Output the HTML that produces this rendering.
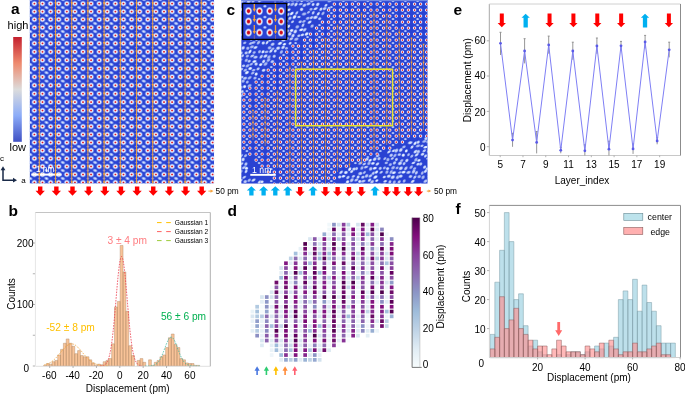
<!DOCTYPE html>
<html><head><meta charset="utf-8"><style>html,body{margin:0;padding:0;background:#fff;width:685px;height:394px;overflow:hidden}svg{display:block;will-change:transform}</style></head>
<body><svg width="685" height="394" viewBox="0 0 685 394" font-family="'Liberation Sans', sans-serif"><defs>
<radialGradient id="ga"><stop offset="0" stop-color="#d01828"/><stop offset="0.15" stop-color="#de3a40"/><stop offset="0.28" stop-color="#eeb8c4"/><stop offset="0.4" stop-color="#eaeefc"/><stop offset="0.54" stop-color="#b4c8f8"/><stop offset="0.72" stop-color="#7896ec" stop-opacity="0.6"/><stop offset="0.88" stop-color="#5070e0" stop-opacity="0.25"/><stop offset="1" stop-color="#2a40d0" stop-opacity="0"/></radialGradient>
<radialGradient id="gd"><stop offset="0" stop-color="#e4ecff"/><stop offset="0.45" stop-color="#a8c0fa" stop-opacity="0.85"/><stop offset="1" stop-color="#3050d8" stop-opacity="0"/></radialGradient>
<radialGradient id="gw"><stop offset="0" stop-color="#f4f6ff"/><stop offset="0.42" stop-color="#d4e0fe"/><stop offset="0.7" stop-color="#90acf4" stop-opacity="0.6"/><stop offset="1" stop-color="#3050d8" stop-opacity="0"/></radialGradient>
<radialGradient id="gc"><stop offset="0" stop-color="#d41424"/><stop offset="0.2" stop-color="#de3440"/><stop offset="0.36" stop-color="#f0b8c2"/><stop offset="0.5" stop-color="#e4ecfe"/><stop offset="0.66" stop-color="#92acf2" stop-opacity="0.75"/><stop offset="0.82" stop-color="#6a88ea" stop-opacity="0.25"/><stop offset="1" stop-color="#2a40d0" stop-opacity="0"/></radialGradient>
<radialGradient id="gi"><stop offset="0" stop-color="#c00818"/><stop offset="0.28" stop-color="#d41a28"/><stop offset="0.42" stop-color="#eea0aa"/><stop offset="0.55" stop-color="#eef0fa"/><stop offset="0.7" stop-color="#a8bef6"/><stop offset="0.86" stop-color="#6a88ea" stop-opacity="0.4"/><stop offset="1" stop-color="#2a40d0" stop-opacity="0"/></radialGradient>
<linearGradient id="cw" x1="0" y1="0" x2="0" y2="1"><stop offset="0" stop-color="#c4202e"/><stop offset="0.25" stop-color="#ee8a6e"/><stop offset="0.5" stop-color="#dcdcdc"/><stop offset="0.75" stop-color="#8cacf8"/><stop offset="1" stop-color="#3f50c4"/></linearGradient>
<linearGradient id="bupu" x1="0" y1="1" x2="0" y2="0"><stop offset="0" stop-color="#f7fcfd"/><stop offset="0.125" stop-color="#e0ecf4"/><stop offset="0.25" stop-color="#bfd3e6"/><stop offset="0.375" stop-color="#9ebcda"/><stop offset="0.5" stop-color="#8c96c6"/><stop offset="0.625" stop-color="#8c6bb1"/><stop offset="0.75" stop-color="#88419d"/><stop offset="0.875" stop-color="#810f7c"/><stop offset="1" stop-color="#4d004b"/></linearGradient>
<filter id="bl" x="-5%" y="-5%" width="110%" height="110%"><feGaussianBlur stdDeviation="0.3"/></filter>
<clipPath id="clipA"><rect x="29.7" y="0" width="184.4" height="183.6"/></clipPath>
<clipPath id="clipC"><rect x="241.2" y="0" width="186.5" height="183.7"/></clipPath>
</defs>
<rect width="685" height="394" fill="#fff"/>
<text x="11" y="14" font-size="15.5" fill="#000" font-weight="bold">a</text>
<text x="18" y="29" font-size="11" fill="#000" text-anchor="middle">high</text>
<rect x="13.2" y="37" width="8.6" height="104.8" fill="url(#cw)"/>
<text x="17.8" y="150.5" font-size="11" fill="#000" text-anchor="middle">low</text>
<text x="2" y="161" font-size="8" fill="#000" text-anchor="middle">c</text>
<path d="M3 168V180.2H15" fill="none" stroke="#1a2a48" stroke-width="1.5"/>
<path d="M3 166.3L0.6 170.3H5.4Z" fill="#1a2a48"/><path d="M17 180.2L13 177.8V182.6Z" fill="#1a2a48"/>
<text x="23.6" y="182.6" font-size="8" fill="#000" text-anchor="middle">a</text>
<g clip-path="url(#clipA)">
<rect x="29.7" y="0" width="184.4" height="183.6" fill="#2a42d2"/>
<ellipse cx="30.3" cy="-0.4" rx="3.4" ry="2.3" transform="rotate(18 30.3 -0.4)" fill="url(#gd)"/>
<ellipse cx="46.5" cy="-0.4" rx="3.4" ry="2.3" transform="rotate(18 46.5 -0.4)" fill="url(#gd)"/>
<ellipse cx="62.8" cy="-0.4" rx="3.4" ry="2.3" transform="rotate(18 62.8 -0.4)" fill="url(#gd)"/>
<ellipse cx="78.9" cy="-0.4" rx="3.4" ry="2.3" transform="rotate(18 78.9 -0.4)" fill="url(#gd)"/>
<ellipse cx="95.1" cy="-0.4" rx="3.4" ry="2.3" transform="rotate(18 95.1 -0.4)" fill="url(#gd)"/>
<ellipse cx="111.3" cy="-0.4" rx="3.4" ry="2.3" transform="rotate(18 111.3 -0.4)" fill="url(#gd)"/>
<ellipse cx="127.5" cy="-0.4" rx="3.4" ry="2.3" transform="rotate(18 127.5 -0.4)" fill="url(#gd)"/>
<ellipse cx="143.8" cy="-0.4" rx="3.4" ry="2.3" transform="rotate(18 143.8 -0.4)" fill="url(#gd)"/>
<ellipse cx="159.9" cy="-0.4" rx="3.4" ry="2.3" transform="rotate(18 159.9 -0.4)" fill="url(#gd)"/>
<ellipse cx="176.1" cy="-0.4" rx="3.4" ry="2.3" transform="rotate(18 176.1 -0.4)" fill="url(#gd)"/>
<ellipse cx="192.3" cy="-0.4" rx="3.4" ry="2.3" transform="rotate(18 192.3 -0.4)" fill="url(#gd)"/>
<ellipse cx="208.6" cy="-0.4" rx="3.4" ry="2.3" transform="rotate(18 208.6 -0.4)" fill="url(#gd)"/>
<ellipse cx="224.8" cy="-0.4" rx="3.4" ry="2.3" transform="rotate(18 224.8 -0.4)" fill="url(#gd)"/>
<ellipse cx="23.1" cy="-0.4" rx="2.4" ry="1.6" fill="url(#gd)" opacity="0.5"/>
<ellipse cx="39.3" cy="-0.4" rx="2.4" ry="1.6" fill="url(#gd)" opacity="0.5"/>
<ellipse cx="55.5" cy="-0.4" rx="2.4" ry="1.6" fill="url(#gd)" opacity="0.5"/>
<ellipse cx="71.7" cy="-0.4" rx="2.4" ry="1.6" fill="url(#gd)" opacity="0.5"/>
<ellipse cx="87.9" cy="-0.4" rx="2.4" ry="1.6" fill="url(#gd)" opacity="0.5"/>
<ellipse cx="104.1" cy="-0.4" rx="2.4" ry="1.6" fill="url(#gd)" opacity="0.5"/>
<ellipse cx="120.3" cy="-0.4" rx="2.4" ry="1.6" fill="url(#gd)" opacity="0.5"/>
<ellipse cx="136.5" cy="-0.4" rx="2.4" ry="1.6" fill="url(#gd)" opacity="0.5"/>
<ellipse cx="152.7" cy="-0.4" rx="2.4" ry="1.6" fill="url(#gd)" opacity="0.5"/>
<ellipse cx="168.9" cy="-0.4" rx="2.4" ry="1.6" fill="url(#gd)" opacity="0.5"/>
<ellipse cx="185.1" cy="-0.4" rx="2.4" ry="1.6" fill="url(#gd)" opacity="0.5"/>
<ellipse cx="201.3" cy="-0.4" rx="2.4" ry="1.6" fill="url(#gd)" opacity="0.5"/>
<ellipse cx="217.5" cy="-0.4" rx="2.4" ry="1.6" fill="url(#gd)" opacity="0.5"/>
<ellipse cx="30.3" cy="7.6" rx="3.4" ry="2.3" transform="rotate(18 30.3 7.6)" fill="url(#gd)"/>
<ellipse cx="46.5" cy="7.6" rx="3.4" ry="2.3" transform="rotate(18 46.5 7.6)" fill="url(#gd)"/>
<ellipse cx="62.8" cy="7.6" rx="3.4" ry="2.3" transform="rotate(18 62.8 7.6)" fill="url(#gd)"/>
<ellipse cx="78.9" cy="7.6" rx="3.4" ry="2.3" transform="rotate(18 78.9 7.6)" fill="url(#gd)"/>
<ellipse cx="95.1" cy="7.6" rx="3.4" ry="2.3" transform="rotate(18 95.1 7.6)" fill="url(#gd)"/>
<ellipse cx="111.3" cy="7.6" rx="3.4" ry="2.3" transform="rotate(18 111.3 7.6)" fill="url(#gd)"/>
<ellipse cx="127.5" cy="7.6" rx="3.4" ry="2.3" transform="rotate(18 127.5 7.6)" fill="url(#gd)"/>
<ellipse cx="143.8" cy="7.6" rx="3.4" ry="2.3" transform="rotate(18 143.8 7.6)" fill="url(#gd)"/>
<ellipse cx="159.9" cy="7.6" rx="3.4" ry="2.3" transform="rotate(18 159.9 7.6)" fill="url(#gd)"/>
<ellipse cx="176.1" cy="7.6" rx="3.4" ry="2.3" transform="rotate(18 176.1 7.6)" fill="url(#gd)"/>
<ellipse cx="192.3" cy="7.6" rx="3.4" ry="2.3" transform="rotate(18 192.3 7.6)" fill="url(#gd)"/>
<ellipse cx="208.6" cy="7.6" rx="3.4" ry="2.3" transform="rotate(18 208.6 7.6)" fill="url(#gd)"/>
<ellipse cx="224.8" cy="7.6" rx="3.4" ry="2.3" transform="rotate(18 224.8 7.6)" fill="url(#gd)"/>
<ellipse cx="23.1" cy="7.6" rx="2.4" ry="1.6" fill="url(#gd)" opacity="0.5"/>
<ellipse cx="39.3" cy="7.6" rx="2.4" ry="1.6" fill="url(#gd)" opacity="0.5"/>
<ellipse cx="55.5" cy="7.6" rx="2.4" ry="1.6" fill="url(#gd)" opacity="0.5"/>
<ellipse cx="71.7" cy="7.6" rx="2.4" ry="1.6" fill="url(#gd)" opacity="0.5"/>
<ellipse cx="87.9" cy="7.6" rx="2.4" ry="1.6" fill="url(#gd)" opacity="0.5"/>
<ellipse cx="104.1" cy="7.6" rx="2.4" ry="1.6" fill="url(#gd)" opacity="0.5"/>
<ellipse cx="120.3" cy="7.6" rx="2.4" ry="1.6" fill="url(#gd)" opacity="0.5"/>
<ellipse cx="136.5" cy="7.6" rx="2.4" ry="1.6" fill="url(#gd)" opacity="0.5"/>
<ellipse cx="152.7" cy="7.6" rx="2.4" ry="1.6" fill="url(#gd)" opacity="0.5"/>
<ellipse cx="168.9" cy="7.6" rx="2.4" ry="1.6" fill="url(#gd)" opacity="0.5"/>
<ellipse cx="185.1" cy="7.6" rx="2.4" ry="1.6" fill="url(#gd)" opacity="0.5"/>
<ellipse cx="201.3" cy="7.6" rx="2.4" ry="1.6" fill="url(#gd)" opacity="0.5"/>
<ellipse cx="217.5" cy="7.6" rx="2.4" ry="1.6" fill="url(#gd)" opacity="0.5"/>
<ellipse cx="30.3" cy="15.5" rx="3.4" ry="2.3" transform="rotate(18 30.3 15.5)" fill="url(#gd)"/>
<ellipse cx="46.5" cy="15.5" rx="3.4" ry="2.3" transform="rotate(18 46.5 15.5)" fill="url(#gd)"/>
<ellipse cx="62.8" cy="15.5" rx="3.4" ry="2.3" transform="rotate(18 62.8 15.5)" fill="url(#gd)"/>
<ellipse cx="78.9" cy="15.5" rx="3.4" ry="2.3" transform="rotate(18 78.9 15.5)" fill="url(#gd)"/>
<ellipse cx="95.1" cy="15.5" rx="3.4" ry="2.3" transform="rotate(18 95.1 15.5)" fill="url(#gd)"/>
<ellipse cx="111.3" cy="15.5" rx="3.4" ry="2.3" transform="rotate(18 111.3 15.5)" fill="url(#gd)"/>
<ellipse cx="127.5" cy="15.5" rx="3.4" ry="2.3" transform="rotate(18 127.5 15.5)" fill="url(#gd)"/>
<ellipse cx="143.8" cy="15.5" rx="3.4" ry="2.3" transform="rotate(18 143.8 15.5)" fill="url(#gd)"/>
<ellipse cx="159.9" cy="15.5" rx="3.4" ry="2.3" transform="rotate(18 159.9 15.5)" fill="url(#gd)"/>
<ellipse cx="176.1" cy="15.5" rx="3.4" ry="2.3" transform="rotate(18 176.1 15.5)" fill="url(#gd)"/>
<ellipse cx="192.3" cy="15.5" rx="3.4" ry="2.3" transform="rotate(18 192.3 15.5)" fill="url(#gd)"/>
<ellipse cx="208.6" cy="15.5" rx="3.4" ry="2.3" transform="rotate(18 208.6 15.5)" fill="url(#gd)"/>
<ellipse cx="224.8" cy="15.5" rx="3.4" ry="2.3" transform="rotate(18 224.8 15.5)" fill="url(#gd)"/>
<ellipse cx="23.1" cy="15.5" rx="2.4" ry="1.6" fill="url(#gd)" opacity="0.5"/>
<ellipse cx="39.3" cy="15.5" rx="2.4" ry="1.6" fill="url(#gd)" opacity="0.5"/>
<ellipse cx="55.5" cy="15.5" rx="2.4" ry="1.6" fill="url(#gd)" opacity="0.5"/>
<ellipse cx="71.7" cy="15.5" rx="2.4" ry="1.6" fill="url(#gd)" opacity="0.5"/>
<ellipse cx="87.9" cy="15.5" rx="2.4" ry="1.6" fill="url(#gd)" opacity="0.5"/>
<ellipse cx="104.1" cy="15.5" rx="2.4" ry="1.6" fill="url(#gd)" opacity="0.5"/>
<ellipse cx="120.3" cy="15.5" rx="2.4" ry="1.6" fill="url(#gd)" opacity="0.5"/>
<ellipse cx="136.5" cy="15.5" rx="2.4" ry="1.6" fill="url(#gd)" opacity="0.5"/>
<ellipse cx="152.7" cy="15.5" rx="2.4" ry="1.6" fill="url(#gd)" opacity="0.5"/>
<ellipse cx="168.9" cy="15.5" rx="2.4" ry="1.6" fill="url(#gd)" opacity="0.5"/>
<ellipse cx="185.1" cy="15.5" rx="2.4" ry="1.6" fill="url(#gd)" opacity="0.5"/>
<ellipse cx="201.3" cy="15.5" rx="2.4" ry="1.6" fill="url(#gd)" opacity="0.5"/>
<ellipse cx="217.5" cy="15.5" rx="2.4" ry="1.6" fill="url(#gd)" opacity="0.5"/>
<ellipse cx="30.3" cy="23.5" rx="3.4" ry="2.3" transform="rotate(18 30.3 23.5)" fill="url(#gd)"/>
<ellipse cx="46.5" cy="23.5" rx="3.4" ry="2.3" transform="rotate(18 46.5 23.5)" fill="url(#gd)"/>
<ellipse cx="62.8" cy="23.5" rx="3.4" ry="2.3" transform="rotate(18 62.8 23.5)" fill="url(#gd)"/>
<ellipse cx="78.9" cy="23.5" rx="3.4" ry="2.3" transform="rotate(18 78.9 23.5)" fill="url(#gd)"/>
<ellipse cx="95.1" cy="23.5" rx="3.4" ry="2.3" transform="rotate(18 95.1 23.5)" fill="url(#gd)"/>
<ellipse cx="111.3" cy="23.5" rx="3.4" ry="2.3" transform="rotate(18 111.3 23.5)" fill="url(#gd)"/>
<ellipse cx="127.5" cy="23.5" rx="3.4" ry="2.3" transform="rotate(18 127.5 23.5)" fill="url(#gd)"/>
<ellipse cx="143.8" cy="23.5" rx="3.4" ry="2.3" transform="rotate(18 143.8 23.5)" fill="url(#gd)"/>
<ellipse cx="159.9" cy="23.5" rx="3.4" ry="2.3" transform="rotate(18 159.9 23.5)" fill="url(#gd)"/>
<ellipse cx="176.1" cy="23.5" rx="3.4" ry="2.3" transform="rotate(18 176.1 23.5)" fill="url(#gd)"/>
<ellipse cx="192.3" cy="23.5" rx="3.4" ry="2.3" transform="rotate(18 192.3 23.5)" fill="url(#gd)"/>
<ellipse cx="208.6" cy="23.5" rx="3.4" ry="2.3" transform="rotate(18 208.6 23.5)" fill="url(#gd)"/>
<ellipse cx="224.8" cy="23.5" rx="3.4" ry="2.3" transform="rotate(18 224.8 23.5)" fill="url(#gd)"/>
<ellipse cx="23.1" cy="23.5" rx="2.4" ry="1.6" fill="url(#gd)" opacity="0.5"/>
<ellipse cx="39.3" cy="23.5" rx="2.4" ry="1.6" fill="url(#gd)" opacity="0.5"/>
<ellipse cx="55.5" cy="23.5" rx="2.4" ry="1.6" fill="url(#gd)" opacity="0.5"/>
<ellipse cx="71.7" cy="23.5" rx="2.4" ry="1.6" fill="url(#gd)" opacity="0.5"/>
<ellipse cx="87.9" cy="23.5" rx="2.4" ry="1.6" fill="url(#gd)" opacity="0.5"/>
<ellipse cx="104.1" cy="23.5" rx="2.4" ry="1.6" fill="url(#gd)" opacity="0.5"/>
<ellipse cx="120.3" cy="23.5" rx="2.4" ry="1.6" fill="url(#gd)" opacity="0.5"/>
<ellipse cx="136.5" cy="23.5" rx="2.4" ry="1.6" fill="url(#gd)" opacity="0.5"/>
<ellipse cx="152.7" cy="23.5" rx="2.4" ry="1.6" fill="url(#gd)" opacity="0.5"/>
<ellipse cx="168.9" cy="23.5" rx="2.4" ry="1.6" fill="url(#gd)" opacity="0.5"/>
<ellipse cx="185.1" cy="23.5" rx="2.4" ry="1.6" fill="url(#gd)" opacity="0.5"/>
<ellipse cx="201.3" cy="23.5" rx="2.4" ry="1.6" fill="url(#gd)" opacity="0.5"/>
<ellipse cx="217.5" cy="23.5" rx="2.4" ry="1.6" fill="url(#gd)" opacity="0.5"/>
<ellipse cx="30.3" cy="31.5" rx="3.4" ry="2.3" transform="rotate(18 30.3 31.5)" fill="url(#gd)"/>
<ellipse cx="46.5" cy="31.5" rx="3.4" ry="2.3" transform="rotate(18 46.5 31.5)" fill="url(#gd)"/>
<ellipse cx="62.8" cy="31.5" rx="3.4" ry="2.3" transform="rotate(18 62.8 31.5)" fill="url(#gd)"/>
<ellipse cx="78.9" cy="31.5" rx="3.4" ry="2.3" transform="rotate(18 78.9 31.5)" fill="url(#gd)"/>
<ellipse cx="95.1" cy="31.5" rx="3.4" ry="2.3" transform="rotate(18 95.1 31.5)" fill="url(#gd)"/>
<ellipse cx="111.3" cy="31.5" rx="3.4" ry="2.3" transform="rotate(18 111.3 31.5)" fill="url(#gd)"/>
<ellipse cx="127.5" cy="31.5" rx="3.4" ry="2.3" transform="rotate(18 127.5 31.5)" fill="url(#gd)"/>
<ellipse cx="143.8" cy="31.5" rx="3.4" ry="2.3" transform="rotate(18 143.8 31.5)" fill="url(#gd)"/>
<ellipse cx="159.9" cy="31.5" rx="3.4" ry="2.3" transform="rotate(18 159.9 31.5)" fill="url(#gd)"/>
<ellipse cx="176.1" cy="31.5" rx="3.4" ry="2.3" transform="rotate(18 176.1 31.5)" fill="url(#gd)"/>
<ellipse cx="192.3" cy="31.5" rx="3.4" ry="2.3" transform="rotate(18 192.3 31.5)" fill="url(#gd)"/>
<ellipse cx="208.6" cy="31.5" rx="3.4" ry="2.3" transform="rotate(18 208.6 31.5)" fill="url(#gd)"/>
<ellipse cx="224.8" cy="31.5" rx="3.4" ry="2.3" transform="rotate(18 224.8 31.5)" fill="url(#gd)"/>
<ellipse cx="23.1" cy="31.5" rx="2.4" ry="1.6" fill="url(#gd)" opacity="0.5"/>
<ellipse cx="39.3" cy="31.5" rx="2.4" ry="1.6" fill="url(#gd)" opacity="0.5"/>
<ellipse cx="55.5" cy="31.5" rx="2.4" ry="1.6" fill="url(#gd)" opacity="0.5"/>
<ellipse cx="71.7" cy="31.5" rx="2.4" ry="1.6" fill="url(#gd)" opacity="0.5"/>
<ellipse cx="87.9" cy="31.5" rx="2.4" ry="1.6" fill="url(#gd)" opacity="0.5"/>
<ellipse cx="104.1" cy="31.5" rx="2.4" ry="1.6" fill="url(#gd)" opacity="0.5"/>
<ellipse cx="120.3" cy="31.5" rx="2.4" ry="1.6" fill="url(#gd)" opacity="0.5"/>
<ellipse cx="136.5" cy="31.5" rx="2.4" ry="1.6" fill="url(#gd)" opacity="0.5"/>
<ellipse cx="152.7" cy="31.5" rx="2.4" ry="1.6" fill="url(#gd)" opacity="0.5"/>
<ellipse cx="168.9" cy="31.5" rx="2.4" ry="1.6" fill="url(#gd)" opacity="0.5"/>
<ellipse cx="185.1" cy="31.5" rx="2.4" ry="1.6" fill="url(#gd)" opacity="0.5"/>
<ellipse cx="201.3" cy="31.5" rx="2.4" ry="1.6" fill="url(#gd)" opacity="0.5"/>
<ellipse cx="217.5" cy="31.5" rx="2.4" ry="1.6" fill="url(#gd)" opacity="0.5"/>
<ellipse cx="30.3" cy="39.4" rx="3.4" ry="2.3" transform="rotate(18 30.3 39.4)" fill="url(#gd)"/>
<ellipse cx="46.5" cy="39.4" rx="3.4" ry="2.3" transform="rotate(18 46.5 39.4)" fill="url(#gd)"/>
<ellipse cx="62.8" cy="39.4" rx="3.4" ry="2.3" transform="rotate(18 62.8 39.4)" fill="url(#gd)"/>
<ellipse cx="78.9" cy="39.4" rx="3.4" ry="2.3" transform="rotate(18 78.9 39.4)" fill="url(#gd)"/>
<ellipse cx="95.1" cy="39.4" rx="3.4" ry="2.3" transform="rotate(18 95.1 39.4)" fill="url(#gd)"/>
<ellipse cx="111.3" cy="39.4" rx="3.4" ry="2.3" transform="rotate(18 111.3 39.4)" fill="url(#gd)"/>
<ellipse cx="127.5" cy="39.4" rx="3.4" ry="2.3" transform="rotate(18 127.5 39.4)" fill="url(#gd)"/>
<ellipse cx="143.8" cy="39.4" rx="3.4" ry="2.3" transform="rotate(18 143.8 39.4)" fill="url(#gd)"/>
<ellipse cx="159.9" cy="39.4" rx="3.4" ry="2.3" transform="rotate(18 159.9 39.4)" fill="url(#gd)"/>
<ellipse cx="176.1" cy="39.4" rx="3.4" ry="2.3" transform="rotate(18 176.1 39.4)" fill="url(#gd)"/>
<ellipse cx="192.3" cy="39.4" rx="3.4" ry="2.3" transform="rotate(18 192.3 39.4)" fill="url(#gd)"/>
<ellipse cx="208.6" cy="39.4" rx="3.4" ry="2.3" transform="rotate(18 208.6 39.4)" fill="url(#gd)"/>
<ellipse cx="224.8" cy="39.4" rx="3.4" ry="2.3" transform="rotate(18 224.8 39.4)" fill="url(#gd)"/>
<ellipse cx="23.1" cy="39.4" rx="2.4" ry="1.6" fill="url(#gd)" opacity="0.5"/>
<ellipse cx="39.3" cy="39.4" rx="2.4" ry="1.6" fill="url(#gd)" opacity="0.5"/>
<ellipse cx="55.5" cy="39.4" rx="2.4" ry="1.6" fill="url(#gd)" opacity="0.5"/>
<ellipse cx="71.7" cy="39.4" rx="2.4" ry="1.6" fill="url(#gd)" opacity="0.5"/>
<ellipse cx="87.9" cy="39.4" rx="2.4" ry="1.6" fill="url(#gd)" opacity="0.5"/>
<ellipse cx="104.1" cy="39.4" rx="2.4" ry="1.6" fill="url(#gd)" opacity="0.5"/>
<ellipse cx="120.3" cy="39.4" rx="2.4" ry="1.6" fill="url(#gd)" opacity="0.5"/>
<ellipse cx="136.5" cy="39.4" rx="2.4" ry="1.6" fill="url(#gd)" opacity="0.5"/>
<ellipse cx="152.7" cy="39.4" rx="2.4" ry="1.6" fill="url(#gd)" opacity="0.5"/>
<ellipse cx="168.9" cy="39.4" rx="2.4" ry="1.6" fill="url(#gd)" opacity="0.5"/>
<ellipse cx="185.1" cy="39.4" rx="2.4" ry="1.6" fill="url(#gd)" opacity="0.5"/>
<ellipse cx="201.3" cy="39.4" rx="2.4" ry="1.6" fill="url(#gd)" opacity="0.5"/>
<ellipse cx="217.5" cy="39.4" rx="2.4" ry="1.6" fill="url(#gd)" opacity="0.5"/>
<ellipse cx="30.3" cy="47.6" rx="3.4" ry="2.3" transform="rotate(18 30.3 47.6)" fill="url(#gd)"/>
<ellipse cx="46.5" cy="47.6" rx="3.4" ry="2.3" transform="rotate(18 46.5 47.6)" fill="url(#gd)"/>
<ellipse cx="62.8" cy="47.6" rx="3.4" ry="2.3" transform="rotate(18 62.8 47.6)" fill="url(#gd)"/>
<ellipse cx="78.9" cy="47.6" rx="3.4" ry="2.3" transform="rotate(18 78.9 47.6)" fill="url(#gd)"/>
<ellipse cx="95.1" cy="47.6" rx="3.4" ry="2.3" transform="rotate(18 95.1 47.6)" fill="url(#gd)"/>
<ellipse cx="111.3" cy="47.6" rx="3.4" ry="2.3" transform="rotate(18 111.3 47.6)" fill="url(#gd)"/>
<ellipse cx="127.5" cy="47.6" rx="3.4" ry="2.3" transform="rotate(18 127.5 47.6)" fill="url(#gd)"/>
<ellipse cx="143.8" cy="47.6" rx="3.4" ry="2.3" transform="rotate(18 143.8 47.6)" fill="url(#gd)"/>
<ellipse cx="159.9" cy="47.6" rx="3.4" ry="2.3" transform="rotate(18 159.9 47.6)" fill="url(#gd)"/>
<ellipse cx="176.1" cy="47.6" rx="3.4" ry="2.3" transform="rotate(18 176.1 47.6)" fill="url(#gd)"/>
<ellipse cx="192.3" cy="47.6" rx="3.4" ry="2.3" transform="rotate(18 192.3 47.6)" fill="url(#gd)"/>
<ellipse cx="208.6" cy="47.6" rx="3.4" ry="2.3" transform="rotate(18 208.6 47.6)" fill="url(#gd)"/>
<ellipse cx="224.8" cy="47.6" rx="3.4" ry="2.3" transform="rotate(18 224.8 47.6)" fill="url(#gd)"/>
<ellipse cx="23.1" cy="47.6" rx="2.4" ry="1.6" fill="url(#gd)" opacity="0.5"/>
<ellipse cx="39.3" cy="47.6" rx="2.4" ry="1.6" fill="url(#gd)" opacity="0.5"/>
<ellipse cx="55.5" cy="47.6" rx="2.4" ry="1.6" fill="url(#gd)" opacity="0.5"/>
<ellipse cx="71.7" cy="47.6" rx="2.4" ry="1.6" fill="url(#gd)" opacity="0.5"/>
<ellipse cx="87.9" cy="47.6" rx="2.4" ry="1.6" fill="url(#gd)" opacity="0.5"/>
<ellipse cx="104.1" cy="47.6" rx="2.4" ry="1.6" fill="url(#gd)" opacity="0.5"/>
<ellipse cx="120.3" cy="47.6" rx="2.4" ry="1.6" fill="url(#gd)" opacity="0.5"/>
<ellipse cx="136.5" cy="47.6" rx="2.4" ry="1.6" fill="url(#gd)" opacity="0.5"/>
<ellipse cx="152.7" cy="47.6" rx="2.4" ry="1.6" fill="url(#gd)" opacity="0.5"/>
<ellipse cx="168.9" cy="47.6" rx="2.4" ry="1.6" fill="url(#gd)" opacity="0.5"/>
<ellipse cx="185.1" cy="47.6" rx="2.4" ry="1.6" fill="url(#gd)" opacity="0.5"/>
<ellipse cx="201.3" cy="47.6" rx="2.4" ry="1.6" fill="url(#gd)" opacity="0.5"/>
<ellipse cx="217.5" cy="47.6" rx="2.4" ry="1.6" fill="url(#gd)" opacity="0.5"/>
<ellipse cx="30.3" cy="56" rx="3.4" ry="2.3" transform="rotate(18 30.3 56)" fill="url(#gd)"/>
<ellipse cx="46.5" cy="56" rx="3.4" ry="2.3" transform="rotate(18 46.5 56)" fill="url(#gd)"/>
<ellipse cx="62.8" cy="56" rx="3.4" ry="2.3" transform="rotate(18 62.8 56)" fill="url(#gd)"/>
<ellipse cx="78.9" cy="56" rx="3.4" ry="2.3" transform="rotate(18 78.9 56)" fill="url(#gd)"/>
<ellipse cx="95.1" cy="56" rx="3.4" ry="2.3" transform="rotate(18 95.1 56)" fill="url(#gd)"/>
<ellipse cx="111.3" cy="56" rx="3.4" ry="2.3" transform="rotate(18 111.3 56)" fill="url(#gd)"/>
<ellipse cx="127.5" cy="56" rx="3.4" ry="2.3" transform="rotate(18 127.5 56)" fill="url(#gd)"/>
<ellipse cx="143.8" cy="56" rx="3.4" ry="2.3" transform="rotate(18 143.8 56)" fill="url(#gd)"/>
<ellipse cx="159.9" cy="56" rx="3.4" ry="2.3" transform="rotate(18 159.9 56)" fill="url(#gd)"/>
<ellipse cx="176.1" cy="56" rx="3.4" ry="2.3" transform="rotate(18 176.1 56)" fill="url(#gd)"/>
<ellipse cx="192.3" cy="56" rx="3.4" ry="2.3" transform="rotate(18 192.3 56)" fill="url(#gd)"/>
<ellipse cx="208.6" cy="56" rx="3.4" ry="2.3" transform="rotate(18 208.6 56)" fill="url(#gd)"/>
<ellipse cx="224.8" cy="56" rx="3.4" ry="2.3" transform="rotate(18 224.8 56)" fill="url(#gd)"/>
<ellipse cx="23.1" cy="56" rx="2.4" ry="1.6" fill="url(#gd)" opacity="0.5"/>
<ellipse cx="39.3" cy="56" rx="2.4" ry="1.6" fill="url(#gd)" opacity="0.5"/>
<ellipse cx="55.5" cy="56" rx="2.4" ry="1.6" fill="url(#gd)" opacity="0.5"/>
<ellipse cx="71.7" cy="56" rx="2.4" ry="1.6" fill="url(#gd)" opacity="0.5"/>
<ellipse cx="87.9" cy="56" rx="2.4" ry="1.6" fill="url(#gd)" opacity="0.5"/>
<ellipse cx="104.1" cy="56" rx="2.4" ry="1.6" fill="url(#gd)" opacity="0.5"/>
<ellipse cx="120.3" cy="56" rx="2.4" ry="1.6" fill="url(#gd)" opacity="0.5"/>
<ellipse cx="136.5" cy="56" rx="2.4" ry="1.6" fill="url(#gd)" opacity="0.5"/>
<ellipse cx="152.7" cy="56" rx="2.4" ry="1.6" fill="url(#gd)" opacity="0.5"/>
<ellipse cx="168.9" cy="56" rx="2.4" ry="1.6" fill="url(#gd)" opacity="0.5"/>
<ellipse cx="185.1" cy="56" rx="2.4" ry="1.6" fill="url(#gd)" opacity="0.5"/>
<ellipse cx="201.3" cy="56" rx="2.4" ry="1.6" fill="url(#gd)" opacity="0.5"/>
<ellipse cx="217.5" cy="56" rx="2.4" ry="1.6" fill="url(#gd)" opacity="0.5"/>
<ellipse cx="30.3" cy="64.4" rx="3.4" ry="2.3" transform="rotate(18 30.3 64.4)" fill="url(#gd)"/>
<ellipse cx="46.5" cy="64.4" rx="3.4" ry="2.3" transform="rotate(18 46.5 64.4)" fill="url(#gd)"/>
<ellipse cx="62.8" cy="64.4" rx="3.4" ry="2.3" transform="rotate(18 62.8 64.4)" fill="url(#gd)"/>
<ellipse cx="78.9" cy="64.4" rx="3.4" ry="2.3" transform="rotate(18 78.9 64.4)" fill="url(#gd)"/>
<ellipse cx="95.1" cy="64.4" rx="3.4" ry="2.3" transform="rotate(18 95.1 64.4)" fill="url(#gd)"/>
<ellipse cx="111.3" cy="64.4" rx="3.4" ry="2.3" transform="rotate(18 111.3 64.4)" fill="url(#gd)"/>
<ellipse cx="127.5" cy="64.4" rx="3.4" ry="2.3" transform="rotate(18 127.5 64.4)" fill="url(#gd)"/>
<ellipse cx="143.8" cy="64.4" rx="3.4" ry="2.3" transform="rotate(18 143.8 64.4)" fill="url(#gd)"/>
<ellipse cx="159.9" cy="64.4" rx="3.4" ry="2.3" transform="rotate(18 159.9 64.4)" fill="url(#gd)"/>
<ellipse cx="176.1" cy="64.4" rx="3.4" ry="2.3" transform="rotate(18 176.1 64.4)" fill="url(#gd)"/>
<ellipse cx="192.3" cy="64.4" rx="3.4" ry="2.3" transform="rotate(18 192.3 64.4)" fill="url(#gd)"/>
<ellipse cx="208.6" cy="64.4" rx="3.4" ry="2.3" transform="rotate(18 208.6 64.4)" fill="url(#gd)"/>
<ellipse cx="224.8" cy="64.4" rx="3.4" ry="2.3" transform="rotate(18 224.8 64.4)" fill="url(#gd)"/>
<ellipse cx="23.1" cy="64.4" rx="2.4" ry="1.6" fill="url(#gd)" opacity="0.5"/>
<ellipse cx="39.3" cy="64.4" rx="2.4" ry="1.6" fill="url(#gd)" opacity="0.5"/>
<ellipse cx="55.5" cy="64.4" rx="2.4" ry="1.6" fill="url(#gd)" opacity="0.5"/>
<ellipse cx="71.7" cy="64.4" rx="2.4" ry="1.6" fill="url(#gd)" opacity="0.5"/>
<ellipse cx="87.9" cy="64.4" rx="2.4" ry="1.6" fill="url(#gd)" opacity="0.5"/>
<ellipse cx="104.1" cy="64.4" rx="2.4" ry="1.6" fill="url(#gd)" opacity="0.5"/>
<ellipse cx="120.3" cy="64.4" rx="2.4" ry="1.6" fill="url(#gd)" opacity="0.5"/>
<ellipse cx="136.5" cy="64.4" rx="2.4" ry="1.6" fill="url(#gd)" opacity="0.5"/>
<ellipse cx="152.7" cy="64.4" rx="2.4" ry="1.6" fill="url(#gd)" opacity="0.5"/>
<ellipse cx="168.9" cy="64.4" rx="2.4" ry="1.6" fill="url(#gd)" opacity="0.5"/>
<ellipse cx="185.1" cy="64.4" rx="2.4" ry="1.6" fill="url(#gd)" opacity="0.5"/>
<ellipse cx="201.3" cy="64.4" rx="2.4" ry="1.6" fill="url(#gd)" opacity="0.5"/>
<ellipse cx="217.5" cy="64.4" rx="2.4" ry="1.6" fill="url(#gd)" opacity="0.5"/>
<ellipse cx="30.3" cy="72.7" rx="3.4" ry="2.3" transform="rotate(18 30.3 72.7)" fill="url(#gd)"/>
<ellipse cx="46.5" cy="72.7" rx="3.4" ry="2.3" transform="rotate(18 46.5 72.7)" fill="url(#gd)"/>
<ellipse cx="62.8" cy="72.7" rx="3.4" ry="2.3" transform="rotate(18 62.8 72.7)" fill="url(#gd)"/>
<ellipse cx="78.9" cy="72.7" rx="3.4" ry="2.3" transform="rotate(18 78.9 72.7)" fill="url(#gd)"/>
<ellipse cx="95.1" cy="72.7" rx="3.4" ry="2.3" transform="rotate(18 95.1 72.7)" fill="url(#gd)"/>
<ellipse cx="111.3" cy="72.7" rx="3.4" ry="2.3" transform="rotate(18 111.3 72.7)" fill="url(#gd)"/>
<ellipse cx="127.5" cy="72.7" rx="3.4" ry="2.3" transform="rotate(18 127.5 72.7)" fill="url(#gd)"/>
<ellipse cx="143.8" cy="72.7" rx="3.4" ry="2.3" transform="rotate(18 143.8 72.7)" fill="url(#gd)"/>
<ellipse cx="159.9" cy="72.7" rx="3.4" ry="2.3" transform="rotate(18 159.9 72.7)" fill="url(#gd)"/>
<ellipse cx="176.1" cy="72.7" rx="3.4" ry="2.3" transform="rotate(18 176.1 72.7)" fill="url(#gd)"/>
<ellipse cx="192.3" cy="72.7" rx="3.4" ry="2.3" transform="rotate(18 192.3 72.7)" fill="url(#gd)"/>
<ellipse cx="208.6" cy="72.7" rx="3.4" ry="2.3" transform="rotate(18 208.6 72.7)" fill="url(#gd)"/>
<ellipse cx="224.8" cy="72.7" rx="3.4" ry="2.3" transform="rotate(18 224.8 72.7)" fill="url(#gd)"/>
<ellipse cx="23.1" cy="72.7" rx="2.4" ry="1.6" fill="url(#gd)" opacity="0.5"/>
<ellipse cx="39.3" cy="72.7" rx="2.4" ry="1.6" fill="url(#gd)" opacity="0.5"/>
<ellipse cx="55.5" cy="72.7" rx="2.4" ry="1.6" fill="url(#gd)" opacity="0.5"/>
<ellipse cx="71.7" cy="72.7" rx="2.4" ry="1.6" fill="url(#gd)" opacity="0.5"/>
<ellipse cx="87.9" cy="72.7" rx="2.4" ry="1.6" fill="url(#gd)" opacity="0.5"/>
<ellipse cx="104.1" cy="72.7" rx="2.4" ry="1.6" fill="url(#gd)" opacity="0.5"/>
<ellipse cx="120.3" cy="72.7" rx="2.4" ry="1.6" fill="url(#gd)" opacity="0.5"/>
<ellipse cx="136.5" cy="72.7" rx="2.4" ry="1.6" fill="url(#gd)" opacity="0.5"/>
<ellipse cx="152.7" cy="72.7" rx="2.4" ry="1.6" fill="url(#gd)" opacity="0.5"/>
<ellipse cx="168.9" cy="72.7" rx="2.4" ry="1.6" fill="url(#gd)" opacity="0.5"/>
<ellipse cx="185.1" cy="72.7" rx="2.4" ry="1.6" fill="url(#gd)" opacity="0.5"/>
<ellipse cx="201.3" cy="72.7" rx="2.4" ry="1.6" fill="url(#gd)" opacity="0.5"/>
<ellipse cx="217.5" cy="72.7" rx="2.4" ry="1.6" fill="url(#gd)" opacity="0.5"/>
<ellipse cx="30.3" cy="81.1" rx="3.4" ry="2.3" transform="rotate(18 30.3 81.1)" fill="url(#gd)"/>
<ellipse cx="46.5" cy="81.1" rx="3.4" ry="2.3" transform="rotate(18 46.5 81.1)" fill="url(#gd)"/>
<ellipse cx="62.8" cy="81.1" rx="3.4" ry="2.3" transform="rotate(18 62.8 81.1)" fill="url(#gd)"/>
<ellipse cx="78.9" cy="81.1" rx="3.4" ry="2.3" transform="rotate(18 78.9 81.1)" fill="url(#gd)"/>
<ellipse cx="95.1" cy="81.1" rx="3.4" ry="2.3" transform="rotate(18 95.1 81.1)" fill="url(#gd)"/>
<ellipse cx="111.3" cy="81.1" rx="3.4" ry="2.3" transform="rotate(18 111.3 81.1)" fill="url(#gd)"/>
<ellipse cx="127.5" cy="81.1" rx="3.4" ry="2.3" transform="rotate(18 127.5 81.1)" fill="url(#gd)"/>
<ellipse cx="143.8" cy="81.1" rx="3.4" ry="2.3" transform="rotate(18 143.8 81.1)" fill="url(#gd)"/>
<ellipse cx="159.9" cy="81.1" rx="3.4" ry="2.3" transform="rotate(18 159.9 81.1)" fill="url(#gd)"/>
<ellipse cx="176.1" cy="81.1" rx="3.4" ry="2.3" transform="rotate(18 176.1 81.1)" fill="url(#gd)"/>
<ellipse cx="192.3" cy="81.1" rx="3.4" ry="2.3" transform="rotate(18 192.3 81.1)" fill="url(#gd)"/>
<ellipse cx="208.6" cy="81.1" rx="3.4" ry="2.3" transform="rotate(18 208.6 81.1)" fill="url(#gd)"/>
<ellipse cx="224.8" cy="81.1" rx="3.4" ry="2.3" transform="rotate(18 224.8 81.1)" fill="url(#gd)"/>
<ellipse cx="23.1" cy="81.1" rx="2.4" ry="1.6" fill="url(#gd)" opacity="0.5"/>
<ellipse cx="39.3" cy="81.1" rx="2.4" ry="1.6" fill="url(#gd)" opacity="0.5"/>
<ellipse cx="55.5" cy="81.1" rx="2.4" ry="1.6" fill="url(#gd)" opacity="0.5"/>
<ellipse cx="71.7" cy="81.1" rx="2.4" ry="1.6" fill="url(#gd)" opacity="0.5"/>
<ellipse cx="87.9" cy="81.1" rx="2.4" ry="1.6" fill="url(#gd)" opacity="0.5"/>
<ellipse cx="104.1" cy="81.1" rx="2.4" ry="1.6" fill="url(#gd)" opacity="0.5"/>
<ellipse cx="120.3" cy="81.1" rx="2.4" ry="1.6" fill="url(#gd)" opacity="0.5"/>
<ellipse cx="136.5" cy="81.1" rx="2.4" ry="1.6" fill="url(#gd)" opacity="0.5"/>
<ellipse cx="152.7" cy="81.1" rx="2.4" ry="1.6" fill="url(#gd)" opacity="0.5"/>
<ellipse cx="168.9" cy="81.1" rx="2.4" ry="1.6" fill="url(#gd)" opacity="0.5"/>
<ellipse cx="185.1" cy="81.1" rx="2.4" ry="1.6" fill="url(#gd)" opacity="0.5"/>
<ellipse cx="201.3" cy="81.1" rx="2.4" ry="1.6" fill="url(#gd)" opacity="0.5"/>
<ellipse cx="217.5" cy="81.1" rx="2.4" ry="1.6" fill="url(#gd)" opacity="0.5"/>
<ellipse cx="30.3" cy="89.5" rx="3.4" ry="2.3" transform="rotate(18 30.3 89.5)" fill="url(#gd)"/>
<ellipse cx="46.5" cy="89.5" rx="3.4" ry="2.3" transform="rotate(18 46.5 89.5)" fill="url(#gd)"/>
<ellipse cx="62.8" cy="89.5" rx="3.4" ry="2.3" transform="rotate(18 62.8 89.5)" fill="url(#gd)"/>
<ellipse cx="78.9" cy="89.5" rx="3.4" ry="2.3" transform="rotate(18 78.9 89.5)" fill="url(#gd)"/>
<ellipse cx="95.1" cy="89.5" rx="3.4" ry="2.3" transform="rotate(18 95.1 89.5)" fill="url(#gd)"/>
<ellipse cx="111.3" cy="89.5" rx="3.4" ry="2.3" transform="rotate(18 111.3 89.5)" fill="url(#gd)"/>
<ellipse cx="127.5" cy="89.5" rx="3.4" ry="2.3" transform="rotate(18 127.5 89.5)" fill="url(#gd)"/>
<ellipse cx="143.8" cy="89.5" rx="3.4" ry="2.3" transform="rotate(18 143.8 89.5)" fill="url(#gd)"/>
<ellipse cx="159.9" cy="89.5" rx="3.4" ry="2.3" transform="rotate(18 159.9 89.5)" fill="url(#gd)"/>
<ellipse cx="176.1" cy="89.5" rx="3.4" ry="2.3" transform="rotate(18 176.1 89.5)" fill="url(#gd)"/>
<ellipse cx="192.3" cy="89.5" rx="3.4" ry="2.3" transform="rotate(18 192.3 89.5)" fill="url(#gd)"/>
<ellipse cx="208.6" cy="89.5" rx="3.4" ry="2.3" transform="rotate(18 208.6 89.5)" fill="url(#gd)"/>
<ellipse cx="224.8" cy="89.5" rx="3.4" ry="2.3" transform="rotate(18 224.8 89.5)" fill="url(#gd)"/>
<ellipse cx="23.1" cy="89.5" rx="2.4" ry="1.6" fill="url(#gd)" opacity="0.5"/>
<ellipse cx="39.3" cy="89.5" rx="2.4" ry="1.6" fill="url(#gd)" opacity="0.5"/>
<ellipse cx="55.5" cy="89.5" rx="2.4" ry="1.6" fill="url(#gd)" opacity="0.5"/>
<ellipse cx="71.7" cy="89.5" rx="2.4" ry="1.6" fill="url(#gd)" opacity="0.5"/>
<ellipse cx="87.9" cy="89.5" rx="2.4" ry="1.6" fill="url(#gd)" opacity="0.5"/>
<ellipse cx="104.1" cy="89.5" rx="2.4" ry="1.6" fill="url(#gd)" opacity="0.5"/>
<ellipse cx="120.3" cy="89.5" rx="2.4" ry="1.6" fill="url(#gd)" opacity="0.5"/>
<ellipse cx="136.5" cy="89.5" rx="2.4" ry="1.6" fill="url(#gd)" opacity="0.5"/>
<ellipse cx="152.7" cy="89.5" rx="2.4" ry="1.6" fill="url(#gd)" opacity="0.5"/>
<ellipse cx="168.9" cy="89.5" rx="2.4" ry="1.6" fill="url(#gd)" opacity="0.5"/>
<ellipse cx="185.1" cy="89.5" rx="2.4" ry="1.6" fill="url(#gd)" opacity="0.5"/>
<ellipse cx="201.3" cy="89.5" rx="2.4" ry="1.6" fill="url(#gd)" opacity="0.5"/>
<ellipse cx="217.5" cy="89.5" rx="2.4" ry="1.6" fill="url(#gd)" opacity="0.5"/>
<ellipse cx="30.3" cy="97.9" rx="3.4" ry="2.3" transform="rotate(18 30.3 97.9)" fill="url(#gd)"/>
<ellipse cx="46.5" cy="97.9" rx="3.4" ry="2.3" transform="rotate(18 46.5 97.9)" fill="url(#gd)"/>
<ellipse cx="62.8" cy="97.9" rx="3.4" ry="2.3" transform="rotate(18 62.8 97.9)" fill="url(#gd)"/>
<ellipse cx="78.9" cy="97.9" rx="3.4" ry="2.3" transform="rotate(18 78.9 97.9)" fill="url(#gd)"/>
<ellipse cx="95.1" cy="97.9" rx="3.4" ry="2.3" transform="rotate(18 95.1 97.9)" fill="url(#gd)"/>
<ellipse cx="111.3" cy="97.9" rx="3.4" ry="2.3" transform="rotate(18 111.3 97.9)" fill="url(#gd)"/>
<ellipse cx="127.5" cy="97.9" rx="3.4" ry="2.3" transform="rotate(18 127.5 97.9)" fill="url(#gd)"/>
<ellipse cx="143.8" cy="97.9" rx="3.4" ry="2.3" transform="rotate(18 143.8 97.9)" fill="url(#gd)"/>
<ellipse cx="159.9" cy="97.9" rx="3.4" ry="2.3" transform="rotate(18 159.9 97.9)" fill="url(#gd)"/>
<ellipse cx="176.1" cy="97.9" rx="3.4" ry="2.3" transform="rotate(18 176.1 97.9)" fill="url(#gd)"/>
<ellipse cx="192.3" cy="97.9" rx="3.4" ry="2.3" transform="rotate(18 192.3 97.9)" fill="url(#gd)"/>
<ellipse cx="208.6" cy="97.9" rx="3.4" ry="2.3" transform="rotate(18 208.6 97.9)" fill="url(#gd)"/>
<ellipse cx="224.8" cy="97.9" rx="3.4" ry="2.3" transform="rotate(18 224.8 97.9)" fill="url(#gd)"/>
<ellipse cx="23.1" cy="97.9" rx="2.4" ry="1.6" fill="url(#gd)" opacity="0.5"/>
<ellipse cx="39.3" cy="97.9" rx="2.4" ry="1.6" fill="url(#gd)" opacity="0.5"/>
<ellipse cx="55.5" cy="97.9" rx="2.4" ry="1.6" fill="url(#gd)" opacity="0.5"/>
<ellipse cx="71.7" cy="97.9" rx="2.4" ry="1.6" fill="url(#gd)" opacity="0.5"/>
<ellipse cx="87.9" cy="97.9" rx="2.4" ry="1.6" fill="url(#gd)" opacity="0.5"/>
<ellipse cx="104.1" cy="97.9" rx="2.4" ry="1.6" fill="url(#gd)" opacity="0.5"/>
<ellipse cx="120.3" cy="97.9" rx="2.4" ry="1.6" fill="url(#gd)" opacity="0.5"/>
<ellipse cx="136.5" cy="97.9" rx="2.4" ry="1.6" fill="url(#gd)" opacity="0.5"/>
<ellipse cx="152.7" cy="97.9" rx="2.4" ry="1.6" fill="url(#gd)" opacity="0.5"/>
<ellipse cx="168.9" cy="97.9" rx="2.4" ry="1.6" fill="url(#gd)" opacity="0.5"/>
<ellipse cx="185.1" cy="97.9" rx="2.4" ry="1.6" fill="url(#gd)" opacity="0.5"/>
<ellipse cx="201.3" cy="97.9" rx="2.4" ry="1.6" fill="url(#gd)" opacity="0.5"/>
<ellipse cx="217.5" cy="97.9" rx="2.4" ry="1.6" fill="url(#gd)" opacity="0.5"/>
<ellipse cx="30.3" cy="106.3" rx="3.4" ry="2.3" transform="rotate(18 30.3 106.3)" fill="url(#gd)"/>
<ellipse cx="46.5" cy="106.3" rx="3.4" ry="2.3" transform="rotate(18 46.5 106.3)" fill="url(#gd)"/>
<ellipse cx="62.8" cy="106.3" rx="3.4" ry="2.3" transform="rotate(18 62.8 106.3)" fill="url(#gd)"/>
<ellipse cx="78.9" cy="106.3" rx="3.4" ry="2.3" transform="rotate(18 78.9 106.3)" fill="url(#gd)"/>
<ellipse cx="95.1" cy="106.3" rx="3.4" ry="2.3" transform="rotate(18 95.1 106.3)" fill="url(#gd)"/>
<ellipse cx="111.3" cy="106.3" rx="3.4" ry="2.3" transform="rotate(18 111.3 106.3)" fill="url(#gd)"/>
<ellipse cx="127.5" cy="106.3" rx="3.4" ry="2.3" transform="rotate(18 127.5 106.3)" fill="url(#gd)"/>
<ellipse cx="143.8" cy="106.3" rx="3.4" ry="2.3" transform="rotate(18 143.8 106.3)" fill="url(#gd)"/>
<ellipse cx="159.9" cy="106.3" rx="3.4" ry="2.3" transform="rotate(18 159.9 106.3)" fill="url(#gd)"/>
<ellipse cx="176.1" cy="106.3" rx="3.4" ry="2.3" transform="rotate(18 176.1 106.3)" fill="url(#gd)"/>
<ellipse cx="192.3" cy="106.3" rx="3.4" ry="2.3" transform="rotate(18 192.3 106.3)" fill="url(#gd)"/>
<ellipse cx="208.6" cy="106.3" rx="3.4" ry="2.3" transform="rotate(18 208.6 106.3)" fill="url(#gd)"/>
<ellipse cx="224.8" cy="106.3" rx="3.4" ry="2.3" transform="rotate(18 224.8 106.3)" fill="url(#gd)"/>
<ellipse cx="23.1" cy="106.3" rx="2.4" ry="1.6" fill="url(#gd)" opacity="0.5"/>
<ellipse cx="39.3" cy="106.3" rx="2.4" ry="1.6" fill="url(#gd)" opacity="0.5"/>
<ellipse cx="55.5" cy="106.3" rx="2.4" ry="1.6" fill="url(#gd)" opacity="0.5"/>
<ellipse cx="71.7" cy="106.3" rx="2.4" ry="1.6" fill="url(#gd)" opacity="0.5"/>
<ellipse cx="87.9" cy="106.3" rx="2.4" ry="1.6" fill="url(#gd)" opacity="0.5"/>
<ellipse cx="104.1" cy="106.3" rx="2.4" ry="1.6" fill="url(#gd)" opacity="0.5"/>
<ellipse cx="120.3" cy="106.3" rx="2.4" ry="1.6" fill="url(#gd)" opacity="0.5"/>
<ellipse cx="136.5" cy="106.3" rx="2.4" ry="1.6" fill="url(#gd)" opacity="0.5"/>
<ellipse cx="152.7" cy="106.3" rx="2.4" ry="1.6" fill="url(#gd)" opacity="0.5"/>
<ellipse cx="168.9" cy="106.3" rx="2.4" ry="1.6" fill="url(#gd)" opacity="0.5"/>
<ellipse cx="185.1" cy="106.3" rx="2.4" ry="1.6" fill="url(#gd)" opacity="0.5"/>
<ellipse cx="201.3" cy="106.3" rx="2.4" ry="1.6" fill="url(#gd)" opacity="0.5"/>
<ellipse cx="217.5" cy="106.3" rx="2.4" ry="1.6" fill="url(#gd)" opacity="0.5"/>
<ellipse cx="30.3" cy="114.5" rx="3.4" ry="2.3" transform="rotate(18 30.3 114.5)" fill="url(#gd)"/>
<ellipse cx="46.5" cy="114.5" rx="3.4" ry="2.3" transform="rotate(18 46.5 114.5)" fill="url(#gd)"/>
<ellipse cx="62.8" cy="114.5" rx="3.4" ry="2.3" transform="rotate(18 62.8 114.5)" fill="url(#gd)"/>
<ellipse cx="78.9" cy="114.5" rx="3.4" ry="2.3" transform="rotate(18 78.9 114.5)" fill="url(#gd)"/>
<ellipse cx="95.1" cy="114.5" rx="3.4" ry="2.3" transform="rotate(18 95.1 114.5)" fill="url(#gd)"/>
<ellipse cx="111.3" cy="114.5" rx="3.4" ry="2.3" transform="rotate(18 111.3 114.5)" fill="url(#gd)"/>
<ellipse cx="127.5" cy="114.5" rx="3.4" ry="2.3" transform="rotate(18 127.5 114.5)" fill="url(#gd)"/>
<ellipse cx="143.8" cy="114.5" rx="3.4" ry="2.3" transform="rotate(18 143.8 114.5)" fill="url(#gd)"/>
<ellipse cx="159.9" cy="114.5" rx="3.4" ry="2.3" transform="rotate(18 159.9 114.5)" fill="url(#gd)"/>
<ellipse cx="176.1" cy="114.5" rx="3.4" ry="2.3" transform="rotate(18 176.1 114.5)" fill="url(#gd)"/>
<ellipse cx="192.3" cy="114.5" rx="3.4" ry="2.3" transform="rotate(18 192.3 114.5)" fill="url(#gd)"/>
<ellipse cx="208.6" cy="114.5" rx="3.4" ry="2.3" transform="rotate(18 208.6 114.5)" fill="url(#gd)"/>
<ellipse cx="224.8" cy="114.5" rx="3.4" ry="2.3" transform="rotate(18 224.8 114.5)" fill="url(#gd)"/>
<ellipse cx="23.1" cy="114.5" rx="2.4" ry="1.6" fill="url(#gd)" opacity="0.5"/>
<ellipse cx="39.3" cy="114.5" rx="2.4" ry="1.6" fill="url(#gd)" opacity="0.5"/>
<ellipse cx="55.5" cy="114.5" rx="2.4" ry="1.6" fill="url(#gd)" opacity="0.5"/>
<ellipse cx="71.7" cy="114.5" rx="2.4" ry="1.6" fill="url(#gd)" opacity="0.5"/>
<ellipse cx="87.9" cy="114.5" rx="2.4" ry="1.6" fill="url(#gd)" opacity="0.5"/>
<ellipse cx="104.1" cy="114.5" rx="2.4" ry="1.6" fill="url(#gd)" opacity="0.5"/>
<ellipse cx="120.3" cy="114.5" rx="2.4" ry="1.6" fill="url(#gd)" opacity="0.5"/>
<ellipse cx="136.5" cy="114.5" rx="2.4" ry="1.6" fill="url(#gd)" opacity="0.5"/>
<ellipse cx="152.7" cy="114.5" rx="2.4" ry="1.6" fill="url(#gd)" opacity="0.5"/>
<ellipse cx="168.9" cy="114.5" rx="2.4" ry="1.6" fill="url(#gd)" opacity="0.5"/>
<ellipse cx="185.1" cy="114.5" rx="2.4" ry="1.6" fill="url(#gd)" opacity="0.5"/>
<ellipse cx="201.3" cy="114.5" rx="2.4" ry="1.6" fill="url(#gd)" opacity="0.5"/>
<ellipse cx="217.5" cy="114.5" rx="2.4" ry="1.6" fill="url(#gd)" opacity="0.5"/>
<ellipse cx="30.3" cy="122.5" rx="3.4" ry="2.3" transform="rotate(18 30.3 122.5)" fill="url(#gd)"/>
<ellipse cx="46.5" cy="122.5" rx="3.4" ry="2.3" transform="rotate(18 46.5 122.5)" fill="url(#gd)"/>
<ellipse cx="62.8" cy="122.5" rx="3.4" ry="2.3" transform="rotate(18 62.8 122.5)" fill="url(#gd)"/>
<ellipse cx="78.9" cy="122.5" rx="3.4" ry="2.3" transform="rotate(18 78.9 122.5)" fill="url(#gd)"/>
<ellipse cx="95.1" cy="122.5" rx="3.4" ry="2.3" transform="rotate(18 95.1 122.5)" fill="url(#gd)"/>
<ellipse cx="111.3" cy="122.5" rx="3.4" ry="2.3" transform="rotate(18 111.3 122.5)" fill="url(#gd)"/>
<ellipse cx="127.5" cy="122.5" rx="3.4" ry="2.3" transform="rotate(18 127.5 122.5)" fill="url(#gd)"/>
<ellipse cx="143.8" cy="122.5" rx="3.4" ry="2.3" transform="rotate(18 143.8 122.5)" fill="url(#gd)"/>
<ellipse cx="159.9" cy="122.5" rx="3.4" ry="2.3" transform="rotate(18 159.9 122.5)" fill="url(#gd)"/>
<ellipse cx="176.1" cy="122.5" rx="3.4" ry="2.3" transform="rotate(18 176.1 122.5)" fill="url(#gd)"/>
<ellipse cx="192.3" cy="122.5" rx="3.4" ry="2.3" transform="rotate(18 192.3 122.5)" fill="url(#gd)"/>
<ellipse cx="208.6" cy="122.5" rx="3.4" ry="2.3" transform="rotate(18 208.6 122.5)" fill="url(#gd)"/>
<ellipse cx="224.8" cy="122.5" rx="3.4" ry="2.3" transform="rotate(18 224.8 122.5)" fill="url(#gd)"/>
<ellipse cx="23.1" cy="122.5" rx="2.4" ry="1.6" fill="url(#gd)" opacity="0.5"/>
<ellipse cx="39.3" cy="122.5" rx="2.4" ry="1.6" fill="url(#gd)" opacity="0.5"/>
<ellipse cx="55.5" cy="122.5" rx="2.4" ry="1.6" fill="url(#gd)" opacity="0.5"/>
<ellipse cx="71.7" cy="122.5" rx="2.4" ry="1.6" fill="url(#gd)" opacity="0.5"/>
<ellipse cx="87.9" cy="122.5" rx="2.4" ry="1.6" fill="url(#gd)" opacity="0.5"/>
<ellipse cx="104.1" cy="122.5" rx="2.4" ry="1.6" fill="url(#gd)" opacity="0.5"/>
<ellipse cx="120.3" cy="122.5" rx="2.4" ry="1.6" fill="url(#gd)" opacity="0.5"/>
<ellipse cx="136.5" cy="122.5" rx="2.4" ry="1.6" fill="url(#gd)" opacity="0.5"/>
<ellipse cx="152.7" cy="122.5" rx="2.4" ry="1.6" fill="url(#gd)" opacity="0.5"/>
<ellipse cx="168.9" cy="122.5" rx="2.4" ry="1.6" fill="url(#gd)" opacity="0.5"/>
<ellipse cx="185.1" cy="122.5" rx="2.4" ry="1.6" fill="url(#gd)" opacity="0.5"/>
<ellipse cx="201.3" cy="122.5" rx="2.4" ry="1.6" fill="url(#gd)" opacity="0.5"/>
<ellipse cx="217.5" cy="122.5" rx="2.4" ry="1.6" fill="url(#gd)" opacity="0.5"/>
<ellipse cx="30.3" cy="130.5" rx="3.4" ry="2.3" transform="rotate(18 30.3 130.5)" fill="url(#gd)"/>
<ellipse cx="46.5" cy="130.5" rx="3.4" ry="2.3" transform="rotate(18 46.5 130.5)" fill="url(#gd)"/>
<ellipse cx="62.8" cy="130.5" rx="3.4" ry="2.3" transform="rotate(18 62.8 130.5)" fill="url(#gd)"/>
<ellipse cx="78.9" cy="130.5" rx="3.4" ry="2.3" transform="rotate(18 78.9 130.5)" fill="url(#gd)"/>
<ellipse cx="95.1" cy="130.5" rx="3.4" ry="2.3" transform="rotate(18 95.1 130.5)" fill="url(#gd)"/>
<ellipse cx="111.3" cy="130.5" rx="3.4" ry="2.3" transform="rotate(18 111.3 130.5)" fill="url(#gd)"/>
<ellipse cx="127.5" cy="130.5" rx="3.4" ry="2.3" transform="rotate(18 127.5 130.5)" fill="url(#gd)"/>
<ellipse cx="143.8" cy="130.5" rx="3.4" ry="2.3" transform="rotate(18 143.8 130.5)" fill="url(#gd)"/>
<ellipse cx="159.9" cy="130.5" rx="3.4" ry="2.3" transform="rotate(18 159.9 130.5)" fill="url(#gd)"/>
<ellipse cx="176.1" cy="130.5" rx="3.4" ry="2.3" transform="rotate(18 176.1 130.5)" fill="url(#gd)"/>
<ellipse cx="192.3" cy="130.5" rx="3.4" ry="2.3" transform="rotate(18 192.3 130.5)" fill="url(#gd)"/>
<ellipse cx="208.6" cy="130.5" rx="3.4" ry="2.3" transform="rotate(18 208.6 130.5)" fill="url(#gd)"/>
<ellipse cx="224.8" cy="130.5" rx="3.4" ry="2.3" transform="rotate(18 224.8 130.5)" fill="url(#gd)"/>
<ellipse cx="23.1" cy="130.5" rx="2.4" ry="1.6" fill="url(#gd)" opacity="0.5"/>
<ellipse cx="39.3" cy="130.5" rx="2.4" ry="1.6" fill="url(#gd)" opacity="0.5"/>
<ellipse cx="55.5" cy="130.5" rx="2.4" ry="1.6" fill="url(#gd)" opacity="0.5"/>
<ellipse cx="71.7" cy="130.5" rx="2.4" ry="1.6" fill="url(#gd)" opacity="0.5"/>
<ellipse cx="87.9" cy="130.5" rx="2.4" ry="1.6" fill="url(#gd)" opacity="0.5"/>
<ellipse cx="104.1" cy="130.5" rx="2.4" ry="1.6" fill="url(#gd)" opacity="0.5"/>
<ellipse cx="120.3" cy="130.5" rx="2.4" ry="1.6" fill="url(#gd)" opacity="0.5"/>
<ellipse cx="136.5" cy="130.5" rx="2.4" ry="1.6" fill="url(#gd)" opacity="0.5"/>
<ellipse cx="152.7" cy="130.5" rx="2.4" ry="1.6" fill="url(#gd)" opacity="0.5"/>
<ellipse cx="168.9" cy="130.5" rx="2.4" ry="1.6" fill="url(#gd)" opacity="0.5"/>
<ellipse cx="185.1" cy="130.5" rx="2.4" ry="1.6" fill="url(#gd)" opacity="0.5"/>
<ellipse cx="201.3" cy="130.5" rx="2.4" ry="1.6" fill="url(#gd)" opacity="0.5"/>
<ellipse cx="217.5" cy="130.5" rx="2.4" ry="1.6" fill="url(#gd)" opacity="0.5"/>
<ellipse cx="30.3" cy="138.5" rx="3.4" ry="2.3" transform="rotate(18 30.3 138.5)" fill="url(#gd)"/>
<ellipse cx="46.5" cy="138.5" rx="3.4" ry="2.3" transform="rotate(18 46.5 138.5)" fill="url(#gd)"/>
<ellipse cx="62.8" cy="138.5" rx="3.4" ry="2.3" transform="rotate(18 62.8 138.5)" fill="url(#gd)"/>
<ellipse cx="78.9" cy="138.5" rx="3.4" ry="2.3" transform="rotate(18 78.9 138.5)" fill="url(#gd)"/>
<ellipse cx="95.1" cy="138.5" rx="3.4" ry="2.3" transform="rotate(18 95.1 138.5)" fill="url(#gd)"/>
<ellipse cx="111.3" cy="138.5" rx="3.4" ry="2.3" transform="rotate(18 111.3 138.5)" fill="url(#gd)"/>
<ellipse cx="127.5" cy="138.5" rx="3.4" ry="2.3" transform="rotate(18 127.5 138.5)" fill="url(#gd)"/>
<ellipse cx="143.8" cy="138.5" rx="3.4" ry="2.3" transform="rotate(18 143.8 138.5)" fill="url(#gd)"/>
<ellipse cx="159.9" cy="138.5" rx="3.4" ry="2.3" transform="rotate(18 159.9 138.5)" fill="url(#gd)"/>
<ellipse cx="176.1" cy="138.5" rx="3.4" ry="2.3" transform="rotate(18 176.1 138.5)" fill="url(#gd)"/>
<ellipse cx="192.3" cy="138.5" rx="3.4" ry="2.3" transform="rotate(18 192.3 138.5)" fill="url(#gd)"/>
<ellipse cx="208.6" cy="138.5" rx="3.4" ry="2.3" transform="rotate(18 208.6 138.5)" fill="url(#gd)"/>
<ellipse cx="224.8" cy="138.5" rx="3.4" ry="2.3" transform="rotate(18 224.8 138.5)" fill="url(#gd)"/>
<ellipse cx="23.1" cy="138.5" rx="2.4" ry="1.6" fill="url(#gd)" opacity="0.5"/>
<ellipse cx="39.3" cy="138.5" rx="2.4" ry="1.6" fill="url(#gd)" opacity="0.5"/>
<ellipse cx="55.5" cy="138.5" rx="2.4" ry="1.6" fill="url(#gd)" opacity="0.5"/>
<ellipse cx="71.7" cy="138.5" rx="2.4" ry="1.6" fill="url(#gd)" opacity="0.5"/>
<ellipse cx="87.9" cy="138.5" rx="2.4" ry="1.6" fill="url(#gd)" opacity="0.5"/>
<ellipse cx="104.1" cy="138.5" rx="2.4" ry="1.6" fill="url(#gd)" opacity="0.5"/>
<ellipse cx="120.3" cy="138.5" rx="2.4" ry="1.6" fill="url(#gd)" opacity="0.5"/>
<ellipse cx="136.5" cy="138.5" rx="2.4" ry="1.6" fill="url(#gd)" opacity="0.5"/>
<ellipse cx="152.7" cy="138.5" rx="2.4" ry="1.6" fill="url(#gd)" opacity="0.5"/>
<ellipse cx="168.9" cy="138.5" rx="2.4" ry="1.6" fill="url(#gd)" opacity="0.5"/>
<ellipse cx="185.1" cy="138.5" rx="2.4" ry="1.6" fill="url(#gd)" opacity="0.5"/>
<ellipse cx="201.3" cy="138.5" rx="2.4" ry="1.6" fill="url(#gd)" opacity="0.5"/>
<ellipse cx="217.5" cy="138.5" rx="2.4" ry="1.6" fill="url(#gd)" opacity="0.5"/>
<ellipse cx="30.3" cy="146.5" rx="3.4" ry="2.3" transform="rotate(18 30.3 146.5)" fill="url(#gd)"/>
<ellipse cx="46.5" cy="146.5" rx="3.4" ry="2.3" transform="rotate(18 46.5 146.5)" fill="url(#gd)"/>
<ellipse cx="62.8" cy="146.5" rx="3.4" ry="2.3" transform="rotate(18 62.8 146.5)" fill="url(#gd)"/>
<ellipse cx="78.9" cy="146.5" rx="3.4" ry="2.3" transform="rotate(18 78.9 146.5)" fill="url(#gd)"/>
<ellipse cx="95.1" cy="146.5" rx="3.4" ry="2.3" transform="rotate(18 95.1 146.5)" fill="url(#gd)"/>
<ellipse cx="111.3" cy="146.5" rx="3.4" ry="2.3" transform="rotate(18 111.3 146.5)" fill="url(#gd)"/>
<ellipse cx="127.5" cy="146.5" rx="3.4" ry="2.3" transform="rotate(18 127.5 146.5)" fill="url(#gd)"/>
<ellipse cx="143.8" cy="146.5" rx="3.4" ry="2.3" transform="rotate(18 143.8 146.5)" fill="url(#gd)"/>
<ellipse cx="159.9" cy="146.5" rx="3.4" ry="2.3" transform="rotate(18 159.9 146.5)" fill="url(#gd)"/>
<ellipse cx="176.1" cy="146.5" rx="3.4" ry="2.3" transform="rotate(18 176.1 146.5)" fill="url(#gd)"/>
<ellipse cx="192.3" cy="146.5" rx="3.4" ry="2.3" transform="rotate(18 192.3 146.5)" fill="url(#gd)"/>
<ellipse cx="208.6" cy="146.5" rx="3.4" ry="2.3" transform="rotate(18 208.6 146.5)" fill="url(#gd)"/>
<ellipse cx="224.8" cy="146.5" rx="3.4" ry="2.3" transform="rotate(18 224.8 146.5)" fill="url(#gd)"/>
<ellipse cx="23.1" cy="146.5" rx="2.4" ry="1.6" fill="url(#gd)" opacity="0.5"/>
<ellipse cx="39.3" cy="146.5" rx="2.4" ry="1.6" fill="url(#gd)" opacity="0.5"/>
<ellipse cx="55.5" cy="146.5" rx="2.4" ry="1.6" fill="url(#gd)" opacity="0.5"/>
<ellipse cx="71.7" cy="146.5" rx="2.4" ry="1.6" fill="url(#gd)" opacity="0.5"/>
<ellipse cx="87.9" cy="146.5" rx="2.4" ry="1.6" fill="url(#gd)" opacity="0.5"/>
<ellipse cx="104.1" cy="146.5" rx="2.4" ry="1.6" fill="url(#gd)" opacity="0.5"/>
<ellipse cx="120.3" cy="146.5" rx="2.4" ry="1.6" fill="url(#gd)" opacity="0.5"/>
<ellipse cx="136.5" cy="146.5" rx="2.4" ry="1.6" fill="url(#gd)" opacity="0.5"/>
<ellipse cx="152.7" cy="146.5" rx="2.4" ry="1.6" fill="url(#gd)" opacity="0.5"/>
<ellipse cx="168.9" cy="146.5" rx="2.4" ry="1.6" fill="url(#gd)" opacity="0.5"/>
<ellipse cx="185.1" cy="146.5" rx="2.4" ry="1.6" fill="url(#gd)" opacity="0.5"/>
<ellipse cx="201.3" cy="146.5" rx="2.4" ry="1.6" fill="url(#gd)" opacity="0.5"/>
<ellipse cx="217.5" cy="146.5" rx="2.4" ry="1.6" fill="url(#gd)" opacity="0.5"/>
<ellipse cx="30.3" cy="154.5" rx="3.4" ry="2.3" transform="rotate(18 30.3 154.5)" fill="url(#gd)"/>
<ellipse cx="46.5" cy="154.5" rx="3.4" ry="2.3" transform="rotate(18 46.5 154.5)" fill="url(#gd)"/>
<ellipse cx="62.8" cy="154.5" rx="3.4" ry="2.3" transform="rotate(18 62.8 154.5)" fill="url(#gd)"/>
<ellipse cx="78.9" cy="154.5" rx="3.4" ry="2.3" transform="rotate(18 78.9 154.5)" fill="url(#gd)"/>
<ellipse cx="95.1" cy="154.5" rx="3.4" ry="2.3" transform="rotate(18 95.1 154.5)" fill="url(#gd)"/>
<ellipse cx="111.3" cy="154.5" rx="3.4" ry="2.3" transform="rotate(18 111.3 154.5)" fill="url(#gd)"/>
<ellipse cx="127.5" cy="154.5" rx="3.4" ry="2.3" transform="rotate(18 127.5 154.5)" fill="url(#gd)"/>
<ellipse cx="143.8" cy="154.5" rx="3.4" ry="2.3" transform="rotate(18 143.8 154.5)" fill="url(#gd)"/>
<ellipse cx="159.9" cy="154.5" rx="3.4" ry="2.3" transform="rotate(18 159.9 154.5)" fill="url(#gd)"/>
<ellipse cx="176.1" cy="154.5" rx="3.4" ry="2.3" transform="rotate(18 176.1 154.5)" fill="url(#gd)"/>
<ellipse cx="192.3" cy="154.5" rx="3.4" ry="2.3" transform="rotate(18 192.3 154.5)" fill="url(#gd)"/>
<ellipse cx="208.6" cy="154.5" rx="3.4" ry="2.3" transform="rotate(18 208.6 154.5)" fill="url(#gd)"/>
<ellipse cx="224.8" cy="154.5" rx="3.4" ry="2.3" transform="rotate(18 224.8 154.5)" fill="url(#gd)"/>
<ellipse cx="23.1" cy="154.5" rx="2.4" ry="1.6" fill="url(#gd)" opacity="0.5"/>
<ellipse cx="39.3" cy="154.5" rx="2.4" ry="1.6" fill="url(#gd)" opacity="0.5"/>
<ellipse cx="55.5" cy="154.5" rx="2.4" ry="1.6" fill="url(#gd)" opacity="0.5"/>
<ellipse cx="71.7" cy="154.5" rx="2.4" ry="1.6" fill="url(#gd)" opacity="0.5"/>
<ellipse cx="87.9" cy="154.5" rx="2.4" ry="1.6" fill="url(#gd)" opacity="0.5"/>
<ellipse cx="104.1" cy="154.5" rx="2.4" ry="1.6" fill="url(#gd)" opacity="0.5"/>
<ellipse cx="120.3" cy="154.5" rx="2.4" ry="1.6" fill="url(#gd)" opacity="0.5"/>
<ellipse cx="136.5" cy="154.5" rx="2.4" ry="1.6" fill="url(#gd)" opacity="0.5"/>
<ellipse cx="152.7" cy="154.5" rx="2.4" ry="1.6" fill="url(#gd)" opacity="0.5"/>
<ellipse cx="168.9" cy="154.5" rx="2.4" ry="1.6" fill="url(#gd)" opacity="0.5"/>
<ellipse cx="185.1" cy="154.5" rx="2.4" ry="1.6" fill="url(#gd)" opacity="0.5"/>
<ellipse cx="201.3" cy="154.5" rx="2.4" ry="1.6" fill="url(#gd)" opacity="0.5"/>
<ellipse cx="217.5" cy="154.5" rx="2.4" ry="1.6" fill="url(#gd)" opacity="0.5"/>
<ellipse cx="30.3" cy="162.5" rx="3.4" ry="2.3" transform="rotate(18 30.3 162.5)" fill="url(#gd)"/>
<ellipse cx="46.5" cy="162.5" rx="3.4" ry="2.3" transform="rotate(18 46.5 162.5)" fill="url(#gd)"/>
<ellipse cx="62.8" cy="162.5" rx="3.4" ry="2.3" transform="rotate(18 62.8 162.5)" fill="url(#gd)"/>
<ellipse cx="78.9" cy="162.5" rx="3.4" ry="2.3" transform="rotate(18 78.9 162.5)" fill="url(#gd)"/>
<ellipse cx="95.1" cy="162.5" rx="3.4" ry="2.3" transform="rotate(18 95.1 162.5)" fill="url(#gd)"/>
<ellipse cx="111.3" cy="162.5" rx="3.4" ry="2.3" transform="rotate(18 111.3 162.5)" fill="url(#gd)"/>
<ellipse cx="127.5" cy="162.5" rx="3.4" ry="2.3" transform="rotate(18 127.5 162.5)" fill="url(#gd)"/>
<ellipse cx="143.8" cy="162.5" rx="3.4" ry="2.3" transform="rotate(18 143.8 162.5)" fill="url(#gd)"/>
<ellipse cx="159.9" cy="162.5" rx="3.4" ry="2.3" transform="rotate(18 159.9 162.5)" fill="url(#gd)"/>
<ellipse cx="176.1" cy="162.5" rx="3.4" ry="2.3" transform="rotate(18 176.1 162.5)" fill="url(#gd)"/>
<ellipse cx="192.3" cy="162.5" rx="3.4" ry="2.3" transform="rotate(18 192.3 162.5)" fill="url(#gd)"/>
<ellipse cx="208.6" cy="162.5" rx="3.4" ry="2.3" transform="rotate(18 208.6 162.5)" fill="url(#gd)"/>
<ellipse cx="224.8" cy="162.5" rx="3.4" ry="2.3" transform="rotate(18 224.8 162.5)" fill="url(#gd)"/>
<ellipse cx="23.1" cy="162.5" rx="2.4" ry="1.6" fill="url(#gd)" opacity="0.5"/>
<ellipse cx="39.3" cy="162.5" rx="2.4" ry="1.6" fill="url(#gd)" opacity="0.5"/>
<ellipse cx="55.5" cy="162.5" rx="2.4" ry="1.6" fill="url(#gd)" opacity="0.5"/>
<ellipse cx="71.7" cy="162.5" rx="2.4" ry="1.6" fill="url(#gd)" opacity="0.5"/>
<ellipse cx="87.9" cy="162.5" rx="2.4" ry="1.6" fill="url(#gd)" opacity="0.5"/>
<ellipse cx="104.1" cy="162.5" rx="2.4" ry="1.6" fill="url(#gd)" opacity="0.5"/>
<ellipse cx="120.3" cy="162.5" rx="2.4" ry="1.6" fill="url(#gd)" opacity="0.5"/>
<ellipse cx="136.5" cy="162.5" rx="2.4" ry="1.6" fill="url(#gd)" opacity="0.5"/>
<ellipse cx="152.7" cy="162.5" rx="2.4" ry="1.6" fill="url(#gd)" opacity="0.5"/>
<ellipse cx="168.9" cy="162.5" rx="2.4" ry="1.6" fill="url(#gd)" opacity="0.5"/>
<ellipse cx="185.1" cy="162.5" rx="2.4" ry="1.6" fill="url(#gd)" opacity="0.5"/>
<ellipse cx="201.3" cy="162.5" rx="2.4" ry="1.6" fill="url(#gd)" opacity="0.5"/>
<ellipse cx="217.5" cy="162.5" rx="2.4" ry="1.6" fill="url(#gd)" opacity="0.5"/>
<ellipse cx="30.3" cy="170.5" rx="3.4" ry="2.3" transform="rotate(18 30.3 170.5)" fill="url(#gd)"/>
<ellipse cx="46.5" cy="170.5" rx="3.4" ry="2.3" transform="rotate(18 46.5 170.5)" fill="url(#gd)"/>
<ellipse cx="62.8" cy="170.5" rx="3.4" ry="2.3" transform="rotate(18 62.8 170.5)" fill="url(#gd)"/>
<ellipse cx="78.9" cy="170.5" rx="3.4" ry="2.3" transform="rotate(18 78.9 170.5)" fill="url(#gd)"/>
<ellipse cx="95.1" cy="170.5" rx="3.4" ry="2.3" transform="rotate(18 95.1 170.5)" fill="url(#gd)"/>
<ellipse cx="111.3" cy="170.5" rx="3.4" ry="2.3" transform="rotate(18 111.3 170.5)" fill="url(#gd)"/>
<ellipse cx="127.5" cy="170.5" rx="3.4" ry="2.3" transform="rotate(18 127.5 170.5)" fill="url(#gd)"/>
<ellipse cx="143.8" cy="170.5" rx="3.4" ry="2.3" transform="rotate(18 143.8 170.5)" fill="url(#gd)"/>
<ellipse cx="159.9" cy="170.5" rx="3.4" ry="2.3" transform="rotate(18 159.9 170.5)" fill="url(#gd)"/>
<ellipse cx="176.1" cy="170.5" rx="3.4" ry="2.3" transform="rotate(18 176.1 170.5)" fill="url(#gd)"/>
<ellipse cx="192.3" cy="170.5" rx="3.4" ry="2.3" transform="rotate(18 192.3 170.5)" fill="url(#gd)"/>
<ellipse cx="208.6" cy="170.5" rx="3.4" ry="2.3" transform="rotate(18 208.6 170.5)" fill="url(#gd)"/>
<ellipse cx="224.8" cy="170.5" rx="3.4" ry="2.3" transform="rotate(18 224.8 170.5)" fill="url(#gd)"/>
<ellipse cx="23.1" cy="170.5" rx="2.4" ry="1.6" fill="url(#gd)" opacity="0.5"/>
<ellipse cx="39.3" cy="170.5" rx="2.4" ry="1.6" fill="url(#gd)" opacity="0.5"/>
<ellipse cx="55.5" cy="170.5" rx="2.4" ry="1.6" fill="url(#gd)" opacity="0.5"/>
<ellipse cx="71.7" cy="170.5" rx="2.4" ry="1.6" fill="url(#gd)" opacity="0.5"/>
<ellipse cx="87.9" cy="170.5" rx="2.4" ry="1.6" fill="url(#gd)" opacity="0.5"/>
<ellipse cx="104.1" cy="170.5" rx="2.4" ry="1.6" fill="url(#gd)" opacity="0.5"/>
<ellipse cx="120.3" cy="170.5" rx="2.4" ry="1.6" fill="url(#gd)" opacity="0.5"/>
<ellipse cx="136.5" cy="170.5" rx="2.4" ry="1.6" fill="url(#gd)" opacity="0.5"/>
<ellipse cx="152.7" cy="170.5" rx="2.4" ry="1.6" fill="url(#gd)" opacity="0.5"/>
<ellipse cx="168.9" cy="170.5" rx="2.4" ry="1.6" fill="url(#gd)" opacity="0.5"/>
<ellipse cx="185.1" cy="170.5" rx="2.4" ry="1.6" fill="url(#gd)" opacity="0.5"/>
<ellipse cx="201.3" cy="170.5" rx="2.4" ry="1.6" fill="url(#gd)" opacity="0.5"/>
<ellipse cx="217.5" cy="170.5" rx="2.4" ry="1.6" fill="url(#gd)" opacity="0.5"/>
<ellipse cx="30.3" cy="178.5" rx="3.4" ry="2.3" transform="rotate(18 30.3 178.5)" fill="url(#gd)"/>
<ellipse cx="46.5" cy="178.5" rx="3.4" ry="2.3" transform="rotate(18 46.5 178.5)" fill="url(#gd)"/>
<ellipse cx="62.8" cy="178.5" rx="3.4" ry="2.3" transform="rotate(18 62.8 178.5)" fill="url(#gd)"/>
<ellipse cx="78.9" cy="178.5" rx="3.4" ry="2.3" transform="rotate(18 78.9 178.5)" fill="url(#gd)"/>
<ellipse cx="95.1" cy="178.5" rx="3.4" ry="2.3" transform="rotate(18 95.1 178.5)" fill="url(#gd)"/>
<ellipse cx="111.3" cy="178.5" rx="3.4" ry="2.3" transform="rotate(18 111.3 178.5)" fill="url(#gd)"/>
<ellipse cx="127.5" cy="178.5" rx="3.4" ry="2.3" transform="rotate(18 127.5 178.5)" fill="url(#gd)"/>
<ellipse cx="143.8" cy="178.5" rx="3.4" ry="2.3" transform="rotate(18 143.8 178.5)" fill="url(#gd)"/>
<ellipse cx="159.9" cy="178.5" rx="3.4" ry="2.3" transform="rotate(18 159.9 178.5)" fill="url(#gd)"/>
<ellipse cx="176.1" cy="178.5" rx="3.4" ry="2.3" transform="rotate(18 176.1 178.5)" fill="url(#gd)"/>
<ellipse cx="192.3" cy="178.5" rx="3.4" ry="2.3" transform="rotate(18 192.3 178.5)" fill="url(#gd)"/>
<ellipse cx="208.6" cy="178.5" rx="3.4" ry="2.3" transform="rotate(18 208.6 178.5)" fill="url(#gd)"/>
<ellipse cx="224.8" cy="178.5" rx="3.4" ry="2.3" transform="rotate(18 224.8 178.5)" fill="url(#gd)"/>
<ellipse cx="23.1" cy="178.5" rx="2.4" ry="1.6" fill="url(#gd)" opacity="0.5"/>
<ellipse cx="39.3" cy="178.5" rx="2.4" ry="1.6" fill="url(#gd)" opacity="0.5"/>
<ellipse cx="55.5" cy="178.5" rx="2.4" ry="1.6" fill="url(#gd)" opacity="0.5"/>
<ellipse cx="71.7" cy="178.5" rx="2.4" ry="1.6" fill="url(#gd)" opacity="0.5"/>
<ellipse cx="87.9" cy="178.5" rx="2.4" ry="1.6" fill="url(#gd)" opacity="0.5"/>
<ellipse cx="104.1" cy="178.5" rx="2.4" ry="1.6" fill="url(#gd)" opacity="0.5"/>
<ellipse cx="120.3" cy="178.5" rx="2.4" ry="1.6" fill="url(#gd)" opacity="0.5"/>
<ellipse cx="136.5" cy="178.5" rx="2.4" ry="1.6" fill="url(#gd)" opacity="0.5"/>
<ellipse cx="152.7" cy="178.5" rx="2.4" ry="1.6" fill="url(#gd)" opacity="0.5"/>
<ellipse cx="168.9" cy="178.5" rx="2.4" ry="1.6" fill="url(#gd)" opacity="0.5"/>
<ellipse cx="185.1" cy="178.5" rx="2.4" ry="1.6" fill="url(#gd)" opacity="0.5"/>
<ellipse cx="201.3" cy="178.5" rx="2.4" ry="1.6" fill="url(#gd)" opacity="0.5"/>
<ellipse cx="217.5" cy="178.5" rx="2.4" ry="1.6" fill="url(#gd)" opacity="0.5"/>
<ellipse cx="30.3" cy="186.5" rx="3.4" ry="2.3" transform="rotate(18 30.3 186.5)" fill="url(#gd)"/>
<ellipse cx="46.5" cy="186.5" rx="3.4" ry="2.3" transform="rotate(18 46.5 186.5)" fill="url(#gd)"/>
<ellipse cx="62.8" cy="186.5" rx="3.4" ry="2.3" transform="rotate(18 62.8 186.5)" fill="url(#gd)"/>
<ellipse cx="78.9" cy="186.5" rx="3.4" ry="2.3" transform="rotate(18 78.9 186.5)" fill="url(#gd)"/>
<ellipse cx="95.1" cy="186.5" rx="3.4" ry="2.3" transform="rotate(18 95.1 186.5)" fill="url(#gd)"/>
<ellipse cx="111.3" cy="186.5" rx="3.4" ry="2.3" transform="rotate(18 111.3 186.5)" fill="url(#gd)"/>
<ellipse cx="127.5" cy="186.5" rx="3.4" ry="2.3" transform="rotate(18 127.5 186.5)" fill="url(#gd)"/>
<ellipse cx="143.8" cy="186.5" rx="3.4" ry="2.3" transform="rotate(18 143.8 186.5)" fill="url(#gd)"/>
<ellipse cx="159.9" cy="186.5" rx="3.4" ry="2.3" transform="rotate(18 159.9 186.5)" fill="url(#gd)"/>
<ellipse cx="176.1" cy="186.5" rx="3.4" ry="2.3" transform="rotate(18 176.1 186.5)" fill="url(#gd)"/>
<ellipse cx="192.3" cy="186.5" rx="3.4" ry="2.3" transform="rotate(18 192.3 186.5)" fill="url(#gd)"/>
<ellipse cx="208.6" cy="186.5" rx="3.4" ry="2.3" transform="rotate(18 208.6 186.5)" fill="url(#gd)"/>
<ellipse cx="224.8" cy="186.5" rx="3.4" ry="2.3" transform="rotate(18 224.8 186.5)" fill="url(#gd)"/>
<ellipse cx="23.1" cy="186.5" rx="2.4" ry="1.6" fill="url(#gd)" opacity="0.5"/>
<ellipse cx="39.3" cy="186.5" rx="2.4" ry="1.6" fill="url(#gd)" opacity="0.5"/>
<ellipse cx="55.5" cy="186.5" rx="2.4" ry="1.6" fill="url(#gd)" opacity="0.5"/>
<ellipse cx="71.7" cy="186.5" rx="2.4" ry="1.6" fill="url(#gd)" opacity="0.5"/>
<ellipse cx="87.9" cy="186.5" rx="2.4" ry="1.6" fill="url(#gd)" opacity="0.5"/>
<ellipse cx="104.1" cy="186.5" rx="2.4" ry="1.6" fill="url(#gd)" opacity="0.5"/>
<ellipse cx="120.3" cy="186.5" rx="2.4" ry="1.6" fill="url(#gd)" opacity="0.5"/>
<ellipse cx="136.5" cy="186.5" rx="2.4" ry="1.6" fill="url(#gd)" opacity="0.5"/>
<ellipse cx="152.7" cy="186.5" rx="2.4" ry="1.6" fill="url(#gd)" opacity="0.5"/>
<ellipse cx="168.9" cy="186.5" rx="2.4" ry="1.6" fill="url(#gd)" opacity="0.5"/>
<ellipse cx="185.1" cy="186.5" rx="2.4" ry="1.6" fill="url(#gd)" opacity="0.5"/>
<ellipse cx="201.3" cy="186.5" rx="2.4" ry="1.6" fill="url(#gd)" opacity="0.5"/>
<ellipse cx="217.5" cy="186.5" rx="2.4" ry="1.6" fill="url(#gd)" opacity="0.5"/>
<ellipse cx="26.3" cy="-4.4" rx="3.8" ry="3.6" fill="url(#ga)"/>
<ellipse cx="34.4" cy="-4.4" rx="3.8" ry="3.6" fill="url(#ga)"/>
<ellipse cx="42.5" cy="-4.4" rx="3.8" ry="3.6" fill="url(#ga)"/>
<ellipse cx="50.6" cy="-4.4" rx="3.8" ry="3.6" fill="url(#ga)"/>
<ellipse cx="58.7" cy="-4.4" rx="3.8" ry="3.6" fill="url(#ga)"/>
<ellipse cx="66.8" cy="-4.4" rx="3.8" ry="3.6" fill="url(#ga)"/>
<ellipse cx="74.9" cy="-4.4" rx="3.8" ry="3.6" fill="url(#ga)"/>
<ellipse cx="83" cy="-4.4" rx="3.8" ry="3.6" fill="url(#ga)"/>
<ellipse cx="91.1" cy="-4.4" rx="3.8" ry="3.6" fill="url(#ga)"/>
<ellipse cx="99.2" cy="-4.4" rx="3.8" ry="3.6" fill="url(#ga)"/>
<ellipse cx="107.3" cy="-4.4" rx="3.8" ry="3.6" fill="url(#ga)"/>
<ellipse cx="115.4" cy="-4.4" rx="3.8" ry="3.6" fill="url(#ga)"/>
<ellipse cx="123.5" cy="-4.4" rx="3.8" ry="3.6" fill="url(#ga)"/>
<ellipse cx="131.6" cy="-4.4" rx="3.8" ry="3.6" fill="url(#ga)"/>
<ellipse cx="139.7" cy="-4.4" rx="3.8" ry="3.6" fill="url(#ga)"/>
<ellipse cx="147.8" cy="-4.4" rx="3.8" ry="3.6" fill="url(#ga)"/>
<ellipse cx="155.9" cy="-4.4" rx="3.8" ry="3.6" fill="url(#ga)"/>
<ellipse cx="164" cy="-4.4" rx="3.8" ry="3.6" fill="url(#ga)"/>
<ellipse cx="172.1" cy="-4.4" rx="3.8" ry="3.6" fill="url(#ga)"/>
<ellipse cx="180.2" cy="-4.4" rx="3.8" ry="3.6" fill="url(#ga)"/>
<ellipse cx="188.3" cy="-4.4" rx="3.8" ry="3.6" fill="url(#ga)"/>
<ellipse cx="196.4" cy="-4.4" rx="3.8" ry="3.6" fill="url(#ga)"/>
<ellipse cx="204.5" cy="-4.4" rx="3.8" ry="3.6" fill="url(#ga)"/>
<ellipse cx="212.6" cy="-4.4" rx="3.8" ry="3.6" fill="url(#ga)"/>
<ellipse cx="220.7" cy="-4.4" rx="3.8" ry="3.6" fill="url(#ga)"/>
<ellipse cx="26.3" cy="3.6" rx="3.8" ry="3.6" fill="url(#ga)"/>
<ellipse cx="34.4" cy="3.6" rx="3.8" ry="3.6" fill="url(#ga)"/>
<ellipse cx="42.5" cy="3.6" rx="3.8" ry="3.6" fill="url(#ga)"/>
<ellipse cx="50.6" cy="3.6" rx="3.8" ry="3.6" fill="url(#ga)"/>
<ellipse cx="58.7" cy="3.6" rx="3.8" ry="3.6" fill="url(#ga)"/>
<ellipse cx="66.8" cy="3.6" rx="3.8" ry="3.6" fill="url(#ga)"/>
<ellipse cx="74.9" cy="3.6" rx="3.8" ry="3.6" fill="url(#ga)"/>
<ellipse cx="83" cy="3.6" rx="3.8" ry="3.6" fill="url(#ga)"/>
<ellipse cx="91.1" cy="3.6" rx="3.8" ry="3.6" fill="url(#ga)"/>
<ellipse cx="99.2" cy="3.6" rx="3.8" ry="3.6" fill="url(#ga)"/>
<ellipse cx="107.3" cy="3.6" rx="3.8" ry="3.6" fill="url(#ga)"/>
<ellipse cx="115.4" cy="3.6" rx="3.8" ry="3.6" fill="url(#ga)"/>
<ellipse cx="123.5" cy="3.6" rx="3.8" ry="3.6" fill="url(#ga)"/>
<ellipse cx="131.6" cy="3.6" rx="3.8" ry="3.6" fill="url(#ga)"/>
<ellipse cx="139.7" cy="3.6" rx="3.8" ry="3.6" fill="url(#ga)"/>
<ellipse cx="147.8" cy="3.6" rx="3.8" ry="3.6" fill="url(#ga)"/>
<ellipse cx="155.9" cy="3.6" rx="3.8" ry="3.6" fill="url(#ga)"/>
<ellipse cx="164" cy="3.6" rx="3.8" ry="3.6" fill="url(#ga)"/>
<ellipse cx="172.1" cy="3.6" rx="3.8" ry="3.6" fill="url(#ga)"/>
<ellipse cx="180.2" cy="3.6" rx="3.8" ry="3.6" fill="url(#ga)"/>
<ellipse cx="188.3" cy="3.6" rx="3.8" ry="3.6" fill="url(#ga)"/>
<ellipse cx="196.4" cy="3.6" rx="3.8" ry="3.6" fill="url(#ga)"/>
<ellipse cx="204.5" cy="3.6" rx="3.8" ry="3.6" fill="url(#ga)"/>
<ellipse cx="212.6" cy="3.6" rx="3.8" ry="3.6" fill="url(#ga)"/>
<ellipse cx="220.7" cy="3.6" rx="3.8" ry="3.6" fill="url(#ga)"/>
<ellipse cx="26.3" cy="11.6" rx="3.8" ry="3.6" fill="url(#ga)"/>
<ellipse cx="34.4" cy="11.6" rx="3.8" ry="3.6" fill="url(#ga)"/>
<ellipse cx="42.5" cy="11.6" rx="3.8" ry="3.6" fill="url(#ga)"/>
<ellipse cx="50.6" cy="11.6" rx="3.8" ry="3.6" fill="url(#ga)"/>
<ellipse cx="58.7" cy="11.6" rx="3.8" ry="3.6" fill="url(#ga)"/>
<ellipse cx="66.8" cy="11.6" rx="3.8" ry="3.6" fill="url(#ga)"/>
<ellipse cx="74.9" cy="11.6" rx="3.8" ry="3.6" fill="url(#ga)"/>
<ellipse cx="83" cy="11.6" rx="3.8" ry="3.6" fill="url(#ga)"/>
<ellipse cx="91.1" cy="11.6" rx="3.8" ry="3.6" fill="url(#ga)"/>
<ellipse cx="99.2" cy="11.6" rx="3.8" ry="3.6" fill="url(#ga)"/>
<ellipse cx="107.3" cy="11.6" rx="3.8" ry="3.6" fill="url(#ga)"/>
<ellipse cx="115.4" cy="11.6" rx="3.8" ry="3.6" fill="url(#ga)"/>
<ellipse cx="123.5" cy="11.6" rx="3.8" ry="3.6" fill="url(#ga)"/>
<ellipse cx="131.6" cy="11.6" rx="3.8" ry="3.6" fill="url(#ga)"/>
<ellipse cx="139.7" cy="11.6" rx="3.8" ry="3.6" fill="url(#ga)"/>
<ellipse cx="147.8" cy="11.6" rx="3.8" ry="3.6" fill="url(#ga)"/>
<ellipse cx="155.9" cy="11.6" rx="3.8" ry="3.6" fill="url(#ga)"/>
<ellipse cx="164" cy="11.6" rx="3.8" ry="3.6" fill="url(#ga)"/>
<ellipse cx="172.1" cy="11.6" rx="3.8" ry="3.6" fill="url(#ga)"/>
<ellipse cx="180.2" cy="11.6" rx="3.8" ry="3.6" fill="url(#ga)"/>
<ellipse cx="188.3" cy="11.6" rx="3.8" ry="3.6" fill="url(#ga)"/>
<ellipse cx="196.4" cy="11.6" rx="3.8" ry="3.6" fill="url(#ga)"/>
<ellipse cx="204.5" cy="11.6" rx="3.8" ry="3.6" fill="url(#ga)"/>
<ellipse cx="212.6" cy="11.6" rx="3.8" ry="3.6" fill="url(#ga)"/>
<ellipse cx="220.7" cy="11.6" rx="3.8" ry="3.6" fill="url(#ga)"/>
<ellipse cx="26.3" cy="19.5" rx="3.8" ry="3.6" fill="url(#ga)"/>
<ellipse cx="34.4" cy="19.5" rx="3.8" ry="3.6" fill="url(#ga)"/>
<ellipse cx="42.5" cy="19.5" rx="3.8" ry="3.6" fill="url(#ga)"/>
<ellipse cx="50.6" cy="19.5" rx="3.8" ry="3.6" fill="url(#ga)"/>
<ellipse cx="58.7" cy="19.5" rx="3.8" ry="3.6" fill="url(#ga)"/>
<ellipse cx="66.8" cy="19.5" rx="3.8" ry="3.6" fill="url(#ga)"/>
<ellipse cx="74.9" cy="19.5" rx="3.8" ry="3.6" fill="url(#ga)"/>
<ellipse cx="83" cy="19.5" rx="3.8" ry="3.6" fill="url(#ga)"/>
<ellipse cx="91.1" cy="19.5" rx="3.8" ry="3.6" fill="url(#ga)"/>
<ellipse cx="99.2" cy="19.5" rx="3.8" ry="3.6" fill="url(#ga)"/>
<ellipse cx="107.3" cy="19.5" rx="3.8" ry="3.6" fill="url(#ga)"/>
<ellipse cx="115.4" cy="19.5" rx="3.8" ry="3.6" fill="url(#ga)"/>
<ellipse cx="123.5" cy="19.5" rx="3.8" ry="3.6" fill="url(#ga)"/>
<ellipse cx="131.6" cy="19.5" rx="3.8" ry="3.6" fill="url(#ga)"/>
<ellipse cx="139.7" cy="19.5" rx="3.8" ry="3.6" fill="url(#ga)"/>
<ellipse cx="147.8" cy="19.5" rx="3.8" ry="3.6" fill="url(#ga)"/>
<ellipse cx="155.9" cy="19.5" rx="3.8" ry="3.6" fill="url(#ga)"/>
<ellipse cx="164" cy="19.5" rx="3.8" ry="3.6" fill="url(#ga)"/>
<ellipse cx="172.1" cy="19.5" rx="3.8" ry="3.6" fill="url(#ga)"/>
<ellipse cx="180.2" cy="19.5" rx="3.8" ry="3.6" fill="url(#ga)"/>
<ellipse cx="188.3" cy="19.5" rx="3.8" ry="3.6" fill="url(#ga)"/>
<ellipse cx="196.4" cy="19.5" rx="3.8" ry="3.6" fill="url(#ga)"/>
<ellipse cx="204.5" cy="19.5" rx="3.8" ry="3.6" fill="url(#ga)"/>
<ellipse cx="212.6" cy="19.5" rx="3.8" ry="3.6" fill="url(#ga)"/>
<ellipse cx="220.7" cy="19.5" rx="3.8" ry="3.6" fill="url(#ga)"/>
<ellipse cx="26.3" cy="27.5" rx="3.8" ry="3.6" fill="url(#ga)"/>
<ellipse cx="34.4" cy="27.5" rx="3.8" ry="3.6" fill="url(#ga)"/>
<ellipse cx="42.5" cy="27.5" rx="3.8" ry="3.6" fill="url(#ga)"/>
<ellipse cx="50.6" cy="27.5" rx="3.8" ry="3.6" fill="url(#ga)"/>
<ellipse cx="58.7" cy="27.5" rx="3.8" ry="3.6" fill="url(#ga)"/>
<ellipse cx="66.8" cy="27.5" rx="3.8" ry="3.6" fill="url(#ga)"/>
<ellipse cx="74.9" cy="27.5" rx="3.8" ry="3.6" fill="url(#ga)"/>
<ellipse cx="83" cy="27.5" rx="3.8" ry="3.6" fill="url(#ga)"/>
<ellipse cx="91.1" cy="27.5" rx="3.8" ry="3.6" fill="url(#ga)"/>
<ellipse cx="99.2" cy="27.5" rx="3.8" ry="3.6" fill="url(#ga)"/>
<ellipse cx="107.3" cy="27.5" rx="3.8" ry="3.6" fill="url(#ga)"/>
<ellipse cx="115.4" cy="27.5" rx="3.8" ry="3.6" fill="url(#ga)"/>
<ellipse cx="123.5" cy="27.5" rx="3.8" ry="3.6" fill="url(#ga)"/>
<ellipse cx="131.6" cy="27.5" rx="3.8" ry="3.6" fill="url(#ga)"/>
<ellipse cx="139.7" cy="27.5" rx="3.8" ry="3.6" fill="url(#ga)"/>
<ellipse cx="147.8" cy="27.5" rx="3.8" ry="3.6" fill="url(#ga)"/>
<ellipse cx="155.9" cy="27.5" rx="3.8" ry="3.6" fill="url(#ga)"/>
<ellipse cx="164" cy="27.5" rx="3.8" ry="3.6" fill="url(#ga)"/>
<ellipse cx="172.1" cy="27.5" rx="3.8" ry="3.6" fill="url(#ga)"/>
<ellipse cx="180.2" cy="27.5" rx="3.8" ry="3.6" fill="url(#ga)"/>
<ellipse cx="188.3" cy="27.5" rx="3.8" ry="3.6" fill="url(#ga)"/>
<ellipse cx="196.4" cy="27.5" rx="3.8" ry="3.6" fill="url(#ga)"/>
<ellipse cx="204.5" cy="27.5" rx="3.8" ry="3.6" fill="url(#ga)"/>
<ellipse cx="212.6" cy="27.5" rx="3.8" ry="3.6" fill="url(#ga)"/>
<ellipse cx="220.7" cy="27.5" rx="3.8" ry="3.6" fill="url(#ga)"/>
<ellipse cx="26.3" cy="35.4" rx="3.8" ry="3.6" fill="url(#ga)"/>
<ellipse cx="34.4" cy="35.4" rx="3.8" ry="3.6" fill="url(#ga)"/>
<ellipse cx="42.5" cy="35.4" rx="3.8" ry="3.6" fill="url(#ga)"/>
<ellipse cx="50.6" cy="35.4" rx="3.8" ry="3.6" fill="url(#ga)"/>
<ellipse cx="58.7" cy="35.4" rx="3.8" ry="3.6" fill="url(#ga)"/>
<ellipse cx="66.8" cy="35.4" rx="3.8" ry="3.6" fill="url(#ga)"/>
<ellipse cx="74.9" cy="35.4" rx="3.8" ry="3.6" fill="url(#ga)"/>
<ellipse cx="83" cy="35.4" rx="3.8" ry="3.6" fill="url(#ga)"/>
<ellipse cx="91.1" cy="35.4" rx="3.8" ry="3.6" fill="url(#ga)"/>
<ellipse cx="99.2" cy="35.4" rx="3.8" ry="3.6" fill="url(#ga)"/>
<ellipse cx="107.3" cy="35.4" rx="3.8" ry="3.6" fill="url(#ga)"/>
<ellipse cx="115.4" cy="35.4" rx="3.8" ry="3.6" fill="url(#ga)"/>
<ellipse cx="123.5" cy="35.4" rx="3.8" ry="3.6" fill="url(#ga)"/>
<ellipse cx="131.6" cy="35.4" rx="3.8" ry="3.6" fill="url(#ga)"/>
<ellipse cx="139.7" cy="35.4" rx="3.8" ry="3.6" fill="url(#ga)"/>
<ellipse cx="147.8" cy="35.4" rx="3.8" ry="3.6" fill="url(#ga)"/>
<ellipse cx="155.9" cy="35.4" rx="3.8" ry="3.6" fill="url(#ga)"/>
<ellipse cx="164" cy="35.4" rx="3.8" ry="3.6" fill="url(#ga)"/>
<ellipse cx="172.1" cy="35.4" rx="3.8" ry="3.6" fill="url(#ga)"/>
<ellipse cx="180.2" cy="35.4" rx="3.8" ry="3.6" fill="url(#ga)"/>
<ellipse cx="188.3" cy="35.4" rx="3.8" ry="3.6" fill="url(#ga)"/>
<ellipse cx="196.4" cy="35.4" rx="3.8" ry="3.6" fill="url(#ga)"/>
<ellipse cx="204.5" cy="35.4" rx="3.8" ry="3.6" fill="url(#ga)"/>
<ellipse cx="212.6" cy="35.4" rx="3.8" ry="3.6" fill="url(#ga)"/>
<ellipse cx="220.7" cy="35.4" rx="3.8" ry="3.6" fill="url(#ga)"/>
<ellipse cx="26.3" cy="43.4" rx="3.8" ry="3.6" fill="url(#ga)"/>
<ellipse cx="34.4" cy="43.4" rx="3.8" ry="3.6" fill="url(#ga)"/>
<ellipse cx="42.5" cy="43.4" rx="3.8" ry="3.6" fill="url(#ga)"/>
<ellipse cx="50.6" cy="43.4" rx="3.8" ry="3.6" fill="url(#ga)"/>
<ellipse cx="58.7" cy="43.4" rx="3.8" ry="3.6" fill="url(#ga)"/>
<ellipse cx="66.8" cy="43.4" rx="3.8" ry="3.6" fill="url(#ga)"/>
<ellipse cx="74.9" cy="43.4" rx="3.8" ry="3.6" fill="url(#ga)"/>
<ellipse cx="83" cy="43.4" rx="3.8" ry="3.6" fill="url(#ga)"/>
<ellipse cx="91.1" cy="43.4" rx="3.8" ry="3.6" fill="url(#ga)"/>
<ellipse cx="99.2" cy="43.4" rx="3.8" ry="3.6" fill="url(#ga)"/>
<ellipse cx="107.3" cy="43.4" rx="3.8" ry="3.6" fill="url(#ga)"/>
<ellipse cx="115.4" cy="43.4" rx="3.8" ry="3.6" fill="url(#ga)"/>
<ellipse cx="123.5" cy="43.4" rx="3.8" ry="3.6" fill="url(#ga)"/>
<ellipse cx="131.6" cy="43.4" rx="3.8" ry="3.6" fill="url(#ga)"/>
<ellipse cx="139.7" cy="43.4" rx="3.8" ry="3.6" fill="url(#ga)"/>
<ellipse cx="147.8" cy="43.4" rx="3.8" ry="3.6" fill="url(#ga)"/>
<ellipse cx="155.9" cy="43.4" rx="3.8" ry="3.6" fill="url(#ga)"/>
<ellipse cx="164" cy="43.4" rx="3.8" ry="3.6" fill="url(#ga)"/>
<ellipse cx="172.1" cy="43.4" rx="3.8" ry="3.6" fill="url(#ga)"/>
<ellipse cx="180.2" cy="43.4" rx="3.8" ry="3.6" fill="url(#ga)"/>
<ellipse cx="188.3" cy="43.4" rx="3.8" ry="3.6" fill="url(#ga)"/>
<ellipse cx="196.4" cy="43.4" rx="3.8" ry="3.6" fill="url(#ga)"/>
<ellipse cx="204.5" cy="43.4" rx="3.8" ry="3.6" fill="url(#ga)"/>
<ellipse cx="212.6" cy="43.4" rx="3.8" ry="3.6" fill="url(#ga)"/>
<ellipse cx="220.7" cy="43.4" rx="3.8" ry="3.6" fill="url(#ga)"/>
<ellipse cx="26.3" cy="51.8" rx="3.8" ry="3.6" fill="url(#ga)"/>
<ellipse cx="34.4" cy="51.8" rx="3.8" ry="3.6" fill="url(#ga)"/>
<ellipse cx="42.5" cy="51.8" rx="3.8" ry="3.6" fill="url(#ga)"/>
<ellipse cx="50.6" cy="51.8" rx="3.8" ry="3.6" fill="url(#ga)"/>
<ellipse cx="58.7" cy="51.8" rx="3.8" ry="3.6" fill="url(#ga)"/>
<ellipse cx="66.8" cy="51.8" rx="3.8" ry="3.6" fill="url(#ga)"/>
<ellipse cx="74.9" cy="51.8" rx="3.8" ry="3.6" fill="url(#ga)"/>
<ellipse cx="83" cy="51.8" rx="3.8" ry="3.6" fill="url(#ga)"/>
<ellipse cx="91.1" cy="51.8" rx="3.8" ry="3.6" fill="url(#ga)"/>
<ellipse cx="99.2" cy="51.8" rx="3.8" ry="3.6" fill="url(#ga)"/>
<ellipse cx="107.3" cy="51.8" rx="3.8" ry="3.6" fill="url(#ga)"/>
<ellipse cx="115.4" cy="51.8" rx="3.8" ry="3.6" fill="url(#ga)"/>
<ellipse cx="123.5" cy="51.8" rx="3.8" ry="3.6" fill="url(#ga)"/>
<ellipse cx="131.6" cy="51.8" rx="3.8" ry="3.6" fill="url(#ga)"/>
<ellipse cx="139.7" cy="51.8" rx="3.8" ry="3.6" fill="url(#ga)"/>
<ellipse cx="147.8" cy="51.8" rx="3.8" ry="3.6" fill="url(#ga)"/>
<ellipse cx="155.9" cy="51.8" rx="3.8" ry="3.6" fill="url(#ga)"/>
<ellipse cx="164" cy="51.8" rx="3.8" ry="3.6" fill="url(#ga)"/>
<ellipse cx="172.1" cy="51.8" rx="3.8" ry="3.6" fill="url(#ga)"/>
<ellipse cx="180.2" cy="51.8" rx="3.8" ry="3.6" fill="url(#ga)"/>
<ellipse cx="188.3" cy="51.8" rx="3.8" ry="3.6" fill="url(#ga)"/>
<ellipse cx="196.4" cy="51.8" rx="3.8" ry="3.6" fill="url(#ga)"/>
<ellipse cx="204.5" cy="51.8" rx="3.8" ry="3.6" fill="url(#ga)"/>
<ellipse cx="212.6" cy="51.8" rx="3.8" ry="3.6" fill="url(#ga)"/>
<ellipse cx="220.7" cy="51.8" rx="3.8" ry="3.6" fill="url(#ga)"/>
<ellipse cx="26.3" cy="60.2" rx="3.8" ry="3.6" fill="url(#ga)"/>
<ellipse cx="34.4" cy="60.2" rx="3.8" ry="3.6" fill="url(#ga)"/>
<ellipse cx="42.5" cy="60.2" rx="3.8" ry="3.6" fill="url(#ga)"/>
<ellipse cx="50.6" cy="60.2" rx="3.8" ry="3.6" fill="url(#ga)"/>
<ellipse cx="58.7" cy="60.2" rx="3.8" ry="3.6" fill="url(#ga)"/>
<ellipse cx="66.8" cy="60.2" rx="3.8" ry="3.6" fill="url(#ga)"/>
<ellipse cx="74.9" cy="60.2" rx="3.8" ry="3.6" fill="url(#ga)"/>
<ellipse cx="83" cy="60.2" rx="3.8" ry="3.6" fill="url(#ga)"/>
<ellipse cx="91.1" cy="60.2" rx="3.8" ry="3.6" fill="url(#ga)"/>
<ellipse cx="99.2" cy="60.2" rx="3.8" ry="3.6" fill="url(#ga)"/>
<ellipse cx="107.3" cy="60.2" rx="3.8" ry="3.6" fill="url(#ga)"/>
<ellipse cx="115.4" cy="60.2" rx="3.8" ry="3.6" fill="url(#ga)"/>
<ellipse cx="123.5" cy="60.2" rx="3.8" ry="3.6" fill="url(#ga)"/>
<ellipse cx="131.6" cy="60.2" rx="3.8" ry="3.6" fill="url(#ga)"/>
<ellipse cx="139.7" cy="60.2" rx="3.8" ry="3.6" fill="url(#ga)"/>
<ellipse cx="147.8" cy="60.2" rx="3.8" ry="3.6" fill="url(#ga)"/>
<ellipse cx="155.9" cy="60.2" rx="3.8" ry="3.6" fill="url(#ga)"/>
<ellipse cx="164" cy="60.2" rx="3.8" ry="3.6" fill="url(#ga)"/>
<ellipse cx="172.1" cy="60.2" rx="3.8" ry="3.6" fill="url(#ga)"/>
<ellipse cx="180.2" cy="60.2" rx="3.8" ry="3.6" fill="url(#ga)"/>
<ellipse cx="188.3" cy="60.2" rx="3.8" ry="3.6" fill="url(#ga)"/>
<ellipse cx="196.4" cy="60.2" rx="3.8" ry="3.6" fill="url(#ga)"/>
<ellipse cx="204.5" cy="60.2" rx="3.8" ry="3.6" fill="url(#ga)"/>
<ellipse cx="212.6" cy="60.2" rx="3.8" ry="3.6" fill="url(#ga)"/>
<ellipse cx="220.7" cy="60.2" rx="3.8" ry="3.6" fill="url(#ga)"/>
<ellipse cx="26.3" cy="68.6" rx="3.8" ry="3.6" fill="url(#ga)"/>
<ellipse cx="34.4" cy="68.6" rx="3.8" ry="3.6" fill="url(#ga)"/>
<ellipse cx="42.5" cy="68.6" rx="3.8" ry="3.6" fill="url(#ga)"/>
<ellipse cx="50.6" cy="68.6" rx="3.8" ry="3.6" fill="url(#ga)"/>
<ellipse cx="58.7" cy="68.6" rx="3.8" ry="3.6" fill="url(#ga)"/>
<ellipse cx="66.8" cy="68.6" rx="3.8" ry="3.6" fill="url(#ga)"/>
<ellipse cx="74.9" cy="68.6" rx="3.8" ry="3.6" fill="url(#ga)"/>
<ellipse cx="83" cy="68.6" rx="3.8" ry="3.6" fill="url(#ga)"/>
<ellipse cx="91.1" cy="68.6" rx="3.8" ry="3.6" fill="url(#ga)"/>
<ellipse cx="99.2" cy="68.6" rx="3.8" ry="3.6" fill="url(#ga)"/>
<ellipse cx="107.3" cy="68.6" rx="3.8" ry="3.6" fill="url(#ga)"/>
<ellipse cx="115.4" cy="68.6" rx="3.8" ry="3.6" fill="url(#ga)"/>
<ellipse cx="123.5" cy="68.6" rx="3.8" ry="3.6" fill="url(#ga)"/>
<ellipse cx="131.6" cy="68.6" rx="3.8" ry="3.6" fill="url(#ga)"/>
<ellipse cx="139.7" cy="68.6" rx="3.8" ry="3.6" fill="url(#ga)"/>
<ellipse cx="147.8" cy="68.6" rx="3.8" ry="3.6" fill="url(#ga)"/>
<ellipse cx="155.9" cy="68.6" rx="3.8" ry="3.6" fill="url(#ga)"/>
<ellipse cx="164" cy="68.6" rx="3.8" ry="3.6" fill="url(#ga)"/>
<ellipse cx="172.1" cy="68.6" rx="3.8" ry="3.6" fill="url(#ga)"/>
<ellipse cx="180.2" cy="68.6" rx="3.8" ry="3.6" fill="url(#ga)"/>
<ellipse cx="188.3" cy="68.6" rx="3.8" ry="3.6" fill="url(#ga)"/>
<ellipse cx="196.4" cy="68.6" rx="3.8" ry="3.6" fill="url(#ga)"/>
<ellipse cx="204.5" cy="68.6" rx="3.8" ry="3.6" fill="url(#ga)"/>
<ellipse cx="212.6" cy="68.6" rx="3.8" ry="3.6" fill="url(#ga)"/>
<ellipse cx="220.7" cy="68.6" rx="3.8" ry="3.6" fill="url(#ga)"/>
<ellipse cx="26.3" cy="76.9" rx="3.8" ry="3.6" fill="url(#ga)"/>
<ellipse cx="34.4" cy="76.9" rx="3.8" ry="3.6" fill="url(#ga)"/>
<ellipse cx="42.5" cy="76.9" rx="3.8" ry="3.6" fill="url(#ga)"/>
<ellipse cx="50.6" cy="76.9" rx="3.8" ry="3.6" fill="url(#ga)"/>
<ellipse cx="58.7" cy="76.9" rx="3.8" ry="3.6" fill="url(#ga)"/>
<ellipse cx="66.8" cy="76.9" rx="3.8" ry="3.6" fill="url(#ga)"/>
<ellipse cx="74.9" cy="76.9" rx="3.8" ry="3.6" fill="url(#ga)"/>
<ellipse cx="83" cy="76.9" rx="3.8" ry="3.6" fill="url(#ga)"/>
<ellipse cx="91.1" cy="76.9" rx="3.8" ry="3.6" fill="url(#ga)"/>
<ellipse cx="99.2" cy="76.9" rx="3.8" ry="3.6" fill="url(#ga)"/>
<ellipse cx="107.3" cy="76.9" rx="3.8" ry="3.6" fill="url(#ga)"/>
<ellipse cx="115.4" cy="76.9" rx="3.8" ry="3.6" fill="url(#ga)"/>
<ellipse cx="123.5" cy="76.9" rx="3.8" ry="3.6" fill="url(#ga)"/>
<ellipse cx="131.6" cy="76.9" rx="3.8" ry="3.6" fill="url(#ga)"/>
<ellipse cx="139.7" cy="76.9" rx="3.8" ry="3.6" fill="url(#ga)"/>
<ellipse cx="147.8" cy="76.9" rx="3.8" ry="3.6" fill="url(#ga)"/>
<ellipse cx="155.9" cy="76.9" rx="3.8" ry="3.6" fill="url(#ga)"/>
<ellipse cx="164" cy="76.9" rx="3.8" ry="3.6" fill="url(#ga)"/>
<ellipse cx="172.1" cy="76.9" rx="3.8" ry="3.6" fill="url(#ga)"/>
<ellipse cx="180.2" cy="76.9" rx="3.8" ry="3.6" fill="url(#ga)"/>
<ellipse cx="188.3" cy="76.9" rx="3.8" ry="3.6" fill="url(#ga)"/>
<ellipse cx="196.4" cy="76.9" rx="3.8" ry="3.6" fill="url(#ga)"/>
<ellipse cx="204.5" cy="76.9" rx="3.8" ry="3.6" fill="url(#ga)"/>
<ellipse cx="212.6" cy="76.9" rx="3.8" ry="3.6" fill="url(#ga)"/>
<ellipse cx="220.7" cy="76.9" rx="3.8" ry="3.6" fill="url(#ga)"/>
<ellipse cx="26.3" cy="85.3" rx="3.8" ry="3.6" fill="url(#ga)"/>
<ellipse cx="34.4" cy="85.3" rx="3.8" ry="3.6" fill="url(#ga)"/>
<ellipse cx="42.5" cy="85.3" rx="3.8" ry="3.6" fill="url(#ga)"/>
<ellipse cx="50.6" cy="85.3" rx="3.8" ry="3.6" fill="url(#ga)"/>
<ellipse cx="58.7" cy="85.3" rx="3.8" ry="3.6" fill="url(#ga)"/>
<ellipse cx="66.8" cy="85.3" rx="3.8" ry="3.6" fill="url(#ga)"/>
<ellipse cx="74.9" cy="85.3" rx="3.8" ry="3.6" fill="url(#ga)"/>
<ellipse cx="83" cy="85.3" rx="3.8" ry="3.6" fill="url(#ga)"/>
<ellipse cx="91.1" cy="85.3" rx="3.8" ry="3.6" fill="url(#ga)"/>
<ellipse cx="99.2" cy="85.3" rx="3.8" ry="3.6" fill="url(#ga)"/>
<ellipse cx="107.3" cy="85.3" rx="3.8" ry="3.6" fill="url(#ga)"/>
<ellipse cx="115.4" cy="85.3" rx="3.8" ry="3.6" fill="url(#ga)"/>
<ellipse cx="123.5" cy="85.3" rx="3.8" ry="3.6" fill="url(#ga)"/>
<ellipse cx="131.6" cy="85.3" rx="3.8" ry="3.6" fill="url(#ga)"/>
<ellipse cx="139.7" cy="85.3" rx="3.8" ry="3.6" fill="url(#ga)"/>
<ellipse cx="147.8" cy="85.3" rx="3.8" ry="3.6" fill="url(#ga)"/>
<ellipse cx="155.9" cy="85.3" rx="3.8" ry="3.6" fill="url(#ga)"/>
<ellipse cx="164" cy="85.3" rx="3.8" ry="3.6" fill="url(#ga)"/>
<ellipse cx="172.1" cy="85.3" rx="3.8" ry="3.6" fill="url(#ga)"/>
<ellipse cx="180.2" cy="85.3" rx="3.8" ry="3.6" fill="url(#ga)"/>
<ellipse cx="188.3" cy="85.3" rx="3.8" ry="3.6" fill="url(#ga)"/>
<ellipse cx="196.4" cy="85.3" rx="3.8" ry="3.6" fill="url(#ga)"/>
<ellipse cx="204.5" cy="85.3" rx="3.8" ry="3.6" fill="url(#ga)"/>
<ellipse cx="212.6" cy="85.3" rx="3.8" ry="3.6" fill="url(#ga)"/>
<ellipse cx="220.7" cy="85.3" rx="3.8" ry="3.6" fill="url(#ga)"/>
<ellipse cx="26.3" cy="93.7" rx="3.8" ry="3.6" fill="url(#ga)"/>
<ellipse cx="34.4" cy="93.7" rx="3.8" ry="3.6" fill="url(#ga)"/>
<ellipse cx="42.5" cy="93.7" rx="3.8" ry="3.6" fill="url(#ga)"/>
<ellipse cx="50.6" cy="93.7" rx="3.8" ry="3.6" fill="url(#ga)"/>
<ellipse cx="58.7" cy="93.7" rx="3.8" ry="3.6" fill="url(#ga)"/>
<ellipse cx="66.8" cy="93.7" rx="3.8" ry="3.6" fill="url(#ga)"/>
<ellipse cx="74.9" cy="93.7" rx="3.8" ry="3.6" fill="url(#ga)"/>
<ellipse cx="83" cy="93.7" rx="3.8" ry="3.6" fill="url(#ga)"/>
<ellipse cx="91.1" cy="93.7" rx="3.8" ry="3.6" fill="url(#ga)"/>
<ellipse cx="99.2" cy="93.7" rx="3.8" ry="3.6" fill="url(#ga)"/>
<ellipse cx="107.3" cy="93.7" rx="3.8" ry="3.6" fill="url(#ga)"/>
<ellipse cx="115.4" cy="93.7" rx="3.8" ry="3.6" fill="url(#ga)"/>
<ellipse cx="123.5" cy="93.7" rx="3.8" ry="3.6" fill="url(#ga)"/>
<ellipse cx="131.6" cy="93.7" rx="3.8" ry="3.6" fill="url(#ga)"/>
<ellipse cx="139.7" cy="93.7" rx="3.8" ry="3.6" fill="url(#ga)"/>
<ellipse cx="147.8" cy="93.7" rx="3.8" ry="3.6" fill="url(#ga)"/>
<ellipse cx="155.9" cy="93.7" rx="3.8" ry="3.6" fill="url(#ga)"/>
<ellipse cx="164" cy="93.7" rx="3.8" ry="3.6" fill="url(#ga)"/>
<ellipse cx="172.1" cy="93.7" rx="3.8" ry="3.6" fill="url(#ga)"/>
<ellipse cx="180.2" cy="93.7" rx="3.8" ry="3.6" fill="url(#ga)"/>
<ellipse cx="188.3" cy="93.7" rx="3.8" ry="3.6" fill="url(#ga)"/>
<ellipse cx="196.4" cy="93.7" rx="3.8" ry="3.6" fill="url(#ga)"/>
<ellipse cx="204.5" cy="93.7" rx="3.8" ry="3.6" fill="url(#ga)"/>
<ellipse cx="212.6" cy="93.7" rx="3.8" ry="3.6" fill="url(#ga)"/>
<ellipse cx="220.7" cy="93.7" rx="3.8" ry="3.6" fill="url(#ga)"/>
<ellipse cx="26.3" cy="102.1" rx="3.8" ry="3.6" fill="url(#ga)"/>
<ellipse cx="34.4" cy="102.1" rx="3.8" ry="3.6" fill="url(#ga)"/>
<ellipse cx="42.5" cy="102.1" rx="3.8" ry="3.6" fill="url(#ga)"/>
<ellipse cx="50.6" cy="102.1" rx="3.8" ry="3.6" fill="url(#ga)"/>
<ellipse cx="58.7" cy="102.1" rx="3.8" ry="3.6" fill="url(#ga)"/>
<ellipse cx="66.8" cy="102.1" rx="3.8" ry="3.6" fill="url(#ga)"/>
<ellipse cx="74.9" cy="102.1" rx="3.8" ry="3.6" fill="url(#ga)"/>
<ellipse cx="83" cy="102.1" rx="3.8" ry="3.6" fill="url(#ga)"/>
<ellipse cx="91.1" cy="102.1" rx="3.8" ry="3.6" fill="url(#ga)"/>
<ellipse cx="99.2" cy="102.1" rx="3.8" ry="3.6" fill="url(#ga)"/>
<ellipse cx="107.3" cy="102.1" rx="3.8" ry="3.6" fill="url(#ga)"/>
<ellipse cx="115.4" cy="102.1" rx="3.8" ry="3.6" fill="url(#ga)"/>
<ellipse cx="123.5" cy="102.1" rx="3.8" ry="3.6" fill="url(#ga)"/>
<ellipse cx="131.6" cy="102.1" rx="3.8" ry="3.6" fill="url(#ga)"/>
<ellipse cx="139.7" cy="102.1" rx="3.8" ry="3.6" fill="url(#ga)"/>
<ellipse cx="147.8" cy="102.1" rx="3.8" ry="3.6" fill="url(#ga)"/>
<ellipse cx="155.9" cy="102.1" rx="3.8" ry="3.6" fill="url(#ga)"/>
<ellipse cx="164" cy="102.1" rx="3.8" ry="3.6" fill="url(#ga)"/>
<ellipse cx="172.1" cy="102.1" rx="3.8" ry="3.6" fill="url(#ga)"/>
<ellipse cx="180.2" cy="102.1" rx="3.8" ry="3.6" fill="url(#ga)"/>
<ellipse cx="188.3" cy="102.1" rx="3.8" ry="3.6" fill="url(#ga)"/>
<ellipse cx="196.4" cy="102.1" rx="3.8" ry="3.6" fill="url(#ga)"/>
<ellipse cx="204.5" cy="102.1" rx="3.8" ry="3.6" fill="url(#ga)"/>
<ellipse cx="212.6" cy="102.1" rx="3.8" ry="3.6" fill="url(#ga)"/>
<ellipse cx="220.7" cy="102.1" rx="3.8" ry="3.6" fill="url(#ga)"/>
<ellipse cx="26.3" cy="110.5" rx="3.8" ry="3.6" fill="url(#ga)"/>
<ellipse cx="34.4" cy="110.5" rx="3.8" ry="3.6" fill="url(#ga)"/>
<ellipse cx="42.5" cy="110.5" rx="3.8" ry="3.6" fill="url(#ga)"/>
<ellipse cx="50.6" cy="110.5" rx="3.8" ry="3.6" fill="url(#ga)"/>
<ellipse cx="58.7" cy="110.5" rx="3.8" ry="3.6" fill="url(#ga)"/>
<ellipse cx="66.8" cy="110.5" rx="3.8" ry="3.6" fill="url(#ga)"/>
<ellipse cx="74.9" cy="110.5" rx="3.8" ry="3.6" fill="url(#ga)"/>
<ellipse cx="83" cy="110.5" rx="3.8" ry="3.6" fill="url(#ga)"/>
<ellipse cx="91.1" cy="110.5" rx="3.8" ry="3.6" fill="url(#ga)"/>
<ellipse cx="99.2" cy="110.5" rx="3.8" ry="3.6" fill="url(#ga)"/>
<ellipse cx="107.3" cy="110.5" rx="3.8" ry="3.6" fill="url(#ga)"/>
<ellipse cx="115.4" cy="110.5" rx="3.8" ry="3.6" fill="url(#ga)"/>
<ellipse cx="123.5" cy="110.5" rx="3.8" ry="3.6" fill="url(#ga)"/>
<ellipse cx="131.6" cy="110.5" rx="3.8" ry="3.6" fill="url(#ga)"/>
<ellipse cx="139.7" cy="110.5" rx="3.8" ry="3.6" fill="url(#ga)"/>
<ellipse cx="147.8" cy="110.5" rx="3.8" ry="3.6" fill="url(#ga)"/>
<ellipse cx="155.9" cy="110.5" rx="3.8" ry="3.6" fill="url(#ga)"/>
<ellipse cx="164" cy="110.5" rx="3.8" ry="3.6" fill="url(#ga)"/>
<ellipse cx="172.1" cy="110.5" rx="3.8" ry="3.6" fill="url(#ga)"/>
<ellipse cx="180.2" cy="110.5" rx="3.8" ry="3.6" fill="url(#ga)"/>
<ellipse cx="188.3" cy="110.5" rx="3.8" ry="3.6" fill="url(#ga)"/>
<ellipse cx="196.4" cy="110.5" rx="3.8" ry="3.6" fill="url(#ga)"/>
<ellipse cx="204.5" cy="110.5" rx="3.8" ry="3.6" fill="url(#ga)"/>
<ellipse cx="212.6" cy="110.5" rx="3.8" ry="3.6" fill="url(#ga)"/>
<ellipse cx="220.7" cy="110.5" rx="3.8" ry="3.6" fill="url(#ga)"/>
<ellipse cx="26.3" cy="118.5" rx="3.8" ry="3.6" fill="url(#ga)"/>
<ellipse cx="34.4" cy="118.5" rx="3.8" ry="3.6" fill="url(#ga)"/>
<ellipse cx="42.5" cy="118.5" rx="3.8" ry="3.6" fill="url(#ga)"/>
<ellipse cx="50.6" cy="118.5" rx="3.8" ry="3.6" fill="url(#ga)"/>
<ellipse cx="58.7" cy="118.5" rx="3.8" ry="3.6" fill="url(#ga)"/>
<ellipse cx="66.8" cy="118.5" rx="3.8" ry="3.6" fill="url(#ga)"/>
<ellipse cx="74.9" cy="118.5" rx="3.8" ry="3.6" fill="url(#ga)"/>
<ellipse cx="83" cy="118.5" rx="3.8" ry="3.6" fill="url(#ga)"/>
<ellipse cx="91.1" cy="118.5" rx="3.8" ry="3.6" fill="url(#ga)"/>
<ellipse cx="99.2" cy="118.5" rx="3.8" ry="3.6" fill="url(#ga)"/>
<ellipse cx="107.3" cy="118.5" rx="3.8" ry="3.6" fill="url(#ga)"/>
<ellipse cx="115.4" cy="118.5" rx="3.8" ry="3.6" fill="url(#ga)"/>
<ellipse cx="123.5" cy="118.5" rx="3.8" ry="3.6" fill="url(#ga)"/>
<ellipse cx="131.6" cy="118.5" rx="3.8" ry="3.6" fill="url(#ga)"/>
<ellipse cx="139.7" cy="118.5" rx="3.8" ry="3.6" fill="url(#ga)"/>
<ellipse cx="147.8" cy="118.5" rx="3.8" ry="3.6" fill="url(#ga)"/>
<ellipse cx="155.9" cy="118.5" rx="3.8" ry="3.6" fill="url(#ga)"/>
<ellipse cx="164" cy="118.5" rx="3.8" ry="3.6" fill="url(#ga)"/>
<ellipse cx="172.1" cy="118.5" rx="3.8" ry="3.6" fill="url(#ga)"/>
<ellipse cx="180.2" cy="118.5" rx="3.8" ry="3.6" fill="url(#ga)"/>
<ellipse cx="188.3" cy="118.5" rx="3.8" ry="3.6" fill="url(#ga)"/>
<ellipse cx="196.4" cy="118.5" rx="3.8" ry="3.6" fill="url(#ga)"/>
<ellipse cx="204.5" cy="118.5" rx="3.8" ry="3.6" fill="url(#ga)"/>
<ellipse cx="212.6" cy="118.5" rx="3.8" ry="3.6" fill="url(#ga)"/>
<ellipse cx="220.7" cy="118.5" rx="3.8" ry="3.6" fill="url(#ga)"/>
<ellipse cx="26.3" cy="126.5" rx="3.8" ry="3.6" fill="url(#ga)"/>
<ellipse cx="34.4" cy="126.5" rx="3.8" ry="3.6" fill="url(#ga)"/>
<ellipse cx="42.5" cy="126.5" rx="3.8" ry="3.6" fill="url(#ga)"/>
<ellipse cx="50.6" cy="126.5" rx="3.8" ry="3.6" fill="url(#ga)"/>
<ellipse cx="58.7" cy="126.5" rx="3.8" ry="3.6" fill="url(#ga)"/>
<ellipse cx="66.8" cy="126.5" rx="3.8" ry="3.6" fill="url(#ga)"/>
<ellipse cx="74.9" cy="126.5" rx="3.8" ry="3.6" fill="url(#ga)"/>
<ellipse cx="83" cy="126.5" rx="3.8" ry="3.6" fill="url(#ga)"/>
<ellipse cx="91.1" cy="126.5" rx="3.8" ry="3.6" fill="url(#ga)"/>
<ellipse cx="99.2" cy="126.5" rx="3.8" ry="3.6" fill="url(#ga)"/>
<ellipse cx="107.3" cy="126.5" rx="3.8" ry="3.6" fill="url(#ga)"/>
<ellipse cx="115.4" cy="126.5" rx="3.8" ry="3.6" fill="url(#ga)"/>
<ellipse cx="123.5" cy="126.5" rx="3.8" ry="3.6" fill="url(#ga)"/>
<ellipse cx="131.6" cy="126.5" rx="3.8" ry="3.6" fill="url(#ga)"/>
<ellipse cx="139.7" cy="126.5" rx="3.8" ry="3.6" fill="url(#ga)"/>
<ellipse cx="147.8" cy="126.5" rx="3.8" ry="3.6" fill="url(#ga)"/>
<ellipse cx="155.9" cy="126.5" rx="3.8" ry="3.6" fill="url(#ga)"/>
<ellipse cx="164" cy="126.5" rx="3.8" ry="3.6" fill="url(#ga)"/>
<ellipse cx="172.1" cy="126.5" rx="3.8" ry="3.6" fill="url(#ga)"/>
<ellipse cx="180.2" cy="126.5" rx="3.8" ry="3.6" fill="url(#ga)"/>
<ellipse cx="188.3" cy="126.5" rx="3.8" ry="3.6" fill="url(#ga)"/>
<ellipse cx="196.4" cy="126.5" rx="3.8" ry="3.6" fill="url(#ga)"/>
<ellipse cx="204.5" cy="126.5" rx="3.8" ry="3.6" fill="url(#ga)"/>
<ellipse cx="212.6" cy="126.5" rx="3.8" ry="3.6" fill="url(#ga)"/>
<ellipse cx="220.7" cy="126.5" rx="3.8" ry="3.6" fill="url(#ga)"/>
<ellipse cx="26.3" cy="134.5" rx="3.8" ry="3.6" fill="url(#ga)"/>
<ellipse cx="34.4" cy="134.5" rx="3.8" ry="3.6" fill="url(#ga)"/>
<ellipse cx="42.5" cy="134.5" rx="3.8" ry="3.6" fill="url(#ga)"/>
<ellipse cx="50.6" cy="134.5" rx="3.8" ry="3.6" fill="url(#ga)"/>
<ellipse cx="58.7" cy="134.5" rx="3.8" ry="3.6" fill="url(#ga)"/>
<ellipse cx="66.8" cy="134.5" rx="3.8" ry="3.6" fill="url(#ga)"/>
<ellipse cx="74.9" cy="134.5" rx="3.8" ry="3.6" fill="url(#ga)"/>
<ellipse cx="83" cy="134.5" rx="3.8" ry="3.6" fill="url(#ga)"/>
<ellipse cx="91.1" cy="134.5" rx="3.8" ry="3.6" fill="url(#ga)"/>
<ellipse cx="99.2" cy="134.5" rx="3.8" ry="3.6" fill="url(#ga)"/>
<ellipse cx="107.3" cy="134.5" rx="3.8" ry="3.6" fill="url(#ga)"/>
<ellipse cx="115.4" cy="134.5" rx="3.8" ry="3.6" fill="url(#ga)"/>
<ellipse cx="123.5" cy="134.5" rx="3.8" ry="3.6" fill="url(#ga)"/>
<ellipse cx="131.6" cy="134.5" rx="3.8" ry="3.6" fill="url(#ga)"/>
<ellipse cx="139.7" cy="134.5" rx="3.8" ry="3.6" fill="url(#ga)"/>
<ellipse cx="147.8" cy="134.5" rx="3.8" ry="3.6" fill="url(#ga)"/>
<ellipse cx="155.9" cy="134.5" rx="3.8" ry="3.6" fill="url(#ga)"/>
<ellipse cx="164" cy="134.5" rx="3.8" ry="3.6" fill="url(#ga)"/>
<ellipse cx="172.1" cy="134.5" rx="3.8" ry="3.6" fill="url(#ga)"/>
<ellipse cx="180.2" cy="134.5" rx="3.8" ry="3.6" fill="url(#ga)"/>
<ellipse cx="188.3" cy="134.5" rx="3.8" ry="3.6" fill="url(#ga)"/>
<ellipse cx="196.4" cy="134.5" rx="3.8" ry="3.6" fill="url(#ga)"/>
<ellipse cx="204.5" cy="134.5" rx="3.8" ry="3.6" fill="url(#ga)"/>
<ellipse cx="212.6" cy="134.5" rx="3.8" ry="3.6" fill="url(#ga)"/>
<ellipse cx="220.7" cy="134.5" rx="3.8" ry="3.6" fill="url(#ga)"/>
<ellipse cx="26.3" cy="142.5" rx="3.8" ry="3.6" fill="url(#ga)"/>
<ellipse cx="34.4" cy="142.5" rx="3.8" ry="3.6" fill="url(#ga)"/>
<ellipse cx="42.5" cy="142.5" rx="3.8" ry="3.6" fill="url(#ga)"/>
<ellipse cx="50.6" cy="142.5" rx="3.8" ry="3.6" fill="url(#ga)"/>
<ellipse cx="58.7" cy="142.5" rx="3.8" ry="3.6" fill="url(#ga)"/>
<ellipse cx="66.8" cy="142.5" rx="3.8" ry="3.6" fill="url(#ga)"/>
<ellipse cx="74.9" cy="142.5" rx="3.8" ry="3.6" fill="url(#ga)"/>
<ellipse cx="83" cy="142.5" rx="3.8" ry="3.6" fill="url(#ga)"/>
<ellipse cx="91.1" cy="142.5" rx="3.8" ry="3.6" fill="url(#ga)"/>
<ellipse cx="99.2" cy="142.5" rx="3.8" ry="3.6" fill="url(#ga)"/>
<ellipse cx="107.3" cy="142.5" rx="3.8" ry="3.6" fill="url(#ga)"/>
<ellipse cx="115.4" cy="142.5" rx="3.8" ry="3.6" fill="url(#ga)"/>
<ellipse cx="123.5" cy="142.5" rx="3.8" ry="3.6" fill="url(#ga)"/>
<ellipse cx="131.6" cy="142.5" rx="3.8" ry="3.6" fill="url(#ga)"/>
<ellipse cx="139.7" cy="142.5" rx="3.8" ry="3.6" fill="url(#ga)"/>
<ellipse cx="147.8" cy="142.5" rx="3.8" ry="3.6" fill="url(#ga)"/>
<ellipse cx="155.9" cy="142.5" rx="3.8" ry="3.6" fill="url(#ga)"/>
<ellipse cx="164" cy="142.5" rx="3.8" ry="3.6" fill="url(#ga)"/>
<ellipse cx="172.1" cy="142.5" rx="3.8" ry="3.6" fill="url(#ga)"/>
<ellipse cx="180.2" cy="142.5" rx="3.8" ry="3.6" fill="url(#ga)"/>
<ellipse cx="188.3" cy="142.5" rx="3.8" ry="3.6" fill="url(#ga)"/>
<ellipse cx="196.4" cy="142.5" rx="3.8" ry="3.6" fill="url(#ga)"/>
<ellipse cx="204.5" cy="142.5" rx="3.8" ry="3.6" fill="url(#ga)"/>
<ellipse cx="212.6" cy="142.5" rx="3.8" ry="3.6" fill="url(#ga)"/>
<ellipse cx="220.7" cy="142.5" rx="3.8" ry="3.6" fill="url(#ga)"/>
<ellipse cx="26.3" cy="150.5" rx="3.8" ry="3.6" fill="url(#ga)"/>
<ellipse cx="34.4" cy="150.5" rx="3.8" ry="3.6" fill="url(#ga)"/>
<ellipse cx="42.5" cy="150.5" rx="3.8" ry="3.6" fill="url(#ga)"/>
<ellipse cx="50.6" cy="150.5" rx="3.8" ry="3.6" fill="url(#ga)"/>
<ellipse cx="58.7" cy="150.5" rx="3.8" ry="3.6" fill="url(#ga)"/>
<ellipse cx="66.8" cy="150.5" rx="3.8" ry="3.6" fill="url(#ga)"/>
<ellipse cx="74.9" cy="150.5" rx="3.8" ry="3.6" fill="url(#ga)"/>
<ellipse cx="83" cy="150.5" rx="3.8" ry="3.6" fill="url(#ga)"/>
<ellipse cx="91.1" cy="150.5" rx="3.8" ry="3.6" fill="url(#ga)"/>
<ellipse cx="99.2" cy="150.5" rx="3.8" ry="3.6" fill="url(#ga)"/>
<ellipse cx="107.3" cy="150.5" rx="3.8" ry="3.6" fill="url(#ga)"/>
<ellipse cx="115.4" cy="150.5" rx="3.8" ry="3.6" fill="url(#ga)"/>
<ellipse cx="123.5" cy="150.5" rx="3.8" ry="3.6" fill="url(#ga)"/>
<ellipse cx="131.6" cy="150.5" rx="3.8" ry="3.6" fill="url(#ga)"/>
<ellipse cx="139.7" cy="150.5" rx="3.8" ry="3.6" fill="url(#ga)"/>
<ellipse cx="147.8" cy="150.5" rx="3.8" ry="3.6" fill="url(#ga)"/>
<ellipse cx="155.9" cy="150.5" rx="3.8" ry="3.6" fill="url(#ga)"/>
<ellipse cx="164" cy="150.5" rx="3.8" ry="3.6" fill="url(#ga)"/>
<ellipse cx="172.1" cy="150.5" rx="3.8" ry="3.6" fill="url(#ga)"/>
<ellipse cx="180.2" cy="150.5" rx="3.8" ry="3.6" fill="url(#ga)"/>
<ellipse cx="188.3" cy="150.5" rx="3.8" ry="3.6" fill="url(#ga)"/>
<ellipse cx="196.4" cy="150.5" rx="3.8" ry="3.6" fill="url(#ga)"/>
<ellipse cx="204.5" cy="150.5" rx="3.8" ry="3.6" fill="url(#ga)"/>
<ellipse cx="212.6" cy="150.5" rx="3.8" ry="3.6" fill="url(#ga)"/>
<ellipse cx="220.7" cy="150.5" rx="3.8" ry="3.6" fill="url(#ga)"/>
<ellipse cx="26.3" cy="158.5" rx="3.8" ry="3.6" fill="url(#ga)"/>
<ellipse cx="34.4" cy="158.5" rx="3.8" ry="3.6" fill="url(#ga)"/>
<ellipse cx="42.5" cy="158.5" rx="3.8" ry="3.6" fill="url(#ga)"/>
<ellipse cx="50.6" cy="158.5" rx="3.8" ry="3.6" fill="url(#ga)"/>
<ellipse cx="58.7" cy="158.5" rx="3.8" ry="3.6" fill="url(#ga)"/>
<ellipse cx="66.8" cy="158.5" rx="3.8" ry="3.6" fill="url(#ga)"/>
<ellipse cx="74.9" cy="158.5" rx="3.8" ry="3.6" fill="url(#ga)"/>
<ellipse cx="83" cy="158.5" rx="3.8" ry="3.6" fill="url(#ga)"/>
<ellipse cx="91.1" cy="158.5" rx="3.8" ry="3.6" fill="url(#ga)"/>
<ellipse cx="99.2" cy="158.5" rx="3.8" ry="3.6" fill="url(#ga)"/>
<ellipse cx="107.3" cy="158.5" rx="3.8" ry="3.6" fill="url(#ga)"/>
<ellipse cx="115.4" cy="158.5" rx="3.8" ry="3.6" fill="url(#ga)"/>
<ellipse cx="123.5" cy="158.5" rx="3.8" ry="3.6" fill="url(#ga)"/>
<ellipse cx="131.6" cy="158.5" rx="3.8" ry="3.6" fill="url(#ga)"/>
<ellipse cx="139.7" cy="158.5" rx="3.8" ry="3.6" fill="url(#ga)"/>
<ellipse cx="147.8" cy="158.5" rx="3.8" ry="3.6" fill="url(#ga)"/>
<ellipse cx="155.9" cy="158.5" rx="3.8" ry="3.6" fill="url(#ga)"/>
<ellipse cx="164" cy="158.5" rx="3.8" ry="3.6" fill="url(#ga)"/>
<ellipse cx="172.1" cy="158.5" rx="3.8" ry="3.6" fill="url(#ga)"/>
<ellipse cx="180.2" cy="158.5" rx="3.8" ry="3.6" fill="url(#ga)"/>
<ellipse cx="188.3" cy="158.5" rx="3.8" ry="3.6" fill="url(#ga)"/>
<ellipse cx="196.4" cy="158.5" rx="3.8" ry="3.6" fill="url(#ga)"/>
<ellipse cx="204.5" cy="158.5" rx="3.8" ry="3.6" fill="url(#ga)"/>
<ellipse cx="212.6" cy="158.5" rx="3.8" ry="3.6" fill="url(#ga)"/>
<ellipse cx="220.7" cy="158.5" rx="3.8" ry="3.6" fill="url(#ga)"/>
<ellipse cx="26.3" cy="166.5" rx="3.8" ry="3.6" fill="url(#ga)"/>
<ellipse cx="34.4" cy="166.5" rx="3.8" ry="3.6" fill="url(#ga)"/>
<ellipse cx="42.5" cy="166.5" rx="3.8" ry="3.6" fill="url(#ga)"/>
<ellipse cx="50.6" cy="166.5" rx="3.8" ry="3.6" fill="url(#ga)"/>
<ellipse cx="58.7" cy="166.5" rx="3.8" ry="3.6" fill="url(#ga)"/>
<ellipse cx="66.8" cy="166.5" rx="3.8" ry="3.6" fill="url(#ga)"/>
<ellipse cx="74.9" cy="166.5" rx="3.8" ry="3.6" fill="url(#ga)"/>
<ellipse cx="83" cy="166.5" rx="3.8" ry="3.6" fill="url(#ga)"/>
<ellipse cx="91.1" cy="166.5" rx="3.8" ry="3.6" fill="url(#ga)"/>
<ellipse cx="99.2" cy="166.5" rx="3.8" ry="3.6" fill="url(#ga)"/>
<ellipse cx="107.3" cy="166.5" rx="3.8" ry="3.6" fill="url(#ga)"/>
<ellipse cx="115.4" cy="166.5" rx="3.8" ry="3.6" fill="url(#ga)"/>
<ellipse cx="123.5" cy="166.5" rx="3.8" ry="3.6" fill="url(#ga)"/>
<ellipse cx="131.6" cy="166.5" rx="3.8" ry="3.6" fill="url(#ga)"/>
<ellipse cx="139.7" cy="166.5" rx="3.8" ry="3.6" fill="url(#ga)"/>
<ellipse cx="147.8" cy="166.5" rx="3.8" ry="3.6" fill="url(#ga)"/>
<ellipse cx="155.9" cy="166.5" rx="3.8" ry="3.6" fill="url(#ga)"/>
<ellipse cx="164" cy="166.5" rx="3.8" ry="3.6" fill="url(#ga)"/>
<ellipse cx="172.1" cy="166.5" rx="3.8" ry="3.6" fill="url(#ga)"/>
<ellipse cx="180.2" cy="166.5" rx="3.8" ry="3.6" fill="url(#ga)"/>
<ellipse cx="188.3" cy="166.5" rx="3.8" ry="3.6" fill="url(#ga)"/>
<ellipse cx="196.4" cy="166.5" rx="3.8" ry="3.6" fill="url(#ga)"/>
<ellipse cx="204.5" cy="166.5" rx="3.8" ry="3.6" fill="url(#ga)"/>
<ellipse cx="212.6" cy="166.5" rx="3.8" ry="3.6" fill="url(#ga)"/>
<ellipse cx="220.7" cy="166.5" rx="3.8" ry="3.6" fill="url(#ga)"/>
<ellipse cx="26.3" cy="174.5" rx="3.8" ry="3.6" fill="url(#ga)"/>
<ellipse cx="34.4" cy="174.5" rx="3.8" ry="3.6" fill="url(#ga)"/>
<ellipse cx="42.5" cy="174.5" rx="3.8" ry="3.6" fill="url(#ga)"/>
<ellipse cx="50.6" cy="174.5" rx="3.8" ry="3.6" fill="url(#ga)"/>
<ellipse cx="58.7" cy="174.5" rx="3.8" ry="3.6" fill="url(#ga)"/>
<ellipse cx="66.8" cy="174.5" rx="3.8" ry="3.6" fill="url(#ga)"/>
<ellipse cx="74.9" cy="174.5" rx="3.8" ry="3.6" fill="url(#ga)"/>
<ellipse cx="83" cy="174.5" rx="3.8" ry="3.6" fill="url(#ga)"/>
<ellipse cx="91.1" cy="174.5" rx="3.8" ry="3.6" fill="url(#ga)"/>
<ellipse cx="99.2" cy="174.5" rx="3.8" ry="3.6" fill="url(#ga)"/>
<ellipse cx="107.3" cy="174.5" rx="3.8" ry="3.6" fill="url(#ga)"/>
<ellipse cx="115.4" cy="174.5" rx="3.8" ry="3.6" fill="url(#ga)"/>
<ellipse cx="123.5" cy="174.5" rx="3.8" ry="3.6" fill="url(#ga)"/>
<ellipse cx="131.6" cy="174.5" rx="3.8" ry="3.6" fill="url(#ga)"/>
<ellipse cx="139.7" cy="174.5" rx="3.8" ry="3.6" fill="url(#ga)"/>
<ellipse cx="147.8" cy="174.5" rx="3.8" ry="3.6" fill="url(#ga)"/>
<ellipse cx="155.9" cy="174.5" rx="3.8" ry="3.6" fill="url(#ga)"/>
<ellipse cx="164" cy="174.5" rx="3.8" ry="3.6" fill="url(#ga)"/>
<ellipse cx="172.1" cy="174.5" rx="3.8" ry="3.6" fill="url(#ga)"/>
<ellipse cx="180.2" cy="174.5" rx="3.8" ry="3.6" fill="url(#ga)"/>
<ellipse cx="188.3" cy="174.5" rx="3.8" ry="3.6" fill="url(#ga)"/>
<ellipse cx="196.4" cy="174.5" rx="3.8" ry="3.6" fill="url(#ga)"/>
<ellipse cx="204.5" cy="174.5" rx="3.8" ry="3.6" fill="url(#ga)"/>
<ellipse cx="212.6" cy="174.5" rx="3.8" ry="3.6" fill="url(#ga)"/>
<ellipse cx="220.7" cy="174.5" rx="3.8" ry="3.6" fill="url(#ga)"/>
<ellipse cx="26.3" cy="182.5" rx="3.8" ry="3.6" fill="url(#ga)"/>
<ellipse cx="34.4" cy="182.5" rx="3.8" ry="3.6" fill="url(#ga)"/>
<ellipse cx="42.5" cy="182.5" rx="3.8" ry="3.6" fill="url(#ga)"/>
<ellipse cx="50.6" cy="182.5" rx="3.8" ry="3.6" fill="url(#ga)"/>
<ellipse cx="58.7" cy="182.5" rx="3.8" ry="3.6" fill="url(#ga)"/>
<ellipse cx="66.8" cy="182.5" rx="3.8" ry="3.6" fill="url(#ga)"/>
<ellipse cx="74.9" cy="182.5" rx="3.8" ry="3.6" fill="url(#ga)"/>
<ellipse cx="83" cy="182.5" rx="3.8" ry="3.6" fill="url(#ga)"/>
<ellipse cx="91.1" cy="182.5" rx="3.8" ry="3.6" fill="url(#ga)"/>
<ellipse cx="99.2" cy="182.5" rx="3.8" ry="3.6" fill="url(#ga)"/>
<ellipse cx="107.3" cy="182.5" rx="3.8" ry="3.6" fill="url(#ga)"/>
<ellipse cx="115.4" cy="182.5" rx="3.8" ry="3.6" fill="url(#ga)"/>
<ellipse cx="123.5" cy="182.5" rx="3.8" ry="3.6" fill="url(#ga)"/>
<ellipse cx="131.6" cy="182.5" rx="3.8" ry="3.6" fill="url(#ga)"/>
<ellipse cx="139.7" cy="182.5" rx="3.8" ry="3.6" fill="url(#ga)"/>
<ellipse cx="147.8" cy="182.5" rx="3.8" ry="3.6" fill="url(#ga)"/>
<ellipse cx="155.9" cy="182.5" rx="3.8" ry="3.6" fill="url(#ga)"/>
<ellipse cx="164" cy="182.5" rx="3.8" ry="3.6" fill="url(#ga)"/>
<ellipse cx="172.1" cy="182.5" rx="3.8" ry="3.6" fill="url(#ga)"/>
<ellipse cx="180.2" cy="182.5" rx="3.8" ry="3.6" fill="url(#ga)"/>
<ellipse cx="188.3" cy="182.5" rx="3.8" ry="3.6" fill="url(#ga)"/>
<ellipse cx="196.4" cy="182.5" rx="3.8" ry="3.6" fill="url(#ga)"/>
<ellipse cx="204.5" cy="182.5" rx="3.8" ry="3.6" fill="url(#ga)"/>
<ellipse cx="212.6" cy="182.5" rx="3.8" ry="3.6" fill="url(#ga)"/>
<ellipse cx="220.7" cy="182.5" rx="3.8" ry="3.6" fill="url(#ga)"/>
<ellipse cx="26.3" cy="190.5" rx="3.8" ry="3.6" fill="url(#ga)"/>
<ellipse cx="34.4" cy="190.5" rx="3.8" ry="3.6" fill="url(#ga)"/>
<ellipse cx="42.5" cy="190.5" rx="3.8" ry="3.6" fill="url(#ga)"/>
<ellipse cx="50.6" cy="190.5" rx="3.8" ry="3.6" fill="url(#ga)"/>
<ellipse cx="58.7" cy="190.5" rx="3.8" ry="3.6" fill="url(#ga)"/>
<ellipse cx="66.8" cy="190.5" rx="3.8" ry="3.6" fill="url(#ga)"/>
<ellipse cx="74.9" cy="190.5" rx="3.8" ry="3.6" fill="url(#ga)"/>
<ellipse cx="83" cy="190.5" rx="3.8" ry="3.6" fill="url(#ga)"/>
<ellipse cx="91.1" cy="190.5" rx="3.8" ry="3.6" fill="url(#ga)"/>
<ellipse cx="99.2" cy="190.5" rx="3.8" ry="3.6" fill="url(#ga)"/>
<ellipse cx="107.3" cy="190.5" rx="3.8" ry="3.6" fill="url(#ga)"/>
<ellipse cx="115.4" cy="190.5" rx="3.8" ry="3.6" fill="url(#ga)"/>
<ellipse cx="123.5" cy="190.5" rx="3.8" ry="3.6" fill="url(#ga)"/>
<ellipse cx="131.6" cy="190.5" rx="3.8" ry="3.6" fill="url(#ga)"/>
<ellipse cx="139.7" cy="190.5" rx="3.8" ry="3.6" fill="url(#ga)"/>
<ellipse cx="147.8" cy="190.5" rx="3.8" ry="3.6" fill="url(#ga)"/>
<ellipse cx="155.9" cy="190.5" rx="3.8" ry="3.6" fill="url(#ga)"/>
<ellipse cx="164" cy="190.5" rx="3.8" ry="3.6" fill="url(#ga)"/>
<ellipse cx="172.1" cy="190.5" rx="3.8" ry="3.6" fill="url(#ga)"/>
<ellipse cx="180.2" cy="190.5" rx="3.8" ry="3.6" fill="url(#ga)"/>
<ellipse cx="188.3" cy="190.5" rx="3.8" ry="3.6" fill="url(#ga)"/>
<ellipse cx="196.4" cy="190.5" rx="3.8" ry="3.6" fill="url(#ga)"/>
<ellipse cx="204.5" cy="190.5" rx="3.8" ry="3.6" fill="url(#ga)"/>
<ellipse cx="212.6" cy="190.5" rx="3.8" ry="3.6" fill="url(#ga)"/>
<ellipse cx="220.7" cy="190.5" rx="3.8" ry="3.6" fill="url(#ga)"/>
<rect x="31.3" y="173.6" width="30.3" height="2" fill="#fff"/>
<path d="M39.3 0V183.6" stroke="#f5a23c" stroke-width="0.9"/>
<path d="M38 2.3L39.3 4.9L40.6 2.3ZM38 10.3L39.3 12.9L40.6 10.3ZM38 18.2L39.3 20.8L40.6 18.2ZM38 26.2L39.3 28.8L40.6 26.2ZM38 34.1L39.3 36.7L40.6 34.1ZM38 42.1L39.3 44.7L40.6 42.1ZM38 50.5L39.3 53.1L40.6 50.5ZM38 58.9L39.3 61.5L40.6 58.9ZM38 67.3L39.3 69.9L40.6 67.3ZM38 75.6L39.3 78.2L40.6 75.6ZM38 84L39.3 86.6L40.6 84ZM38 92.4L39.3 95L40.6 92.4ZM38 100.8L39.3 103.4L40.6 100.8ZM38 109.2L39.3 111.8L40.6 109.2ZM38 117.2L39.3 119.8L40.6 117.2ZM38 125.2L39.3 127.8L40.6 125.2ZM38 133.2L39.3 135.8L40.6 133.2ZM38 141.2L39.3 143.8L40.6 141.2ZM38 149.2L39.3 151.8L40.6 149.2ZM38 157.2L39.3 159.8L40.6 157.2ZM38 165.2L39.3 167.8L40.6 165.2ZM38 173.2L39.3 175.8L40.6 173.2ZM38 181.2L39.3 183.8L40.6 181.2Z" fill="#f5a23c"/>
<path d="M55.5 0V183.6" stroke="#f5a23c" stroke-width="0.9"/>
<path d="M54.2 2.3L55.5 4.9L56.8 2.3ZM54.2 10.3L55.5 12.9L56.8 10.3ZM54.2 18.2L55.5 20.8L56.8 18.2ZM54.2 26.2L55.5 28.8L56.8 26.2ZM54.2 34.1L55.5 36.7L56.8 34.1ZM54.2 42.1L55.5 44.7L56.8 42.1ZM54.2 50.5L55.5 53.1L56.8 50.5ZM54.2 58.9L55.5 61.5L56.8 58.9ZM54.2 67.3L55.5 69.9L56.8 67.3ZM54.2 75.6L55.5 78.2L56.8 75.6ZM54.2 84L55.5 86.6L56.8 84ZM54.2 92.4L55.5 95L56.8 92.4ZM54.2 100.8L55.5 103.4L56.8 100.8ZM54.2 109.2L55.5 111.8L56.8 109.2ZM54.2 117.2L55.5 119.8L56.8 117.2ZM54.2 125.2L55.5 127.8L56.8 125.2ZM54.2 133.2L55.5 135.8L56.8 133.2ZM54.2 141.2L55.5 143.8L56.8 141.2ZM54.2 149.2L55.5 151.8L56.8 149.2ZM54.2 157.2L55.5 159.8L56.8 157.2ZM54.2 165.2L55.5 167.8L56.8 165.2ZM54.2 173.2L55.5 175.8L56.8 173.2ZM54.2 181.2L55.5 183.8L56.8 181.2Z" fill="#f5a23c"/>
<path d="M71.7 0V183.6" stroke="#f5a23c" stroke-width="0.9"/>
<path d="M70.4 2.3L71.7 4.9L73 2.3ZM70.4 10.3L71.7 12.9L73 10.3ZM70.4 18.2L71.7 20.8L73 18.2ZM70.4 26.2L71.7 28.8L73 26.2ZM70.4 34.1L71.7 36.7L73 34.1ZM70.4 42.1L71.7 44.7L73 42.1ZM70.4 50.5L71.7 53.1L73 50.5ZM70.4 58.9L71.7 61.5L73 58.9ZM70.4 67.3L71.7 69.9L73 67.3ZM70.4 75.6L71.7 78.2L73 75.6ZM70.4 84L71.7 86.6L73 84ZM70.4 92.4L71.7 95L73 92.4ZM70.4 100.8L71.7 103.4L73 100.8ZM70.4 109.2L71.7 111.8L73 109.2ZM70.4 117.2L71.7 119.8L73 117.2ZM70.4 125.2L71.7 127.8L73 125.2ZM70.4 133.2L71.7 135.8L73 133.2ZM70.4 141.2L71.7 143.8L73 141.2ZM70.4 149.2L71.7 151.8L73 149.2ZM70.4 157.2L71.7 159.8L73 157.2ZM70.4 165.2L71.7 167.8L73 165.2ZM70.4 173.2L71.7 175.8L73 173.2ZM70.4 181.2L71.7 183.8L73 181.2Z" fill="#f5a23c"/>
<path d="M87.9 0V183.6" stroke="#f5a23c" stroke-width="0.9"/>
<path d="M86.6 2.3L87.9 4.9L89.2 2.3ZM86.6 10.3L87.9 12.9L89.2 10.3ZM86.6 18.2L87.9 20.8L89.2 18.2ZM86.6 26.2L87.9 28.8L89.2 26.2ZM86.6 34.1L87.9 36.7L89.2 34.1ZM86.6 42.1L87.9 44.7L89.2 42.1ZM86.6 50.5L87.9 53.1L89.2 50.5ZM86.6 58.9L87.9 61.5L89.2 58.9ZM86.6 67.3L87.9 69.9L89.2 67.3ZM86.6 75.6L87.9 78.2L89.2 75.6ZM86.6 84L87.9 86.6L89.2 84ZM86.6 92.4L87.9 95L89.2 92.4ZM86.6 100.8L87.9 103.4L89.2 100.8ZM86.6 109.2L87.9 111.8L89.2 109.2ZM86.6 117.2L87.9 119.8L89.2 117.2ZM86.6 125.2L87.9 127.8L89.2 125.2ZM86.6 133.2L87.9 135.8L89.2 133.2ZM86.6 141.2L87.9 143.8L89.2 141.2ZM86.6 149.2L87.9 151.8L89.2 149.2ZM86.6 157.2L87.9 159.8L89.2 157.2ZM86.6 165.2L87.9 167.8L89.2 165.2ZM86.6 173.2L87.9 175.8L89.2 173.2ZM86.6 181.2L87.9 183.8L89.2 181.2Z" fill="#f5a23c"/>
<path d="M104.1 0V183.6" stroke="#f5a23c" stroke-width="0.9"/>
<path d="M102.8 2.3L104.1 4.9L105.4 2.3ZM102.8 10.3L104.1 12.9L105.4 10.3ZM102.8 18.2L104.1 20.8L105.4 18.2ZM102.8 26.2L104.1 28.8L105.4 26.2ZM102.8 34.1L104.1 36.7L105.4 34.1ZM102.8 42.1L104.1 44.7L105.4 42.1ZM102.8 50.5L104.1 53.1L105.4 50.5ZM102.8 58.9L104.1 61.5L105.4 58.9ZM102.8 67.3L104.1 69.9L105.4 67.3ZM102.8 75.6L104.1 78.2L105.4 75.6ZM102.8 84L104.1 86.6L105.4 84ZM102.8 92.4L104.1 95L105.4 92.4ZM102.8 100.8L104.1 103.4L105.4 100.8ZM102.8 109.2L104.1 111.8L105.4 109.2ZM102.8 117.2L104.1 119.8L105.4 117.2ZM102.8 125.2L104.1 127.8L105.4 125.2ZM102.8 133.2L104.1 135.8L105.4 133.2ZM102.8 141.2L104.1 143.8L105.4 141.2ZM102.8 149.2L104.1 151.8L105.4 149.2ZM102.8 157.2L104.1 159.8L105.4 157.2ZM102.8 165.2L104.1 167.8L105.4 165.2ZM102.8 173.2L104.1 175.8L105.4 173.2ZM102.8 181.2L104.1 183.8L105.4 181.2Z" fill="#f5a23c"/>
<path d="M120.3 0V183.6" stroke="#f5a23c" stroke-width="0.9"/>
<path d="M119 2.3L120.3 4.9L121.6 2.3ZM119 10.3L120.3 12.9L121.6 10.3ZM119 18.2L120.3 20.8L121.6 18.2ZM119 26.2L120.3 28.8L121.6 26.2ZM119 34.1L120.3 36.7L121.6 34.1ZM119 42.1L120.3 44.7L121.6 42.1ZM119 50.5L120.3 53.1L121.6 50.5ZM119 58.9L120.3 61.5L121.6 58.9ZM119 67.3L120.3 69.9L121.6 67.3ZM119 75.6L120.3 78.2L121.6 75.6ZM119 84L120.3 86.6L121.6 84ZM119 92.4L120.3 95L121.6 92.4ZM119 100.8L120.3 103.4L121.6 100.8ZM119 109.2L120.3 111.8L121.6 109.2ZM119 117.2L120.3 119.8L121.6 117.2ZM119 125.2L120.3 127.8L121.6 125.2ZM119 133.2L120.3 135.8L121.6 133.2ZM119 141.2L120.3 143.8L121.6 141.2ZM119 149.2L120.3 151.8L121.6 149.2ZM119 157.2L120.3 159.8L121.6 157.2ZM119 165.2L120.3 167.8L121.6 165.2ZM119 173.2L120.3 175.8L121.6 173.2ZM119 181.2L120.3 183.8L121.6 181.2Z" fill="#f5a23c"/>
<path d="M136.5 0V183.6" stroke="#f5a23c" stroke-width="0.9"/>
<path d="M135.2 2.3L136.5 4.9L137.8 2.3ZM135.2 10.3L136.5 12.9L137.8 10.3ZM135.2 18.2L136.5 20.8L137.8 18.2ZM135.2 26.2L136.5 28.8L137.8 26.2ZM135.2 34.1L136.5 36.7L137.8 34.1ZM135.2 42.1L136.5 44.7L137.8 42.1ZM135.2 50.5L136.5 53.1L137.8 50.5ZM135.2 58.9L136.5 61.5L137.8 58.9ZM135.2 67.3L136.5 69.9L137.8 67.3ZM135.2 75.6L136.5 78.2L137.8 75.6ZM135.2 84L136.5 86.6L137.8 84ZM135.2 92.4L136.5 95L137.8 92.4ZM135.2 100.8L136.5 103.4L137.8 100.8ZM135.2 109.2L136.5 111.8L137.8 109.2ZM135.2 117.2L136.5 119.8L137.8 117.2ZM135.2 125.2L136.5 127.8L137.8 125.2ZM135.2 133.2L136.5 135.8L137.8 133.2ZM135.2 141.2L136.5 143.8L137.8 141.2ZM135.2 149.2L136.5 151.8L137.8 149.2ZM135.2 157.2L136.5 159.8L137.8 157.2ZM135.2 165.2L136.5 167.8L137.8 165.2ZM135.2 173.2L136.5 175.8L137.8 173.2ZM135.2 181.2L136.5 183.8L137.8 181.2Z" fill="#f5a23c"/>
<path d="M152.7 0V183.6" stroke="#f5a23c" stroke-width="0.9"/>
<path d="M151.4 2.3L152.7 4.9L154 2.3ZM151.4 10.3L152.7 12.9L154 10.3ZM151.4 18.2L152.7 20.8L154 18.2ZM151.4 26.2L152.7 28.8L154 26.2ZM151.4 34.1L152.7 36.7L154 34.1ZM151.4 42.1L152.7 44.7L154 42.1ZM151.4 50.5L152.7 53.1L154 50.5ZM151.4 58.9L152.7 61.5L154 58.9ZM151.4 67.3L152.7 69.9L154 67.3ZM151.4 75.6L152.7 78.2L154 75.6ZM151.4 84L152.7 86.6L154 84ZM151.4 92.4L152.7 95L154 92.4ZM151.4 100.8L152.7 103.4L154 100.8ZM151.4 109.2L152.7 111.8L154 109.2ZM151.4 117.2L152.7 119.8L154 117.2ZM151.4 125.2L152.7 127.8L154 125.2ZM151.4 133.2L152.7 135.8L154 133.2ZM151.4 141.2L152.7 143.8L154 141.2ZM151.4 149.2L152.7 151.8L154 149.2ZM151.4 157.2L152.7 159.8L154 157.2ZM151.4 165.2L152.7 167.8L154 165.2ZM151.4 173.2L152.7 175.8L154 173.2ZM151.4 181.2L152.7 183.8L154 181.2Z" fill="#f5a23c"/>
<path d="M168.9 0V183.6" stroke="#f5a23c" stroke-width="0.9"/>
<path d="M167.6 2.3L168.9 4.9L170.2 2.3ZM167.6 10.3L168.9 12.9L170.2 10.3ZM167.6 18.2L168.9 20.8L170.2 18.2ZM167.6 26.2L168.9 28.8L170.2 26.2ZM167.6 34.1L168.9 36.7L170.2 34.1ZM167.6 42.1L168.9 44.7L170.2 42.1ZM167.6 50.5L168.9 53.1L170.2 50.5ZM167.6 58.9L168.9 61.5L170.2 58.9ZM167.6 67.3L168.9 69.9L170.2 67.3ZM167.6 75.6L168.9 78.2L170.2 75.6ZM167.6 84L168.9 86.6L170.2 84ZM167.6 92.4L168.9 95L170.2 92.4ZM167.6 100.8L168.9 103.4L170.2 100.8ZM167.6 109.2L168.9 111.8L170.2 109.2ZM167.6 117.2L168.9 119.8L170.2 117.2ZM167.6 125.2L168.9 127.8L170.2 125.2ZM167.6 133.2L168.9 135.8L170.2 133.2ZM167.6 141.2L168.9 143.8L170.2 141.2ZM167.6 149.2L168.9 151.8L170.2 149.2ZM167.6 157.2L168.9 159.8L170.2 157.2ZM167.6 165.2L168.9 167.8L170.2 165.2ZM167.6 173.2L168.9 175.8L170.2 173.2ZM167.6 181.2L168.9 183.8L170.2 181.2Z" fill="#f5a23c"/>
<path d="M185.1 0V183.6" stroke="#f5a23c" stroke-width="0.9"/>
<path d="M183.8 2.3L185.1 4.9L186.4 2.3ZM183.8 10.3L185.1 12.9L186.4 10.3ZM183.8 18.2L185.1 20.8L186.4 18.2ZM183.8 26.2L185.1 28.8L186.4 26.2ZM183.8 34.1L185.1 36.7L186.4 34.1ZM183.8 42.1L185.1 44.7L186.4 42.1ZM183.8 50.5L185.1 53.1L186.4 50.5ZM183.8 58.9L185.1 61.5L186.4 58.9ZM183.8 67.3L185.1 69.9L186.4 67.3ZM183.8 75.6L185.1 78.2L186.4 75.6ZM183.8 84L185.1 86.6L186.4 84ZM183.8 92.4L185.1 95L186.4 92.4ZM183.8 100.8L185.1 103.4L186.4 100.8ZM183.8 109.2L185.1 111.8L186.4 109.2ZM183.8 117.2L185.1 119.8L186.4 117.2ZM183.8 125.2L185.1 127.8L186.4 125.2ZM183.8 133.2L185.1 135.8L186.4 133.2ZM183.8 141.2L185.1 143.8L186.4 141.2ZM183.8 149.2L185.1 151.8L186.4 149.2ZM183.8 157.2L185.1 159.8L186.4 157.2ZM183.8 165.2L185.1 167.8L186.4 165.2ZM183.8 173.2L185.1 175.8L186.4 173.2ZM183.8 181.2L185.1 183.8L186.4 181.2Z" fill="#f5a23c"/>
<path d="M201.3 0V183.6" stroke="#f5a23c" stroke-width="0.9"/>
<path d="M200 2.3L201.3 4.9L202.6 2.3ZM200 10.3L201.3 12.9L202.6 10.3ZM200 18.2L201.3 20.8L202.6 18.2ZM200 26.2L201.3 28.8L202.6 26.2ZM200 34.1L201.3 36.7L202.6 34.1ZM200 42.1L201.3 44.7L202.6 42.1ZM200 50.5L201.3 53.1L202.6 50.5ZM200 58.9L201.3 61.5L202.6 58.9ZM200 67.3L201.3 69.9L202.6 67.3ZM200 75.6L201.3 78.2L202.6 75.6ZM200 84L201.3 86.6L202.6 84ZM200 92.4L201.3 95L202.6 92.4ZM200 100.8L201.3 103.4L202.6 100.8ZM200 109.2L201.3 111.8L202.6 109.2ZM200 117.2L201.3 119.8L202.6 117.2ZM200 125.2L201.3 127.8L202.6 125.2ZM200 133.2L201.3 135.8L202.6 133.2ZM200 141.2L201.3 143.8L202.6 141.2ZM200 149.2L201.3 151.8L202.6 149.2ZM200 157.2L201.3 159.8L202.6 157.2ZM200 165.2L201.3 167.8L202.6 165.2ZM200 173.2L201.3 175.8L202.6 173.2ZM200 181.2L201.3 183.8L202.6 181.2Z" fill="#f5a23c"/>
</g>
<text x="35.9" y="172.2" font-size="8.3" fill="#fff">1 nm</text>
<path d="M38 186.5H42.4V190.8H44.85L40.2 195.8L35.55 190.8H38Z" fill="#ff0000"/>
<path d="M54.15 186.5H58.55V190.8H61L56.35 195.8L51.7 190.8H54.15Z" fill="#ff0000"/>
<path d="M70.3 186.5H74.7V190.8H77.15L72.5 195.8L67.85 190.8H70.3Z" fill="#ff0000"/>
<path d="M86.45 186.5H90.85V190.8H93.3L88.65 195.8L84 190.8H86.45Z" fill="#ff0000"/>
<path d="M102.6 186.5H107V190.8H109.45L104.8 195.8L100.15 190.8H102.6Z" fill="#ff0000"/>
<path d="M118.75 186.5H123.15V190.8H125.6L120.95 195.8L116.3 190.8H118.75Z" fill="#ff0000"/>
<path d="M134.9 186.5H139.3V190.8H141.75L137.1 195.8L132.45 190.8H134.9Z" fill="#ff0000"/>
<path d="M151.05 186.5H155.45V190.8H157.9L153.25 195.8L148.6 190.8H151.05Z" fill="#ff0000"/>
<path d="M167.2 186.5H171.6V190.8H174.05L169.4 195.8L164.75 190.8H167.2Z" fill="#ff0000"/>
<path d="M183.35 186.5H187.75V190.8H190.2L185.55 195.8L180.9 190.8H183.35Z" fill="#ff0000"/>
<path d="M199.5 186.5H203.9V190.8H206.35L201.7 195.8L197.05 190.8H199.5Z" fill="#ff0000"/>
<path d="M208.4 191.1H211" stroke="#f5a23c" stroke-width="1"/><path d="M210.5 189.4L213.5 191.1L210.5 192.8Z" fill="#f5a23c"/>
<text x="215.6" y="194" font-size="8.3" fill="#000">50 pm</text>
<text x="226.5" y="14.5" font-size="15.5" fill="#000" font-weight="bold">c</text>
<g clip-path="url(#clipC)">
<rect x="241.2" y="0" width="186.5" height="183.7" fill="#2a42d2"/>
<ellipse cx="242.9" cy="-3.6" rx="2.5" ry="1.7" transform="rotate(-22 242.9 -3.6)" fill="url(#gw)" opacity="0.7"/>
<ellipse cx="247" cy="-2.7" rx="3.2" ry="2" transform="rotate(-31 247 -2.7)" fill="url(#gw)" opacity="0.7"/>
<ellipse cx="252.3" cy="-3" rx="3.1" ry="2.1" transform="rotate(-57 252.3 -3)" fill="url(#gw)" opacity="0.9"/>
<ellipse cx="261.6" cy="-3.9" rx="3.3" ry="2.1" transform="rotate(-18 261.6 -3.9)" fill="url(#gw)" opacity="0.8"/>
<ellipse cx="265.9" cy="-3.9" rx="3.3" ry="1.8" transform="rotate(-53 265.9 -3.9)" fill="url(#gw)" opacity="0.7"/>
<ellipse cx="270.6" cy="-3.9" rx="2.7" ry="2" transform="rotate(-42 270.6 -3.9)" fill="url(#gw)" opacity="0.8"/>
<ellipse cx="274.2" cy="-3.6" rx="3.1" ry="2.3" transform="rotate(-21 274.2 -3.6)" fill="url(#gw)" opacity="1"/>
<ellipse cx="278.8" cy="-4.5" rx="3.4" ry="2.2" transform="rotate(-34 278.8 -4.5)" fill="url(#gw)" opacity="0.9"/>
<ellipse cx="282.2" cy="-3.1" rx="2.7" ry="1.7" transform="rotate(-21 282.2 -3.1)" fill="url(#gw)" opacity="1"/>
<ellipse cx="286.3" cy="-3.1" rx="2.6" ry="1.9" transform="rotate(-25 286.3 -3.1)" fill="url(#gw)" opacity="1"/>
<ellipse cx="296.5" cy="-4.2" rx="3.4" ry="2" transform="rotate(-15 296.5 -4.2)" fill="url(#gw)" opacity="0.8"/>
<ellipse cx="304.1" cy="-4" rx="2.6" ry="1.7" transform="rotate(-20 304.1 -4)" fill="url(#gw)" opacity="0.8"/>
<ellipse cx="310.2" cy="-2.9" rx="2.9" ry="2" transform="rotate(-31 310.2 -2.9)" fill="url(#gw)" opacity="0.9"/>
<ellipse cx="313.7" cy="-3.5" rx="2.9" ry="2" transform="rotate(-27 313.7 -3.5)" fill="url(#gw)" opacity="0.7"/>
<ellipse cx="317.6" cy="-2.7" rx="2.9" ry="1.7" transform="rotate(-41 317.6 -2.7)" fill="url(#gw)" opacity="0.9"/>
<ellipse cx="321.3" cy="-3.5" rx="2.5" ry="2.1" transform="rotate(-39 321.3 -3.5)" fill="url(#gw)" opacity="0.9"/>
<ellipse cx="326.5" cy="-3.3" rx="2.4" ry="1.7" transform="rotate(-29 326.5 -3.3)" fill="url(#gw)" opacity="1"/>
<ellipse cx="330.7" cy="-3.9" rx="2.7" ry="1.9" transform="rotate(-45 330.7 -3.9)" fill="url(#gw)" opacity="0.8"/>
<ellipse cx="242" cy="1.4" rx="3.1" ry="2.2" transform="rotate(-30 242 1.4)" fill="url(#gw)" opacity="0.8"/>
<ellipse cx="244.9" cy="0.2" rx="2.5" ry="2.1" transform="rotate(-47 244.9 0.2)" fill="url(#gw)" opacity="0.9"/>
<ellipse cx="248.8" cy="1.4" rx="3.3" ry="2.2" transform="rotate(-19 248.8 1.4)" fill="url(#gw)" opacity="0.9"/>
<ellipse cx="253.1" cy="1" rx="2.7" ry="2.1" transform="rotate(-36 253.1 1)" fill="url(#gw)" opacity="0.8"/>
<ellipse cx="259.6" cy="0.7" rx="2.7" ry="2.2" transform="rotate(-38 259.6 0.7)" fill="url(#gw)" opacity="0.9"/>
<ellipse cx="262.7" cy="-0.2" rx="3.2" ry="1.8" transform="rotate(-24 262.7 -0.2)" fill="url(#gw)" opacity="1"/>
<ellipse cx="275.7" cy="-0" rx="2.8" ry="2" transform="rotate(-25 275.7 -0)" fill="url(#gw)" opacity="0.7"/>
<ellipse cx="279.6" cy="-0.3" rx="2.5" ry="2.3" transform="rotate(-21 279.6 -0.3)" fill="url(#gw)" opacity="0.7"/>
<ellipse cx="285" cy="0.1" rx="2.8" ry="2.1" transform="rotate(-33 285 0.1)" fill="url(#gw)" opacity="0.8"/>
<ellipse cx="288.7" cy="0.1" rx="3" ry="2.1" transform="rotate(-42 288.7 0.1)" fill="url(#gw)" opacity="0.7"/>
<ellipse cx="293.1" cy="0.2" rx="3.2" ry="1.9" transform="rotate(-23 293.1 0.2)" fill="url(#gw)" opacity="0.9"/>
<ellipse cx="298" cy="0.2" rx="3.1" ry="2" transform="rotate(-28 298 0.2)" fill="url(#gw)" opacity="0.8"/>
<ellipse cx="302" cy="0.6" rx="2.5" ry="2" transform="rotate(-40 302 0.6)" fill="url(#gw)" opacity="1"/>
<ellipse cx="308" cy="0.2" rx="3.2" ry="1.9" transform="rotate(-39 308 0.2)" fill="url(#gw)" opacity="0.7"/>
<ellipse cx="312.1" cy="0.9" rx="3.2" ry="2.1" transform="rotate(-26 312.1 0.9)" fill="url(#gw)" opacity="0.8"/>
<ellipse cx="323.7" cy="-0.4" rx="2.6" ry="1.7" transform="rotate(-22 323.7 -0.4)" fill="url(#gw)" opacity="0.7"/>
<ellipse cx="329.8" cy="0.9" rx="3.4" ry="2" transform="rotate(-24 329.8 0.9)" fill="url(#gw)" opacity="0.7"/>
<ellipse cx="243.4" cy="4.3" rx="2.4" ry="2" transform="rotate(-42 243.4 4.3)" fill="url(#gw)" opacity="0.7"/>
<ellipse cx="247.3" cy="4.4" rx="2.5" ry="2.3" transform="rotate(-38 247.3 4.4)" fill="url(#gw)" opacity="0.9"/>
<ellipse cx="251.9" cy="5.5" rx="3" ry="2" transform="rotate(-27 251.9 5.5)" fill="url(#gw)" opacity="0.9"/>
<ellipse cx="256.2" cy="5.3" rx="2.9" ry="1.8" transform="rotate(-49 256.2 5.3)" fill="url(#gw)" opacity="0.9"/>
<ellipse cx="261.2" cy="5.8" rx="2.6" ry="1.8" transform="rotate(-48 261.2 5.8)" fill="url(#gw)" opacity="0.7"/>
<ellipse cx="265.7" cy="5.6" rx="2.7" ry="2.2" transform="rotate(-45 265.7 5.6)" fill="url(#gw)" opacity="0.8"/>
<ellipse cx="274.7" cy="4.3" rx="3" ry="2.1" transform="rotate(-59 274.7 4.3)" fill="url(#gw)" opacity="0.8"/>
<ellipse cx="278.3" cy="4.8" rx="3" ry="2.3" transform="rotate(-42 278.3 4.8)" fill="url(#gw)" opacity="0.8"/>
<ellipse cx="282" cy="4.3" rx="2.5" ry="2.2" transform="rotate(-19 282 4.3)" fill="url(#gw)" opacity="0.7"/>
<ellipse cx="288.2" cy="4.5" rx="3.2" ry="1.9" transform="rotate(-29 288.2 4.5)" fill="url(#gw)" opacity="0.9"/>
<ellipse cx="292.3" cy="4.3" rx="3.4" ry="2.1" transform="rotate(-35 292.3 4.3)" fill="url(#gw)" opacity="0.7"/>
<ellipse cx="296" cy="4.5" rx="3.1" ry="2" transform="rotate(-51 296 4.5)" fill="url(#gw)" opacity="0.9"/>
<ellipse cx="300.7" cy="4.1" rx="3.1" ry="1.8" transform="rotate(-18 300.7 4.1)" fill="url(#gw)" opacity="0.7"/>
<ellipse cx="304.4" cy="5.3" rx="3" ry="2.1" transform="rotate(-39 304.4 5.3)" fill="url(#gw)" opacity="0.8"/>
<ellipse cx="308.5" cy="3.9" rx="3.2" ry="2" transform="rotate(-26 308.5 3.9)" fill="url(#gw)" opacity="0.8"/>
<ellipse cx="313.1" cy="4.5" rx="2.4" ry="2" transform="rotate(-48 313.1 4.5)" fill="url(#gw)" opacity="0.9"/>
<ellipse cx="317.7" cy="4.4" rx="2.9" ry="2.2" transform="rotate(-44 317.7 4.4)" fill="url(#gw)" opacity="0.9"/>
<ellipse cx="325.9" cy="5.4" rx="2.6" ry="1.8" transform="rotate(-41 325.9 5.4)" fill="url(#gw)" opacity="0.9"/>
<ellipse cx="241.8" cy="9.3" rx="3.1" ry="2.1" transform="rotate(-44 241.8 9.3)" fill="url(#gw)" opacity="0.9"/>
<ellipse cx="246.3" cy="9.9" rx="3.2" ry="2" transform="rotate(-55 246.3 9.9)" fill="url(#gw)" opacity="0.7"/>
<ellipse cx="248.9" cy="8.4" rx="2.9" ry="2.1" transform="rotate(-35 248.9 8.4)" fill="url(#gw)" opacity="0.8"/>
<ellipse cx="254.5" cy="8.7" rx="3.2" ry="1.9" transform="rotate(-51 254.5 8.7)" fill="url(#gw)" opacity="1"/>
<ellipse cx="259.1" cy="8.8" rx="2.9" ry="2.1" transform="rotate(-49 259.1 8.8)" fill="url(#gw)" opacity="0.7"/>
<ellipse cx="262.4" cy="9.7" rx="2.9" ry="1.8" transform="rotate(-50 262.4 9.7)" fill="url(#gw)" opacity="0.7"/>
<ellipse cx="270.9" cy="8.4" rx="2.5" ry="1.7" transform="rotate(-39 270.9 8.4)" fill="url(#gw)" opacity="0.8"/>
<ellipse cx="276.6" cy="8.1" rx="2.8" ry="1.7" transform="rotate(-16 276.6 8.1)" fill="url(#gw)" opacity="0.7"/>
<ellipse cx="279.7" cy="9" rx="3" ry="1.9" transform="rotate(-54 279.7 9)" fill="url(#gw)" opacity="0.7"/>
<ellipse cx="285.5" cy="8.6" rx="2.9" ry="2.3" transform="rotate(-46 285.5 8.6)" fill="url(#gw)" opacity="0.7"/>
<ellipse cx="288.9" cy="9.8" rx="2.7" ry="1.8" transform="rotate(-29 288.9 9.8)" fill="url(#gw)" opacity="1"/>
<ellipse cx="301.6" cy="9.4" rx="2.6" ry="2.3" transform="rotate(-38 301.6 9.4)" fill="url(#gw)" opacity="0.9"/>
<ellipse cx="311" cy="9.3" rx="2.5" ry="1.9" transform="rotate(-21 311 9.3)" fill="url(#gw)" opacity="0.7"/>
<ellipse cx="315.6" cy="8.7" rx="3.3" ry="1.8" transform="rotate(-26 315.6 8.7)" fill="url(#gw)" opacity="0.9"/>
<ellipse cx="320.9" cy="9.2" rx="2.8" ry="1.9" transform="rotate(-49 320.9 9.2)" fill="url(#gw)" opacity="0.9"/>
<ellipse cx="324.6" cy="8.6" rx="3.1" ry="2.1" transform="rotate(-28 324.6 8.6)" fill="url(#gw)" opacity="0.8"/>
<ellipse cx="329" cy="8.3" rx="2.4" ry="2" transform="rotate(-25 329 8.3)" fill="url(#gw)" opacity="0.9"/>
<ellipse cx="248.3" cy="13.6" rx="2.6" ry="2" transform="rotate(-39 248.3 13.6)" fill="url(#gw)" opacity="0.9"/>
<ellipse cx="251.1" cy="13.1" rx="2.5" ry="2" transform="rotate(-26 251.1 13.1)" fill="url(#gw)" opacity="0.8"/>
<ellipse cx="256.7" cy="13.6" rx="2.8" ry="2.3" transform="rotate(-44 256.7 13.6)" fill="url(#gw)" opacity="0.8"/>
<ellipse cx="259.9" cy="12.8" rx="3.3" ry="2.1" transform="rotate(-20 259.9 12.8)" fill="url(#gw)" opacity="1"/>
<ellipse cx="265.4" cy="14.3" rx="2.8" ry="2.3" transform="rotate(-19 265.4 14.3)" fill="url(#gw)" opacity="1"/>
<ellipse cx="269.6" cy="14" rx="3.4" ry="2.3" transform="rotate(-46 269.6 14)" fill="url(#gw)" opacity="1"/>
<ellipse cx="273.3" cy="12.5" rx="2.7" ry="2" transform="rotate(-31 273.3 12.5)" fill="url(#gw)" opacity="0.7"/>
<ellipse cx="278.9" cy="12.9" rx="2.7" ry="2.1" transform="rotate(-26 278.9 12.9)" fill="url(#gw)" opacity="0.8"/>
<ellipse cx="281.9" cy="13" rx="2.5" ry="1.8" transform="rotate(-25 281.9 13)" fill="url(#gw)" opacity="0.9"/>
<ellipse cx="288.2" cy="14.5" rx="2.8" ry="1.8" transform="rotate(-45 288.2 14.5)" fill="url(#gw)" opacity="0.8"/>
<ellipse cx="291.7" cy="13.5" rx="3.3" ry="1.9" transform="rotate(-39 291.7 13.5)" fill="url(#gw)" opacity="1"/>
<ellipse cx="296.7" cy="13" rx="3.2" ry="1.7" transform="rotate(-54 296.7 13)" fill="url(#gw)" opacity="0.8"/>
<ellipse cx="304.1" cy="14" rx="3.4" ry="2.2" transform="rotate(-15 304.1 14)" fill="url(#gw)" opacity="0.7"/>
<ellipse cx="308.5" cy="12.3" rx="2.7" ry="1.7" transform="rotate(-35 308.5 12.3)" fill="url(#gw)" opacity="0.7"/>
<ellipse cx="313.2" cy="12.8" rx="2.8" ry="1.9" transform="rotate(-58 313.2 12.8)" fill="url(#gw)" opacity="0.8"/>
<ellipse cx="318.3" cy="13.8" rx="3.2" ry="1.8" transform="rotate(-53 318.3 13.8)" fill="url(#gw)" opacity="0.9"/>
<ellipse cx="323" cy="13.4" rx="3" ry="1.9" transform="rotate(-52 323 13.4)" fill="url(#gw)" opacity="0.7"/>
<ellipse cx="249.9" cy="18.2" rx="3" ry="2.2" transform="rotate(-59 249.9 18.2)" fill="url(#gw)" opacity="0.7"/>
<ellipse cx="255.2" cy="16.8" rx="2.9" ry="1.9" transform="rotate(-35 255.2 16.8)" fill="url(#gw)" opacity="0.7"/>
<ellipse cx="258" cy="18.7" rx="3.3" ry="1.8" transform="rotate(-15 258 18.7)" fill="url(#gw)" opacity="0.9"/>
<ellipse cx="268" cy="17" rx="3.2" ry="2.2" transform="rotate(-57 268 17)" fill="url(#gw)" opacity="1"/>
<ellipse cx="276" cy="18.8" rx="2.5" ry="1.8" transform="rotate(-54 276 18.8)" fill="url(#gw)" opacity="0.8"/>
<ellipse cx="281.5" cy="16.8" rx="3.3" ry="2.3" transform="rotate(-15 281.5 16.8)" fill="url(#gw)" opacity="0.7"/>
<ellipse cx="284.7" cy="18.7" rx="3.1" ry="1.9" transform="rotate(-59 284.7 18.7)" fill="url(#gw)" opacity="0.8"/>
<ellipse cx="289.9" cy="18.3" rx="2.9" ry="2" transform="rotate(-40 289.9 18.3)" fill="url(#gw)" opacity="0.8"/>
<ellipse cx="294.5" cy="17" rx="3.3" ry="2.2" transform="rotate(-51 294.5 17)" fill="url(#gw)" opacity="1"/>
<ellipse cx="298.9" cy="17" rx="2.6" ry="1.7" transform="rotate(-15 298.9 17)" fill="url(#gw)" opacity="0.8"/>
<ellipse cx="307.8" cy="18.3" rx="3.1" ry="2" transform="rotate(-25 307.8 18.3)" fill="url(#gw)" opacity="0.7"/>
<ellipse cx="311.5" cy="17.6" rx="3" ry="1.9" transform="rotate(-37 311.5 17.6)" fill="url(#gw)" opacity="0.8"/>
<ellipse cx="315.4" cy="17.4" rx="3.4" ry="2.3" transform="rotate(-21 315.4 17.4)" fill="url(#gw)" opacity="0.9"/>
<ellipse cx="319.7" cy="18.7" rx="2.5" ry="2" transform="rotate(-27 319.7 18.7)" fill="url(#gw)" opacity="0.8"/>
<ellipse cx="244.1" cy="21.5" rx="3.2" ry="2.1" transform="rotate(-56 244.1 21.5)" fill="url(#gw)" opacity="0.7"/>
<ellipse cx="247.3" cy="20.9" rx="2.6" ry="1.9" transform="rotate(-42 247.3 20.9)" fill="url(#gw)" opacity="0.8"/>
<ellipse cx="251.9" cy="22.3" rx="2.8" ry="1.8" transform="rotate(-15 251.9 22.3)" fill="url(#gw)" opacity="0.9"/>
<ellipse cx="255.5" cy="21.9" rx="3.4" ry="1.7" transform="rotate(-59 255.5 21.9)" fill="url(#gw)" opacity="0.8"/>
<ellipse cx="260.6" cy="22.9" rx="2.7" ry="2" transform="rotate(-33 260.6 22.9)" fill="url(#gw)" opacity="1"/>
<ellipse cx="269.9" cy="21" rx="2.9" ry="2" transform="rotate(-56 269.9 21)" fill="url(#gw)" opacity="0.7"/>
<ellipse cx="273.9" cy="22.8" rx="2.7" ry="2.3" transform="rotate(-30 273.9 22.8)" fill="url(#gw)" opacity="0.8"/>
<ellipse cx="277.7" cy="21.6" rx="2.5" ry="2" transform="rotate(-32 277.7 21.6)" fill="url(#gw)" opacity="0.8"/>
<ellipse cx="283.4" cy="22.9" rx="3.1" ry="1.8" transform="rotate(-57 283.4 22.9)" fill="url(#gw)" opacity="0.8"/>
<ellipse cx="286.8" cy="21.3" rx="2.6" ry="2.2" transform="rotate(-17 286.8 21.3)" fill="url(#gw)" opacity="0.7"/>
<ellipse cx="292.5" cy="21.8" rx="2.6" ry="1.7" transform="rotate(-37 292.5 21.8)" fill="url(#gw)" opacity="0.8"/>
<ellipse cx="300.2" cy="21.8" rx="2.7" ry="1.9" transform="rotate(-28 300.2 21.8)" fill="url(#gw)" opacity="0.8"/>
<ellipse cx="303.9" cy="21.4" rx="3" ry="1.8" transform="rotate(-28 303.9 21.4)" fill="url(#gw)" opacity="0.7"/>
<ellipse cx="309.6" cy="22.2" rx="3.2" ry="1.9" transform="rotate(-35 309.6 22.2)" fill="url(#gw)" opacity="0.9"/>
<ellipse cx="240" cy="26.3" rx="2.9" ry="1.8" transform="rotate(-55 240 26.3)" fill="url(#gw)" opacity="0.8"/>
<ellipse cx="246.3" cy="27.1" rx="2.8" ry="1.7" transform="rotate(-47 246.3 27.1)" fill="url(#gw)" opacity="0.8"/>
<ellipse cx="250.8" cy="25.5" rx="2.9" ry="2" transform="rotate(-48 250.8 25.5)" fill="url(#gw)" opacity="1"/>
<ellipse cx="253.5" cy="26.5" rx="2.6" ry="1.8" transform="rotate(-15 253.5 26.5)" fill="url(#gw)" opacity="0.9"/>
<ellipse cx="263.4" cy="26.9" rx="2.9" ry="2.3" transform="rotate(-45 263.4 26.9)" fill="url(#gw)" opacity="0.9"/>
<ellipse cx="266.7" cy="26.7" rx="2.9" ry="1.9" transform="rotate(-20 266.7 26.7)" fill="url(#gw)" opacity="0.9"/>
<ellipse cx="271.8" cy="26.7" rx="3.2" ry="1.9" transform="rotate(-35 271.8 26.7)" fill="url(#gw)" opacity="0.9"/>
<ellipse cx="276" cy="25.3" rx="3" ry="1.8" transform="rotate(-25 276 25.3)" fill="url(#gw)" opacity="0.8"/>
<ellipse cx="281.6" cy="27.1" rx="2.8" ry="1.7" transform="rotate(-34 281.6 27.1)" fill="url(#gw)" opacity="0.9"/>
<ellipse cx="285.9" cy="25.6" rx="3.4" ry="2.1" transform="rotate(-38 285.9 25.6)" fill="url(#gw)" opacity="0.9"/>
<ellipse cx="288.6" cy="26.4" rx="3" ry="1.8" transform="rotate(-53 288.6 26.4)" fill="url(#gw)" opacity="0.9"/>
<ellipse cx="297.3" cy="26.9" rx="2.9" ry="2.3" transform="rotate(-32 297.3 26.9)" fill="url(#gw)" opacity="0.7"/>
<ellipse cx="303" cy="25.2" rx="3.1" ry="1.8" transform="rotate(-58 303 25.2)" fill="url(#gw)" opacity="0.8"/>
<ellipse cx="312.1" cy="26.1" rx="2.8" ry="2.1" transform="rotate(-45 312.1 26.1)" fill="url(#gw)" opacity="0.7"/>
<ellipse cx="248.1" cy="30.7" rx="2.9" ry="2.1" transform="rotate(-56 248.1 30.7)" fill="url(#gw)" opacity="0.9"/>
<ellipse cx="255.5" cy="31" rx="2.8" ry="2.1" transform="rotate(-34 255.5 31)" fill="url(#gw)" opacity="0.8"/>
<ellipse cx="264.8" cy="31.1" rx="2.9" ry="1.9" transform="rotate(-43 264.8 31.1)" fill="url(#gw)" opacity="0.9"/>
<ellipse cx="270.1" cy="31.6" rx="2.6" ry="1.9" transform="rotate(-57 270.1 31.6)" fill="url(#gw)" opacity="0.7"/>
<ellipse cx="274.2" cy="30.8" rx="2.6" ry="1.8" transform="rotate(-51 274.2 30.8)" fill="url(#gw)" opacity="0.8"/>
<ellipse cx="277.9" cy="31.4" rx="2.7" ry="2" transform="rotate(-58 277.9 31.4)" fill="url(#gw)" opacity="0.9"/>
<ellipse cx="283.4" cy="30.3" rx="2.7" ry="1.8" transform="rotate(-49 283.4 30.3)" fill="url(#gw)" opacity="0.7"/>
<ellipse cx="287.4" cy="30.9" rx="2.5" ry="2.2" transform="rotate(-38 287.4 30.9)" fill="url(#gw)" opacity="0.8"/>
<ellipse cx="291.6" cy="30.5" rx="2.8" ry="2.1" transform="rotate(-27 291.6 30.5)" fill="url(#gw)" opacity="1"/>
<ellipse cx="295.3" cy="31.5" rx="3.1" ry="2.3" transform="rotate(-53 295.3 31.5)" fill="url(#gw)" opacity="0.9"/>
<ellipse cx="301.3" cy="29.8" rx="3.3" ry="1.9" transform="rotate(-21 301.3 29.8)" fill="url(#gw)" opacity="1"/>
<ellipse cx="304.7" cy="29.8" rx="3.2" ry="2" transform="rotate(-45 304.7 29.8)" fill="url(#gw)" opacity="0.8"/>
<ellipse cx="240.5" cy="34.9" rx="2.8" ry="2.2" transform="rotate(-38 240.5 34.9)" fill="url(#gw)" opacity="0.7"/>
<ellipse cx="244.7" cy="35.7" rx="2.8" ry="2" transform="rotate(-21 244.7 35.7)" fill="url(#gw)" opacity="0.8"/>
<ellipse cx="254.3" cy="34.9" rx="2.9" ry="2" transform="rotate(-27 254.3 34.9)" fill="url(#gw)" opacity="0.7"/>
<ellipse cx="259.7" cy="34.1" rx="2.6" ry="2.2" transform="rotate(-48 259.7 34.1)" fill="url(#gw)" opacity="0.7"/>
<ellipse cx="263.1" cy="35.6" rx="3.3" ry="2.3" transform="rotate(-57 263.1 35.6)" fill="url(#gw)" opacity="0.8"/>
<ellipse cx="266.5" cy="35.5" rx="3.1" ry="2.2" transform="rotate(-15 266.5 35.5)" fill="url(#gw)" opacity="0.9"/>
<ellipse cx="281.3" cy="34.4" rx="2.4" ry="1.8" transform="rotate(-27 281.3 34.4)" fill="url(#gw)" opacity="0.7"/>
<ellipse cx="285" cy="35.9" rx="3.1" ry="2.1" transform="rotate(-32 285 35.9)" fill="url(#gw)" opacity="0.9"/>
<ellipse cx="289.8" cy="33.8" rx="2.9" ry="2.3" transform="rotate(-50 289.8 33.8)" fill="url(#gw)" opacity="0.9"/>
<ellipse cx="293" cy="35.7" rx="2.9" ry="2.1" transform="rotate(-53 293 35.7)" fill="url(#gw)" opacity="0.9"/>
<ellipse cx="298.9" cy="35.7" rx="2.6" ry="1.8" transform="rotate(-19 298.9 35.7)" fill="url(#gw)" opacity="0.8"/>
<ellipse cx="302.4" cy="34.9" rx="2.7" ry="1.9" transform="rotate(-25 302.4 34.9)" fill="url(#gw)" opacity="0.9"/>
<ellipse cx="306.6" cy="34" rx="3.1" ry="2.1" transform="rotate(-41 306.6 34)" fill="url(#gw)" opacity="1"/>
<ellipse cx="243.4" cy="38.6" rx="3" ry="1.7" transform="rotate(-26 243.4 38.6)" fill="url(#gw)" opacity="0.7"/>
<ellipse cx="248.7" cy="38.4" rx="2.6" ry="2.2" transform="rotate(-23 248.7 38.4)" fill="url(#gw)" opacity="0.9"/>
<ellipse cx="251.2" cy="39" rx="2.5" ry="2.3" transform="rotate(-22 251.2 39)" fill="url(#gw)" opacity="1"/>
<ellipse cx="256.8" cy="39.5" rx="2.7" ry="1.9" transform="rotate(-54 256.8 39.5)" fill="url(#gw)" opacity="0.7"/>
<ellipse cx="261.5" cy="38.3" rx="2.8" ry="2.2" transform="rotate(-25 261.5 38.3)" fill="url(#gw)" opacity="0.9"/>
<ellipse cx="266" cy="38.2" rx="2.8" ry="2" transform="rotate(-29 266 38.2)" fill="url(#gw)" opacity="1"/>
<ellipse cx="270.1" cy="40.1" rx="2.8" ry="2" transform="rotate(-26 270.1 40.1)" fill="url(#gw)" opacity="0.9"/>
<ellipse cx="273.7" cy="38.9" rx="2.6" ry="2.2" transform="rotate(-59 273.7 38.9)" fill="url(#gw)" opacity="0.9"/>
<ellipse cx="278.4" cy="38.5" rx="2.9" ry="2.3" transform="rotate(-20 278.4 38.5)" fill="url(#gw)" opacity="0.9"/>
<ellipse cx="283.6" cy="40" rx="3.2" ry="2.2" transform="rotate(-15 283.6 40)" fill="url(#gw)" opacity="0.9"/>
<ellipse cx="287" cy="38.6" rx="2.6" ry="2.2" transform="rotate(-34 287 38.6)" fill="url(#gw)" opacity="0.9"/>
<ellipse cx="291.3" cy="38.8" rx="3.1" ry="1.9" transform="rotate(-34 291.3 38.8)" fill="url(#gw)" opacity="0.8"/>
<ellipse cx="296.3" cy="39.2" rx="3.4" ry="2.2" transform="rotate(-25 296.3 39.2)" fill="url(#gw)" opacity="0.7"/>
<ellipse cx="244.7" cy="42.9" rx="2.6" ry="1.8" transform="rotate(-25 244.7 42.9)" fill="url(#gw)" opacity="0.7"/>
<ellipse cx="250.9" cy="43.4" rx="3.2" ry="1.8" transform="rotate(-24 250.9 43.4)" fill="url(#gw)" opacity="0.8"/>
<ellipse cx="253.6" cy="42.5" rx="3" ry="1.9" transform="rotate(-22 253.6 42.5)" fill="url(#gw)" opacity="0.7"/>
<ellipse cx="258.5" cy="42.6" rx="3.3" ry="2" transform="rotate(-53 258.5 42.6)" fill="url(#gw)" opacity="0.7"/>
<ellipse cx="263.3" cy="43" rx="2.5" ry="2.2" transform="rotate(-32 263.3 43)" fill="url(#gw)" opacity="0.9"/>
<ellipse cx="267.1" cy="42.6" rx="3" ry="1.7" transform="rotate(-55 267.1 42.6)" fill="url(#gw)" opacity="0.9"/>
<ellipse cx="272.6" cy="44.3" rx="3" ry="2.2" transform="rotate(-28 272.6 44.3)" fill="url(#gw)" opacity="0.8"/>
<ellipse cx="280" cy="43.4" rx="3.4" ry="2" transform="rotate(-26 280 43.4)" fill="url(#gw)" opacity="1"/>
<ellipse cx="284.4" cy="44.3" rx="2.7" ry="1.8" transform="rotate(-23 284.4 44.3)" fill="url(#gw)" opacity="1"/>
<ellipse cx="290.1" cy="43.3" rx="2.5" ry="1.8" transform="rotate(-41 290.1 43.3)" fill="url(#gw)" opacity="0.9"/>
<ellipse cx="243.1" cy="47.9" rx="2.9" ry="2.2" transform="rotate(-46 243.1 47.9)" fill="url(#gw)" opacity="0.9"/>
<ellipse cx="247.8" cy="48.3" rx="2.5" ry="2.3" transform="rotate(-32 247.8 48.3)" fill="url(#gw)" opacity="0.7"/>
<ellipse cx="251.9" cy="46.9" rx="3.2" ry="2.1" transform="rotate(-21 251.9 46.9)" fill="url(#gw)" opacity="0.7"/>
<ellipse cx="255.5" cy="47.5" rx="3.1" ry="1.9" transform="rotate(-26 255.5 47.5)" fill="url(#gw)" opacity="0.9"/>
<ellipse cx="269.6" cy="47.8" rx="2.8" ry="2.3" transform="rotate(-24 269.6 47.8)" fill="url(#gw)" opacity="0.7"/>
<ellipse cx="272.9" cy="48.8" rx="2.5" ry="1.8" transform="rotate(-28 272.9 48.8)" fill="url(#gw)" opacity="0.7"/>
<ellipse cx="278.1" cy="48.2" rx="3.1" ry="2.3" transform="rotate(-24 278.1 48.2)" fill="url(#gw)" opacity="0.9"/>
<ellipse cx="283.1" cy="47.4" rx="3" ry="2.1" transform="rotate(-37 283.1 47.4)" fill="url(#gw)" opacity="0.9"/>
<ellipse cx="286.5" cy="48.3" rx="2.4" ry="1.9" transform="rotate(-15 286.5 48.3)" fill="url(#gw)" opacity="0.7"/>
<ellipse cx="240.9" cy="53" rx="2.7" ry="2.2" transform="rotate(-40 240.9 53)" fill="url(#gw)" opacity="1"/>
<ellipse cx="246.2" cy="52.9" rx="2.6" ry="2.1" transform="rotate(-33 246.2 52.9)" fill="url(#gw)" opacity="0.8"/>
<ellipse cx="249.9" cy="51.7" rx="3.3" ry="1.9" transform="rotate(-55 249.9 51.7)" fill="url(#gw)" opacity="1"/>
<ellipse cx="254.2" cy="52.5" rx="2.5" ry="1.9" transform="rotate(-22 254.2 52.5)" fill="url(#gw)" opacity="0.7"/>
<ellipse cx="259.5" cy="51.7" rx="2.6" ry="2" transform="rotate(-54 259.5 51.7)" fill="url(#gw)" opacity="0.7"/>
<ellipse cx="263" cy="51.8" rx="2.6" ry="1.9" transform="rotate(-45 263 51.8)" fill="url(#gw)" opacity="1"/>
<ellipse cx="266.5" cy="51.9" rx="3" ry="1.9" transform="rotate(-15 266.5 51.9)" fill="url(#gw)" opacity="0.7"/>
<ellipse cx="271" cy="51" rx="3.3" ry="1.9" transform="rotate(-47 271 51)" fill="url(#gw)" opacity="0.9"/>
<ellipse cx="275.3" cy="51" rx="2.5" ry="2" transform="rotate(-53 275.3 51)" fill="url(#gw)" opacity="0.9"/>
<ellipse cx="281.4" cy="52" rx="3" ry="2.1" transform="rotate(-57 281.4 52)" fill="url(#gw)" opacity="0.7"/>
<ellipse cx="242.5" cy="55.8" rx="2.7" ry="1.8" transform="rotate(-47 242.5 55.8)" fill="url(#gw)" opacity="0.8"/>
<ellipse cx="247.4" cy="56.1" rx="2.6" ry="2" transform="rotate(-33 247.4 56.1)" fill="url(#gw)" opacity="0.7"/>
<ellipse cx="252.2" cy="56" rx="3.3" ry="1.8" transform="rotate(-28 252.2 56)" fill="url(#gw)" opacity="0.8"/>
<ellipse cx="255.5" cy="57.2" rx="3.2" ry="2.1" transform="rotate(-15 255.5 57.2)" fill="url(#gw)" opacity="0.8"/>
<ellipse cx="261.2" cy="56.7" rx="3.3" ry="1.9" transform="rotate(-50 261.2 56.7)" fill="url(#gw)" opacity="0.8"/>
<ellipse cx="265.4" cy="56.1" rx="3.2" ry="2.1" transform="rotate(-35 265.4 56.1)" fill="url(#gw)" opacity="0.9"/>
<ellipse cx="268.9" cy="57.1" rx="3.3" ry="2.1" transform="rotate(-47 268.9 57.1)" fill="url(#gw)" opacity="0.7"/>
<ellipse cx="274.2" cy="56.3" rx="2.5" ry="2.2" transform="rotate(-40 274.2 56.3)" fill="url(#gw)" opacity="0.8"/>
<ellipse cx="240.5" cy="59.8" rx="3" ry="2.1" transform="rotate(-23 240.5 59.8)" fill="url(#gw)" opacity="0.7"/>
<ellipse cx="246.3" cy="60.3" rx="2.8" ry="2.1" transform="rotate(-46 246.3 60.3)" fill="url(#gw)" opacity="0.7"/>
<ellipse cx="249.2" cy="61.2" rx="2.6" ry="1.9" transform="rotate(-34 249.2 61.2)" fill="url(#gw)" opacity="0.8"/>
<ellipse cx="254.4" cy="61.5" rx="3.2" ry="1.9" transform="rotate(-20 254.4 61.5)" fill="url(#gw)" opacity="1"/>
<ellipse cx="263.6" cy="61.5" rx="2.9" ry="2" transform="rotate(-54 263.6 61.5)" fill="url(#gw)" opacity="0.9"/>
<ellipse cx="268.5" cy="60.1" rx="3.3" ry="2.1" transform="rotate(-44 268.5 60.1)" fill="url(#gw)" opacity="0.7"/>
<ellipse cx="272.3" cy="61.6" rx="2.8" ry="2.1" transform="rotate(-23 272.3 61.6)" fill="url(#gw)" opacity="0.8"/>
<ellipse cx="243.5" cy="65.8" rx="2.5" ry="1.9" transform="rotate(-18 243.5 65.8)" fill="url(#gw)" opacity="0.8"/>
<ellipse cx="247.5" cy="65.8" rx="3.2" ry="2" transform="rotate(-37 247.5 65.8)" fill="url(#gw)" opacity="0.7"/>
<ellipse cx="251.3" cy="64.2" rx="2.9" ry="1.7" transform="rotate(-31 251.3 64.2)" fill="url(#gw)" opacity="0.7"/>
<ellipse cx="256.1" cy="64" rx="2.5" ry="2.3" transform="rotate(-43 256.1 64)" fill="url(#gw)" opacity="0.9"/>
<ellipse cx="260.7" cy="64.6" rx="2.7" ry="2" transform="rotate(-31 260.7 64.6)" fill="url(#gw)" opacity="1"/>
<ellipse cx="265.6" cy="64" rx="3.4" ry="2.2" transform="rotate(-43 265.6 64)" fill="url(#gw)" opacity="0.7"/>
<ellipse cx="241.2" cy="69.4" rx="3.1" ry="1.9" transform="rotate(-30 241.2 69.4)" fill="url(#gw)" opacity="0.9"/>
<ellipse cx="245.3" cy="70.2" rx="3" ry="2" transform="rotate(-32 245.3 70.2)" fill="url(#gw)" opacity="0.7"/>
<ellipse cx="250.2" cy="68.5" rx="2.9" ry="2.1" transform="rotate(-21 250.2 68.5)" fill="url(#gw)" opacity="1"/>
<ellipse cx="253.6" cy="70.2" rx="2.9" ry="1.7" transform="rotate(-21 253.6 70.2)" fill="url(#gw)" opacity="0.7"/>
<ellipse cx="258.1" cy="68.9" rx="2.7" ry="1.9" transform="rotate(-36 258.1 68.9)" fill="url(#gw)" opacity="0.8"/>
<ellipse cx="263.6" cy="70.3" rx="2.8" ry="2.1" transform="rotate(-27 263.6 70.3)" fill="url(#gw)" opacity="0.9"/>
<ellipse cx="246.9" cy="72.6" rx="3.2" ry="2.1" transform="rotate(-31 246.9 72.6)" fill="url(#gw)" opacity="1"/>
<ellipse cx="252.7" cy="73.1" rx="2.9" ry="1.8" transform="rotate(-33 252.7 73.1)" fill="url(#gw)" opacity="0.7"/>
<ellipse cx="256.2" cy="74.1" rx="2.5" ry="2.1" transform="rotate(-51 256.2 74.1)" fill="url(#gw)" opacity="1"/>
<ellipse cx="241.8" cy="77.2" rx="2.6" ry="1.9" transform="rotate(-24 241.8 77.2)" fill="url(#gw)" opacity="0.8"/>
<ellipse cx="245" cy="78.3" rx="3.3" ry="2.1" transform="rotate(-22 245 78.3)" fill="url(#gw)" opacity="0.8"/>
<ellipse cx="249.6" cy="77.8" rx="3.3" ry="2" transform="rotate(-37 249.6 77.8)" fill="url(#gw)" opacity="0.7"/>
<ellipse cx="255" cy="78.1" rx="2.6" ry="2" transform="rotate(-28 255 78.1)" fill="url(#gw)" opacity="0.7"/>
<ellipse cx="243.1" cy="81.2" rx="2.7" ry="2.2" transform="rotate(-29 243.1 81.2)" fill="url(#gw)" opacity="0.7"/>
<ellipse cx="247.3" cy="82.1" rx="2.4" ry="2" transform="rotate(-49 247.3 82.1)" fill="url(#gw)" opacity="0.7"/>
<ellipse cx="240.9" cy="87.4" rx="2.8" ry="2.3" transform="rotate(-32 240.9 87.4)" fill="url(#gw)" opacity="0.7"/>
<ellipse cx="244.6" cy="86.6" rx="2.5" ry="2.2" transform="rotate(-45 244.6 86.6)" fill="url(#gw)" opacity="1"/>
<ellipse cx="249.5" cy="85.8" rx="3.2" ry="2.2" transform="rotate(-34 249.5 85.8)" fill="url(#gw)" opacity="0.7"/>
<ellipse cx="242.1" cy="91.6" rx="2.5" ry="2.1" transform="rotate(-37 242.1 91.6)" fill="url(#gw)" opacity="0.9"/>
<ellipse cx="241" cy="95.7" rx="3.1" ry="2" transform="rotate(-17 241 95.7)" fill="url(#gw)" opacity="0.8"/>
<ellipse cx="425.9" cy="138.6" rx="2.5" ry="2.2" transform="rotate(-51 425.9 138.6)" fill="url(#gw)" opacity="0.9"/>
<ellipse cx="410.2" cy="142.7" rx="3.4" ry="2.1" transform="rotate(-18 410.2 142.7)" fill="url(#gw)" opacity="0.9"/>
<ellipse cx="415.2" cy="143.3" rx="3.2" ry="1.9" transform="rotate(-47 415.2 143.3)" fill="url(#gw)" opacity="1"/>
<ellipse cx="418.2" cy="142.2" rx="2.7" ry="2" transform="rotate(-44 418.2 142.2)" fill="url(#gw)" opacity="0.9"/>
<ellipse cx="424.3" cy="141.4" rx="3.3" ry="1.9" transform="rotate(-16 424.3 141.4)" fill="url(#gw)" opacity="0.7"/>
<ellipse cx="428" cy="141.7" rx="2.9" ry="2.2" transform="rotate(-29 428 141.7)" fill="url(#gw)" opacity="0.7"/>
<ellipse cx="403.9" cy="146.9" rx="2.9" ry="1.9" transform="rotate(-27 403.9 146.9)" fill="url(#gw)" opacity="0.7"/>
<ellipse cx="412" cy="147.1" rx="2.9" ry="1.8" transform="rotate(-48 412 147.1)" fill="url(#gw)" opacity="0.9"/>
<ellipse cx="418" cy="145.9" rx="3.4" ry="2" transform="rotate(-19 418 145.9)" fill="url(#gw)" opacity="0.7"/>
<ellipse cx="422" cy="145.8" rx="2.5" ry="1.7" transform="rotate(-25 422 145.8)" fill="url(#gw)" opacity="0.8"/>
<ellipse cx="425.5" cy="147.2" rx="3.3" ry="1.8" transform="rotate(-16 425.5 147.2)" fill="url(#gw)" opacity="1"/>
<ellipse cx="389" cy="151.8" rx="3.3" ry="1.7" transform="rotate(-39 389 151.8)" fill="url(#gw)" opacity="0.9"/>
<ellipse cx="393.7" cy="150.7" rx="3.1" ry="1.7" transform="rotate(-26 393.7 150.7)" fill="url(#gw)" opacity="0.9"/>
<ellipse cx="396.4" cy="150.6" rx="3.3" ry="2.3" transform="rotate(-51 396.4 150.6)" fill="url(#gw)" opacity="0.8"/>
<ellipse cx="400.8" cy="150" rx="3.3" ry="2.2" transform="rotate(-51 400.8 150)" fill="url(#gw)" opacity="0.9"/>
<ellipse cx="406.3" cy="150.9" rx="2.5" ry="1.9" transform="rotate(-54 406.3 150.9)" fill="url(#gw)" opacity="1"/>
<ellipse cx="415.6" cy="151.6" rx="3.3" ry="2.1" transform="rotate(-37 415.6 151.6)" fill="url(#gw)" opacity="0.9"/>
<ellipse cx="418.4" cy="151.7" rx="2.8" ry="2.2" transform="rotate(-59 418.4 151.7)" fill="url(#gw)" opacity="0.8"/>
<ellipse cx="424.3" cy="150.8" rx="3.1" ry="1.8" transform="rotate(-37 424.3 150.8)" fill="url(#gw)" opacity="0.8"/>
<ellipse cx="428.4" cy="151.5" rx="2.5" ry="2.2" transform="rotate(-51 428.4 151.5)" fill="url(#gw)" opacity="0.9"/>
<ellipse cx="241.2" cy="155.9" rx="3.4" ry="1.7" transform="rotate(-45 241.2 155.9)" fill="url(#gw)" opacity="0.8"/>
<ellipse cx="245.5" cy="155.7" rx="2.8" ry="1.9" transform="rotate(-44 245.5 155.7)" fill="url(#gw)" opacity="0.7"/>
<ellipse cx="377.7" cy="155.8" rx="3" ry="1.9" transform="rotate(-29 377.7 155.8)" fill="url(#gw)" opacity="0.8"/>
<ellipse cx="391.2" cy="155.3" rx="2.8" ry="2.2" transform="rotate(-35 391.2 155.3)" fill="url(#gw)" opacity="0.8"/>
<ellipse cx="394.9" cy="155.5" rx="3.1" ry="1.9" transform="rotate(-47 394.9 155.5)" fill="url(#gw)" opacity="0.7"/>
<ellipse cx="399.3" cy="154.6" rx="2.6" ry="1.9" transform="rotate(-19 399.3 154.6)" fill="url(#gw)" opacity="0.8"/>
<ellipse cx="403.3" cy="155.2" rx="2.5" ry="2.2" transform="rotate(-37 403.3 155.2)" fill="url(#gw)" opacity="1"/>
<ellipse cx="408.5" cy="154.7" rx="2.5" ry="1.8" transform="rotate(-53 408.5 154.7)" fill="url(#gw)" opacity="0.7"/>
<ellipse cx="411.8" cy="156.2" rx="2.9" ry="1.8" transform="rotate(-45 411.8 156.2)" fill="url(#gw)" opacity="0.7"/>
<ellipse cx="416.7" cy="154.8" rx="3.4" ry="1.8" transform="rotate(-39 416.7 154.8)" fill="url(#gw)" opacity="0.9"/>
<ellipse cx="422.5" cy="154.3" rx="2.8" ry="2" transform="rotate(-28 422.5 154.3)" fill="url(#gw)" opacity="0.9"/>
<ellipse cx="425.5" cy="156" rx="2.6" ry="1.8" transform="rotate(-51 425.5 156)" fill="url(#gw)" opacity="0.9"/>
<ellipse cx="243.1" cy="159.5" rx="2.7" ry="2.3" transform="rotate(-56 243.1 159.5)" fill="url(#gw)" opacity="0.9"/>
<ellipse cx="366.9" cy="159.3" rx="2.9" ry="2" transform="rotate(-27 366.9 159.3)" fill="url(#gw)" opacity="0.9"/>
<ellipse cx="370.1" cy="160.4" rx="2.9" ry="1.8" transform="rotate(-39 370.1 160.4)" fill="url(#gw)" opacity="1"/>
<ellipse cx="374.7" cy="159.2" rx="3.1" ry="2.2" transform="rotate(-42 374.7 159.2)" fill="url(#gw)" opacity="0.9"/>
<ellipse cx="379" cy="158.6" rx="2.6" ry="2.2" transform="rotate(-45 379 158.6)" fill="url(#gw)" opacity="0.8"/>
<ellipse cx="384.8" cy="158.6" rx="2.7" ry="1.7" transform="rotate(-44 384.8 158.6)" fill="url(#gw)" opacity="0.7"/>
<ellipse cx="387.9" cy="159.6" rx="2.6" ry="2.3" transform="rotate(-53 387.9 159.6)" fill="url(#gw)" opacity="0.7"/>
<ellipse cx="392.3" cy="158.5" rx="2.6" ry="1.7" transform="rotate(-32 392.3 158.5)" fill="url(#gw)" opacity="0.8"/>
<ellipse cx="396.4" cy="159.5" rx="2.5" ry="2" transform="rotate(-49 396.4 159.5)" fill="url(#gw)" opacity="0.8"/>
<ellipse cx="401.6" cy="160.7" rx="3" ry="1.9" transform="rotate(-39 401.6 160.7)" fill="url(#gw)" opacity="0.7"/>
<ellipse cx="406.8" cy="160.5" rx="2.8" ry="2.1" transform="rotate(-46 406.8 160.5)" fill="url(#gw)" opacity="0.9"/>
<ellipse cx="415.9" cy="159.8" rx="3.2" ry="2.2" transform="rotate(-55 415.9 159.8)" fill="url(#gw)" opacity="0.7"/>
<ellipse cx="418.9" cy="160.4" rx="2.6" ry="1.8" transform="rotate(-24 418.9 160.4)" fill="url(#gw)" opacity="1"/>
<ellipse cx="427.8" cy="158.5" rx="2.6" ry="1.7" transform="rotate(-16 427.8 158.5)" fill="url(#gw)" opacity="0.7"/>
<ellipse cx="241.2" cy="163.9" rx="3.4" ry="1.9" transform="rotate(-31 241.2 163.9)" fill="url(#gw)" opacity="0.9"/>
<ellipse cx="245.9" cy="164.1" rx="2.8" ry="2.1" transform="rotate(-57 245.9 164.1)" fill="url(#gw)" opacity="0.8"/>
<ellipse cx="360.4" cy="163.2" rx="3.3" ry="2" transform="rotate(-29 360.4 163.2)" fill="url(#gw)" opacity="0.7"/>
<ellipse cx="364.3" cy="164" rx="2.9" ry="1.7" transform="rotate(-32 364.3 164)" fill="url(#gw)" opacity="0.8"/>
<ellipse cx="369" cy="163.4" rx="2.9" ry="2.2" transform="rotate(-36 369 163.4)" fill="url(#gw)" opacity="0.7"/>
<ellipse cx="372.9" cy="163.4" rx="2.8" ry="1.9" transform="rotate(-15 372.9 163.4)" fill="url(#gw)" opacity="1"/>
<ellipse cx="377.4" cy="164" rx="3" ry="1.9" transform="rotate(-37 377.4 164)" fill="url(#gw)" opacity="0.9"/>
<ellipse cx="386.3" cy="162.9" rx="2.5" ry="1.9" transform="rotate(-16 386.3 162.9)" fill="url(#gw)" opacity="0.7"/>
<ellipse cx="390.3" cy="164.6" rx="2.6" ry="2" transform="rotate(-32 390.3 164.6)" fill="url(#gw)" opacity="0.7"/>
<ellipse cx="394.5" cy="162.9" rx="2.8" ry="2.1" transform="rotate(-46 394.5 162.9)" fill="url(#gw)" opacity="0.8"/>
<ellipse cx="400" cy="163.4" rx="3.2" ry="2.3" transform="rotate(-26 400 163.4)" fill="url(#gw)" opacity="0.9"/>
<ellipse cx="404.1" cy="163.6" rx="2.6" ry="1.9" transform="rotate(-54 404.1 163.6)" fill="url(#gw)" opacity="0.8"/>
<ellipse cx="413.4" cy="162.9" rx="2.9" ry="1.7" transform="rotate(-24 413.4 162.9)" fill="url(#gw)" opacity="0.9"/>
<ellipse cx="418" cy="164.2" rx="2.6" ry="1.9" transform="rotate(-31 418 164.2)" fill="url(#gw)" opacity="0.9"/>
<ellipse cx="420.7" cy="164" rx="2.6" ry="2.1" transform="rotate(-47 420.7 164)" fill="url(#gw)" opacity="0.8"/>
<ellipse cx="429.8" cy="164.1" rx="2.6" ry="2" transform="rotate(-38 429.8 164.1)" fill="url(#gw)" opacity="0.8"/>
<ellipse cx="244" cy="167.6" rx="3.4" ry="1.9" transform="rotate(-23 244 167.6)" fill="url(#gw)" opacity="0.8"/>
<ellipse cx="246.5" cy="168.4" rx="2.5" ry="2.2" transform="rotate(-28 246.5 168.4)" fill="url(#gw)" opacity="1"/>
<ellipse cx="349.7" cy="169.2" rx="3.1" ry="2" transform="rotate(-56 349.7 169.2)" fill="url(#gw)" opacity="1"/>
<ellipse cx="354" cy="169.1" rx="2.9" ry="2.2" transform="rotate(-21 354 169.1)" fill="url(#gw)" opacity="0.9"/>
<ellipse cx="356.6" cy="168.6" rx="2.5" ry="2" transform="rotate(-56 356.6 168.6)" fill="url(#gw)" opacity="0.8"/>
<ellipse cx="361.9" cy="168" rx="2.9" ry="2" transform="rotate(-53 361.9 168)" fill="url(#gw)" opacity="0.7"/>
<ellipse cx="366" cy="167.1" rx="3.3" ry="1.8" transform="rotate(-20 366 167.1)" fill="url(#gw)" opacity="0.8"/>
<ellipse cx="370.7" cy="168.8" rx="2.9" ry="2.3" transform="rotate(-56 370.7 168.8)" fill="url(#gw)" opacity="0.8"/>
<ellipse cx="374.8" cy="168.2" rx="3.1" ry="1.9" transform="rotate(-18 374.8 168.2)" fill="url(#gw)" opacity="1"/>
<ellipse cx="380.2" cy="168.4" rx="2.5" ry="2.1" transform="rotate(-39 380.2 168.4)" fill="url(#gw)" opacity="0.8"/>
<ellipse cx="384.4" cy="167.9" rx="2.5" ry="1.9" transform="rotate(-38 384.4 167.9)" fill="url(#gw)" opacity="0.7"/>
<ellipse cx="387.6" cy="168.6" rx="2.5" ry="2.1" transform="rotate(-21 387.6 168.6)" fill="url(#gw)" opacity="0.9"/>
<ellipse cx="393.1" cy="167.7" rx="3.2" ry="2.2" transform="rotate(-35 393.1 167.7)" fill="url(#gw)" opacity="0.7"/>
<ellipse cx="397.1" cy="167.9" rx="2.5" ry="1.8" transform="rotate(-35 397.1 167.9)" fill="url(#gw)" opacity="0.7"/>
<ellipse cx="400.9" cy="168.3" rx="3.2" ry="2.3" transform="rotate(-34 400.9 168.3)" fill="url(#gw)" opacity="0.9"/>
<ellipse cx="405.8" cy="168.4" rx="3.3" ry="2" transform="rotate(-49 405.8 168.4)" fill="url(#gw)" opacity="0.8"/>
<ellipse cx="411.2" cy="167.2" rx="3.1" ry="2" transform="rotate(-47 411.2 167.2)" fill="url(#gw)" opacity="0.7"/>
<ellipse cx="414.5" cy="168.7" rx="2.9" ry="1.9" transform="rotate(-41 414.5 168.7)" fill="url(#gw)" opacity="0.7"/>
<ellipse cx="424.6" cy="167.1" rx="2.7" ry="2" transform="rotate(-48 424.6 167.1)" fill="url(#gw)" opacity="0.9"/>
<ellipse cx="427" cy="169.1" rx="3.3" ry="2.1" transform="rotate(-53 427 169.1)" fill="url(#gw)" opacity="0.9"/>
<ellipse cx="240.6" cy="171.7" rx="3.4" ry="2.2" transform="rotate(-40 240.6 171.7)" fill="url(#gw)" opacity="0.7"/>
<ellipse cx="246.1" cy="171.4" rx="2.8" ry="1.9" transform="rotate(-59 246.1 171.4)" fill="url(#gw)" opacity="0.9"/>
<ellipse cx="341.1" cy="172.3" rx="3.2" ry="1.9" transform="rotate(-40 341.1 172.3)" fill="url(#gw)" opacity="0.9"/>
<ellipse cx="345.9" cy="172.5" rx="2.8" ry="2.2" transform="rotate(-17 345.9 172.5)" fill="url(#gw)" opacity="1"/>
<ellipse cx="351.7" cy="171.5" rx="2.8" ry="1.9" transform="rotate(-39 351.7 171.5)" fill="url(#gw)" opacity="0.9"/>
<ellipse cx="360.3" cy="173.5" rx="3.2" ry="2.3" transform="rotate(-18 360.3 173.5)" fill="url(#gw)" opacity="0.8"/>
<ellipse cx="364.4" cy="172.5" rx="2.8" ry="1.7" transform="rotate(-45 364.4 172.5)" fill="url(#gw)" opacity="0.7"/>
<ellipse cx="373.3" cy="173.3" rx="3.1" ry="2" transform="rotate(-42 373.3 173.3)" fill="url(#gw)" opacity="0.8"/>
<ellipse cx="376.5" cy="172.1" rx="2.8" ry="1.9" transform="rotate(-46 376.5 172.1)" fill="url(#gw)" opacity="1"/>
<ellipse cx="381.2" cy="172.3" rx="2.8" ry="1.7" transform="rotate(-34 381.2 172.3)" fill="url(#gw)" opacity="0.8"/>
<ellipse cx="386.9" cy="172.1" rx="2.9" ry="2.1" transform="rotate(-54 386.9 172.1)" fill="url(#gw)" opacity="0.7"/>
<ellipse cx="391.2" cy="172" rx="3.2" ry="2" transform="rotate(-56 391.2 172)" fill="url(#gw)" opacity="0.7"/>
<ellipse cx="393.9" cy="172.7" rx="3.1" ry="1.9" transform="rotate(-19 393.9 172.7)" fill="url(#gw)" opacity="1"/>
<ellipse cx="399.8" cy="172.5" rx="2.9" ry="1.7" transform="rotate(-19 399.8 172.5)" fill="url(#gw)" opacity="0.7"/>
<ellipse cx="403.5" cy="172.2" rx="3" ry="2" transform="rotate(-15 403.5 172.2)" fill="url(#gw)" opacity="1"/>
<ellipse cx="408.5" cy="172.4" rx="3.3" ry="2.1" transform="rotate(-19 408.5 172.4)" fill="url(#gw)" opacity="0.8"/>
<ellipse cx="413.6" cy="171.6" rx="3.3" ry="2.2" transform="rotate(-52 413.6 171.6)" fill="url(#gw)" opacity="0.8"/>
<ellipse cx="416.4" cy="172.8" rx="3" ry="1.9" transform="rotate(-57 416.4 172.8)" fill="url(#gw)" opacity="0.8"/>
<ellipse cx="422.3" cy="173" rx="3" ry="1.9" transform="rotate(-59 422.3 173)" fill="url(#gw)" opacity="0.7"/>
<ellipse cx="425.4" cy="171.4" rx="2.7" ry="1.9" transform="rotate(-41 425.4 171.4)" fill="url(#gw)" opacity="0.9"/>
<ellipse cx="244.2" cy="177.3" rx="3.2" ry="1.7" transform="rotate(-34 244.2 177.3)" fill="url(#gw)" opacity="0.8"/>
<ellipse cx="339.6" cy="177" rx="2.5" ry="2.2" transform="rotate(-18 339.6 177)" fill="url(#gw)" opacity="0.9"/>
<ellipse cx="343.4" cy="176.3" rx="2.9" ry="1.8" transform="rotate(-17 343.4 176.3)" fill="url(#gw)" opacity="1"/>
<ellipse cx="347.9" cy="177.5" rx="2.9" ry="2" transform="rotate(-43 347.9 177.5)" fill="url(#gw)" opacity="0.8"/>
<ellipse cx="353.4" cy="176.4" rx="2.8" ry="1.8" transform="rotate(-31 353.4 176.4)" fill="url(#gw)" opacity="0.8"/>
<ellipse cx="358.1" cy="177.1" rx="2.6" ry="2" transform="rotate(-55 358.1 177.1)" fill="url(#gw)" opacity="0.9"/>
<ellipse cx="362.9" cy="177.2" rx="2.7" ry="2" transform="rotate(-25 362.9 177.2)" fill="url(#gw)" opacity="0.8"/>
<ellipse cx="366.6" cy="175.9" rx="3" ry="2.2" transform="rotate(-47 366.6 175.9)" fill="url(#gw)" opacity="0.8"/>
<ellipse cx="370.4" cy="175.9" rx="3.1" ry="1.9" transform="rotate(-39 370.4 175.9)" fill="url(#gw)" opacity="0.8"/>
<ellipse cx="375.4" cy="177.1" rx="3.3" ry="2.1" transform="rotate(-34 375.4 177.1)" fill="url(#gw)" opacity="1"/>
<ellipse cx="384.3" cy="177" rx="2.5" ry="1.8" transform="rotate(-25 384.3 177)" fill="url(#gw)" opacity="0.9"/>
<ellipse cx="388.8" cy="176.2" rx="3" ry="2.2" transform="rotate(-22 388.8 176.2)" fill="url(#gw)" opacity="0.9"/>
<ellipse cx="392.8" cy="177.2" rx="3.2" ry="2.3" transform="rotate(-32 392.8 177.2)" fill="url(#gw)" opacity="0.9"/>
<ellipse cx="397.7" cy="177.2" rx="3.2" ry="2.2" transform="rotate(-49 397.7 177.2)" fill="url(#gw)" opacity="0.8"/>
<ellipse cx="400.7" cy="176.2" rx="2.9" ry="2.2" transform="rotate(-17 400.7 176.2)" fill="url(#gw)" opacity="0.9"/>
<ellipse cx="410.5" cy="176.5" rx="2.8" ry="2.1" transform="rotate(-25 410.5 176.5)" fill="url(#gw)" opacity="0.8"/>
<ellipse cx="414.8" cy="177.2" rx="3" ry="1.8" transform="rotate(-46 414.8 177.2)" fill="url(#gw)" opacity="0.8"/>
<ellipse cx="419.2" cy="176.6" rx="2.7" ry="2.2" transform="rotate(-27 419.2 176.6)" fill="url(#gw)" opacity="0.7"/>
<ellipse cx="423.1" cy="177.3" rx="3" ry="2.2" transform="rotate(-52 423.1 177.3)" fill="url(#gw)" opacity="0.7"/>
<ellipse cx="429.1" cy="176.4" rx="2.7" ry="1.8" transform="rotate(-23 429.1 176.4)" fill="url(#gw)" opacity="0.9"/>
<ellipse cx="240.6" cy="180.5" rx="3.2" ry="1.8" transform="rotate(-35 240.6 180.5)" fill="url(#gw)" opacity="1"/>
<ellipse cx="245.2" cy="181.6" rx="2.7" ry="2.2" transform="rotate(-23 245.2 181.6)" fill="url(#gw)" opacity="0.8"/>
<ellipse cx="249.2" cy="180.3" rx="3" ry="2" transform="rotate(-41 249.2 180.3)" fill="url(#gw)" opacity="0.7"/>
<ellipse cx="253.5" cy="180.1" rx="3.3" ry="1.9" transform="rotate(-31 253.5 180.1)" fill="url(#gw)" opacity="0.9"/>
<ellipse cx="259.6" cy="182.2" rx="3.3" ry="2.1" transform="rotate(-43 259.6 182.2)" fill="url(#gw)" opacity="0.9"/>
<ellipse cx="262" cy="181.8" rx="2.5" ry="1.9" transform="rotate(-15 262 181.8)" fill="url(#gw)" opacity="1"/>
<ellipse cx="347.5" cy="181.9" rx="2.7" ry="2.2" transform="rotate(-47 347.5 181.9)" fill="url(#gw)" opacity="1"/>
<ellipse cx="351.8" cy="180.2" rx="3.4" ry="2.2" transform="rotate(-49 351.8 180.2)" fill="url(#gw)" opacity="0.8"/>
<ellipse cx="356.3" cy="180" rx="3.1" ry="1.9" transform="rotate(-30 356.3 180)" fill="url(#gw)" opacity="0.8"/>
<ellipse cx="359.8" cy="181.5" rx="2.5" ry="2.1" transform="rotate(-16 359.8 181.5)" fill="url(#gw)" opacity="1"/>
<ellipse cx="363.3" cy="181.2" rx="3.4" ry="1.9" transform="rotate(-19 363.3 181.2)" fill="url(#gw)" opacity="0.8"/>
<ellipse cx="369.5" cy="180.2" rx="3" ry="1.9" transform="rotate(-46 369.5 180.2)" fill="url(#gw)" opacity="0.9"/>
<ellipse cx="372.1" cy="181.8" rx="3.2" ry="2.1" transform="rotate(-41 372.1 181.8)" fill="url(#gw)" opacity="0.8"/>
<ellipse cx="376.8" cy="180.6" rx="2.5" ry="1.7" transform="rotate(-29 376.8 180.6)" fill="url(#gw)" opacity="1"/>
<ellipse cx="385.2" cy="181.3" rx="2.9" ry="1.7" transform="rotate(-17 385.2 181.3)" fill="url(#gw)" opacity="0.9"/>
<ellipse cx="389.9" cy="181.9" rx="2.7" ry="2" transform="rotate(-59 389.9 181.9)" fill="url(#gw)" opacity="0.8"/>
<ellipse cx="394.3" cy="182.1" rx="2.7" ry="2.1" transform="rotate(-54 394.3 182.1)" fill="url(#gw)" opacity="0.7"/>
<ellipse cx="399.2" cy="181.8" rx="2.7" ry="1.9" transform="rotate(-40 399.2 181.8)" fill="url(#gw)" opacity="0.8"/>
<ellipse cx="404.2" cy="181" rx="2.7" ry="2" transform="rotate(-56 404.2 181)" fill="url(#gw)" opacity="0.7"/>
<ellipse cx="412.7" cy="181.4" rx="3.3" ry="1.9" transform="rotate(-37 412.7 181.4)" fill="url(#gw)" opacity="0.9"/>
<ellipse cx="425.5" cy="181.2" rx="3.3" ry="2.1" transform="rotate(-36 425.5 181.2)" fill="url(#gw)" opacity="0.8"/>
<ellipse cx="429.6" cy="180.5" rx="2.5" ry="2.1" transform="rotate(-48 429.6 180.5)" fill="url(#gw)" opacity="1"/>
<ellipse cx="269.4" cy="185.3" rx="2.9" ry="2.2" transform="rotate(-39 269.4 185.3)" fill="url(#gw)" opacity="0.9"/>
<ellipse cx="340.2" cy="185.3" rx="2.7" ry="1.7" transform="rotate(-28 340.2 185.3)" fill="url(#gw)" opacity="0.8"/>
<ellipse cx="344.5" cy="184.7" rx="3.2" ry="1.8" transform="rotate(-43 344.5 184.7)" fill="url(#gw)" opacity="0.7"/>
<ellipse cx="349.8" cy="184.6" rx="2.6" ry="2" transform="rotate(-32 349.8 184.6)" fill="url(#gw)" opacity="0.7"/>
<ellipse cx="353.4" cy="185.8" rx="3.4" ry="1.9" transform="rotate(-34 353.4 185.8)" fill="url(#gw)" opacity="1"/>
<ellipse cx="357.2" cy="184.3" rx="2.5" ry="1.8" transform="rotate(-19 357.2 184.3)" fill="url(#gw)" opacity="0.9"/>
<ellipse cx="361.3" cy="185.1" rx="2.5" ry="1.9" transform="rotate(-59 361.3 185.1)" fill="url(#gw)" opacity="1"/>
<ellipse cx="366.3" cy="185.5" rx="3" ry="2" transform="rotate(-27 366.3 185.5)" fill="url(#gw)" opacity="0.8"/>
<ellipse cx="375.4" cy="184.7" rx="2.6" ry="2" transform="rotate(-44 375.4 184.7)" fill="url(#gw)" opacity="0.9"/>
<ellipse cx="379.2" cy="184.5" rx="2.8" ry="2.1" transform="rotate(-31 379.2 184.5)" fill="url(#gw)" opacity="0.7"/>
<ellipse cx="384.2" cy="184.3" rx="3" ry="2" transform="rotate(-43 384.2 184.3)" fill="url(#gw)" opacity="0.7"/>
<ellipse cx="388" cy="185" rx="3.4" ry="1.9" transform="rotate(-37 388 185)" fill="url(#gw)" opacity="0.7"/>
<ellipse cx="393.6" cy="184.5" rx="2.6" ry="1.9" transform="rotate(-40 393.6 184.5)" fill="url(#gw)" opacity="0.8"/>
<ellipse cx="405" cy="185.1" rx="2.4" ry="2" transform="rotate(-44 405 185.1)" fill="url(#gw)" opacity="1"/>
<ellipse cx="411.4" cy="185.6" rx="2.4" ry="2" transform="rotate(-19 411.4 185.6)" fill="url(#gw)" opacity="1"/>
<ellipse cx="415.3" cy="186" rx="3" ry="1.8" transform="rotate(-29 415.3 186)" fill="url(#gw)" opacity="0.7"/>
<ellipse cx="420.1" cy="184.8" rx="3.1" ry="2.1" transform="rotate(-50 420.1 184.8)" fill="url(#gw)" opacity="0.8"/>
<ellipse cx="428.4" cy="185.9" rx="2.8" ry="2.1" transform="rotate(-35 428.4 185.9)" fill="url(#gw)" opacity="0.8"/>
<ellipse cx="343.4" cy="-4.9" rx="2.2" ry="1.7" fill="url(#gd)"/>
<ellipse cx="355.4" cy="-4.9" rx="2.2" ry="1.7" fill="url(#gd)"/>
<ellipse cx="367.8" cy="-4.9" rx="2.2" ry="1.7" fill="url(#gd)"/>
<ellipse cx="380.4" cy="-4.9" rx="2.2" ry="1.7" fill="url(#gd)"/>
<ellipse cx="393" cy="-4.9" rx="2.2" ry="1.7" fill="url(#gd)"/>
<ellipse cx="405.4" cy="-4.9" rx="2.2" ry="1.7" fill="url(#gd)"/>
<ellipse cx="417.6" cy="-4.9" rx="2.2" ry="1.7" fill="url(#gd)"/>
<ellipse cx="429.6" cy="-4.9" rx="2.2" ry="1.7" fill="url(#gd)"/>
<ellipse cx="343.4" cy="1.1" rx="2.2" ry="1.7" fill="url(#gd)"/>
<ellipse cx="355.4" cy="1.1" rx="2.2" ry="1.7" fill="url(#gd)"/>
<ellipse cx="367.8" cy="1.1" rx="2.2" ry="1.7" fill="url(#gd)"/>
<ellipse cx="380.4" cy="1.1" rx="2.2" ry="1.7" fill="url(#gd)"/>
<ellipse cx="393" cy="1.1" rx="2.2" ry="1.7" fill="url(#gd)"/>
<ellipse cx="405.4" cy="1.1" rx="2.2" ry="1.7" fill="url(#gd)"/>
<ellipse cx="417.6" cy="1.1" rx="2.2" ry="1.7" fill="url(#gd)"/>
<ellipse cx="429.6" cy="1.1" rx="2.2" ry="1.7" fill="url(#gd)"/>
<ellipse cx="331.4" cy="7.1" rx="2.2" ry="1.7" fill="url(#gd)"/>
<ellipse cx="343.4" cy="7.1" rx="2.2" ry="1.7" fill="url(#gd)"/>
<ellipse cx="355.4" cy="7.1" rx="2.2" ry="1.7" fill="url(#gd)"/>
<ellipse cx="367.8" cy="7.1" rx="2.2" ry="1.7" fill="url(#gd)"/>
<ellipse cx="380.4" cy="7.1" rx="2.2" ry="1.7" fill="url(#gd)"/>
<ellipse cx="393" cy="7.1" rx="2.2" ry="1.7" fill="url(#gd)"/>
<ellipse cx="405.4" cy="7.1" rx="2.2" ry="1.7" fill="url(#gd)"/>
<ellipse cx="417.6" cy="7.1" rx="2.2" ry="1.7" fill="url(#gd)"/>
<ellipse cx="429.6" cy="7.1" rx="2.2" ry="1.7" fill="url(#gd)"/>
<ellipse cx="331.4" cy="13.1" rx="2.2" ry="1.7" fill="url(#gd)"/>
<ellipse cx="343.4" cy="13.1" rx="2.2" ry="1.7" fill="url(#gd)"/>
<ellipse cx="355.4" cy="13.1" rx="2.2" ry="1.7" fill="url(#gd)"/>
<ellipse cx="367.8" cy="13.1" rx="2.2" ry="1.7" fill="url(#gd)"/>
<ellipse cx="380.4" cy="13.1" rx="2.2" ry="1.7" fill="url(#gd)"/>
<ellipse cx="393" cy="13.1" rx="2.2" ry="1.7" fill="url(#gd)"/>
<ellipse cx="405.4" cy="13.1" rx="2.2" ry="1.7" fill="url(#gd)"/>
<ellipse cx="417.6" cy="13.1" rx="2.2" ry="1.7" fill="url(#gd)"/>
<ellipse cx="429.6" cy="13.1" rx="2.2" ry="1.7" fill="url(#gd)"/>
<ellipse cx="331.4" cy="19.1" rx="2.2" ry="1.7" fill="url(#gd)"/>
<ellipse cx="343.4" cy="19.1" rx="2.2" ry="1.7" fill="url(#gd)"/>
<ellipse cx="355.4" cy="19.1" rx="2.2" ry="1.7" fill="url(#gd)"/>
<ellipse cx="367.8" cy="19.1" rx="2.2" ry="1.7" fill="url(#gd)"/>
<ellipse cx="380.4" cy="19.1" rx="2.2" ry="1.7" fill="url(#gd)"/>
<ellipse cx="393" cy="19.1" rx="2.2" ry="1.7" fill="url(#gd)"/>
<ellipse cx="405.4" cy="19.1" rx="2.2" ry="1.7" fill="url(#gd)"/>
<ellipse cx="417.6" cy="19.1" rx="2.2" ry="1.7" fill="url(#gd)"/>
<ellipse cx="429.6" cy="19.1" rx="2.2" ry="1.7" fill="url(#gd)"/>
<ellipse cx="319.5" cy="25.1" rx="2.2" ry="1.7" fill="url(#gd)"/>
<ellipse cx="331.4" cy="25.1" rx="2.2" ry="1.7" fill="url(#gd)"/>
<ellipse cx="343.4" cy="25.1" rx="2.2" ry="1.7" fill="url(#gd)"/>
<ellipse cx="355.4" cy="25.1" rx="2.2" ry="1.7" fill="url(#gd)"/>
<ellipse cx="367.8" cy="25.1" rx="2.2" ry="1.7" fill="url(#gd)"/>
<ellipse cx="380.4" cy="25.1" rx="2.2" ry="1.7" fill="url(#gd)"/>
<ellipse cx="393" cy="25.1" rx="2.2" ry="1.7" fill="url(#gd)"/>
<ellipse cx="405.4" cy="25.1" rx="2.2" ry="1.7" fill="url(#gd)"/>
<ellipse cx="417.6" cy="25.1" rx="2.2" ry="1.7" fill="url(#gd)"/>
<ellipse cx="429.6" cy="25.1" rx="2.2" ry="1.7" fill="url(#gd)"/>
<ellipse cx="319.5" cy="31.1" rx="2.2" ry="1.7" fill="url(#gd)"/>
<ellipse cx="331.4" cy="31.1" rx="2.2" ry="1.7" fill="url(#gd)"/>
<ellipse cx="343.4" cy="31.1" rx="2.2" ry="1.7" fill="url(#gd)"/>
<ellipse cx="355.4" cy="31.1" rx="2.2" ry="1.7" fill="url(#gd)"/>
<ellipse cx="367.8" cy="31.1" rx="2.2" ry="1.7" fill="url(#gd)"/>
<ellipse cx="380.4" cy="31.1" rx="2.2" ry="1.7" fill="url(#gd)"/>
<ellipse cx="393" cy="31.1" rx="2.2" ry="1.7" fill="url(#gd)"/>
<ellipse cx="405.4" cy="31.1" rx="2.2" ry="1.7" fill="url(#gd)"/>
<ellipse cx="417.6" cy="31.1" rx="2.2" ry="1.7" fill="url(#gd)"/>
<ellipse cx="429.6" cy="31.1" rx="2.2" ry="1.7" fill="url(#gd)"/>
<ellipse cx="307.5" cy="37.1" rx="2.2" ry="1.7" fill="url(#gd)"/>
<ellipse cx="319.5" cy="37.1" rx="2.2" ry="1.7" fill="url(#gd)"/>
<ellipse cx="331.4" cy="37.1" rx="2.2" ry="1.7" fill="url(#gd)"/>
<ellipse cx="343.4" cy="37.1" rx="2.2" ry="1.7" fill="url(#gd)"/>
<ellipse cx="355.4" cy="37.1" rx="2.2" ry="1.7" fill="url(#gd)"/>
<ellipse cx="367.8" cy="37.1" rx="2.2" ry="1.7" fill="url(#gd)"/>
<ellipse cx="380.4" cy="37.1" rx="2.2" ry="1.7" fill="url(#gd)"/>
<ellipse cx="393" cy="37.1" rx="2.2" ry="1.7" fill="url(#gd)"/>
<ellipse cx="405.4" cy="37.1" rx="2.2" ry="1.7" fill="url(#gd)"/>
<ellipse cx="417.6" cy="37.1" rx="2.2" ry="1.7" fill="url(#gd)"/>
<ellipse cx="429.6" cy="37.1" rx="2.2" ry="1.7" fill="url(#gd)"/>
<ellipse cx="295.6" cy="43.1" rx="2.2" ry="1.7" fill="url(#gd)"/>
<ellipse cx="307.5" cy="43.1" rx="2.2" ry="1.7" fill="url(#gd)"/>
<ellipse cx="319.5" cy="43.1" rx="2.2" ry="1.7" fill="url(#gd)"/>
<ellipse cx="331.4" cy="43.1" rx="2.2" ry="1.7" fill="url(#gd)"/>
<ellipse cx="343.4" cy="43.1" rx="2.2" ry="1.7" fill="url(#gd)"/>
<ellipse cx="355.4" cy="43.1" rx="2.2" ry="1.7" fill="url(#gd)"/>
<ellipse cx="367.8" cy="43.1" rx="2.2" ry="1.7" fill="url(#gd)"/>
<ellipse cx="380.4" cy="43.1" rx="2.2" ry="1.7" fill="url(#gd)"/>
<ellipse cx="393" cy="43.1" rx="2.2" ry="1.7" fill="url(#gd)"/>
<ellipse cx="405.4" cy="43.1" rx="2.2" ry="1.7" fill="url(#gd)"/>
<ellipse cx="417.6" cy="43.1" rx="2.2" ry="1.7" fill="url(#gd)"/>
<ellipse cx="429.6" cy="43.1" rx="2.2" ry="1.7" fill="url(#gd)"/>
<ellipse cx="295.6" cy="49.1" rx="2.2" ry="1.7" fill="url(#gd)"/>
<ellipse cx="307.5" cy="49.1" rx="2.2" ry="1.7" fill="url(#gd)"/>
<ellipse cx="319.5" cy="49.1" rx="2.2" ry="1.7" fill="url(#gd)"/>
<ellipse cx="331.4" cy="49.1" rx="2.2" ry="1.7" fill="url(#gd)"/>
<ellipse cx="343.4" cy="49.1" rx="2.2" ry="1.7" fill="url(#gd)"/>
<ellipse cx="355.4" cy="49.1" rx="2.2" ry="1.7" fill="url(#gd)"/>
<ellipse cx="367.8" cy="49.1" rx="2.2" ry="1.7" fill="url(#gd)"/>
<ellipse cx="380.4" cy="49.1" rx="2.2" ry="1.7" fill="url(#gd)"/>
<ellipse cx="393" cy="49.1" rx="2.2" ry="1.7" fill="url(#gd)"/>
<ellipse cx="405.4" cy="49.1" rx="2.2" ry="1.7" fill="url(#gd)"/>
<ellipse cx="417.6" cy="49.1" rx="2.2" ry="1.7" fill="url(#gd)"/>
<ellipse cx="429.6" cy="49.1" rx="2.2" ry="1.7" fill="url(#gd)"/>
<ellipse cx="283.6" cy="55.1" rx="2.2" ry="1.7" fill="url(#gd)"/>
<ellipse cx="295.6" cy="55.1" rx="2.2" ry="1.7" fill="url(#gd)"/>
<ellipse cx="307.5" cy="55.1" rx="2.2" ry="1.7" fill="url(#gd)"/>
<ellipse cx="319.5" cy="55.1" rx="2.2" ry="1.7" fill="url(#gd)"/>
<ellipse cx="331.4" cy="55.1" rx="2.2" ry="1.7" fill="url(#gd)"/>
<ellipse cx="343.4" cy="55.1" rx="2.2" ry="1.7" fill="url(#gd)"/>
<ellipse cx="355.4" cy="55.1" rx="2.2" ry="1.7" fill="url(#gd)"/>
<ellipse cx="367.8" cy="55.1" rx="2.2" ry="1.7" fill="url(#gd)"/>
<ellipse cx="380.4" cy="55.1" rx="2.2" ry="1.7" fill="url(#gd)"/>
<ellipse cx="393" cy="55.1" rx="2.2" ry="1.7" fill="url(#gd)"/>
<ellipse cx="405.4" cy="55.1" rx="2.2" ry="1.7" fill="url(#gd)"/>
<ellipse cx="417.6" cy="55.1" rx="2.2" ry="1.7" fill="url(#gd)"/>
<ellipse cx="429.6" cy="55.1" rx="2.2" ry="1.7" fill="url(#gd)"/>
<ellipse cx="283.6" cy="61.1" rx="2.2" ry="1.7" fill="url(#gd)"/>
<ellipse cx="295.6" cy="61.1" rx="2.2" ry="1.7" fill="url(#gd)"/>
<ellipse cx="307.5" cy="61.1" rx="2.2" ry="1.7" fill="url(#gd)"/>
<ellipse cx="319.5" cy="61.1" rx="2.2" ry="1.7" fill="url(#gd)"/>
<ellipse cx="331.4" cy="61.1" rx="2.2" ry="1.7" fill="url(#gd)"/>
<ellipse cx="343.4" cy="61.1" rx="2.2" ry="1.7" fill="url(#gd)"/>
<ellipse cx="355.4" cy="61.1" rx="2.2" ry="1.7" fill="url(#gd)"/>
<ellipse cx="367.8" cy="61.1" rx="2.2" ry="1.7" fill="url(#gd)"/>
<ellipse cx="380.4" cy="61.1" rx="2.2" ry="1.7" fill="url(#gd)"/>
<ellipse cx="393" cy="61.1" rx="2.2" ry="1.7" fill="url(#gd)"/>
<ellipse cx="405.4" cy="61.1" rx="2.2" ry="1.7" fill="url(#gd)"/>
<ellipse cx="417.6" cy="61.1" rx="2.2" ry="1.7" fill="url(#gd)"/>
<ellipse cx="429.6" cy="61.1" rx="2.2" ry="1.7" fill="url(#gd)"/>
<ellipse cx="271.3" cy="67.1" rx="2.2" ry="1.7" fill="url(#gd)"/>
<ellipse cx="283.6" cy="67.1" rx="2.2" ry="1.7" fill="url(#gd)"/>
<ellipse cx="295.6" cy="67.1" rx="2.2" ry="1.7" fill="url(#gd)"/>
<ellipse cx="307.5" cy="67.1" rx="2.2" ry="1.7" fill="url(#gd)"/>
<ellipse cx="319.5" cy="67.1" rx="2.2" ry="1.7" fill="url(#gd)"/>
<ellipse cx="331.4" cy="67.1" rx="2.2" ry="1.7" fill="url(#gd)"/>
<ellipse cx="343.4" cy="67.1" rx="2.2" ry="1.7" fill="url(#gd)"/>
<ellipse cx="355.4" cy="67.1" rx="2.2" ry="1.7" fill="url(#gd)"/>
<ellipse cx="367.8" cy="67.1" rx="2.2" ry="1.7" fill="url(#gd)"/>
<ellipse cx="380.4" cy="67.1" rx="2.2" ry="1.7" fill="url(#gd)"/>
<ellipse cx="393" cy="67.1" rx="2.2" ry="1.7" fill="url(#gd)"/>
<ellipse cx="405.4" cy="67.1" rx="2.2" ry="1.7" fill="url(#gd)"/>
<ellipse cx="417.6" cy="67.1" rx="2.2" ry="1.7" fill="url(#gd)"/>
<ellipse cx="429.6" cy="67.1" rx="2.2" ry="1.7" fill="url(#gd)"/>
<ellipse cx="271.3" cy="73.1" rx="2.2" ry="1.7" fill="url(#gd)"/>
<ellipse cx="283.6" cy="73.1" rx="2.2" ry="1.7" fill="url(#gd)"/>
<ellipse cx="295.6" cy="73.1" rx="2.2" ry="1.7" fill="url(#gd)"/>
<ellipse cx="307.5" cy="73.1" rx="2.2" ry="1.7" fill="url(#gd)"/>
<ellipse cx="319.5" cy="73.1" rx="2.2" ry="1.7" fill="url(#gd)"/>
<ellipse cx="331.4" cy="73.1" rx="2.2" ry="1.7" fill="url(#gd)"/>
<ellipse cx="343.4" cy="73.1" rx="2.2" ry="1.7" fill="url(#gd)"/>
<ellipse cx="355.4" cy="73.1" rx="2.2" ry="1.7" fill="url(#gd)"/>
<ellipse cx="367.8" cy="73.1" rx="2.2" ry="1.7" fill="url(#gd)"/>
<ellipse cx="380.4" cy="73.1" rx="2.2" ry="1.7" fill="url(#gd)"/>
<ellipse cx="393" cy="73.1" rx="2.2" ry="1.7" fill="url(#gd)"/>
<ellipse cx="405.4" cy="73.1" rx="2.2" ry="1.7" fill="url(#gd)"/>
<ellipse cx="417.6" cy="73.1" rx="2.2" ry="1.7" fill="url(#gd)"/>
<ellipse cx="429.6" cy="73.1" rx="2.2" ry="1.7" fill="url(#gd)"/>
<ellipse cx="259.1" cy="79.1" rx="2.2" ry="1.7" fill="url(#gd)"/>
<ellipse cx="271.3" cy="79.1" rx="2.2" ry="1.7" fill="url(#gd)"/>
<ellipse cx="283.6" cy="79.1" rx="2.2" ry="1.7" fill="url(#gd)"/>
<ellipse cx="295.6" cy="79.1" rx="2.2" ry="1.7" fill="url(#gd)"/>
<ellipse cx="307.5" cy="79.1" rx="2.2" ry="1.7" fill="url(#gd)"/>
<ellipse cx="319.5" cy="79.1" rx="2.2" ry="1.7" fill="url(#gd)"/>
<ellipse cx="331.4" cy="79.1" rx="2.2" ry="1.7" fill="url(#gd)"/>
<ellipse cx="343.4" cy="79.1" rx="2.2" ry="1.7" fill="url(#gd)"/>
<ellipse cx="355.4" cy="79.1" rx="2.2" ry="1.7" fill="url(#gd)"/>
<ellipse cx="367.8" cy="79.1" rx="2.2" ry="1.7" fill="url(#gd)"/>
<ellipse cx="380.4" cy="79.1" rx="2.2" ry="1.7" fill="url(#gd)"/>
<ellipse cx="393" cy="79.1" rx="2.2" ry="1.7" fill="url(#gd)"/>
<ellipse cx="405.4" cy="79.1" rx="2.2" ry="1.7" fill="url(#gd)"/>
<ellipse cx="417.6" cy="79.1" rx="2.2" ry="1.7" fill="url(#gd)"/>
<ellipse cx="429.6" cy="79.1" rx="2.2" ry="1.7" fill="url(#gd)"/>
<ellipse cx="259.1" cy="85.1" rx="2.2" ry="1.7" fill="url(#gd)"/>
<ellipse cx="271.3" cy="85.1" rx="2.2" ry="1.7" fill="url(#gd)"/>
<ellipse cx="283.6" cy="85.1" rx="2.2" ry="1.7" fill="url(#gd)"/>
<ellipse cx="295.6" cy="85.1" rx="2.2" ry="1.7" fill="url(#gd)"/>
<ellipse cx="307.5" cy="85.1" rx="2.2" ry="1.7" fill="url(#gd)"/>
<ellipse cx="319.5" cy="85.1" rx="2.2" ry="1.7" fill="url(#gd)"/>
<ellipse cx="331.4" cy="85.1" rx="2.2" ry="1.7" fill="url(#gd)"/>
<ellipse cx="343.4" cy="85.1" rx="2.2" ry="1.7" fill="url(#gd)"/>
<ellipse cx="355.4" cy="85.1" rx="2.2" ry="1.7" fill="url(#gd)"/>
<ellipse cx="367.8" cy="85.1" rx="2.2" ry="1.7" fill="url(#gd)"/>
<ellipse cx="380.4" cy="85.1" rx="2.2" ry="1.7" fill="url(#gd)"/>
<ellipse cx="393" cy="85.1" rx="2.2" ry="1.7" fill="url(#gd)"/>
<ellipse cx="405.4" cy="85.1" rx="2.2" ry="1.7" fill="url(#gd)"/>
<ellipse cx="417.6" cy="85.1" rx="2.2" ry="1.7" fill="url(#gd)"/>
<ellipse cx="429.6" cy="85.1" rx="2.2" ry="1.7" fill="url(#gd)"/>
<ellipse cx="246.9" cy="91.1" rx="2.2" ry="1.7" fill="url(#gd)"/>
<ellipse cx="259.1" cy="91.1" rx="2.2" ry="1.7" fill="url(#gd)"/>
<ellipse cx="271.3" cy="91.1" rx="2.2" ry="1.7" fill="url(#gd)"/>
<ellipse cx="283.6" cy="91.1" rx="2.2" ry="1.7" fill="url(#gd)"/>
<ellipse cx="295.6" cy="91.1" rx="2.2" ry="1.7" fill="url(#gd)"/>
<ellipse cx="307.5" cy="91.1" rx="2.2" ry="1.7" fill="url(#gd)"/>
<ellipse cx="319.5" cy="91.1" rx="2.2" ry="1.7" fill="url(#gd)"/>
<ellipse cx="331.4" cy="91.1" rx="2.2" ry="1.7" fill="url(#gd)"/>
<ellipse cx="343.4" cy="91.1" rx="2.2" ry="1.7" fill="url(#gd)"/>
<ellipse cx="355.4" cy="91.1" rx="2.2" ry="1.7" fill="url(#gd)"/>
<ellipse cx="367.8" cy="91.1" rx="2.2" ry="1.7" fill="url(#gd)"/>
<ellipse cx="380.4" cy="91.1" rx="2.2" ry="1.7" fill="url(#gd)"/>
<ellipse cx="393" cy="91.1" rx="2.2" ry="1.7" fill="url(#gd)"/>
<ellipse cx="405.4" cy="91.1" rx="2.2" ry="1.7" fill="url(#gd)"/>
<ellipse cx="417.6" cy="91.1" rx="2.2" ry="1.7" fill="url(#gd)"/>
<ellipse cx="429.6" cy="91.1" rx="2.2" ry="1.7" fill="url(#gd)"/>
<ellipse cx="246.9" cy="97.1" rx="2.2" ry="1.7" fill="url(#gd)"/>
<ellipse cx="259.1" cy="97.1" rx="2.2" ry="1.7" fill="url(#gd)"/>
<ellipse cx="271.3" cy="97.1" rx="2.2" ry="1.7" fill="url(#gd)"/>
<ellipse cx="283.6" cy="97.1" rx="2.2" ry="1.7" fill="url(#gd)"/>
<ellipse cx="295.6" cy="97.1" rx="2.2" ry="1.7" fill="url(#gd)"/>
<ellipse cx="307.5" cy="97.1" rx="2.2" ry="1.7" fill="url(#gd)"/>
<ellipse cx="319.5" cy="97.1" rx="2.2" ry="1.7" fill="url(#gd)"/>
<ellipse cx="331.4" cy="97.1" rx="2.2" ry="1.7" fill="url(#gd)"/>
<ellipse cx="343.4" cy="97.1" rx="2.2" ry="1.7" fill="url(#gd)"/>
<ellipse cx="355.4" cy="97.1" rx="2.2" ry="1.7" fill="url(#gd)"/>
<ellipse cx="367.8" cy="97.1" rx="2.2" ry="1.7" fill="url(#gd)"/>
<ellipse cx="380.4" cy="97.1" rx="2.2" ry="1.7" fill="url(#gd)"/>
<ellipse cx="393" cy="97.1" rx="2.2" ry="1.7" fill="url(#gd)"/>
<ellipse cx="405.4" cy="97.1" rx="2.2" ry="1.7" fill="url(#gd)"/>
<ellipse cx="417.6" cy="97.1" rx="2.2" ry="1.7" fill="url(#gd)"/>
<ellipse cx="429.6" cy="97.1" rx="2.2" ry="1.7" fill="url(#gd)"/>
<ellipse cx="246.9" cy="103.1" rx="2.2" ry="1.7" fill="url(#gd)"/>
<ellipse cx="259.1" cy="103.1" rx="2.2" ry="1.7" fill="url(#gd)"/>
<ellipse cx="271.3" cy="103.1" rx="2.2" ry="1.7" fill="url(#gd)"/>
<ellipse cx="283.6" cy="103.1" rx="2.2" ry="1.7" fill="url(#gd)"/>
<ellipse cx="295.6" cy="103.1" rx="2.2" ry="1.7" fill="url(#gd)"/>
<ellipse cx="307.5" cy="103.1" rx="2.2" ry="1.7" fill="url(#gd)"/>
<ellipse cx="319.5" cy="103.1" rx="2.2" ry="1.7" fill="url(#gd)"/>
<ellipse cx="331.4" cy="103.1" rx="2.2" ry="1.7" fill="url(#gd)"/>
<ellipse cx="343.4" cy="103.1" rx="2.2" ry="1.7" fill="url(#gd)"/>
<ellipse cx="355.4" cy="103.1" rx="2.2" ry="1.7" fill="url(#gd)"/>
<ellipse cx="367.8" cy="103.1" rx="2.2" ry="1.7" fill="url(#gd)"/>
<ellipse cx="380.4" cy="103.1" rx="2.2" ry="1.7" fill="url(#gd)"/>
<ellipse cx="393" cy="103.1" rx="2.2" ry="1.7" fill="url(#gd)"/>
<ellipse cx="405.4" cy="103.1" rx="2.2" ry="1.7" fill="url(#gd)"/>
<ellipse cx="417.6" cy="103.1" rx="2.2" ry="1.7" fill="url(#gd)"/>
<ellipse cx="429.6" cy="103.1" rx="2.2" ry="1.7" fill="url(#gd)"/>
<ellipse cx="246.9" cy="109.1" rx="2.2" ry="1.7" fill="url(#gd)"/>
<ellipse cx="259.1" cy="109.1" rx="2.2" ry="1.7" fill="url(#gd)"/>
<ellipse cx="271.3" cy="109.1" rx="2.2" ry="1.7" fill="url(#gd)"/>
<ellipse cx="283.6" cy="109.1" rx="2.2" ry="1.7" fill="url(#gd)"/>
<ellipse cx="295.6" cy="109.1" rx="2.2" ry="1.7" fill="url(#gd)"/>
<ellipse cx="307.5" cy="109.1" rx="2.2" ry="1.7" fill="url(#gd)"/>
<ellipse cx="319.5" cy="109.1" rx="2.2" ry="1.7" fill="url(#gd)"/>
<ellipse cx="331.4" cy="109.1" rx="2.2" ry="1.7" fill="url(#gd)"/>
<ellipse cx="343.4" cy="109.1" rx="2.2" ry="1.7" fill="url(#gd)"/>
<ellipse cx="355.4" cy="109.1" rx="2.2" ry="1.7" fill="url(#gd)"/>
<ellipse cx="367.8" cy="109.1" rx="2.2" ry="1.7" fill="url(#gd)"/>
<ellipse cx="380.4" cy="109.1" rx="2.2" ry="1.7" fill="url(#gd)"/>
<ellipse cx="393" cy="109.1" rx="2.2" ry="1.7" fill="url(#gd)"/>
<ellipse cx="405.4" cy="109.1" rx="2.2" ry="1.7" fill="url(#gd)"/>
<ellipse cx="417.6" cy="109.1" rx="2.2" ry="1.7" fill="url(#gd)"/>
<ellipse cx="429.6" cy="109.1" rx="2.2" ry="1.7" fill="url(#gd)"/>
<ellipse cx="246.9" cy="115.1" rx="2.2" ry="1.7" fill="url(#gd)"/>
<ellipse cx="259.1" cy="115.1" rx="2.2" ry="1.7" fill="url(#gd)"/>
<ellipse cx="271.3" cy="115.1" rx="2.2" ry="1.7" fill="url(#gd)"/>
<ellipse cx="283.6" cy="115.1" rx="2.2" ry="1.7" fill="url(#gd)"/>
<ellipse cx="295.6" cy="115.1" rx="2.2" ry="1.7" fill="url(#gd)"/>
<ellipse cx="307.5" cy="115.1" rx="2.2" ry="1.7" fill="url(#gd)"/>
<ellipse cx="319.5" cy="115.1" rx="2.2" ry="1.7" fill="url(#gd)"/>
<ellipse cx="331.4" cy="115.1" rx="2.2" ry="1.7" fill="url(#gd)"/>
<ellipse cx="343.4" cy="115.1" rx="2.2" ry="1.7" fill="url(#gd)"/>
<ellipse cx="355.4" cy="115.1" rx="2.2" ry="1.7" fill="url(#gd)"/>
<ellipse cx="367.8" cy="115.1" rx="2.2" ry="1.7" fill="url(#gd)"/>
<ellipse cx="380.4" cy="115.1" rx="2.2" ry="1.7" fill="url(#gd)"/>
<ellipse cx="393" cy="115.1" rx="2.2" ry="1.7" fill="url(#gd)"/>
<ellipse cx="405.4" cy="115.1" rx="2.2" ry="1.7" fill="url(#gd)"/>
<ellipse cx="417.6" cy="115.1" rx="2.2" ry="1.7" fill="url(#gd)"/>
<ellipse cx="429.6" cy="115.1" rx="2.2" ry="1.7" fill="url(#gd)"/>
<ellipse cx="246.9" cy="121.1" rx="2.2" ry="1.7" fill="url(#gd)"/>
<ellipse cx="259.1" cy="121.1" rx="2.2" ry="1.7" fill="url(#gd)"/>
<ellipse cx="271.3" cy="121.1" rx="2.2" ry="1.7" fill="url(#gd)"/>
<ellipse cx="283.6" cy="121.1" rx="2.2" ry="1.7" fill="url(#gd)"/>
<ellipse cx="295.6" cy="121.1" rx="2.2" ry="1.7" fill="url(#gd)"/>
<ellipse cx="307.5" cy="121.1" rx="2.2" ry="1.7" fill="url(#gd)"/>
<ellipse cx="319.5" cy="121.1" rx="2.2" ry="1.7" fill="url(#gd)"/>
<ellipse cx="331.4" cy="121.1" rx="2.2" ry="1.7" fill="url(#gd)"/>
<ellipse cx="343.4" cy="121.1" rx="2.2" ry="1.7" fill="url(#gd)"/>
<ellipse cx="355.4" cy="121.1" rx="2.2" ry="1.7" fill="url(#gd)"/>
<ellipse cx="367.8" cy="121.1" rx="2.2" ry="1.7" fill="url(#gd)"/>
<ellipse cx="380.4" cy="121.1" rx="2.2" ry="1.7" fill="url(#gd)"/>
<ellipse cx="393" cy="121.1" rx="2.2" ry="1.7" fill="url(#gd)"/>
<ellipse cx="405.4" cy="121.1" rx="2.2" ry="1.7" fill="url(#gd)"/>
<ellipse cx="417.6" cy="121.1" rx="2.2" ry="1.7" fill="url(#gd)"/>
<ellipse cx="429.6" cy="121.1" rx="2.2" ry="1.7" fill="url(#gd)"/>
<ellipse cx="246.9" cy="127.1" rx="2.2" ry="1.7" fill="url(#gd)"/>
<ellipse cx="259.1" cy="127.1" rx="2.2" ry="1.7" fill="url(#gd)"/>
<ellipse cx="271.3" cy="127.1" rx="2.2" ry="1.7" fill="url(#gd)"/>
<ellipse cx="283.6" cy="127.1" rx="2.2" ry="1.7" fill="url(#gd)"/>
<ellipse cx="295.6" cy="127.1" rx="2.2" ry="1.7" fill="url(#gd)"/>
<ellipse cx="307.5" cy="127.1" rx="2.2" ry="1.7" fill="url(#gd)"/>
<ellipse cx="319.5" cy="127.1" rx="2.2" ry="1.7" fill="url(#gd)"/>
<ellipse cx="331.4" cy="127.1" rx="2.2" ry="1.7" fill="url(#gd)"/>
<ellipse cx="343.4" cy="127.1" rx="2.2" ry="1.7" fill="url(#gd)"/>
<ellipse cx="355.4" cy="127.1" rx="2.2" ry="1.7" fill="url(#gd)"/>
<ellipse cx="367.8" cy="127.1" rx="2.2" ry="1.7" fill="url(#gd)"/>
<ellipse cx="380.4" cy="127.1" rx="2.2" ry="1.7" fill="url(#gd)"/>
<ellipse cx="393" cy="127.1" rx="2.2" ry="1.7" fill="url(#gd)"/>
<ellipse cx="405.4" cy="127.1" rx="2.2" ry="1.7" fill="url(#gd)"/>
<ellipse cx="417.6" cy="127.1" rx="2.2" ry="1.7" fill="url(#gd)"/>
<ellipse cx="429.6" cy="127.1" rx="2.2" ry="1.7" fill="url(#gd)"/>
<ellipse cx="246.9" cy="133.1" rx="2.2" ry="1.7" fill="url(#gd)"/>
<ellipse cx="259.1" cy="133.1" rx="2.2" ry="1.7" fill="url(#gd)"/>
<ellipse cx="271.3" cy="133.1" rx="2.2" ry="1.7" fill="url(#gd)"/>
<ellipse cx="283.6" cy="133.1" rx="2.2" ry="1.7" fill="url(#gd)"/>
<ellipse cx="295.6" cy="133.1" rx="2.2" ry="1.7" fill="url(#gd)"/>
<ellipse cx="307.5" cy="133.1" rx="2.2" ry="1.7" fill="url(#gd)"/>
<ellipse cx="319.5" cy="133.1" rx="2.2" ry="1.7" fill="url(#gd)"/>
<ellipse cx="331.4" cy="133.1" rx="2.2" ry="1.7" fill="url(#gd)"/>
<ellipse cx="343.4" cy="133.1" rx="2.2" ry="1.7" fill="url(#gd)"/>
<ellipse cx="355.4" cy="133.1" rx="2.2" ry="1.7" fill="url(#gd)"/>
<ellipse cx="367.8" cy="133.1" rx="2.2" ry="1.7" fill="url(#gd)"/>
<ellipse cx="380.4" cy="133.1" rx="2.2" ry="1.7" fill="url(#gd)"/>
<ellipse cx="393" cy="133.1" rx="2.2" ry="1.7" fill="url(#gd)"/>
<ellipse cx="405.4" cy="133.1" rx="2.2" ry="1.7" fill="url(#gd)"/>
<ellipse cx="417.6" cy="133.1" rx="2.2" ry="1.7" fill="url(#gd)"/>
<ellipse cx="429.6" cy="133.1" rx="2.2" ry="1.7" fill="url(#gd)"/>
<ellipse cx="246.9" cy="139.1" rx="2.2" ry="1.7" fill="url(#gd)"/>
<ellipse cx="259.1" cy="139.1" rx="2.2" ry="1.7" fill="url(#gd)"/>
<ellipse cx="271.3" cy="139.1" rx="2.2" ry="1.7" fill="url(#gd)"/>
<ellipse cx="283.6" cy="139.1" rx="2.2" ry="1.7" fill="url(#gd)"/>
<ellipse cx="295.6" cy="139.1" rx="2.2" ry="1.7" fill="url(#gd)"/>
<ellipse cx="307.5" cy="139.1" rx="2.2" ry="1.7" fill="url(#gd)"/>
<ellipse cx="319.5" cy="139.1" rx="2.2" ry="1.7" fill="url(#gd)"/>
<ellipse cx="331.4" cy="139.1" rx="2.2" ry="1.7" fill="url(#gd)"/>
<ellipse cx="343.4" cy="139.1" rx="2.2" ry="1.7" fill="url(#gd)"/>
<ellipse cx="355.4" cy="139.1" rx="2.2" ry="1.7" fill="url(#gd)"/>
<ellipse cx="367.8" cy="139.1" rx="2.2" ry="1.7" fill="url(#gd)"/>
<ellipse cx="380.4" cy="139.1" rx="2.2" ry="1.7" fill="url(#gd)"/>
<ellipse cx="393" cy="139.1" rx="2.2" ry="1.7" fill="url(#gd)"/>
<ellipse cx="405.4" cy="139.1" rx="2.2" ry="1.7" fill="url(#gd)"/>
<ellipse cx="246.9" cy="145.1" rx="2.2" ry="1.7" fill="url(#gd)"/>
<ellipse cx="259.1" cy="145.1" rx="2.2" ry="1.7" fill="url(#gd)"/>
<ellipse cx="271.3" cy="145.1" rx="2.2" ry="1.7" fill="url(#gd)"/>
<ellipse cx="283.6" cy="145.1" rx="2.2" ry="1.7" fill="url(#gd)"/>
<ellipse cx="295.6" cy="145.1" rx="2.2" ry="1.7" fill="url(#gd)"/>
<ellipse cx="307.5" cy="145.1" rx="2.2" ry="1.7" fill="url(#gd)"/>
<ellipse cx="319.5" cy="145.1" rx="2.2" ry="1.7" fill="url(#gd)"/>
<ellipse cx="331.4" cy="145.1" rx="2.2" ry="1.7" fill="url(#gd)"/>
<ellipse cx="343.4" cy="145.1" rx="2.2" ry="1.7" fill="url(#gd)"/>
<ellipse cx="355.4" cy="145.1" rx="2.2" ry="1.7" fill="url(#gd)"/>
<ellipse cx="367.8" cy="145.1" rx="2.2" ry="1.7" fill="url(#gd)"/>
<ellipse cx="380.4" cy="145.1" rx="2.2" ry="1.7" fill="url(#gd)"/>
<ellipse cx="393" cy="145.1" rx="2.2" ry="1.7" fill="url(#gd)"/>
<ellipse cx="246.9" cy="151.1" rx="2.2" ry="1.7" fill="url(#gd)"/>
<ellipse cx="259.1" cy="151.1" rx="2.2" ry="1.7" fill="url(#gd)"/>
<ellipse cx="271.3" cy="151.1" rx="2.2" ry="1.7" fill="url(#gd)"/>
<ellipse cx="283.6" cy="151.1" rx="2.2" ry="1.7" fill="url(#gd)"/>
<ellipse cx="295.6" cy="151.1" rx="2.2" ry="1.7" fill="url(#gd)"/>
<ellipse cx="307.5" cy="151.1" rx="2.2" ry="1.7" fill="url(#gd)"/>
<ellipse cx="319.5" cy="151.1" rx="2.2" ry="1.7" fill="url(#gd)"/>
<ellipse cx="331.4" cy="151.1" rx="2.2" ry="1.7" fill="url(#gd)"/>
<ellipse cx="343.4" cy="151.1" rx="2.2" ry="1.7" fill="url(#gd)"/>
<ellipse cx="355.4" cy="151.1" rx="2.2" ry="1.7" fill="url(#gd)"/>
<ellipse cx="367.8" cy="151.1" rx="2.2" ry="1.7" fill="url(#gd)"/>
<ellipse cx="380.4" cy="151.1" rx="2.2" ry="1.7" fill="url(#gd)"/>
<ellipse cx="259.1" cy="157.1" rx="2.2" ry="1.7" fill="url(#gd)"/>
<ellipse cx="271.3" cy="157.1" rx="2.2" ry="1.7" fill="url(#gd)"/>
<ellipse cx="283.6" cy="157.1" rx="2.2" ry="1.7" fill="url(#gd)"/>
<ellipse cx="295.6" cy="157.1" rx="2.2" ry="1.7" fill="url(#gd)"/>
<ellipse cx="307.5" cy="157.1" rx="2.2" ry="1.7" fill="url(#gd)"/>
<ellipse cx="319.5" cy="157.1" rx="2.2" ry="1.7" fill="url(#gd)"/>
<ellipse cx="331.4" cy="157.1" rx="2.2" ry="1.7" fill="url(#gd)"/>
<ellipse cx="343.4" cy="157.1" rx="2.2" ry="1.7" fill="url(#gd)"/>
<ellipse cx="355.4" cy="157.1" rx="2.2" ry="1.7" fill="url(#gd)"/>
<ellipse cx="367.8" cy="157.1" rx="2.2" ry="1.7" fill="url(#gd)"/>
<ellipse cx="259.1" cy="163.1" rx="2.2" ry="1.7" fill="url(#gd)"/>
<ellipse cx="271.3" cy="163.1" rx="2.2" ry="1.7" fill="url(#gd)"/>
<ellipse cx="283.6" cy="163.1" rx="2.2" ry="1.7" fill="url(#gd)"/>
<ellipse cx="295.6" cy="163.1" rx="2.2" ry="1.7" fill="url(#gd)"/>
<ellipse cx="307.5" cy="163.1" rx="2.2" ry="1.7" fill="url(#gd)"/>
<ellipse cx="319.5" cy="163.1" rx="2.2" ry="1.7" fill="url(#gd)"/>
<ellipse cx="331.4" cy="163.1" rx="2.2" ry="1.7" fill="url(#gd)"/>
<ellipse cx="343.4" cy="163.1" rx="2.2" ry="1.7" fill="url(#gd)"/>
<ellipse cx="355.4" cy="163.1" rx="2.2" ry="1.7" fill="url(#gd)"/>
<ellipse cx="271.3" cy="169.1" rx="2.2" ry="1.7" fill="url(#gd)"/>
<ellipse cx="283.6" cy="169.1" rx="2.2" ry="1.7" fill="url(#gd)"/>
<ellipse cx="295.6" cy="169.1" rx="2.2" ry="1.7" fill="url(#gd)"/>
<ellipse cx="307.5" cy="169.1" rx="2.2" ry="1.7" fill="url(#gd)"/>
<ellipse cx="319.5" cy="169.1" rx="2.2" ry="1.7" fill="url(#gd)"/>
<ellipse cx="331.4" cy="169.1" rx="2.2" ry="1.7" fill="url(#gd)"/>
<ellipse cx="271.3" cy="175.1" rx="2.2" ry="1.7" fill="url(#gd)"/>
<ellipse cx="283.6" cy="175.1" rx="2.2" ry="1.7" fill="url(#gd)"/>
<ellipse cx="295.6" cy="175.1" rx="2.2" ry="1.7" fill="url(#gd)"/>
<ellipse cx="307.5" cy="175.1" rx="2.2" ry="1.7" fill="url(#gd)"/>
<ellipse cx="319.5" cy="175.1" rx="2.2" ry="1.7" fill="url(#gd)"/>
<ellipse cx="331.4" cy="175.1" rx="2.2" ry="1.7" fill="url(#gd)"/>
<ellipse cx="271.3" cy="181.1" rx="2.2" ry="1.7" fill="url(#gd)"/>
<ellipse cx="283.6" cy="181.1" rx="2.2" ry="1.7" fill="url(#gd)"/>
<ellipse cx="295.6" cy="181.1" rx="2.2" ry="1.7" fill="url(#gd)"/>
<ellipse cx="307.5" cy="181.1" rx="2.2" ry="1.7" fill="url(#gd)"/>
<ellipse cx="319.5" cy="181.1" rx="2.2" ry="1.7" fill="url(#gd)"/>
<ellipse cx="331.4" cy="181.1" rx="2.2" ry="1.7" fill="url(#gd)"/>
<ellipse cx="283.6" cy="187.1" rx="2.2" ry="1.7" fill="url(#gd)"/>
<ellipse cx="295.6" cy="187.1" rx="2.2" ry="1.7" fill="url(#gd)"/>
<ellipse cx="307.5" cy="187.1" rx="2.2" ry="1.7" fill="url(#gd)"/>
<ellipse cx="319.5" cy="187.1" rx="2.2" ry="1.7" fill="url(#gd)"/>
<ellipse cx="331.4" cy="187.1" rx="2.2" ry="1.7" fill="url(#gd)"/>
<ellipse cx="334.3" cy="-1.9" rx="2.5" ry="2.45" fill="url(#gc)"/>
<ellipse cx="340.4" cy="-1.9" rx="2.5" ry="2.45" fill="url(#gc)"/>
<ellipse cx="346.3" cy="-1.9" rx="2.5" ry="2.45" fill="url(#gc)"/>
<ellipse cx="352.4" cy="-1.9" rx="2.5" ry="2.45" fill="url(#gc)"/>
<ellipse cx="358.4" cy="-1.9" rx="2.5" ry="2.45" fill="url(#gc)"/>
<ellipse cx="364.6" cy="-1.9" rx="2.5" ry="2.45" fill="url(#gc)"/>
<ellipse cx="370.9" cy="-1.9" rx="2.5" ry="2.45" fill="url(#gc)"/>
<ellipse cx="377.1" cy="-1.9" rx="2.5" ry="2.45" fill="url(#gc)"/>
<ellipse cx="383.6" cy="-1.9" rx="2.5" ry="2.45" fill="url(#gc)"/>
<ellipse cx="389.8" cy="-1.9" rx="2.5" ry="2.45" fill="url(#gc)"/>
<ellipse cx="396.2" cy="-1.9" rx="2.5" ry="2.45" fill="url(#gc)"/>
<ellipse cx="402.4" cy="-1.9" rx="2.5" ry="2.45" fill="url(#gc)"/>
<ellipse cx="408.4" cy="-1.9" rx="2.5" ry="2.45" fill="url(#gc)"/>
<ellipse cx="414.6" cy="-1.9" rx="2.5" ry="2.45" fill="url(#gc)"/>
<ellipse cx="420.6" cy="-1.9" rx="2.5" ry="2.45" fill="url(#gc)"/>
<ellipse cx="426.7" cy="-1.9" rx="2.5" ry="2.45" fill="url(#gc)"/>
<ellipse cx="334.3" cy="4.1" rx="2.5" ry="2.45" fill="url(#gc)"/>
<ellipse cx="340.4" cy="4.1" rx="2.5" ry="2.45" fill="url(#gc)"/>
<ellipse cx="346.3" cy="4.1" rx="2.5" ry="2.45" fill="url(#gc)"/>
<ellipse cx="352.4" cy="4.1" rx="2.5" ry="2.45" fill="url(#gc)"/>
<ellipse cx="358.4" cy="4.1" rx="2.5" ry="2.45" fill="url(#gc)"/>
<ellipse cx="364.6" cy="4.1" rx="2.5" ry="2.45" fill="url(#gc)"/>
<ellipse cx="370.9" cy="4.1" rx="2.5" ry="2.45" fill="url(#gc)"/>
<ellipse cx="377.1" cy="4.1" rx="2.5" ry="2.45" fill="url(#gc)"/>
<ellipse cx="383.6" cy="4.1" rx="2.5" ry="2.45" fill="url(#gc)"/>
<ellipse cx="389.8" cy="4.1" rx="2.5" ry="2.45" fill="url(#gc)"/>
<ellipse cx="396.2" cy="4.1" rx="2.5" ry="2.45" fill="url(#gc)"/>
<ellipse cx="402.4" cy="4.1" rx="2.5" ry="2.45" fill="url(#gc)"/>
<ellipse cx="408.4" cy="4.1" rx="2.5" ry="2.45" fill="url(#gc)"/>
<ellipse cx="414.6" cy="4.1" rx="2.5" ry="2.45" fill="url(#gc)"/>
<ellipse cx="420.6" cy="4.1" rx="2.5" ry="2.45" fill="url(#gc)"/>
<ellipse cx="426.7" cy="4.1" rx="2.5" ry="2.45" fill="url(#gc)"/>
<ellipse cx="328.6" cy="10.1" rx="2.5" ry="2.45" fill="url(#gc)"/>
<ellipse cx="334.3" cy="10.1" rx="2.5" ry="2.45" fill="url(#gc)"/>
<ellipse cx="340.4" cy="10.1" rx="2.5" ry="2.45" fill="url(#gc)"/>
<ellipse cx="346.3" cy="10.1" rx="2.5" ry="2.45" fill="url(#gc)"/>
<ellipse cx="352.4" cy="10.1" rx="2.5" ry="2.45" fill="url(#gc)"/>
<ellipse cx="358.4" cy="10.1" rx="2.5" ry="2.45" fill="url(#gc)"/>
<ellipse cx="364.6" cy="10.1" rx="2.5" ry="2.45" fill="url(#gc)"/>
<ellipse cx="370.9" cy="10.1" rx="2.5" ry="2.45" fill="url(#gc)"/>
<ellipse cx="377.1" cy="10.1" rx="2.5" ry="2.45" fill="url(#gc)"/>
<ellipse cx="383.6" cy="10.1" rx="2.5" ry="2.45" fill="url(#gc)"/>
<ellipse cx="389.8" cy="10.1" rx="2.5" ry="2.45" fill="url(#gc)"/>
<ellipse cx="396.2" cy="10.1" rx="2.5" ry="2.45" fill="url(#gc)"/>
<ellipse cx="402.4" cy="10.1" rx="2.5" ry="2.45" fill="url(#gc)"/>
<ellipse cx="408.4" cy="10.1" rx="2.5" ry="2.45" fill="url(#gc)"/>
<ellipse cx="414.6" cy="10.1" rx="2.5" ry="2.45" fill="url(#gc)"/>
<ellipse cx="420.6" cy="10.1" rx="2.5" ry="2.45" fill="url(#gc)"/>
<ellipse cx="426.7" cy="10.1" rx="2.5" ry="2.45" fill="url(#gc)"/>
<ellipse cx="328.6" cy="16.1" rx="2.5" ry="2.45" fill="url(#gc)"/>
<ellipse cx="334.3" cy="16.1" rx="2.5" ry="2.45" fill="url(#gc)"/>
<ellipse cx="340.4" cy="16.1" rx="2.5" ry="2.45" fill="url(#gc)"/>
<ellipse cx="346.3" cy="16.1" rx="2.5" ry="2.45" fill="url(#gc)"/>
<ellipse cx="352.4" cy="16.1" rx="2.5" ry="2.45" fill="url(#gc)"/>
<ellipse cx="358.4" cy="16.1" rx="2.5" ry="2.45" fill="url(#gc)"/>
<ellipse cx="364.6" cy="16.1" rx="2.5" ry="2.45" fill="url(#gc)"/>
<ellipse cx="370.9" cy="16.1" rx="2.5" ry="2.45" fill="url(#gc)"/>
<ellipse cx="377.1" cy="16.1" rx="2.5" ry="2.45" fill="url(#gc)"/>
<ellipse cx="383.6" cy="16.1" rx="2.5" ry="2.45" fill="url(#gc)"/>
<ellipse cx="389.8" cy="16.1" rx="2.5" ry="2.45" fill="url(#gc)"/>
<ellipse cx="396.2" cy="16.1" rx="2.5" ry="2.45" fill="url(#gc)"/>
<ellipse cx="402.4" cy="16.1" rx="2.5" ry="2.45" fill="url(#gc)"/>
<ellipse cx="408.4" cy="16.1" rx="2.5" ry="2.45" fill="url(#gc)"/>
<ellipse cx="414.6" cy="16.1" rx="2.5" ry="2.45" fill="url(#gc)"/>
<ellipse cx="420.6" cy="16.1" rx="2.5" ry="2.45" fill="url(#gc)"/>
<ellipse cx="426.7" cy="16.1" rx="2.5" ry="2.45" fill="url(#gc)"/>
<ellipse cx="322.4" cy="22.1" rx="2.5" ry="2.45" fill="url(#gc)"/>
<ellipse cx="328.6" cy="22.1" rx="2.5" ry="2.45" fill="url(#gc)"/>
<ellipse cx="334.3" cy="22.1" rx="2.5" ry="2.45" fill="url(#gc)"/>
<ellipse cx="340.4" cy="22.1" rx="2.5" ry="2.45" fill="url(#gc)"/>
<ellipse cx="346.3" cy="22.1" rx="2.5" ry="2.45" fill="url(#gc)"/>
<ellipse cx="352.4" cy="22.1" rx="2.5" ry="2.45" fill="url(#gc)"/>
<ellipse cx="358.4" cy="22.1" rx="2.5" ry="2.45" fill="url(#gc)"/>
<ellipse cx="364.6" cy="22.1" rx="2.5" ry="2.45" fill="url(#gc)"/>
<ellipse cx="370.9" cy="22.1" rx="2.5" ry="2.45" fill="url(#gc)"/>
<ellipse cx="377.1" cy="22.1" rx="2.5" ry="2.45" fill="url(#gc)"/>
<ellipse cx="383.6" cy="22.1" rx="2.5" ry="2.45" fill="url(#gc)"/>
<ellipse cx="389.8" cy="22.1" rx="2.5" ry="2.45" fill="url(#gc)"/>
<ellipse cx="396.2" cy="22.1" rx="2.5" ry="2.45" fill="url(#gc)"/>
<ellipse cx="402.4" cy="22.1" rx="2.5" ry="2.45" fill="url(#gc)"/>
<ellipse cx="408.4" cy="22.1" rx="2.5" ry="2.45" fill="url(#gc)"/>
<ellipse cx="414.6" cy="22.1" rx="2.5" ry="2.45" fill="url(#gc)"/>
<ellipse cx="420.6" cy="22.1" rx="2.5" ry="2.45" fill="url(#gc)"/>
<ellipse cx="426.7" cy="22.1" rx="2.5" ry="2.45" fill="url(#gc)"/>
<ellipse cx="316.6" cy="28.1" rx="2.5" ry="2.45" fill="url(#gc)"/>
<ellipse cx="322.4" cy="28.1" rx="2.5" ry="2.45" fill="url(#gc)"/>
<ellipse cx="328.6" cy="28.1" rx="2.5" ry="2.45" fill="url(#gc)"/>
<ellipse cx="334.3" cy="28.1" rx="2.5" ry="2.45" fill="url(#gc)"/>
<ellipse cx="340.4" cy="28.1" rx="2.5" ry="2.45" fill="url(#gc)"/>
<ellipse cx="346.3" cy="28.1" rx="2.5" ry="2.45" fill="url(#gc)"/>
<ellipse cx="352.4" cy="28.1" rx="2.5" ry="2.45" fill="url(#gc)"/>
<ellipse cx="358.4" cy="28.1" rx="2.5" ry="2.45" fill="url(#gc)"/>
<ellipse cx="364.6" cy="28.1" rx="2.5" ry="2.45" fill="url(#gc)"/>
<ellipse cx="370.9" cy="28.1" rx="2.5" ry="2.45" fill="url(#gc)"/>
<ellipse cx="377.1" cy="28.1" rx="2.5" ry="2.45" fill="url(#gc)"/>
<ellipse cx="383.6" cy="28.1" rx="2.5" ry="2.45" fill="url(#gc)"/>
<ellipse cx="389.8" cy="28.1" rx="2.5" ry="2.45" fill="url(#gc)"/>
<ellipse cx="396.2" cy="28.1" rx="2.5" ry="2.45" fill="url(#gc)"/>
<ellipse cx="402.4" cy="28.1" rx="2.5" ry="2.45" fill="url(#gc)"/>
<ellipse cx="408.4" cy="28.1" rx="2.5" ry="2.45" fill="url(#gc)"/>
<ellipse cx="414.6" cy="28.1" rx="2.5" ry="2.45" fill="url(#gc)"/>
<ellipse cx="420.6" cy="28.1" rx="2.5" ry="2.45" fill="url(#gc)"/>
<ellipse cx="426.7" cy="28.1" rx="2.5" ry="2.45" fill="url(#gc)"/>
<ellipse cx="310.4" cy="34.1" rx="2.5" ry="2.45" fill="url(#gc)"/>
<ellipse cx="316.6" cy="34.1" rx="2.5" ry="2.45" fill="url(#gc)"/>
<ellipse cx="322.4" cy="34.1" rx="2.5" ry="2.45" fill="url(#gc)"/>
<ellipse cx="328.6" cy="34.1" rx="2.5" ry="2.45" fill="url(#gc)"/>
<ellipse cx="334.3" cy="34.1" rx="2.5" ry="2.45" fill="url(#gc)"/>
<ellipse cx="340.4" cy="34.1" rx="2.5" ry="2.45" fill="url(#gc)"/>
<ellipse cx="346.3" cy="34.1" rx="2.5" ry="2.45" fill="url(#gc)"/>
<ellipse cx="352.4" cy="34.1" rx="2.5" ry="2.45" fill="url(#gc)"/>
<ellipse cx="358.4" cy="34.1" rx="2.5" ry="2.45" fill="url(#gc)"/>
<ellipse cx="364.6" cy="34.1" rx="2.5" ry="2.45" fill="url(#gc)"/>
<ellipse cx="370.9" cy="34.1" rx="2.5" ry="2.45" fill="url(#gc)"/>
<ellipse cx="377.1" cy="34.1" rx="2.5" ry="2.45" fill="url(#gc)"/>
<ellipse cx="383.6" cy="34.1" rx="2.5" ry="2.45" fill="url(#gc)"/>
<ellipse cx="389.8" cy="34.1" rx="2.5" ry="2.45" fill="url(#gc)"/>
<ellipse cx="396.2" cy="34.1" rx="2.5" ry="2.45" fill="url(#gc)"/>
<ellipse cx="402.4" cy="34.1" rx="2.5" ry="2.45" fill="url(#gc)"/>
<ellipse cx="408.4" cy="34.1" rx="2.5" ry="2.45" fill="url(#gc)"/>
<ellipse cx="414.6" cy="34.1" rx="2.5" ry="2.45" fill="url(#gc)"/>
<ellipse cx="420.6" cy="34.1" rx="2.5" ry="2.45" fill="url(#gc)"/>
<ellipse cx="426.7" cy="34.1" rx="2.5" ry="2.45" fill="url(#gc)"/>
<ellipse cx="304.6" cy="40.1" rx="2.5" ry="2.45" fill="url(#gc)"/>
<ellipse cx="310.4" cy="40.1" rx="2.5" ry="2.45" fill="url(#gc)"/>
<ellipse cx="316.6" cy="40.1" rx="2.5" ry="2.45" fill="url(#gc)"/>
<ellipse cx="322.4" cy="40.1" rx="2.5" ry="2.45" fill="url(#gc)"/>
<ellipse cx="328.6" cy="40.1" rx="2.5" ry="2.45" fill="url(#gc)"/>
<ellipse cx="334.3" cy="40.1" rx="2.5" ry="2.45" fill="url(#gc)"/>
<ellipse cx="340.4" cy="40.1" rx="2.5" ry="2.45" fill="url(#gc)"/>
<ellipse cx="346.3" cy="40.1" rx="2.5" ry="2.45" fill="url(#gc)"/>
<ellipse cx="352.4" cy="40.1" rx="2.5" ry="2.45" fill="url(#gc)"/>
<ellipse cx="358.4" cy="40.1" rx="2.5" ry="2.45" fill="url(#gc)"/>
<ellipse cx="364.6" cy="40.1" rx="2.5" ry="2.45" fill="url(#gc)"/>
<ellipse cx="370.9" cy="40.1" rx="2.5" ry="2.45" fill="url(#gc)"/>
<ellipse cx="377.1" cy="40.1" rx="2.5" ry="2.45" fill="url(#gc)"/>
<ellipse cx="383.6" cy="40.1" rx="2.5" ry="2.45" fill="url(#gc)"/>
<ellipse cx="389.8" cy="40.1" rx="2.5" ry="2.45" fill="url(#gc)"/>
<ellipse cx="396.2" cy="40.1" rx="2.5" ry="2.45" fill="url(#gc)"/>
<ellipse cx="402.4" cy="40.1" rx="2.5" ry="2.45" fill="url(#gc)"/>
<ellipse cx="408.4" cy="40.1" rx="2.5" ry="2.45" fill="url(#gc)"/>
<ellipse cx="414.6" cy="40.1" rx="2.5" ry="2.45" fill="url(#gc)"/>
<ellipse cx="420.6" cy="40.1" rx="2.5" ry="2.45" fill="url(#gc)"/>
<ellipse cx="426.7" cy="40.1" rx="2.5" ry="2.45" fill="url(#gc)"/>
<ellipse cx="292.9" cy="46.1" rx="2.5" ry="2.45" fill="url(#gc)"/>
<ellipse cx="298.4" cy="46.1" rx="2.5" ry="2.45" fill="url(#gc)"/>
<ellipse cx="304.6" cy="46.1" rx="2.5" ry="2.45" fill="url(#gc)"/>
<ellipse cx="310.4" cy="46.1" rx="2.5" ry="2.45" fill="url(#gc)"/>
<ellipse cx="316.6" cy="46.1" rx="2.5" ry="2.45" fill="url(#gc)"/>
<ellipse cx="322.4" cy="46.1" rx="2.5" ry="2.45" fill="url(#gc)"/>
<ellipse cx="328.6" cy="46.1" rx="2.5" ry="2.45" fill="url(#gc)"/>
<ellipse cx="334.3" cy="46.1" rx="2.5" ry="2.45" fill="url(#gc)"/>
<ellipse cx="340.4" cy="46.1" rx="2.5" ry="2.45" fill="url(#gc)"/>
<ellipse cx="346.3" cy="46.1" rx="2.5" ry="2.45" fill="url(#gc)"/>
<ellipse cx="352.4" cy="46.1" rx="2.5" ry="2.45" fill="url(#gc)"/>
<ellipse cx="358.4" cy="46.1" rx="2.5" ry="2.45" fill="url(#gc)"/>
<ellipse cx="364.6" cy="46.1" rx="2.5" ry="2.45" fill="url(#gc)"/>
<ellipse cx="370.9" cy="46.1" rx="2.5" ry="2.45" fill="url(#gc)"/>
<ellipse cx="377.1" cy="46.1" rx="2.5" ry="2.45" fill="url(#gc)"/>
<ellipse cx="383.6" cy="46.1" rx="2.5" ry="2.45" fill="url(#gc)"/>
<ellipse cx="389.8" cy="46.1" rx="2.5" ry="2.45" fill="url(#gc)"/>
<ellipse cx="396.2" cy="46.1" rx="2.5" ry="2.45" fill="url(#gc)"/>
<ellipse cx="402.4" cy="46.1" rx="2.5" ry="2.45" fill="url(#gc)"/>
<ellipse cx="408.4" cy="46.1" rx="2.5" ry="2.45" fill="url(#gc)"/>
<ellipse cx="414.6" cy="46.1" rx="2.5" ry="2.45" fill="url(#gc)"/>
<ellipse cx="420.6" cy="46.1" rx="2.5" ry="2.45" fill="url(#gc)"/>
<ellipse cx="426.7" cy="46.1" rx="2.5" ry="2.45" fill="url(#gc)"/>
<ellipse cx="286.8" cy="52.1" rx="2.5" ry="2.45" fill="url(#gc)"/>
<ellipse cx="292.9" cy="52.1" rx="2.5" ry="2.45" fill="url(#gc)"/>
<ellipse cx="298.4" cy="52.1" rx="2.5" ry="2.45" fill="url(#gc)"/>
<ellipse cx="304.6" cy="52.1" rx="2.5" ry="2.45" fill="url(#gc)"/>
<ellipse cx="310.4" cy="52.1" rx="2.5" ry="2.45" fill="url(#gc)"/>
<ellipse cx="316.6" cy="52.1" rx="2.5" ry="2.45" fill="url(#gc)"/>
<ellipse cx="322.4" cy="52.1" rx="2.5" ry="2.45" fill="url(#gc)"/>
<ellipse cx="328.6" cy="52.1" rx="2.5" ry="2.45" fill="url(#gc)"/>
<ellipse cx="334.3" cy="52.1" rx="2.5" ry="2.45" fill="url(#gc)"/>
<ellipse cx="340.4" cy="52.1" rx="2.5" ry="2.45" fill="url(#gc)"/>
<ellipse cx="346.3" cy="52.1" rx="2.5" ry="2.45" fill="url(#gc)"/>
<ellipse cx="352.4" cy="52.1" rx="2.5" ry="2.45" fill="url(#gc)"/>
<ellipse cx="358.4" cy="52.1" rx="2.5" ry="2.45" fill="url(#gc)"/>
<ellipse cx="364.6" cy="52.1" rx="2.5" ry="2.45" fill="url(#gc)"/>
<ellipse cx="370.9" cy="52.1" rx="2.5" ry="2.45" fill="url(#gc)"/>
<ellipse cx="377.1" cy="52.1" rx="2.5" ry="2.45" fill="url(#gc)"/>
<ellipse cx="383.6" cy="52.1" rx="2.5" ry="2.45" fill="url(#gc)"/>
<ellipse cx="389.8" cy="52.1" rx="2.5" ry="2.45" fill="url(#gc)"/>
<ellipse cx="396.2" cy="52.1" rx="2.5" ry="2.45" fill="url(#gc)"/>
<ellipse cx="402.4" cy="52.1" rx="2.5" ry="2.45" fill="url(#gc)"/>
<ellipse cx="408.4" cy="52.1" rx="2.5" ry="2.45" fill="url(#gc)"/>
<ellipse cx="414.6" cy="52.1" rx="2.5" ry="2.45" fill="url(#gc)"/>
<ellipse cx="420.6" cy="52.1" rx="2.5" ry="2.45" fill="url(#gc)"/>
<ellipse cx="426.7" cy="52.1" rx="2.5" ry="2.45" fill="url(#gc)"/>
<ellipse cx="280.4" cy="58.1" rx="2.5" ry="2.45" fill="url(#gc)"/>
<ellipse cx="286.8" cy="58.1" rx="2.5" ry="2.45" fill="url(#gc)"/>
<ellipse cx="292.9" cy="58.1" rx="2.5" ry="2.45" fill="url(#gc)"/>
<ellipse cx="298.4" cy="58.1" rx="2.5" ry="2.45" fill="url(#gc)"/>
<ellipse cx="304.6" cy="58.1" rx="2.5" ry="2.45" fill="url(#gc)"/>
<ellipse cx="310.4" cy="58.1" rx="2.5" ry="2.45" fill="url(#gc)"/>
<ellipse cx="316.6" cy="58.1" rx="2.5" ry="2.45" fill="url(#gc)"/>
<ellipse cx="322.4" cy="58.1" rx="2.5" ry="2.45" fill="url(#gc)"/>
<ellipse cx="328.6" cy="58.1" rx="2.5" ry="2.45" fill="url(#gc)"/>
<ellipse cx="334.3" cy="58.1" rx="2.5" ry="2.45" fill="url(#gc)"/>
<ellipse cx="340.4" cy="58.1" rx="2.5" ry="2.45" fill="url(#gc)"/>
<ellipse cx="346.3" cy="58.1" rx="2.5" ry="2.45" fill="url(#gc)"/>
<ellipse cx="352.4" cy="58.1" rx="2.5" ry="2.45" fill="url(#gc)"/>
<ellipse cx="358.4" cy="58.1" rx="2.5" ry="2.45" fill="url(#gc)"/>
<ellipse cx="364.6" cy="58.1" rx="2.5" ry="2.45" fill="url(#gc)"/>
<ellipse cx="370.9" cy="58.1" rx="2.5" ry="2.45" fill="url(#gc)"/>
<ellipse cx="377.1" cy="58.1" rx="2.5" ry="2.45" fill="url(#gc)"/>
<ellipse cx="383.6" cy="58.1" rx="2.5" ry="2.45" fill="url(#gc)"/>
<ellipse cx="389.8" cy="58.1" rx="2.5" ry="2.45" fill="url(#gc)"/>
<ellipse cx="396.2" cy="58.1" rx="2.5" ry="2.45" fill="url(#gc)"/>
<ellipse cx="402.4" cy="58.1" rx="2.5" ry="2.45" fill="url(#gc)"/>
<ellipse cx="408.4" cy="58.1" rx="2.5" ry="2.45" fill="url(#gc)"/>
<ellipse cx="414.6" cy="58.1" rx="2.5" ry="2.45" fill="url(#gc)"/>
<ellipse cx="420.6" cy="58.1" rx="2.5" ry="2.45" fill="url(#gc)"/>
<ellipse cx="426.7" cy="58.1" rx="2.5" ry="2.45" fill="url(#gc)"/>
<ellipse cx="274.3" cy="64.1" rx="2.5" ry="2.45" fill="url(#gc)"/>
<ellipse cx="280.4" cy="64.1" rx="2.5" ry="2.45" fill="url(#gc)"/>
<ellipse cx="286.8" cy="64.1" rx="2.5" ry="2.45" fill="url(#gc)"/>
<ellipse cx="292.9" cy="64.1" rx="2.5" ry="2.45" fill="url(#gc)"/>
<ellipse cx="298.4" cy="64.1" rx="2.5" ry="2.45" fill="url(#gc)"/>
<ellipse cx="304.6" cy="64.1" rx="2.5" ry="2.45" fill="url(#gc)"/>
<ellipse cx="310.4" cy="64.1" rx="2.5" ry="2.45" fill="url(#gc)"/>
<ellipse cx="316.6" cy="64.1" rx="2.5" ry="2.45" fill="url(#gc)"/>
<ellipse cx="322.4" cy="64.1" rx="2.5" ry="2.45" fill="url(#gc)"/>
<ellipse cx="328.6" cy="64.1" rx="2.5" ry="2.45" fill="url(#gc)"/>
<ellipse cx="334.3" cy="64.1" rx="2.5" ry="2.45" fill="url(#gc)"/>
<ellipse cx="340.4" cy="64.1" rx="2.5" ry="2.45" fill="url(#gc)"/>
<ellipse cx="346.3" cy="64.1" rx="2.5" ry="2.45" fill="url(#gc)"/>
<ellipse cx="352.4" cy="64.1" rx="2.5" ry="2.45" fill="url(#gc)"/>
<ellipse cx="358.4" cy="64.1" rx="2.5" ry="2.45" fill="url(#gc)"/>
<ellipse cx="364.6" cy="64.1" rx="2.5" ry="2.45" fill="url(#gc)"/>
<ellipse cx="370.9" cy="64.1" rx="2.5" ry="2.45" fill="url(#gc)"/>
<ellipse cx="377.1" cy="64.1" rx="2.5" ry="2.45" fill="url(#gc)"/>
<ellipse cx="383.6" cy="64.1" rx="2.5" ry="2.45" fill="url(#gc)"/>
<ellipse cx="389.8" cy="64.1" rx="2.5" ry="2.45" fill="url(#gc)"/>
<ellipse cx="396.2" cy="64.1" rx="2.5" ry="2.45" fill="url(#gc)"/>
<ellipse cx="402.4" cy="64.1" rx="2.5" ry="2.45" fill="url(#gc)"/>
<ellipse cx="408.4" cy="64.1" rx="2.5" ry="2.45" fill="url(#gc)"/>
<ellipse cx="414.6" cy="64.1" rx="2.5" ry="2.45" fill="url(#gc)"/>
<ellipse cx="420.6" cy="64.1" rx="2.5" ry="2.45" fill="url(#gc)"/>
<ellipse cx="426.7" cy="64.1" rx="2.5" ry="2.45" fill="url(#gc)"/>
<ellipse cx="268.2" cy="70.1" rx="2.5" ry="2.45" fill="url(#gc)"/>
<ellipse cx="274.3" cy="70.1" rx="2.5" ry="2.45" fill="url(#gc)"/>
<ellipse cx="280.4" cy="70.1" rx="2.5" ry="2.45" fill="url(#gc)"/>
<ellipse cx="286.8" cy="70.1" rx="2.5" ry="2.45" fill="url(#gc)"/>
<ellipse cx="292.9" cy="70.1" rx="2.5" ry="2.45" fill="url(#gc)"/>
<ellipse cx="298.4" cy="70.1" rx="2.5" ry="2.45" fill="url(#gc)"/>
<ellipse cx="304.6" cy="70.1" rx="2.5" ry="2.45" fill="url(#gc)"/>
<ellipse cx="310.4" cy="70.1" rx="2.5" ry="2.45" fill="url(#gc)"/>
<ellipse cx="316.6" cy="70.1" rx="2.5" ry="2.45" fill="url(#gc)"/>
<ellipse cx="322.4" cy="70.1" rx="2.5" ry="2.45" fill="url(#gc)"/>
<ellipse cx="328.6" cy="70.1" rx="2.5" ry="2.45" fill="url(#gc)"/>
<ellipse cx="334.3" cy="70.1" rx="2.5" ry="2.45" fill="url(#gc)"/>
<ellipse cx="340.4" cy="70.1" rx="2.5" ry="2.45" fill="url(#gc)"/>
<ellipse cx="346.3" cy="70.1" rx="2.5" ry="2.45" fill="url(#gc)"/>
<ellipse cx="352.4" cy="70.1" rx="2.5" ry="2.45" fill="url(#gc)"/>
<ellipse cx="358.4" cy="70.1" rx="2.5" ry="2.45" fill="url(#gc)"/>
<ellipse cx="364.6" cy="70.1" rx="2.5" ry="2.45" fill="url(#gc)"/>
<ellipse cx="370.9" cy="70.1" rx="2.5" ry="2.45" fill="url(#gc)"/>
<ellipse cx="377.1" cy="70.1" rx="2.5" ry="2.45" fill="url(#gc)"/>
<ellipse cx="383.6" cy="70.1" rx="2.5" ry="2.45" fill="url(#gc)"/>
<ellipse cx="389.8" cy="70.1" rx="2.5" ry="2.45" fill="url(#gc)"/>
<ellipse cx="396.2" cy="70.1" rx="2.5" ry="2.45" fill="url(#gc)"/>
<ellipse cx="402.4" cy="70.1" rx="2.5" ry="2.45" fill="url(#gc)"/>
<ellipse cx="408.4" cy="70.1" rx="2.5" ry="2.45" fill="url(#gc)"/>
<ellipse cx="414.6" cy="70.1" rx="2.5" ry="2.45" fill="url(#gc)"/>
<ellipse cx="420.6" cy="70.1" rx="2.5" ry="2.45" fill="url(#gc)"/>
<ellipse cx="426.7" cy="70.1" rx="2.5" ry="2.45" fill="url(#gc)"/>
<ellipse cx="262.1" cy="76.1" rx="2.5" ry="2.45" fill="url(#gc)"/>
<ellipse cx="268.2" cy="76.1" rx="2.5" ry="2.45" fill="url(#gc)"/>
<ellipse cx="274.3" cy="76.1" rx="2.5" ry="2.45" fill="url(#gc)"/>
<ellipse cx="280.4" cy="76.1" rx="2.5" ry="2.45" fill="url(#gc)"/>
<ellipse cx="286.8" cy="76.1" rx="2.5" ry="2.45" fill="url(#gc)"/>
<ellipse cx="292.9" cy="76.1" rx="2.5" ry="2.45" fill="url(#gc)"/>
<ellipse cx="298.4" cy="76.1" rx="2.5" ry="2.45" fill="url(#gc)"/>
<ellipse cx="304.6" cy="76.1" rx="2.5" ry="2.45" fill="url(#gc)"/>
<ellipse cx="310.4" cy="76.1" rx="2.5" ry="2.45" fill="url(#gc)"/>
<ellipse cx="316.6" cy="76.1" rx="2.5" ry="2.45" fill="url(#gc)"/>
<ellipse cx="322.4" cy="76.1" rx="2.5" ry="2.45" fill="url(#gc)"/>
<ellipse cx="328.6" cy="76.1" rx="2.5" ry="2.45" fill="url(#gc)"/>
<ellipse cx="334.3" cy="76.1" rx="2.5" ry="2.45" fill="url(#gc)"/>
<ellipse cx="340.4" cy="76.1" rx="2.5" ry="2.45" fill="url(#gc)"/>
<ellipse cx="346.3" cy="76.1" rx="2.5" ry="2.45" fill="url(#gc)"/>
<ellipse cx="352.4" cy="76.1" rx="2.5" ry="2.45" fill="url(#gc)"/>
<ellipse cx="358.4" cy="76.1" rx="2.5" ry="2.45" fill="url(#gc)"/>
<ellipse cx="364.6" cy="76.1" rx="2.5" ry="2.45" fill="url(#gc)"/>
<ellipse cx="370.9" cy="76.1" rx="2.5" ry="2.45" fill="url(#gc)"/>
<ellipse cx="377.1" cy="76.1" rx="2.5" ry="2.45" fill="url(#gc)"/>
<ellipse cx="383.6" cy="76.1" rx="2.5" ry="2.45" fill="url(#gc)"/>
<ellipse cx="389.8" cy="76.1" rx="2.5" ry="2.45" fill="url(#gc)"/>
<ellipse cx="396.2" cy="76.1" rx="2.5" ry="2.45" fill="url(#gc)"/>
<ellipse cx="402.4" cy="76.1" rx="2.5" ry="2.45" fill="url(#gc)"/>
<ellipse cx="408.4" cy="76.1" rx="2.5" ry="2.45" fill="url(#gc)"/>
<ellipse cx="414.6" cy="76.1" rx="2.5" ry="2.45" fill="url(#gc)"/>
<ellipse cx="420.6" cy="76.1" rx="2.5" ry="2.45" fill="url(#gc)"/>
<ellipse cx="426.7" cy="76.1" rx="2.5" ry="2.45" fill="url(#gc)"/>
<ellipse cx="256.1" cy="82.1" rx="2.5" ry="2.45" fill="url(#gc)"/>
<ellipse cx="262.1" cy="82.1" rx="2.5" ry="2.45" fill="url(#gc)"/>
<ellipse cx="268.2" cy="82.1" rx="2.5" ry="2.45" fill="url(#gc)"/>
<ellipse cx="274.3" cy="82.1" rx="2.5" ry="2.45" fill="url(#gc)"/>
<ellipse cx="280.4" cy="82.1" rx="2.5" ry="2.45" fill="url(#gc)"/>
<ellipse cx="286.8" cy="82.1" rx="2.5" ry="2.45" fill="url(#gc)"/>
<ellipse cx="292.9" cy="82.1" rx="2.5" ry="2.45" fill="url(#gc)"/>
<ellipse cx="298.4" cy="82.1" rx="2.5" ry="2.45" fill="url(#gc)"/>
<ellipse cx="304.6" cy="82.1" rx="2.5" ry="2.45" fill="url(#gc)"/>
<ellipse cx="310.4" cy="82.1" rx="2.5" ry="2.45" fill="url(#gc)"/>
<ellipse cx="316.6" cy="82.1" rx="2.5" ry="2.45" fill="url(#gc)"/>
<ellipse cx="322.4" cy="82.1" rx="2.5" ry="2.45" fill="url(#gc)"/>
<ellipse cx="328.6" cy="82.1" rx="2.5" ry="2.45" fill="url(#gc)"/>
<ellipse cx="334.3" cy="82.1" rx="2.5" ry="2.45" fill="url(#gc)"/>
<ellipse cx="340.4" cy="82.1" rx="2.5" ry="2.45" fill="url(#gc)"/>
<ellipse cx="346.3" cy="82.1" rx="2.5" ry="2.45" fill="url(#gc)"/>
<ellipse cx="352.4" cy="82.1" rx="2.5" ry="2.45" fill="url(#gc)"/>
<ellipse cx="358.4" cy="82.1" rx="2.5" ry="2.45" fill="url(#gc)"/>
<ellipse cx="364.6" cy="82.1" rx="2.5" ry="2.45" fill="url(#gc)"/>
<ellipse cx="370.9" cy="82.1" rx="2.5" ry="2.45" fill="url(#gc)"/>
<ellipse cx="377.1" cy="82.1" rx="2.5" ry="2.45" fill="url(#gc)"/>
<ellipse cx="383.6" cy="82.1" rx="2.5" ry="2.45" fill="url(#gc)"/>
<ellipse cx="389.8" cy="82.1" rx="2.5" ry="2.45" fill="url(#gc)"/>
<ellipse cx="396.2" cy="82.1" rx="2.5" ry="2.45" fill="url(#gc)"/>
<ellipse cx="402.4" cy="82.1" rx="2.5" ry="2.45" fill="url(#gc)"/>
<ellipse cx="408.4" cy="82.1" rx="2.5" ry="2.45" fill="url(#gc)"/>
<ellipse cx="414.6" cy="82.1" rx="2.5" ry="2.45" fill="url(#gc)"/>
<ellipse cx="420.6" cy="82.1" rx="2.5" ry="2.45" fill="url(#gc)"/>
<ellipse cx="426.7" cy="82.1" rx="2.5" ry="2.45" fill="url(#gc)"/>
<ellipse cx="249.9" cy="88.1" rx="2.5" ry="2.45" fill="url(#gc)"/>
<ellipse cx="256.1" cy="88.1" rx="2.5" ry="2.45" fill="url(#gc)"/>
<ellipse cx="262.1" cy="88.1" rx="2.5" ry="2.45" fill="url(#gc)"/>
<ellipse cx="268.2" cy="88.1" rx="2.5" ry="2.45" fill="url(#gc)"/>
<ellipse cx="274.3" cy="88.1" rx="2.5" ry="2.45" fill="url(#gc)"/>
<ellipse cx="280.4" cy="88.1" rx="2.5" ry="2.45" fill="url(#gc)"/>
<ellipse cx="286.8" cy="88.1" rx="2.5" ry="2.45" fill="url(#gc)"/>
<ellipse cx="292.9" cy="88.1" rx="2.5" ry="2.45" fill="url(#gc)"/>
<ellipse cx="298.4" cy="88.1" rx="2.5" ry="2.45" fill="url(#gc)"/>
<ellipse cx="304.6" cy="88.1" rx="2.5" ry="2.45" fill="url(#gc)"/>
<ellipse cx="310.4" cy="88.1" rx="2.5" ry="2.45" fill="url(#gc)"/>
<ellipse cx="316.6" cy="88.1" rx="2.5" ry="2.45" fill="url(#gc)"/>
<ellipse cx="322.4" cy="88.1" rx="2.5" ry="2.45" fill="url(#gc)"/>
<ellipse cx="328.6" cy="88.1" rx="2.5" ry="2.45" fill="url(#gc)"/>
<ellipse cx="334.3" cy="88.1" rx="2.5" ry="2.45" fill="url(#gc)"/>
<ellipse cx="340.4" cy="88.1" rx="2.5" ry="2.45" fill="url(#gc)"/>
<ellipse cx="346.3" cy="88.1" rx="2.5" ry="2.45" fill="url(#gc)"/>
<ellipse cx="352.4" cy="88.1" rx="2.5" ry="2.45" fill="url(#gc)"/>
<ellipse cx="358.4" cy="88.1" rx="2.5" ry="2.45" fill="url(#gc)"/>
<ellipse cx="364.6" cy="88.1" rx="2.5" ry="2.45" fill="url(#gc)"/>
<ellipse cx="370.9" cy="88.1" rx="2.5" ry="2.45" fill="url(#gc)"/>
<ellipse cx="377.1" cy="88.1" rx="2.5" ry="2.45" fill="url(#gc)"/>
<ellipse cx="383.6" cy="88.1" rx="2.5" ry="2.45" fill="url(#gc)"/>
<ellipse cx="389.8" cy="88.1" rx="2.5" ry="2.45" fill="url(#gc)"/>
<ellipse cx="396.2" cy="88.1" rx="2.5" ry="2.45" fill="url(#gc)"/>
<ellipse cx="402.4" cy="88.1" rx="2.5" ry="2.45" fill="url(#gc)"/>
<ellipse cx="408.4" cy="88.1" rx="2.5" ry="2.45" fill="url(#gc)"/>
<ellipse cx="414.6" cy="88.1" rx="2.5" ry="2.45" fill="url(#gc)"/>
<ellipse cx="420.6" cy="88.1" rx="2.5" ry="2.45" fill="url(#gc)"/>
<ellipse cx="426.7" cy="88.1" rx="2.5" ry="2.45" fill="url(#gc)"/>
<ellipse cx="243.9" cy="94.1" rx="2.5" ry="2.45" fill="url(#gc)"/>
<ellipse cx="249.9" cy="94.1" rx="2.5" ry="2.45" fill="url(#gc)"/>
<ellipse cx="256.1" cy="94.1" rx="2.5" ry="2.45" fill="url(#gc)"/>
<ellipse cx="262.1" cy="94.1" rx="2.5" ry="2.45" fill="url(#gc)"/>
<ellipse cx="268.2" cy="94.1" rx="2.5" ry="2.45" fill="url(#gc)"/>
<ellipse cx="274.3" cy="94.1" rx="2.5" ry="2.45" fill="url(#gc)"/>
<ellipse cx="280.4" cy="94.1" rx="2.5" ry="2.45" fill="url(#gc)"/>
<ellipse cx="286.8" cy="94.1" rx="2.5" ry="2.45" fill="url(#gc)"/>
<ellipse cx="292.9" cy="94.1" rx="2.5" ry="2.45" fill="url(#gc)"/>
<ellipse cx="298.4" cy="94.1" rx="2.5" ry="2.45" fill="url(#gc)"/>
<ellipse cx="304.6" cy="94.1" rx="2.5" ry="2.45" fill="url(#gc)"/>
<ellipse cx="310.4" cy="94.1" rx="2.5" ry="2.45" fill="url(#gc)"/>
<ellipse cx="316.6" cy="94.1" rx="2.5" ry="2.45" fill="url(#gc)"/>
<ellipse cx="322.4" cy="94.1" rx="2.5" ry="2.45" fill="url(#gc)"/>
<ellipse cx="328.6" cy="94.1" rx="2.5" ry="2.45" fill="url(#gc)"/>
<ellipse cx="334.3" cy="94.1" rx="2.5" ry="2.45" fill="url(#gc)"/>
<ellipse cx="340.4" cy="94.1" rx="2.5" ry="2.45" fill="url(#gc)"/>
<ellipse cx="346.3" cy="94.1" rx="2.5" ry="2.45" fill="url(#gc)"/>
<ellipse cx="352.4" cy="94.1" rx="2.5" ry="2.45" fill="url(#gc)"/>
<ellipse cx="358.4" cy="94.1" rx="2.5" ry="2.45" fill="url(#gc)"/>
<ellipse cx="364.6" cy="94.1" rx="2.5" ry="2.45" fill="url(#gc)"/>
<ellipse cx="370.9" cy="94.1" rx="2.5" ry="2.45" fill="url(#gc)"/>
<ellipse cx="377.1" cy="94.1" rx="2.5" ry="2.45" fill="url(#gc)"/>
<ellipse cx="383.6" cy="94.1" rx="2.5" ry="2.45" fill="url(#gc)"/>
<ellipse cx="389.8" cy="94.1" rx="2.5" ry="2.45" fill="url(#gc)"/>
<ellipse cx="396.2" cy="94.1" rx="2.5" ry="2.45" fill="url(#gc)"/>
<ellipse cx="402.4" cy="94.1" rx="2.5" ry="2.45" fill="url(#gc)"/>
<ellipse cx="408.4" cy="94.1" rx="2.5" ry="2.45" fill="url(#gc)"/>
<ellipse cx="414.6" cy="94.1" rx="2.5" ry="2.45" fill="url(#gc)"/>
<ellipse cx="420.6" cy="94.1" rx="2.5" ry="2.45" fill="url(#gc)"/>
<ellipse cx="426.7" cy="94.1" rx="2.5" ry="2.45" fill="url(#gc)"/>
<ellipse cx="237.8" cy="100.1" rx="2.5" ry="2.45" fill="url(#gc)"/>
<ellipse cx="243.9" cy="100.1" rx="2.5" ry="2.45" fill="url(#gc)"/>
<ellipse cx="249.9" cy="100.1" rx="2.5" ry="2.45" fill="url(#gc)"/>
<ellipse cx="256.1" cy="100.1" rx="2.5" ry="2.45" fill="url(#gc)"/>
<ellipse cx="262.1" cy="100.1" rx="2.5" ry="2.45" fill="url(#gc)"/>
<ellipse cx="268.2" cy="100.1" rx="2.5" ry="2.45" fill="url(#gc)"/>
<ellipse cx="274.3" cy="100.1" rx="2.5" ry="2.45" fill="url(#gc)"/>
<ellipse cx="280.4" cy="100.1" rx="2.5" ry="2.45" fill="url(#gc)"/>
<ellipse cx="286.8" cy="100.1" rx="2.5" ry="2.45" fill="url(#gc)"/>
<ellipse cx="292.9" cy="100.1" rx="2.5" ry="2.45" fill="url(#gc)"/>
<ellipse cx="298.4" cy="100.1" rx="2.5" ry="2.45" fill="url(#gc)"/>
<ellipse cx="304.6" cy="100.1" rx="2.5" ry="2.45" fill="url(#gc)"/>
<ellipse cx="310.4" cy="100.1" rx="2.5" ry="2.45" fill="url(#gc)"/>
<ellipse cx="316.6" cy="100.1" rx="2.5" ry="2.45" fill="url(#gc)"/>
<ellipse cx="322.4" cy="100.1" rx="2.5" ry="2.45" fill="url(#gc)"/>
<ellipse cx="328.6" cy="100.1" rx="2.5" ry="2.45" fill="url(#gc)"/>
<ellipse cx="334.3" cy="100.1" rx="2.5" ry="2.45" fill="url(#gc)"/>
<ellipse cx="340.4" cy="100.1" rx="2.5" ry="2.45" fill="url(#gc)"/>
<ellipse cx="346.3" cy="100.1" rx="2.5" ry="2.45" fill="url(#gc)"/>
<ellipse cx="352.4" cy="100.1" rx="2.5" ry="2.45" fill="url(#gc)"/>
<ellipse cx="358.4" cy="100.1" rx="2.5" ry="2.45" fill="url(#gc)"/>
<ellipse cx="364.6" cy="100.1" rx="2.5" ry="2.45" fill="url(#gc)"/>
<ellipse cx="370.9" cy="100.1" rx="2.5" ry="2.45" fill="url(#gc)"/>
<ellipse cx="377.1" cy="100.1" rx="2.5" ry="2.45" fill="url(#gc)"/>
<ellipse cx="383.6" cy="100.1" rx="2.5" ry="2.45" fill="url(#gc)"/>
<ellipse cx="389.8" cy="100.1" rx="2.5" ry="2.45" fill="url(#gc)"/>
<ellipse cx="396.2" cy="100.1" rx="2.5" ry="2.45" fill="url(#gc)"/>
<ellipse cx="402.4" cy="100.1" rx="2.5" ry="2.45" fill="url(#gc)"/>
<ellipse cx="408.4" cy="100.1" rx="2.5" ry="2.45" fill="url(#gc)"/>
<ellipse cx="414.6" cy="100.1" rx="2.5" ry="2.45" fill="url(#gc)"/>
<ellipse cx="420.6" cy="100.1" rx="2.5" ry="2.45" fill="url(#gc)"/>
<ellipse cx="426.7" cy="100.1" rx="2.5" ry="2.45" fill="url(#gc)"/>
<ellipse cx="237.8" cy="106.1" rx="2.5" ry="2.45" fill="url(#gc)"/>
<ellipse cx="243.9" cy="106.1" rx="2.5" ry="2.45" fill="url(#gc)"/>
<ellipse cx="249.9" cy="106.1" rx="2.5" ry="2.45" fill="url(#gc)"/>
<ellipse cx="256.1" cy="106.1" rx="2.5" ry="2.45" fill="url(#gc)"/>
<ellipse cx="262.1" cy="106.1" rx="2.5" ry="2.45" fill="url(#gc)"/>
<ellipse cx="268.2" cy="106.1" rx="2.5" ry="2.45" fill="url(#gc)"/>
<ellipse cx="274.3" cy="106.1" rx="2.5" ry="2.45" fill="url(#gc)"/>
<ellipse cx="280.4" cy="106.1" rx="2.5" ry="2.45" fill="url(#gc)"/>
<ellipse cx="286.8" cy="106.1" rx="2.5" ry="2.45" fill="url(#gc)"/>
<ellipse cx="292.9" cy="106.1" rx="2.5" ry="2.45" fill="url(#gc)"/>
<ellipse cx="298.4" cy="106.1" rx="2.5" ry="2.45" fill="url(#gc)"/>
<ellipse cx="304.6" cy="106.1" rx="2.5" ry="2.45" fill="url(#gc)"/>
<ellipse cx="310.4" cy="106.1" rx="2.5" ry="2.45" fill="url(#gc)"/>
<ellipse cx="316.6" cy="106.1" rx="2.5" ry="2.45" fill="url(#gc)"/>
<ellipse cx="322.4" cy="106.1" rx="2.5" ry="2.45" fill="url(#gc)"/>
<ellipse cx="328.6" cy="106.1" rx="2.5" ry="2.45" fill="url(#gc)"/>
<ellipse cx="334.3" cy="106.1" rx="2.5" ry="2.45" fill="url(#gc)"/>
<ellipse cx="340.4" cy="106.1" rx="2.5" ry="2.45" fill="url(#gc)"/>
<ellipse cx="346.3" cy="106.1" rx="2.5" ry="2.45" fill="url(#gc)"/>
<ellipse cx="352.4" cy="106.1" rx="2.5" ry="2.45" fill="url(#gc)"/>
<ellipse cx="358.4" cy="106.1" rx="2.5" ry="2.45" fill="url(#gc)"/>
<ellipse cx="364.6" cy="106.1" rx="2.5" ry="2.45" fill="url(#gc)"/>
<ellipse cx="370.9" cy="106.1" rx="2.5" ry="2.45" fill="url(#gc)"/>
<ellipse cx="377.1" cy="106.1" rx="2.5" ry="2.45" fill="url(#gc)"/>
<ellipse cx="383.6" cy="106.1" rx="2.5" ry="2.45" fill="url(#gc)"/>
<ellipse cx="389.8" cy="106.1" rx="2.5" ry="2.45" fill="url(#gc)"/>
<ellipse cx="396.2" cy="106.1" rx="2.5" ry="2.45" fill="url(#gc)"/>
<ellipse cx="402.4" cy="106.1" rx="2.5" ry="2.45" fill="url(#gc)"/>
<ellipse cx="408.4" cy="106.1" rx="2.5" ry="2.45" fill="url(#gc)"/>
<ellipse cx="414.6" cy="106.1" rx="2.5" ry="2.45" fill="url(#gc)"/>
<ellipse cx="420.6" cy="106.1" rx="2.5" ry="2.45" fill="url(#gc)"/>
<ellipse cx="426.7" cy="106.1" rx="2.5" ry="2.45" fill="url(#gc)"/>
<ellipse cx="237.8" cy="112.1" rx="2.5" ry="2.45" fill="url(#gc)"/>
<ellipse cx="243.9" cy="112.1" rx="2.5" ry="2.45" fill="url(#gc)"/>
<ellipse cx="249.9" cy="112.1" rx="2.5" ry="2.45" fill="url(#gc)"/>
<ellipse cx="256.1" cy="112.1" rx="2.5" ry="2.45" fill="url(#gc)"/>
<ellipse cx="262.1" cy="112.1" rx="2.5" ry="2.45" fill="url(#gc)"/>
<ellipse cx="268.2" cy="112.1" rx="2.5" ry="2.45" fill="url(#gc)"/>
<ellipse cx="274.3" cy="112.1" rx="2.5" ry="2.45" fill="url(#gc)"/>
<ellipse cx="280.4" cy="112.1" rx="2.5" ry="2.45" fill="url(#gc)"/>
<ellipse cx="286.8" cy="112.1" rx="2.5" ry="2.45" fill="url(#gc)"/>
<ellipse cx="292.9" cy="112.1" rx="2.5" ry="2.45" fill="url(#gc)"/>
<ellipse cx="298.4" cy="112.1" rx="2.5" ry="2.45" fill="url(#gc)"/>
<ellipse cx="304.6" cy="112.1" rx="2.5" ry="2.45" fill="url(#gc)"/>
<ellipse cx="310.4" cy="112.1" rx="2.5" ry="2.45" fill="url(#gc)"/>
<ellipse cx="316.6" cy="112.1" rx="2.5" ry="2.45" fill="url(#gc)"/>
<ellipse cx="322.4" cy="112.1" rx="2.5" ry="2.45" fill="url(#gc)"/>
<ellipse cx="328.6" cy="112.1" rx="2.5" ry="2.45" fill="url(#gc)"/>
<ellipse cx="334.3" cy="112.1" rx="2.5" ry="2.45" fill="url(#gc)"/>
<ellipse cx="340.4" cy="112.1" rx="2.5" ry="2.45" fill="url(#gc)"/>
<ellipse cx="346.3" cy="112.1" rx="2.5" ry="2.45" fill="url(#gc)"/>
<ellipse cx="352.4" cy="112.1" rx="2.5" ry="2.45" fill="url(#gc)"/>
<ellipse cx="358.4" cy="112.1" rx="2.5" ry="2.45" fill="url(#gc)"/>
<ellipse cx="364.6" cy="112.1" rx="2.5" ry="2.45" fill="url(#gc)"/>
<ellipse cx="370.9" cy="112.1" rx="2.5" ry="2.45" fill="url(#gc)"/>
<ellipse cx="377.1" cy="112.1" rx="2.5" ry="2.45" fill="url(#gc)"/>
<ellipse cx="383.6" cy="112.1" rx="2.5" ry="2.45" fill="url(#gc)"/>
<ellipse cx="389.8" cy="112.1" rx="2.5" ry="2.45" fill="url(#gc)"/>
<ellipse cx="396.2" cy="112.1" rx="2.5" ry="2.45" fill="url(#gc)"/>
<ellipse cx="402.4" cy="112.1" rx="2.5" ry="2.45" fill="url(#gc)"/>
<ellipse cx="408.4" cy="112.1" rx="2.5" ry="2.45" fill="url(#gc)"/>
<ellipse cx="414.6" cy="112.1" rx="2.5" ry="2.45" fill="url(#gc)"/>
<ellipse cx="420.6" cy="112.1" rx="2.5" ry="2.45" fill="url(#gc)"/>
<ellipse cx="426.7" cy="112.1" rx="2.5" ry="2.45" fill="url(#gc)"/>
<ellipse cx="237.8" cy="118.1" rx="2.5" ry="2.45" fill="url(#gc)"/>
<ellipse cx="243.9" cy="118.1" rx="2.5" ry="2.45" fill="url(#gc)"/>
<ellipse cx="249.9" cy="118.1" rx="2.5" ry="2.45" fill="url(#gc)"/>
<ellipse cx="256.1" cy="118.1" rx="2.5" ry="2.45" fill="url(#gc)"/>
<ellipse cx="262.1" cy="118.1" rx="2.5" ry="2.45" fill="url(#gc)"/>
<ellipse cx="268.2" cy="118.1" rx="2.5" ry="2.45" fill="url(#gc)"/>
<ellipse cx="274.3" cy="118.1" rx="2.5" ry="2.45" fill="url(#gc)"/>
<ellipse cx="280.4" cy="118.1" rx="2.5" ry="2.45" fill="url(#gc)"/>
<ellipse cx="286.8" cy="118.1" rx="2.5" ry="2.45" fill="url(#gc)"/>
<ellipse cx="292.9" cy="118.1" rx="2.5" ry="2.45" fill="url(#gc)"/>
<ellipse cx="298.4" cy="118.1" rx="2.5" ry="2.45" fill="url(#gc)"/>
<ellipse cx="304.6" cy="118.1" rx="2.5" ry="2.45" fill="url(#gc)"/>
<ellipse cx="310.4" cy="118.1" rx="2.5" ry="2.45" fill="url(#gc)"/>
<ellipse cx="316.6" cy="118.1" rx="2.5" ry="2.45" fill="url(#gc)"/>
<ellipse cx="322.4" cy="118.1" rx="2.5" ry="2.45" fill="url(#gc)"/>
<ellipse cx="328.6" cy="118.1" rx="2.5" ry="2.45" fill="url(#gc)"/>
<ellipse cx="334.3" cy="118.1" rx="2.5" ry="2.45" fill="url(#gc)"/>
<ellipse cx="340.4" cy="118.1" rx="2.5" ry="2.45" fill="url(#gc)"/>
<ellipse cx="346.3" cy="118.1" rx="2.5" ry="2.45" fill="url(#gc)"/>
<ellipse cx="352.4" cy="118.1" rx="2.5" ry="2.45" fill="url(#gc)"/>
<ellipse cx="358.4" cy="118.1" rx="2.5" ry="2.45" fill="url(#gc)"/>
<ellipse cx="364.6" cy="118.1" rx="2.5" ry="2.45" fill="url(#gc)"/>
<ellipse cx="370.9" cy="118.1" rx="2.5" ry="2.45" fill="url(#gc)"/>
<ellipse cx="377.1" cy="118.1" rx="2.5" ry="2.45" fill="url(#gc)"/>
<ellipse cx="383.6" cy="118.1" rx="2.5" ry="2.45" fill="url(#gc)"/>
<ellipse cx="389.8" cy="118.1" rx="2.5" ry="2.45" fill="url(#gc)"/>
<ellipse cx="396.2" cy="118.1" rx="2.5" ry="2.45" fill="url(#gc)"/>
<ellipse cx="402.4" cy="118.1" rx="2.5" ry="2.45" fill="url(#gc)"/>
<ellipse cx="408.4" cy="118.1" rx="2.5" ry="2.45" fill="url(#gc)"/>
<ellipse cx="414.6" cy="118.1" rx="2.5" ry="2.45" fill="url(#gc)"/>
<ellipse cx="420.6" cy="118.1" rx="2.5" ry="2.45" fill="url(#gc)"/>
<ellipse cx="426.7" cy="118.1" rx="2.5" ry="2.45" fill="url(#gc)"/>
<ellipse cx="237.8" cy="124.1" rx="2.5" ry="2.45" fill="url(#gc)"/>
<ellipse cx="243.9" cy="124.1" rx="2.5" ry="2.45" fill="url(#gc)"/>
<ellipse cx="249.9" cy="124.1" rx="2.5" ry="2.45" fill="url(#gc)"/>
<ellipse cx="256.1" cy="124.1" rx="2.5" ry="2.45" fill="url(#gc)"/>
<ellipse cx="262.1" cy="124.1" rx="2.5" ry="2.45" fill="url(#gc)"/>
<ellipse cx="268.2" cy="124.1" rx="2.5" ry="2.45" fill="url(#gc)"/>
<ellipse cx="274.3" cy="124.1" rx="2.5" ry="2.45" fill="url(#gc)"/>
<ellipse cx="280.4" cy="124.1" rx="2.5" ry="2.45" fill="url(#gc)"/>
<ellipse cx="286.8" cy="124.1" rx="2.5" ry="2.45" fill="url(#gc)"/>
<ellipse cx="292.9" cy="124.1" rx="2.5" ry="2.45" fill="url(#gc)"/>
<ellipse cx="298.4" cy="124.1" rx="2.5" ry="2.45" fill="url(#gc)"/>
<ellipse cx="304.6" cy="124.1" rx="2.5" ry="2.45" fill="url(#gc)"/>
<ellipse cx="310.4" cy="124.1" rx="2.5" ry="2.45" fill="url(#gc)"/>
<ellipse cx="316.6" cy="124.1" rx="2.5" ry="2.45" fill="url(#gc)"/>
<ellipse cx="322.4" cy="124.1" rx="2.5" ry="2.45" fill="url(#gc)"/>
<ellipse cx="328.6" cy="124.1" rx="2.5" ry="2.45" fill="url(#gc)"/>
<ellipse cx="334.3" cy="124.1" rx="2.5" ry="2.45" fill="url(#gc)"/>
<ellipse cx="340.4" cy="124.1" rx="2.5" ry="2.45" fill="url(#gc)"/>
<ellipse cx="346.3" cy="124.1" rx="2.5" ry="2.45" fill="url(#gc)"/>
<ellipse cx="352.4" cy="124.1" rx="2.5" ry="2.45" fill="url(#gc)"/>
<ellipse cx="358.4" cy="124.1" rx="2.5" ry="2.45" fill="url(#gc)"/>
<ellipse cx="364.6" cy="124.1" rx="2.5" ry="2.45" fill="url(#gc)"/>
<ellipse cx="370.9" cy="124.1" rx="2.5" ry="2.45" fill="url(#gc)"/>
<ellipse cx="377.1" cy="124.1" rx="2.5" ry="2.45" fill="url(#gc)"/>
<ellipse cx="383.6" cy="124.1" rx="2.5" ry="2.45" fill="url(#gc)"/>
<ellipse cx="389.8" cy="124.1" rx="2.5" ry="2.45" fill="url(#gc)"/>
<ellipse cx="396.2" cy="124.1" rx="2.5" ry="2.45" fill="url(#gc)"/>
<ellipse cx="402.4" cy="124.1" rx="2.5" ry="2.45" fill="url(#gc)"/>
<ellipse cx="408.4" cy="124.1" rx="2.5" ry="2.45" fill="url(#gc)"/>
<ellipse cx="414.6" cy="124.1" rx="2.5" ry="2.45" fill="url(#gc)"/>
<ellipse cx="420.6" cy="124.1" rx="2.5" ry="2.45" fill="url(#gc)"/>
<ellipse cx="426.7" cy="124.1" rx="2.5" ry="2.45" fill="url(#gc)"/>
<ellipse cx="237.8" cy="130.1" rx="2.5" ry="2.45" fill="url(#gc)"/>
<ellipse cx="243.9" cy="130.1" rx="2.5" ry="2.45" fill="url(#gc)"/>
<ellipse cx="249.9" cy="130.1" rx="2.5" ry="2.45" fill="url(#gc)"/>
<ellipse cx="256.1" cy="130.1" rx="2.5" ry="2.45" fill="url(#gc)"/>
<ellipse cx="262.1" cy="130.1" rx="2.5" ry="2.45" fill="url(#gc)"/>
<ellipse cx="268.2" cy="130.1" rx="2.5" ry="2.45" fill="url(#gc)"/>
<ellipse cx="274.3" cy="130.1" rx="2.5" ry="2.45" fill="url(#gc)"/>
<ellipse cx="280.4" cy="130.1" rx="2.5" ry="2.45" fill="url(#gc)"/>
<ellipse cx="286.8" cy="130.1" rx="2.5" ry="2.45" fill="url(#gc)"/>
<ellipse cx="292.9" cy="130.1" rx="2.5" ry="2.45" fill="url(#gc)"/>
<ellipse cx="298.4" cy="130.1" rx="2.5" ry="2.45" fill="url(#gc)"/>
<ellipse cx="304.6" cy="130.1" rx="2.5" ry="2.45" fill="url(#gc)"/>
<ellipse cx="310.4" cy="130.1" rx="2.5" ry="2.45" fill="url(#gc)"/>
<ellipse cx="316.6" cy="130.1" rx="2.5" ry="2.45" fill="url(#gc)"/>
<ellipse cx="322.4" cy="130.1" rx="2.5" ry="2.45" fill="url(#gc)"/>
<ellipse cx="328.6" cy="130.1" rx="2.5" ry="2.45" fill="url(#gc)"/>
<ellipse cx="334.3" cy="130.1" rx="2.5" ry="2.45" fill="url(#gc)"/>
<ellipse cx="340.4" cy="130.1" rx="2.5" ry="2.45" fill="url(#gc)"/>
<ellipse cx="346.3" cy="130.1" rx="2.5" ry="2.45" fill="url(#gc)"/>
<ellipse cx="352.4" cy="130.1" rx="2.5" ry="2.45" fill="url(#gc)"/>
<ellipse cx="358.4" cy="130.1" rx="2.5" ry="2.45" fill="url(#gc)"/>
<ellipse cx="364.6" cy="130.1" rx="2.5" ry="2.45" fill="url(#gc)"/>
<ellipse cx="370.9" cy="130.1" rx="2.5" ry="2.45" fill="url(#gc)"/>
<ellipse cx="377.1" cy="130.1" rx="2.5" ry="2.45" fill="url(#gc)"/>
<ellipse cx="383.6" cy="130.1" rx="2.5" ry="2.45" fill="url(#gc)"/>
<ellipse cx="389.8" cy="130.1" rx="2.5" ry="2.45" fill="url(#gc)"/>
<ellipse cx="396.2" cy="130.1" rx="2.5" ry="2.45" fill="url(#gc)"/>
<ellipse cx="402.4" cy="130.1" rx="2.5" ry="2.45" fill="url(#gc)"/>
<ellipse cx="408.4" cy="130.1" rx="2.5" ry="2.45" fill="url(#gc)"/>
<ellipse cx="414.6" cy="130.1" rx="2.5" ry="2.45" fill="url(#gc)"/>
<ellipse cx="420.6" cy="130.1" rx="2.5" ry="2.45" fill="url(#gc)"/>
<ellipse cx="426.7" cy="130.1" rx="2.5" ry="2.45" fill="url(#gc)"/>
<ellipse cx="237.8" cy="136.1" rx="2.5" ry="2.45" fill="url(#gc)"/>
<ellipse cx="243.9" cy="136.1" rx="2.5" ry="2.45" fill="url(#gc)"/>
<ellipse cx="249.9" cy="136.1" rx="2.5" ry="2.45" fill="url(#gc)"/>
<ellipse cx="256.1" cy="136.1" rx="2.5" ry="2.45" fill="url(#gc)"/>
<ellipse cx="262.1" cy="136.1" rx="2.5" ry="2.45" fill="url(#gc)"/>
<ellipse cx="268.2" cy="136.1" rx="2.5" ry="2.45" fill="url(#gc)"/>
<ellipse cx="274.3" cy="136.1" rx="2.5" ry="2.45" fill="url(#gc)"/>
<ellipse cx="280.4" cy="136.1" rx="2.5" ry="2.45" fill="url(#gc)"/>
<ellipse cx="286.8" cy="136.1" rx="2.5" ry="2.45" fill="url(#gc)"/>
<ellipse cx="292.9" cy="136.1" rx="2.5" ry="2.45" fill="url(#gc)"/>
<ellipse cx="298.4" cy="136.1" rx="2.5" ry="2.45" fill="url(#gc)"/>
<ellipse cx="304.6" cy="136.1" rx="2.5" ry="2.45" fill="url(#gc)"/>
<ellipse cx="310.4" cy="136.1" rx="2.5" ry="2.45" fill="url(#gc)"/>
<ellipse cx="316.6" cy="136.1" rx="2.5" ry="2.45" fill="url(#gc)"/>
<ellipse cx="322.4" cy="136.1" rx="2.5" ry="2.45" fill="url(#gc)"/>
<ellipse cx="328.6" cy="136.1" rx="2.5" ry="2.45" fill="url(#gc)"/>
<ellipse cx="334.3" cy="136.1" rx="2.5" ry="2.45" fill="url(#gc)"/>
<ellipse cx="340.4" cy="136.1" rx="2.5" ry="2.45" fill="url(#gc)"/>
<ellipse cx="346.3" cy="136.1" rx="2.5" ry="2.45" fill="url(#gc)"/>
<ellipse cx="352.4" cy="136.1" rx="2.5" ry="2.45" fill="url(#gc)"/>
<ellipse cx="358.4" cy="136.1" rx="2.5" ry="2.45" fill="url(#gc)"/>
<ellipse cx="364.6" cy="136.1" rx="2.5" ry="2.45" fill="url(#gc)"/>
<ellipse cx="370.9" cy="136.1" rx="2.5" ry="2.45" fill="url(#gc)"/>
<ellipse cx="377.1" cy="136.1" rx="2.5" ry="2.45" fill="url(#gc)"/>
<ellipse cx="383.6" cy="136.1" rx="2.5" ry="2.45" fill="url(#gc)"/>
<ellipse cx="389.8" cy="136.1" rx="2.5" ry="2.45" fill="url(#gc)"/>
<ellipse cx="396.2" cy="136.1" rx="2.5" ry="2.45" fill="url(#gc)"/>
<ellipse cx="402.4" cy="136.1" rx="2.5" ry="2.45" fill="url(#gc)"/>
<ellipse cx="408.4" cy="136.1" rx="2.5" ry="2.45" fill="url(#gc)"/>
<ellipse cx="414.6" cy="136.1" rx="2.5" ry="2.45" fill="url(#gc)"/>
<ellipse cx="420.6" cy="136.1" rx="2.5" ry="2.45" fill="url(#gc)"/>
<ellipse cx="426.7" cy="136.1" rx="2.5" ry="2.45" fill="url(#gc)"/>
<ellipse cx="237.8" cy="142.1" rx="2.5" ry="2.45" fill="url(#gc)"/>
<ellipse cx="243.9" cy="142.1" rx="2.5" ry="2.45" fill="url(#gc)"/>
<ellipse cx="249.9" cy="142.1" rx="2.5" ry="2.45" fill="url(#gc)"/>
<ellipse cx="256.1" cy="142.1" rx="2.5" ry="2.45" fill="url(#gc)"/>
<ellipse cx="262.1" cy="142.1" rx="2.5" ry="2.45" fill="url(#gc)"/>
<ellipse cx="268.2" cy="142.1" rx="2.5" ry="2.45" fill="url(#gc)"/>
<ellipse cx="274.3" cy="142.1" rx="2.5" ry="2.45" fill="url(#gc)"/>
<ellipse cx="280.4" cy="142.1" rx="2.5" ry="2.45" fill="url(#gc)"/>
<ellipse cx="286.8" cy="142.1" rx="2.5" ry="2.45" fill="url(#gc)"/>
<ellipse cx="292.9" cy="142.1" rx="2.5" ry="2.45" fill="url(#gc)"/>
<ellipse cx="298.4" cy="142.1" rx="2.5" ry="2.45" fill="url(#gc)"/>
<ellipse cx="304.6" cy="142.1" rx="2.5" ry="2.45" fill="url(#gc)"/>
<ellipse cx="310.4" cy="142.1" rx="2.5" ry="2.45" fill="url(#gc)"/>
<ellipse cx="316.6" cy="142.1" rx="2.5" ry="2.45" fill="url(#gc)"/>
<ellipse cx="322.4" cy="142.1" rx="2.5" ry="2.45" fill="url(#gc)"/>
<ellipse cx="328.6" cy="142.1" rx="2.5" ry="2.45" fill="url(#gc)"/>
<ellipse cx="334.3" cy="142.1" rx="2.5" ry="2.45" fill="url(#gc)"/>
<ellipse cx="340.4" cy="142.1" rx="2.5" ry="2.45" fill="url(#gc)"/>
<ellipse cx="346.3" cy="142.1" rx="2.5" ry="2.45" fill="url(#gc)"/>
<ellipse cx="352.4" cy="142.1" rx="2.5" ry="2.45" fill="url(#gc)"/>
<ellipse cx="358.4" cy="142.1" rx="2.5" ry="2.45" fill="url(#gc)"/>
<ellipse cx="364.6" cy="142.1" rx="2.5" ry="2.45" fill="url(#gc)"/>
<ellipse cx="370.9" cy="142.1" rx="2.5" ry="2.45" fill="url(#gc)"/>
<ellipse cx="377.1" cy="142.1" rx="2.5" ry="2.45" fill="url(#gc)"/>
<ellipse cx="383.6" cy="142.1" rx="2.5" ry="2.45" fill="url(#gc)"/>
<ellipse cx="389.8" cy="142.1" rx="2.5" ry="2.45" fill="url(#gc)"/>
<ellipse cx="396.2" cy="142.1" rx="2.5" ry="2.45" fill="url(#gc)"/>
<ellipse cx="402.4" cy="142.1" rx="2.5" ry="2.45" fill="url(#gc)"/>
<ellipse cx="237.8" cy="148.1" rx="2.5" ry="2.45" fill="url(#gc)"/>
<ellipse cx="243.9" cy="148.1" rx="2.5" ry="2.45" fill="url(#gc)"/>
<ellipse cx="249.9" cy="148.1" rx="2.5" ry="2.45" fill="url(#gc)"/>
<ellipse cx="256.1" cy="148.1" rx="2.5" ry="2.45" fill="url(#gc)"/>
<ellipse cx="262.1" cy="148.1" rx="2.5" ry="2.45" fill="url(#gc)"/>
<ellipse cx="268.2" cy="148.1" rx="2.5" ry="2.45" fill="url(#gc)"/>
<ellipse cx="274.3" cy="148.1" rx="2.5" ry="2.45" fill="url(#gc)"/>
<ellipse cx="280.4" cy="148.1" rx="2.5" ry="2.45" fill="url(#gc)"/>
<ellipse cx="286.8" cy="148.1" rx="2.5" ry="2.45" fill="url(#gc)"/>
<ellipse cx="292.9" cy="148.1" rx="2.5" ry="2.45" fill="url(#gc)"/>
<ellipse cx="298.4" cy="148.1" rx="2.5" ry="2.45" fill="url(#gc)"/>
<ellipse cx="304.6" cy="148.1" rx="2.5" ry="2.45" fill="url(#gc)"/>
<ellipse cx="310.4" cy="148.1" rx="2.5" ry="2.45" fill="url(#gc)"/>
<ellipse cx="316.6" cy="148.1" rx="2.5" ry="2.45" fill="url(#gc)"/>
<ellipse cx="322.4" cy="148.1" rx="2.5" ry="2.45" fill="url(#gc)"/>
<ellipse cx="328.6" cy="148.1" rx="2.5" ry="2.45" fill="url(#gc)"/>
<ellipse cx="334.3" cy="148.1" rx="2.5" ry="2.45" fill="url(#gc)"/>
<ellipse cx="340.4" cy="148.1" rx="2.5" ry="2.45" fill="url(#gc)"/>
<ellipse cx="346.3" cy="148.1" rx="2.5" ry="2.45" fill="url(#gc)"/>
<ellipse cx="352.4" cy="148.1" rx="2.5" ry="2.45" fill="url(#gc)"/>
<ellipse cx="358.4" cy="148.1" rx="2.5" ry="2.45" fill="url(#gc)"/>
<ellipse cx="364.6" cy="148.1" rx="2.5" ry="2.45" fill="url(#gc)"/>
<ellipse cx="370.9" cy="148.1" rx="2.5" ry="2.45" fill="url(#gc)"/>
<ellipse cx="377.1" cy="148.1" rx="2.5" ry="2.45" fill="url(#gc)"/>
<ellipse cx="383.6" cy="148.1" rx="2.5" ry="2.45" fill="url(#gc)"/>
<ellipse cx="389.8" cy="148.1" rx="2.5" ry="2.45" fill="url(#gc)"/>
<ellipse cx="249.9" cy="154.1" rx="2.5" ry="2.45" fill="url(#gc)"/>
<ellipse cx="256.1" cy="154.1" rx="2.5" ry="2.45" fill="url(#gc)"/>
<ellipse cx="262.1" cy="154.1" rx="2.5" ry="2.45" fill="url(#gc)"/>
<ellipse cx="268.2" cy="154.1" rx="2.5" ry="2.45" fill="url(#gc)"/>
<ellipse cx="274.3" cy="154.1" rx="2.5" ry="2.45" fill="url(#gc)"/>
<ellipse cx="280.4" cy="154.1" rx="2.5" ry="2.45" fill="url(#gc)"/>
<ellipse cx="286.8" cy="154.1" rx="2.5" ry="2.45" fill="url(#gc)"/>
<ellipse cx="292.9" cy="154.1" rx="2.5" ry="2.45" fill="url(#gc)"/>
<ellipse cx="298.4" cy="154.1" rx="2.5" ry="2.45" fill="url(#gc)"/>
<ellipse cx="304.6" cy="154.1" rx="2.5" ry="2.45" fill="url(#gc)"/>
<ellipse cx="310.4" cy="154.1" rx="2.5" ry="2.45" fill="url(#gc)"/>
<ellipse cx="316.6" cy="154.1" rx="2.5" ry="2.45" fill="url(#gc)"/>
<ellipse cx="322.4" cy="154.1" rx="2.5" ry="2.45" fill="url(#gc)"/>
<ellipse cx="328.6" cy="154.1" rx="2.5" ry="2.45" fill="url(#gc)"/>
<ellipse cx="334.3" cy="154.1" rx="2.5" ry="2.45" fill="url(#gc)"/>
<ellipse cx="340.4" cy="154.1" rx="2.5" ry="2.45" fill="url(#gc)"/>
<ellipse cx="346.3" cy="154.1" rx="2.5" ry="2.45" fill="url(#gc)"/>
<ellipse cx="352.4" cy="154.1" rx="2.5" ry="2.45" fill="url(#gc)"/>
<ellipse cx="358.4" cy="154.1" rx="2.5" ry="2.45" fill="url(#gc)"/>
<ellipse cx="364.6" cy="154.1" rx="2.5" ry="2.45" fill="url(#gc)"/>
<ellipse cx="370.9" cy="154.1" rx="2.5" ry="2.45" fill="url(#gc)"/>
<ellipse cx="377.1" cy="154.1" rx="2.5" ry="2.45" fill="url(#gc)"/>
<ellipse cx="256.1" cy="160.1" rx="2.5" ry="2.45" fill="url(#gc)"/>
<ellipse cx="262.1" cy="160.1" rx="2.5" ry="2.45" fill="url(#gc)"/>
<ellipse cx="268.2" cy="160.1" rx="2.5" ry="2.45" fill="url(#gc)"/>
<ellipse cx="274.3" cy="160.1" rx="2.5" ry="2.45" fill="url(#gc)"/>
<ellipse cx="280.4" cy="160.1" rx="2.5" ry="2.45" fill="url(#gc)"/>
<ellipse cx="286.8" cy="160.1" rx="2.5" ry="2.45" fill="url(#gc)"/>
<ellipse cx="292.9" cy="160.1" rx="2.5" ry="2.45" fill="url(#gc)"/>
<ellipse cx="298.4" cy="160.1" rx="2.5" ry="2.45" fill="url(#gc)"/>
<ellipse cx="304.6" cy="160.1" rx="2.5" ry="2.45" fill="url(#gc)"/>
<ellipse cx="310.4" cy="160.1" rx="2.5" ry="2.45" fill="url(#gc)"/>
<ellipse cx="316.6" cy="160.1" rx="2.5" ry="2.45" fill="url(#gc)"/>
<ellipse cx="322.4" cy="160.1" rx="2.5" ry="2.45" fill="url(#gc)"/>
<ellipse cx="328.6" cy="160.1" rx="2.5" ry="2.45" fill="url(#gc)"/>
<ellipse cx="334.3" cy="160.1" rx="2.5" ry="2.45" fill="url(#gc)"/>
<ellipse cx="340.4" cy="160.1" rx="2.5" ry="2.45" fill="url(#gc)"/>
<ellipse cx="346.3" cy="160.1" rx="2.5" ry="2.45" fill="url(#gc)"/>
<ellipse cx="352.4" cy="160.1" rx="2.5" ry="2.45" fill="url(#gc)"/>
<ellipse cx="358.4" cy="160.1" rx="2.5" ry="2.45" fill="url(#gc)"/>
<ellipse cx="364.6" cy="160.1" rx="2.5" ry="2.45" fill="url(#gc)"/>
<ellipse cx="262.1" cy="166.1" rx="2.5" ry="2.45" fill="url(#gc)"/>
<ellipse cx="268.2" cy="166.1" rx="2.5" ry="2.45" fill="url(#gc)"/>
<ellipse cx="274.3" cy="166.1" rx="2.5" ry="2.45" fill="url(#gc)"/>
<ellipse cx="280.4" cy="166.1" rx="2.5" ry="2.45" fill="url(#gc)"/>
<ellipse cx="286.8" cy="166.1" rx="2.5" ry="2.45" fill="url(#gc)"/>
<ellipse cx="292.9" cy="166.1" rx="2.5" ry="2.45" fill="url(#gc)"/>
<ellipse cx="298.4" cy="166.1" rx="2.5" ry="2.45" fill="url(#gc)"/>
<ellipse cx="304.6" cy="166.1" rx="2.5" ry="2.45" fill="url(#gc)"/>
<ellipse cx="310.4" cy="166.1" rx="2.5" ry="2.45" fill="url(#gc)"/>
<ellipse cx="316.6" cy="166.1" rx="2.5" ry="2.45" fill="url(#gc)"/>
<ellipse cx="322.4" cy="166.1" rx="2.5" ry="2.45" fill="url(#gc)"/>
<ellipse cx="328.6" cy="166.1" rx="2.5" ry="2.45" fill="url(#gc)"/>
<ellipse cx="334.3" cy="166.1" rx="2.5" ry="2.45" fill="url(#gc)"/>
<ellipse cx="340.4" cy="166.1" rx="2.5" ry="2.45" fill="url(#gc)"/>
<ellipse cx="346.3" cy="166.1" rx="2.5" ry="2.45" fill="url(#gc)"/>
<ellipse cx="268.2" cy="172.1" rx="2.5" ry="2.45" fill="url(#gc)"/>
<ellipse cx="274.3" cy="172.1" rx="2.5" ry="2.45" fill="url(#gc)"/>
<ellipse cx="280.4" cy="172.1" rx="2.5" ry="2.45" fill="url(#gc)"/>
<ellipse cx="286.8" cy="172.1" rx="2.5" ry="2.45" fill="url(#gc)"/>
<ellipse cx="292.9" cy="172.1" rx="2.5" ry="2.45" fill="url(#gc)"/>
<ellipse cx="298.4" cy="172.1" rx="2.5" ry="2.45" fill="url(#gc)"/>
<ellipse cx="304.6" cy="172.1" rx="2.5" ry="2.45" fill="url(#gc)"/>
<ellipse cx="310.4" cy="172.1" rx="2.5" ry="2.45" fill="url(#gc)"/>
<ellipse cx="316.6" cy="172.1" rx="2.5" ry="2.45" fill="url(#gc)"/>
<ellipse cx="322.4" cy="172.1" rx="2.5" ry="2.45" fill="url(#gc)"/>
<ellipse cx="328.6" cy="172.1" rx="2.5" ry="2.45" fill="url(#gc)"/>
<ellipse cx="334.3" cy="172.1" rx="2.5" ry="2.45" fill="url(#gc)"/>
<ellipse cx="274.3" cy="178.1" rx="2.5" ry="2.45" fill="url(#gc)"/>
<ellipse cx="280.4" cy="178.1" rx="2.5" ry="2.45" fill="url(#gc)"/>
<ellipse cx="286.8" cy="178.1" rx="2.5" ry="2.45" fill="url(#gc)"/>
<ellipse cx="292.9" cy="178.1" rx="2.5" ry="2.45" fill="url(#gc)"/>
<ellipse cx="298.4" cy="178.1" rx="2.5" ry="2.45" fill="url(#gc)"/>
<ellipse cx="304.6" cy="178.1" rx="2.5" ry="2.45" fill="url(#gc)"/>
<ellipse cx="310.4" cy="178.1" rx="2.5" ry="2.45" fill="url(#gc)"/>
<ellipse cx="316.6" cy="178.1" rx="2.5" ry="2.45" fill="url(#gc)"/>
<ellipse cx="322.4" cy="178.1" rx="2.5" ry="2.45" fill="url(#gc)"/>
<ellipse cx="328.6" cy="178.1" rx="2.5" ry="2.45" fill="url(#gc)"/>
<ellipse cx="334.3" cy="178.1" rx="2.5" ry="2.45" fill="url(#gc)"/>
<ellipse cx="274.3" cy="184.1" rx="2.5" ry="2.45" fill="url(#gc)"/>
<ellipse cx="280.4" cy="184.1" rx="2.5" ry="2.45" fill="url(#gc)"/>
<ellipse cx="286.8" cy="184.1" rx="2.5" ry="2.45" fill="url(#gc)"/>
<ellipse cx="292.9" cy="184.1" rx="2.5" ry="2.45" fill="url(#gc)"/>
<ellipse cx="298.4" cy="184.1" rx="2.5" ry="2.45" fill="url(#gc)"/>
<ellipse cx="304.6" cy="184.1" rx="2.5" ry="2.45" fill="url(#gc)"/>
<ellipse cx="310.4" cy="184.1" rx="2.5" ry="2.45" fill="url(#gc)"/>
<ellipse cx="316.6" cy="184.1" rx="2.5" ry="2.45" fill="url(#gc)"/>
<ellipse cx="322.4" cy="184.1" rx="2.5" ry="2.45" fill="url(#gc)"/>
<ellipse cx="328.6" cy="184.1" rx="2.5" ry="2.45" fill="url(#gc)"/>
<ellipse cx="334.3" cy="184.1" rx="2.5" ry="2.45" fill="url(#gc)"/>
<path d="M253 112V140" stroke="#f5a23c" stroke-width="0.7" opacity="0.8"/>
<path d="M251.8 109.7L253 112.1L254.2 109.7ZM251.8 115.7L253 118.1L254.2 115.7ZM251.8 121.7L253 124.1L254.2 121.7ZM251.8 127.7L253 130.1L254.2 127.7ZM251.8 133.7L253 136.1L254.2 133.7Z" fill="#f5a23c"/>
<path d="M265.2 100V146" stroke="#f5a23c" stroke-width="0.7" opacity="0.8"/>
<path d="M264 97.7L265.2 100.1L266.4 97.7ZM264 103.7L265.2 106.1L266.4 103.7ZM264 109.7L265.2 112.1L266.4 109.7ZM264 115.7L265.2 118.1L266.4 115.7ZM264 121.7L265.2 124.1L266.4 121.7ZM264 127.7L265.2 130.1L266.4 127.7ZM264 133.7L265.2 136.1L266.4 133.7ZM264 139.7L265.2 142.1L266.4 139.7Z" fill="#f5a23c"/>
<path d="M277.4 90V168" stroke="#f5a23c" stroke-width="0.7" opacity="0.8"/>
<path d="M276.2 91.7L277.4 94.1L278.6 91.7ZM276.2 97.7L277.4 100.1L278.6 97.7ZM276.2 103.7L277.4 106.1L278.6 103.7ZM276.2 109.7L277.4 112.1L278.6 109.7ZM276.2 115.7L277.4 118.1L278.6 115.7ZM276.2 121.7L277.4 124.1L278.6 121.7ZM276.2 127.7L277.4 130.1L278.6 127.7ZM276.2 133.7L277.4 136.1L278.6 133.7ZM276.2 139.7L277.4 142.1L278.6 139.7ZM276.2 145.7L277.4 148.1L278.6 145.7ZM276.2 151.7L277.4 154.1L278.6 151.7ZM276.2 157.7L277.4 160.1L278.6 157.7ZM276.2 163.7L277.4 166.1L278.6 163.7Z" fill="#f5a23c"/>
<path d="M289.8 65.7V184" stroke="#f5a23c" stroke-width="0.7" opacity="0.8"/>
<path d="M288.6 67.7L289.8 70.1L291 67.7ZM288.6 73.7L289.8 76.1L291 73.7ZM288.6 79.7L289.8 82.1L291 79.7ZM288.6 85.7L289.8 88.1L291 85.7ZM288.6 91.7L289.8 94.1L291 91.7ZM288.6 97.7L289.8 100.1L291 97.7ZM288.6 103.7L289.8 106.1L291 103.7ZM288.6 109.7L289.8 112.1L291 109.7ZM288.6 115.7L289.8 118.1L291 115.7ZM288.6 121.7L289.8 124.1L291 121.7ZM288.6 127.7L289.8 130.1L291 127.7ZM288.6 133.7L289.8 136.1L291 133.7ZM288.6 139.7L289.8 142.1L291 139.7ZM288.6 145.7L289.8 148.1L291 145.7ZM288.6 151.7L289.8 154.1L291 151.7ZM288.6 157.7L289.8 160.1L291 157.7ZM288.6 163.7L289.8 166.1L291 163.7ZM288.6 169.7L289.8 172.1L291 169.7ZM288.6 175.7L289.8 178.1L291 175.7Z" fill="#f5a23c"/>
<path d="M301.5 63.5V184" stroke="#f5a23c" stroke-width="0.7" opacity="0.8"/>
<path d="M300.3 61.7L301.5 64.1L302.7 61.7ZM300.3 67.7L301.5 70.1L302.7 67.7ZM300.3 73.7L301.5 76.1L302.7 73.7ZM300.3 79.7L301.5 82.1L302.7 79.7ZM300.3 85.7L301.5 88.1L302.7 85.7ZM300.3 91.7L301.5 94.1L302.7 91.7ZM300.3 97.7L301.5 100.1L302.7 97.7ZM300.3 103.7L301.5 106.1L302.7 103.7ZM300.3 109.7L301.5 112.1L302.7 109.7ZM300.3 115.7L301.5 118.1L302.7 115.7ZM300.3 121.7L301.5 124.1L302.7 121.7ZM300.3 127.7L301.5 130.1L302.7 127.7ZM300.3 133.7L301.5 136.1L302.7 133.7ZM300.3 139.7L301.5 142.1L302.7 139.7ZM300.3 145.7L301.5 148.1L302.7 145.7ZM300.3 151.7L301.5 154.1L302.7 151.7ZM300.3 157.7L301.5 160.1L302.7 157.7ZM300.3 163.7L301.5 166.1L302.7 163.7ZM300.3 169.7L301.5 172.1L302.7 169.7ZM300.3 175.7L301.5 178.1L302.7 175.7Z" fill="#f5a23c"/>
<path d="M313.5 50.4V184" stroke="#f5a23c" stroke-width="0.7" opacity="0.8"/>
<path d="M312.3 49.7L313.5 52.1L314.7 49.7ZM312.3 55.7L313.5 58.1L314.7 55.7ZM312.3 61.7L313.5 64.1L314.7 61.7ZM312.3 67.7L313.5 70.1L314.7 67.7ZM312.3 73.7L313.5 76.1L314.7 73.7ZM312.3 79.7L313.5 82.1L314.7 79.7ZM312.3 85.7L313.5 88.1L314.7 85.7ZM312.3 91.7L313.5 94.1L314.7 91.7ZM312.3 97.7L313.5 100.1L314.7 97.7ZM312.3 103.7L313.5 106.1L314.7 103.7ZM312.3 109.7L313.5 112.1L314.7 109.7ZM312.3 115.7L313.5 118.1L314.7 115.7ZM312.3 121.7L313.5 124.1L314.7 121.7ZM312.3 127.7L313.5 130.1L314.7 127.7ZM312.3 133.7L313.5 136.1L314.7 133.7ZM312.3 139.7L313.5 142.1L314.7 139.7ZM312.3 145.7L313.5 148.1L314.7 145.7ZM312.3 151.7L313.5 154.1L314.7 151.7ZM312.3 157.7L313.5 160.1L314.7 157.7ZM312.3 163.7L313.5 166.1L314.7 163.7ZM312.3 169.7L313.5 172.1L314.7 169.7ZM312.3 175.7L313.5 178.1L314.7 175.7Z" fill="#f5a23c"/>
<path d="M325.5 39.4V184" stroke="#f5a23c" stroke-width="0.7" opacity="0.8"/>
<path d="M324.3 37.7L325.5 40.1L326.7 37.7ZM324.3 43.7L325.5 46.1L326.7 43.7ZM324.3 49.7L325.5 52.1L326.7 49.7ZM324.3 55.7L325.5 58.1L326.7 55.7ZM324.3 61.7L325.5 64.1L326.7 61.7ZM324.3 67.7L325.5 70.1L326.7 67.7ZM324.3 73.7L325.5 76.1L326.7 73.7ZM324.3 79.7L325.5 82.1L326.7 79.7ZM324.3 85.7L325.5 88.1L326.7 85.7ZM324.3 91.7L325.5 94.1L326.7 91.7ZM324.3 97.7L325.5 100.1L326.7 97.7ZM324.3 103.7L325.5 106.1L326.7 103.7ZM324.3 109.7L325.5 112.1L326.7 109.7ZM324.3 115.7L325.5 118.1L326.7 115.7ZM324.3 121.7L325.5 124.1L326.7 121.7ZM324.3 127.7L325.5 130.1L326.7 127.7ZM324.3 133.7L325.5 136.1L326.7 133.7ZM324.3 139.7L325.5 142.1L326.7 139.7ZM324.3 145.7L325.5 148.1L326.7 145.7ZM324.3 151.7L325.5 154.1L326.7 151.7ZM324.3 157.7L325.5 160.1L326.7 157.7ZM324.3 163.7L325.5 166.1L326.7 163.7ZM324.3 169.7L325.5 172.1L326.7 169.7ZM324.3 175.7L325.5 178.1L326.7 175.7Z" fill="#f5a23c"/>
<path d="M337.4 24.1V172" stroke="#f5a23c" stroke-width="0.7" opacity="0.8"/>
<path d="M336.2 25.7L337.4 28.1L338.6 25.7ZM336.2 31.7L337.4 34.1L338.6 31.7ZM336.2 37.7L337.4 40.1L338.6 37.7ZM336.2 43.7L337.4 46.1L338.6 43.7ZM336.2 49.7L337.4 52.1L338.6 49.7ZM336.2 55.7L337.4 58.1L338.6 55.7ZM336.2 61.7L337.4 64.1L338.6 61.7ZM336.2 67.7L337.4 70.1L338.6 67.7ZM336.2 73.7L337.4 76.1L338.6 73.7ZM336.2 79.7L337.4 82.1L338.6 79.7ZM336.2 85.7L337.4 88.1L338.6 85.7ZM336.2 91.7L337.4 94.1L338.6 91.7ZM336.2 97.7L337.4 100.1L338.6 97.7ZM336.2 103.7L337.4 106.1L338.6 103.7ZM336.2 109.7L337.4 112.1L338.6 109.7ZM336.2 115.7L337.4 118.1L338.6 115.7ZM336.2 121.7L337.4 124.1L338.6 121.7ZM336.2 127.7L337.4 130.1L338.6 127.7ZM336.2 133.7L337.4 136.1L338.6 133.7ZM336.2 139.7L337.4 142.1L338.6 139.7ZM336.2 145.7L337.4 148.1L338.6 145.7ZM336.2 151.7L337.4 154.1L338.6 151.7ZM336.2 157.7L337.4 160.1L338.6 157.7ZM336.2 163.7L337.4 166.1L338.6 163.7Z" fill="#f5a23c"/>
<path d="M349.4 13.1V168" stroke="#f5a23c" stroke-width="0.7" opacity="0.8"/>
<path d="M348.2 13.7L349.4 16.1L350.6 13.7ZM348.2 19.7L349.4 22.1L350.6 19.7ZM348.2 25.7L349.4 28.1L350.6 25.7ZM348.2 31.7L349.4 34.1L350.6 31.7ZM348.2 37.7L349.4 40.1L350.6 37.7ZM348.2 43.7L349.4 46.1L350.6 43.7ZM348.2 49.7L349.4 52.1L350.6 49.7ZM348.2 55.7L349.4 58.1L350.6 55.7ZM348.2 61.7L349.4 64.1L350.6 61.7ZM348.2 67.7L349.4 70.1L350.6 67.7ZM348.2 73.7L349.4 76.1L350.6 73.7ZM348.2 79.7L349.4 82.1L350.6 79.7ZM348.2 85.7L349.4 88.1L350.6 85.7ZM348.2 91.7L349.4 94.1L350.6 91.7ZM348.2 97.7L349.4 100.1L350.6 97.7ZM348.2 103.7L349.4 106.1L350.6 103.7ZM348.2 109.7L349.4 112.1L350.6 109.7ZM348.2 115.7L349.4 118.1L350.6 115.7ZM348.2 121.7L349.4 124.1L350.6 121.7ZM348.2 127.7L349.4 130.1L350.6 127.7ZM348.2 133.7L349.4 136.1L350.6 133.7ZM348.2 139.7L349.4 142.1L350.6 139.7ZM348.2 145.7L349.4 148.1L350.6 145.7ZM348.2 151.7L349.4 154.1L350.6 151.7ZM348.2 157.7L349.4 160.1L350.6 157.7ZM348.2 163.7L349.4 166.1L350.6 163.7Z" fill="#f5a23c"/>
<path d="M361.5 12V163.7" stroke="#f5a23c" stroke-width="0.7" opacity="0.8"/>
<path d="M360.3 13.7L361.5 16.1L362.7 13.7ZM360.3 19.7L361.5 22.1L362.7 19.7ZM360.3 25.7L361.5 28.1L362.7 25.7ZM360.3 31.7L361.5 34.1L362.7 31.7ZM360.3 37.7L361.5 40.1L362.7 37.7ZM360.3 43.7L361.5 46.1L362.7 43.7ZM360.3 49.7L361.5 52.1L362.7 49.7ZM360.3 55.7L361.5 58.1L362.7 55.7ZM360.3 61.7L361.5 64.1L362.7 61.7ZM360.3 67.7L361.5 70.1L362.7 67.7ZM360.3 73.7L361.5 76.1L362.7 73.7ZM360.3 79.7L361.5 82.1L362.7 79.7ZM360.3 85.7L361.5 88.1L362.7 85.7ZM360.3 91.7L361.5 94.1L362.7 91.7ZM360.3 97.7L361.5 100.1L362.7 97.7ZM360.3 103.7L361.5 106.1L362.7 103.7ZM360.3 109.7L361.5 112.1L362.7 109.7ZM360.3 115.7L361.5 118.1L362.7 115.7ZM360.3 121.7L361.5 124.1L362.7 121.7ZM360.3 127.7L361.5 130.1L362.7 127.7ZM360.3 133.7L361.5 136.1L362.7 133.7ZM360.3 139.7L361.5 142.1L362.7 139.7ZM360.3 145.7L361.5 148.1L362.7 145.7ZM360.3 151.7L361.5 154.1L362.7 151.7ZM360.3 157.7L361.5 160.1L362.7 157.7Z" fill="#f5a23c"/>
<path d="M374 10.9V152" stroke="#f5a23c" stroke-width="0.7" opacity="0.8"/>
<path d="M372.8 13.7L374 16.1L375.2 13.7ZM372.8 19.7L374 22.1L375.2 19.7ZM372.8 25.7L374 28.1L375.2 25.7ZM372.8 31.7L374 34.1L375.2 31.7ZM372.8 37.7L374 40.1L375.2 37.7ZM372.8 43.7L374 46.1L375.2 43.7ZM372.8 49.7L374 52.1L375.2 49.7ZM372.8 55.7L374 58.1L375.2 55.7ZM372.8 61.7L374 64.1L375.2 61.7ZM372.8 67.7L374 70.1L375.2 67.7ZM372.8 73.7L374 76.1L375.2 73.7ZM372.8 79.7L374 82.1L375.2 79.7ZM372.8 85.7L374 88.1L375.2 85.7ZM372.8 91.7L374 94.1L375.2 91.7ZM372.8 97.7L374 100.1L375.2 97.7ZM372.8 103.7L374 106.1L375.2 103.7ZM372.8 109.7L374 112.1L375.2 109.7ZM372.8 115.7L374 118.1L375.2 115.7ZM372.8 121.7L374 124.1L375.2 121.7ZM372.8 127.7L374 130.1L375.2 127.7ZM372.8 133.7L374 136.1L375.2 133.7ZM372.8 139.7L374 142.1L375.2 139.7ZM372.8 145.7L374 148.1L375.2 145.7Z" fill="#f5a23c"/>
<path d="M386.7 15.3V145" stroke="#f5a23c" stroke-width="0.7" opacity="0.8"/>
<path d="M385.5 13.7L386.7 16.1L387.9 13.7ZM385.5 19.7L386.7 22.1L387.9 19.7ZM385.5 25.7L386.7 28.1L387.9 25.7ZM385.5 31.7L386.7 34.1L387.9 31.7ZM385.5 37.7L386.7 40.1L387.9 37.7ZM385.5 43.7L386.7 46.1L387.9 43.7ZM385.5 49.7L386.7 52.1L387.9 49.7ZM385.5 55.7L386.7 58.1L387.9 55.7ZM385.5 61.7L386.7 64.1L387.9 61.7ZM385.5 67.7L386.7 70.1L387.9 67.7ZM385.5 73.7L386.7 76.1L387.9 73.7ZM385.5 79.7L386.7 82.1L387.9 79.7ZM385.5 85.7L386.7 88.1L387.9 85.7ZM385.5 91.7L386.7 94.1L387.9 91.7ZM385.5 97.7L386.7 100.1L387.9 97.7ZM385.5 103.7L386.7 106.1L387.9 103.7ZM385.5 109.7L386.7 112.1L387.9 109.7ZM385.5 115.7L386.7 118.1L387.9 115.7ZM385.5 121.7L386.7 124.1L387.9 121.7ZM385.5 127.7L386.7 130.1L387.9 127.7ZM385.5 133.7L386.7 136.1L387.9 133.7ZM385.5 139.7L386.7 142.1L387.9 139.7Z" fill="#f5a23c"/>
<path d="M399.3 28.5V140" stroke="#f5a23c" stroke-width="0.7" opacity="0.8"/>
<path d="M398.1 31.7L399.3 34.1L400.5 31.7ZM398.1 37.7L399.3 40.1L400.5 37.7ZM398.1 43.7L399.3 46.1L400.5 43.7ZM398.1 49.7L399.3 52.1L400.5 49.7ZM398.1 55.7L399.3 58.1L400.5 55.7ZM398.1 61.7L399.3 64.1L400.5 61.7ZM398.1 67.7L399.3 70.1L400.5 67.7ZM398.1 73.7L399.3 76.1L400.5 73.7ZM398.1 79.7L399.3 82.1L400.5 79.7ZM398.1 85.7L399.3 88.1L400.5 85.7ZM398.1 91.7L399.3 94.1L400.5 91.7ZM398.1 97.7L399.3 100.1L400.5 97.7ZM398.1 103.7L399.3 106.1L400.5 103.7ZM398.1 109.7L399.3 112.1L400.5 109.7ZM398.1 115.7L399.3 118.1L400.5 115.7ZM398.1 121.7L399.3 124.1L400.5 121.7ZM398.1 127.7L399.3 130.1L400.5 127.7ZM398.1 133.7L399.3 136.1L400.5 133.7Z" fill="#f5a23c"/>
<path d="M411.5 37.2V135" stroke="#f5a23c" stroke-width="0.7" opacity="0.8"/>
<path d="M410.3 37.7L411.5 40.1L412.7 37.7ZM410.3 43.7L411.5 46.1L412.7 43.7ZM410.3 49.7L411.5 52.1L412.7 49.7ZM410.3 55.7L411.5 58.1L412.7 55.7ZM410.3 61.7L411.5 64.1L412.7 61.7ZM410.3 67.7L411.5 70.1L412.7 67.7ZM410.3 73.7L411.5 76.1L412.7 73.7ZM410.3 79.7L411.5 82.1L412.7 79.7ZM410.3 85.7L411.5 88.1L412.7 85.7ZM410.3 91.7L411.5 94.1L412.7 91.7ZM410.3 97.7L411.5 100.1L412.7 97.7ZM410.3 103.7L411.5 106.1L412.7 103.7ZM410.3 109.7L411.5 112.1L412.7 109.7ZM410.3 115.7L411.5 118.1L412.7 115.7ZM410.3 121.7L411.5 124.1L412.7 121.7ZM410.3 127.7L411.5 130.1L412.7 127.7Z" fill="#f5a23c"/>
<path d="M423.6 45V130" stroke="#f5a23c" stroke-width="0.7" opacity="0.8"/>
<path d="M422.4 43.7L423.6 46.1L424.8 43.7ZM422.4 49.7L423.6 52.1L424.8 49.7ZM422.4 55.7L423.6 58.1L424.8 55.7ZM422.4 61.7L423.6 64.1L424.8 61.7ZM422.4 67.7L423.6 70.1L424.8 67.7ZM422.4 73.7L423.6 76.1L424.8 73.7ZM422.4 79.7L423.6 82.1L424.8 79.7ZM422.4 85.7L423.6 88.1L424.8 85.7ZM422.4 91.7L423.6 94.1L424.8 91.7ZM422.4 97.7L423.6 100.1L424.8 97.7ZM422.4 103.7L423.6 106.1L424.8 103.7ZM422.4 109.7L423.6 112.1L424.8 109.7ZM422.4 115.7L423.6 118.1L424.8 115.7ZM422.4 121.7L423.6 124.1L424.8 121.7Z" fill="#f5a23c"/>
<rect x="241.2" y="0" width="186.5" height="1.2" fill="#7088e6"/>
</g>
<rect x="295.6" y="69.2" width="97" height="56.5" fill="none" stroke="#e6e42a" stroke-width="1.5"/>
<rect x="242.6" y="3.5" width="44.2" height="35.9" fill="#2a42d2" stroke="#000" stroke-width="1.3"/>
<ellipse cx="264.9" cy="6.3" rx="2.6" ry="2.1" fill="url(#gd)"/>
<ellipse cx="264.9" cy="17.1" rx="2.6" ry="2.1" fill="url(#gd)"/>
<ellipse cx="264.9" cy="27.4" rx="2.6" ry="2.1" fill="url(#gd)"/>
<ellipse cx="248.5" cy="11.1" rx="4.2" ry="4.9" fill="url(#gi)"/>
<ellipse cx="259.5" cy="11.1" rx="4.2" ry="4.9" fill="url(#gi)"/>
<ellipse cx="269.7" cy="11.1" rx="4.2" ry="4.9" fill="url(#gi)"/>
<ellipse cx="281.2" cy="11.1" rx="4.2" ry="4.9" fill="url(#gi)"/>
<ellipse cx="248.5" cy="21.5" rx="4.2" ry="4.9" fill="url(#gi)"/>
<ellipse cx="259.5" cy="21.5" rx="4.2" ry="4.9" fill="url(#gi)"/>
<ellipse cx="269.7" cy="21.5" rx="4.2" ry="4.9" fill="url(#gi)"/>
<ellipse cx="281.2" cy="21.5" rx="4.2" ry="4.9" fill="url(#gi)"/>
<ellipse cx="248.5" cy="32.6" rx="4.2" ry="4.9" fill="url(#gi)"/>
<ellipse cx="259.5" cy="32.6" rx="4.2" ry="4.9" fill="url(#gi)"/>
<ellipse cx="269.7" cy="32.6" rx="4.2" ry="4.9" fill="url(#gi)"/>
<ellipse cx="281.2" cy="32.6" rx="4.2" ry="4.9" fill="url(#gi)"/>
<path d="M254.3 4V10" stroke="#f5a23c" stroke-width="1.3"/><path d="M252.6 8.8L254.3 12L256 8.8Z" fill="#f5a23c"/>
<path d="M254.3 14.9V20.3" stroke="#f5a23c" stroke-width="1.3"/><path d="M252.6 19.1L254.3 22.3L256 19.1Z" fill="#f5a23c"/>
<path d="M254.3 25.1V32.3" stroke="#f5a23c" stroke-width="1.3"/><path d="M252.6 31.1L254.3 34.3L256 31.1Z" fill="#f5a23c"/>
<path d="M254.3 35.5V39.5" stroke="#f5a23c" stroke-width="0.8" stroke-dasharray="1 1"/>
<path d="M275.5 4V10" stroke="#f5a23c" stroke-width="1.3"/><path d="M273.8 8.8L275.5 12L277.2 8.8Z" fill="#f5a23c"/>
<path d="M275.5 14.9V20.3" stroke="#f5a23c" stroke-width="1.3"/><path d="M273.8 19.1L275.5 22.3L277.2 19.1Z" fill="#f5a23c"/>
<path d="M275.5 25.1V32.3" stroke="#f5a23c" stroke-width="1.3"/><path d="M273.8 31.1L275.5 34.3L277.2 31.1Z" fill="#f5a23c"/>
<path d="M275.5 35.5V39.5" stroke="#f5a23c" stroke-width="0.8" stroke-dasharray="1 1"/>
<text x="252.1" y="172.6" font-size="8.7" fill="#fff">1 nm</text>
<rect x="250.3" y="173.9" width="25.5" height="1.9" fill="#fff"/>
<path d="M249.25 195.6H253.55V190.6H256L251.4 186.3L246.8 190.6H249.25Z" fill="#00b0f0"/>
<path d="M261.45 195.6H265.75V190.6H268.2L263.6 186.3L259 190.6H261.45Z" fill="#00b0f0"/>
<path d="M273.15 195.6H277.45V190.6H279.9L275.3 186.3L270.7 190.6H273.15Z" fill="#00b0f0"/>
<path d="M285.55 195.6H289.85V190.6H292.3L287.7 186.3L283.1 190.6H285.55Z" fill="#00b0f0"/>
<path d="M297.95 187H302.25V191.6H304.7L300.1 196.3L295.5 191.6H297.95Z" fill="#ff0000"/>
<path d="M310.85 195.6H315.15V190.6H317.6L313 186.3L308.4 190.6H310.85Z" fill="#00b0f0"/>
<path d="M323.25 187H327.55V191.6H330L325.4 196.3L320.8 191.6H323.25Z" fill="#ff0000"/>
<path d="M335.45 187H339.75V191.6H342.2L337.6 196.3L333 191.6H335.45Z" fill="#ff0000"/>
<path d="M346.85 187H351.15V191.6H353.6L349 196.3L344.4 191.6H346.85Z" fill="#ff0000"/>
<path d="M359.15 187H363.45V191.6H365.9L361.3 196.3L356.7 191.6H359.15Z" fill="#ff0000"/>
<path d="M372.85 195.6H377.15V190.6H379.6L375 186.3L370.4 190.6H372.85Z" fill="#00b0f0"/>
<path d="M384.35 187H388.65V191.6H391.1L386.5 196.3L381.9 191.6H384.35Z" fill="#ff0000"/>
<path d="M394.25 187H398.55V191.6H401L396.4 196.3L391.8 191.6H394.25Z" fill="#ff0000"/>
<path d="M406.05 187H410.35V191.6H412.8L408.2 196.3L403.6 191.6H406.05Z" fill="#ff0000"/>
<path d="M416.45 187H420.75V191.6H423.2L418.6 196.3L414 191.6H416.45Z" fill="#ff0000"/>
<path d="M426.8 191.1H429" stroke="#f5a23c" stroke-width="1"/><path d="M428.5 189.6L431.2 191.1L428.5 192.6Z" fill="#f5a23c"/>
<text x="433.9" y="194" font-size="8.3" fill="#000">50 pm</text>
<text x="453.5" y="15" font-size="15.5" fill="#000" font-weight="bold">e</text>
<path d="M489.3 4V155.5" stroke="#a8a8a8" stroke-width="1"/>
<path d="M489.3 155.5H680.5" stroke="#c8c8c8" stroke-width="1"/>
<path d="M489.3 4H680.5" stroke="#d0d0d0" stroke-width="1"/>
<path d="M680.5 4V155.5" stroke="#8c8c8c" stroke-width="1"/>
<path d="M486.8 146.7H489.2" stroke="#a0a0a0" stroke-width="0.8"/>
<text x="485.6" y="150.58" font-size="10" fill="#000" text-anchor="end">0</text>
<path d="M486.8 111.4H489.2" stroke="#a0a0a0" stroke-width="0.8"/>
<text x="485.6" y="115.98" font-size="10" fill="#000" text-anchor="end">20</text>
<path d="M486.8 76H489.2" stroke="#a0a0a0" stroke-width="0.8"/>
<text x="485.6" y="79.48" font-size="10" fill="#000" text-anchor="end">40</text>
<path d="M486.8 40.8H489.2" stroke="#a0a0a0" stroke-width="0.8"/>
<text x="485.6" y="43.98" font-size="10" fill="#000" text-anchor="end">60</text>
<path d="M500.2 155.5V157.2" stroke="#a0a0a0" stroke-width="0.8"/>
<text x="500.2" y="168.3" font-size="10" fill="#000" text-anchor="middle">5</text>
<path d="M522.98 155.5V157.2" stroke="#a0a0a0" stroke-width="0.8"/>
<text x="522.98" y="168.3" font-size="10" fill="#000" text-anchor="middle">7</text>
<path d="M545.76 155.5V157.2" stroke="#a0a0a0" stroke-width="0.8"/>
<text x="545.76" y="168.3" font-size="10" fill="#000" text-anchor="middle">9</text>
<path d="M568.54 155.5V157.2" stroke="#a0a0a0" stroke-width="0.8"/>
<text x="568.54" y="168.3" font-size="10" fill="#000" text-anchor="middle">11</text>
<path d="M591.32 155.5V157.2" stroke="#a0a0a0" stroke-width="0.8"/>
<text x="591.32" y="168.3" font-size="10" fill="#000" text-anchor="middle">13</text>
<path d="M614.1 155.5V157.2" stroke="#a0a0a0" stroke-width="0.8"/>
<text x="614.1" y="168.3" font-size="10" fill="#000" text-anchor="middle">15</text>
<path d="M636.88 155.5V157.2" stroke="#a0a0a0" stroke-width="0.8"/>
<text x="636.88" y="168.3" font-size="10" fill="#000" text-anchor="middle">17</text>
<path d="M659.66 155.5V157.2" stroke="#a0a0a0" stroke-width="0.8"/>
<text x="659.66" y="168.3" font-size="10" fill="#000" text-anchor="middle">19</text>
<text x="582" y="183.5" font-size="10" fill="#000" text-anchor="middle">Layer_index</text>
<text x="470.8" y="80.2" font-size="10" fill="#000" text-anchor="middle" transform="rotate(-90 470.8 80.2)">Displacement (pm)</text>
<path d="M500.5 32.3V55M499.5 32.3H501.5" stroke="#8a8a8a" stroke-width="0.9"/>
<path d="M512.55 133.3V146.8M511.55 133.3H513.55" stroke="#8a8a8a" stroke-width="0.9"/>
<path d="M524.6 38.7V63.4M523.6 38.7H525.6" stroke="#8a8a8a" stroke-width="0.9"/>
<path d="M536.65 131.5V153.4M535.65 131.5H537.65" stroke="#8a8a8a" stroke-width="0.9"/>
<path d="M548.7 36.1V53.7M547.7 36.1H549.7" stroke="#8a8a8a" stroke-width="0.9"/>
<path d="M560.75 147.3V153.3M559.75 147.3H561.75" stroke="#8a8a8a" stroke-width="0.9"/>
<path d="M572.8 42.2V59.8M571.8 42.2H573.8" stroke="#8a8a8a" stroke-width="0.9"/>
<path d="M584.85 144.8V155.5M583.85 144.8H585.85" stroke="#8a8a8a" stroke-width="0.9"/>
<path d="M596.9 38V53.8M595.9 38H597.9" stroke="#8a8a8a" stroke-width="0.9"/>
<path d="M608.95 141.2V155.5M607.95 141.2H609.95" stroke="#8a8a8a" stroke-width="0.9"/>
<path d="M621 41.4V50.2M620 41.4H622" stroke="#8a8a8a" stroke-width="0.9"/>
<path d="M633.05 143.9V153.9M632.05 143.9H634.05" stroke="#8a8a8a" stroke-width="0.9"/>
<path d="M645.1 35.4V48.4M644.1 35.4H646.1" stroke="#8a8a8a" stroke-width="0.9"/>
<path d="M657.15 137.7V144.3M656.15 137.7H658.15" stroke="#8a8a8a" stroke-width="0.9"/>
<path d="M669.2 42.2V57.4M668.2 42.2H670.2" stroke="#8a8a8a" stroke-width="0.9"/>
<polyline points="500.5,43.3 512.55,140.1 524.6,51 536.65,142.4 548.7,44.9 560.75,150.3 572.8,51 584.85,150.8 596.9,45.9 608.95,149.2 621,45.8 633.05,148.9 645.1,41.9 657.15,141 669.2,49.8" fill="none" stroke="#7f7ff5" stroke-width="1"/>
<circle cx="500.5" cy="43.3" r="1.4" fill="#5a5ae8"/>
<circle cx="512.55" cy="140.1" r="1.4" fill="#5a5ae8"/>
<circle cx="524.6" cy="51" r="1.4" fill="#5a5ae8"/>
<circle cx="536.65" cy="142.4" r="1.4" fill="#5a5ae8"/>
<circle cx="548.7" cy="44.9" r="1.4" fill="#5a5ae8"/>
<circle cx="560.75" cy="150.3" r="1.4" fill="#5a5ae8"/>
<circle cx="572.8" cy="51" r="1.4" fill="#5a5ae8"/>
<circle cx="584.85" cy="150.8" r="1.4" fill="#5a5ae8"/>
<circle cx="596.9" cy="45.9" r="1.4" fill="#5a5ae8"/>
<circle cx="608.95" cy="149.2" r="1.4" fill="#5a5ae8"/>
<circle cx="621" cy="45.8" r="1.4" fill="#5a5ae8"/>
<circle cx="633.05" cy="148.9" r="1.4" fill="#5a5ae8"/>
<circle cx="645.1" cy="41.9" r="1.4" fill="#5a5ae8"/>
<circle cx="657.15" cy="141" r="1.4" fill="#5a5ae8"/>
<circle cx="669.2" cy="49.8" r="1.4" fill="#5a5ae8"/>
<path d="M499.8 13.4H503.8V23.1H505.95L501.8 27.2L497.65 23.1H499.8Z" fill="#ff0000"/>
<path d="M523.52 27.4H527.82V17.8H529.82L525.67 13.7L521.52 17.8H523.52Z" fill="#00b0f0"/>
<path d="M547.54 13.4H551.54V23.1H553.69L549.54 27.2L545.39 23.1H547.54Z" fill="#ff0000"/>
<path d="M571.41 13.4H575.41V23.1H577.56L573.41 27.2L569.26 23.1H571.41Z" fill="#ff0000"/>
<path d="M595.28 13.4H599.28V23.1H601.43L597.28 27.2L593.13 23.1H595.28Z" fill="#ff0000"/>
<path d="M619.15 13.4H623.15V23.1H625.3L621.15 27.2L617 23.1H619.15Z" fill="#ff0000"/>
<path d="M642.87 27.4H647.17V17.8H649.17L645.02 13.7L640.87 17.8H642.87Z" fill="#00b0f0"/>
<path d="M666.89 13.4H670.89V23.1H673.04L668.89 27.2L664.74 23.1H666.89Z" fill="#ff0000"/>
<text x="8.5" y="216" font-size="15.5" fill="#000" font-weight="bold">b</text>
<path d="M43.5 365.38h2.84V366h-2.84ZM46.34 363.54h2.84V366h-2.84ZM49.18 364.15h2.84V366h-2.84ZM52.02 361.69h2.84V366h-2.84ZM54.86 360.46h2.84V366h-2.84ZM57.7 354.93h2.84V366h-2.84ZM60.54 349.39h2.84V366h-2.84ZM63.38 343.25h2.84V366h-2.84ZM66.22 338.94h2.84V366h-2.84ZM69.06 343.25h2.84V366h-2.84ZM71.9 346.32h2.84V366h-2.84ZM74.74 353.7h2.84V366h-2.84ZM77.58 350.62h2.84V366h-2.84ZM80.42 355.55h2.84V366h-2.84ZM83.26 356.77h2.84V366h-2.84ZM86.1 356.77h2.84V366h-2.84ZM88.94 359.85h2.84V366h-2.84ZM91.78 362.93h2.84V366h-2.84ZM94.62 365.38h2.84V366h-2.84ZM97.46 364.15h2.84V366h-2.84ZM100.3 364.77h2.84V366h-2.84ZM103.14 361.69h2.84V366h-2.84ZM105.98 360.46h2.84V366h-2.84ZM108.82 358.62h2.84V366h-2.84ZM111.66 343.86h2.84V366h-2.84ZM114.5 306.96h2.84V366h-2.84ZM117.34 301.43h2.84V366h-2.84ZM120.18 245.46h2.84V366h-2.84ZM123.02 271.9h2.84V366h-2.84ZM125.86 311.26h2.84V366h-2.84ZM128.7 345.7h2.84V366h-2.84ZM131.54 355.55h2.84V366h-2.84ZM137.22 360.46h2.84V366h-2.84ZM140.06 358.62h2.84V366h-2.84ZM142.9 362.31h2.84V366h-2.84ZM148.58 359.85h2.84V366h-2.84ZM151.42 365.38h2.84V366h-2.84ZM154.26 362.31h2.84V366h-2.84ZM157.1 360.46h2.84V366h-2.84ZM159.94 356.77h2.84V366h-2.84ZM162.78 354.93h2.84V366h-2.84ZM165.62 347.55h2.84V366h-2.84ZM168.46 337.71h2.84V366h-2.84ZM171.3 334.02h2.84V366h-2.84ZM174.14 344.48h2.84V366h-2.84ZM176.98 347.55h2.84V366h-2.84ZM179.82 358.62h2.84V366h-2.84ZM182.66 359.85h2.84V366h-2.84ZM185.5 362.93h2.84V366h-2.84ZM188.34 363.54h2.84V366h-2.84ZM191.18 363.54h2.84V366h-2.84ZM194.02 365.38h2.84V366h-2.84ZM196.86 365.38h2.84V366h-2.84Z" fill="#f8c398" stroke="#b48c6c" stroke-width="0.45"/>
<polyline points="44,365.03 44.5,364.91 45,364.78 45.5,364.64 46,364.49 46.5,364.33 47,364.15 47.5,363.95 48,363.74 48.5,363.51 49,363.27 49.5,363 50,362.72 50.5,362.42 51,362.1 51.5,361.76 52,361.4 52.5,361.02 53,360.62 53.5,360.2 54,359.75 54.5,359.29 55,358.81 55.5,358.31 56,357.8 56.5,357.26 57,356.71 57.5,356.15 58,355.57 58.5,354.99 59,354.39 59.5,353.79 60,353.18 60.5,352.57 61,351.96 61.5,351.35 62,350.75 62.5,350.16 63,349.57 63.5,349 64,348.45 64.5,347.92 65,347.41 65.5,346.92 66,346.46 66.5,346.03 67,345.64 67.5,345.28 68,344.95 68.5,344.67 69,344.42 69.5,344.22 70,344.06 70.5,343.95 71,343.88 71.5,343.86 72,343.88 72.5,343.95 73,344.06 73.5,344.22 74,344.42 74.5,344.67 75,344.95 75.5,345.28 76,345.64 76.5,346.03 77,346.46 77.5,346.92 78,347.41 78.5,347.92 79,348.45 79.5,349 80,349.57 80.5,350.16 81,350.75 81.5,351.35 82,351.96 82.5,352.57 83,353.18 83.5,353.79 84,354.39 84.5,354.99 85,355.57 85.5,356.15 86,356.71 86.5,357.26 87,357.8 87.5,358.31 88,358.81 88.5,359.29 89,359.75 89.5,360.2 90,360.62 90.5,361.02 91,361.4 91.5,361.76 92,362.1 92.5,362.42 93,362.72 93.5,363 94,363.27 94.5,363.51 95,363.74 95.5,363.95 96,364.15 96.5,364.33 97,364.49 97.5,364.64 98,364.78 98.5,364.91 99,365.03 99.5,365.13 100,365.23 100.5,365.31 101,365.39 101.5,365.46 102,365.53 102.5,365.58 103,365.63 103.5,365.68 104,365.72 104.5,365.75 105,365.79 105.5,365.81 106,365.84 106.5,365.86 107,365.88 107.5,365.9 108,365.91" fill="none" stroke="#f0a030" stroke-width="0.8" stroke-dasharray="1.6 1.2"/>
<polyline points="100,365.94 100.5,365.91 101,365.87 101.5,365.83 102,365.76 102.5,365.67 103,365.56 103.5,365.41 104,365.22 104.5,364.97 105,364.65 105.5,364.24 106,363.74 106.5,363.11 107,362.34 107.5,361.4 108,360.26 108.5,358.9 109,357.29 109.5,355.4 110,353.19 110.5,350.65 111,347.75 111.5,344.47 112,340.81 112.5,336.77 113,332.34 113.5,327.54 114,322.41 114.5,317 115,311.34 115.5,305.52 116,299.6 116.5,293.69 117,287.88 117.5,282.27 118,276.97 118.5,272.08 119,267.72 119.5,263.96 120,260.91 120.5,258.62 121,257.16 121.5,256.55 122,256.81 122.5,257.93 123,259.9 123.5,262.65 124,266.14 124.5,270.27 125,274.96 125.5,280.1 126,285.6 126.5,291.35 127,297.23 127.5,303.16 128,309.03 128.5,314.76 129,320.28 129.5,325.53 130,330.46 130.5,335.04 131,339.24 131.5,343.06 132,346.49 132.5,349.53 133,352.21 133.5,354.55 134,356.57 134.5,358.29 135,359.75 135.5,360.97 136,361.99 136.5,362.82 137,363.5 137.5,364.06 138,364.5 138.5,364.85 139,365.12 139.5,365.34 140,365.5 140.5,365.63 141,365.73 141.5,365.8 142,365.86" fill="none" stroke="#ee3a4a" stroke-width="0.8" stroke-dasharray="1.6 1.2"/>
<polyline points="145,365.99 145.5,365.99 146,365.98 146.5,365.98 147,365.97 147.5,365.96 148,365.95 148.5,365.94 149,365.92 149.5,365.89 150,365.86 150.5,365.82 151,365.77 151.5,365.71 152,365.63 152.5,365.54 153,365.43 153.5,365.29 154,365.13 154.5,364.93 155,364.71 155.5,364.44 156,364.12 156.5,363.76 157,363.34 157.5,362.86 158,362.32 158.5,361.71 159,361.03 159.5,360.28 160,359.45 160.5,358.54 161,357.56 161.5,356.51 162,355.38 162.5,354.2 163,352.96 163.5,351.67 164,350.35 164.5,349.01 165,347.66 165.5,346.32 166,345.01 166.5,343.74 167,342.54 167.5,341.42 168,340.39 168.5,339.48 169,338.7 169.5,338.07 170,337.58 170.5,337.26 171,337.11 171.5,337.13 172,337.31 172.5,337.67 173,338.18 173.5,338.85 174,339.66 174.5,340.59 175,341.64 175.5,342.78 176,343.99 176.5,345.27 177,346.59 177.5,347.93 178,349.28 178.5,350.62 179,351.93 179.5,353.21 180,354.44 180.5,355.61 181,356.72 181.5,357.76 182,358.73 182.5,359.62 183,360.44 183.5,361.18 184,361.84 184.5,362.44 185,362.96 185.5,363.43 186,363.84 186.5,364.19 187,364.49 187.5,364.75 188,364.98 188.5,365.16 189,365.32 189.5,365.45 190,365.56 190.5,365.65 191,365.72 191.5,365.78 192,365.83 192.5,365.87 193,365.9 193.5,365.92 194,365.94 194.5,365.95 195,365.96 195.5,365.97 196,365.98 196.5,365.99 197,365.99 197.5,365.99 198,365.99 198.5,366 199,366 199.5,366 200,366" fill="none" stroke="#3ab8a0" stroke-width="0.8" stroke-dasharray="1.6 1.2"/>
<path d="M35.4 212.5V366.3" stroke="#e6e6e6" stroke-width="1"/>
<path d="M35.4 366.3H210.3" stroke="#e0e0e0" stroke-width="1"/>
<path d="M35.4 212.5H210.3" stroke="#c4c4c4" stroke-width="1"/>
<path d="M210.3 212.5V366.3" stroke="#b0b0b0" stroke-width="1"/>
<path d="M32.8 366H35" stroke="#a0a0a0" stroke-width="0.8"/>
<path d="M32.8 335.25H35" stroke="#a0a0a0" stroke-width="0.8"/>
<path d="M32.8 304.5H35" stroke="#a0a0a0" stroke-width="0.8"/>
<path d="M32.8 273.75H35" stroke="#a0a0a0" stroke-width="0.8"/>
<path d="M32.8 243H35" stroke="#a0a0a0" stroke-width="0.8"/>
<text x="33.5" y="308.1" font-size="10" fill="#000" text-anchor="end">100</text>
<text x="33.5" y="246.6" font-size="10" fill="#000" text-anchor="end">200</text>
<text x="26.4" y="372" font-size="10" fill="#000" text-anchor="middle">0</text>
<path d="M49.69 366V368" stroke="#a0a0a0" stroke-width="0.8"/>
<text x="49.29" y="379" font-size="10" fill="#000" text-anchor="middle">-60</text>
<path d="M73.06 366V368" stroke="#a0a0a0" stroke-width="0.8"/>
<text x="72.66" y="379" font-size="10" fill="#000" text-anchor="middle">-40</text>
<path d="M96.43 366V368" stroke="#a0a0a0" stroke-width="0.8"/>
<text x="96.03" y="379" font-size="10" fill="#000" text-anchor="middle">-20</text>
<path d="M119.8 366V368" stroke="#a0a0a0" stroke-width="0.8"/>
<text x="119.8" y="379" font-size="10" fill="#000" text-anchor="middle">0</text>
<path d="M143.17 366V368" stroke="#a0a0a0" stroke-width="0.8"/>
<text x="143.17" y="379" font-size="10" fill="#000" text-anchor="middle">20</text>
<path d="M166.54 366V368" stroke="#a0a0a0" stroke-width="0.8"/>
<text x="166.54" y="379" font-size="10" fill="#000" text-anchor="middle">40</text>
<path d="M189.91 366V368" stroke="#a0a0a0" stroke-width="0.8"/>
<text x="189.91" y="379" font-size="10" fill="#000" text-anchor="middle">60</text>
<text x="127.7" y="391.8" font-size="10" fill="#000" text-anchor="middle">Displacement (pm)</text>
<text x="15.1" y="294" font-size="10" fill="#000" text-anchor="middle" transform="rotate(-90 15.1 294)">Counts</text>
<text x="127.2" y="244.3" font-size="10.2" fill="#ff7c80" text-anchor="middle">3 ± 4 pm</text>
<text x="70.5" y="331" font-size="10.2" fill="#ffc000" text-anchor="middle">-52 ± 8 pm</text>
<text x="183.5" y="320.4" font-size="10.2" fill="#00b050" text-anchor="middle">56 ± 6 pm</text>
<path d="M157 222.6h4.6M166.2 222.6h4.6" stroke="#ffc000" stroke-width="1"/>
<path d="M157 231.6h4.6M166.2 231.6h4.6" stroke="#ff6060" stroke-width="1"/>
<path d="M157 240.6h4.6M166.2 240.6h4.6" stroke="#9ccc3c" stroke-width="1"/>
<text x="174.8" y="224.9" font-size="6.6" fill="#000">Gaussian 1</text>
<text x="174.8" y="233.9" font-size="6.6" fill="#000">Gaussian 2</text>
<text x="174.8" y="242.9" font-size="6.6" fill="#000">Gaussian 3</text>
<text x="455.5" y="214" font-size="15.5" fill="#000" font-weight="bold">f</text>
<path d="M490.1 334.4h4.75V357.6h-4.75ZM494.85 282.2h4.75V357.6h-4.75ZM499.6 250.3h4.75V357.6h-4.75ZM504.35 212.6h4.75V357.6h-4.75ZM509.1 241.6h4.75V357.6h-4.75ZM513.85 299.6h4.75V357.6h-4.75ZM518.6 293.8h4.75V357.6h-4.75ZM523.35 325.7h4.75V357.6h-4.75ZM528.1 346h4.75V357.6h-4.75ZM532.85 340.2h4.75V357.6h-4.75ZM537.6 351.8h4.75V357.6h-4.75ZM542.35 354.7h4.75V357.6h-4.75ZM556.6 354.7h4.75V357.6h-4.75ZM566.1 354.7h4.75V357.6h-4.75ZM570.85 351.8h4.75V357.6h-4.75ZM575.6 351.8h4.75V357.6h-4.75ZM580.35 354.7h4.75V357.6h-4.75ZM585.1 351.8h4.75V357.6h-4.75ZM594.6 346h4.75V357.6h-4.75ZM599.35 348.9h4.75V357.6h-4.75ZM604.1 343.1h4.75V357.6h-4.75ZM608.85 346h4.75V357.6h-4.75ZM613.6 337.3h4.75V357.6h-4.75ZM618.35 299.6h4.75V357.6h-4.75ZM623.1 290.9h4.75V357.6h-4.75ZM627.85 299.6h4.75V357.6h-4.75ZM632.6 279.3h4.75V357.6h-4.75ZM637.35 311.2h4.75V357.6h-4.75ZM642.1 285.1h4.75V357.6h-4.75ZM646.85 302.5h4.75V357.6h-4.75ZM651.6 311.2h4.75V357.6h-4.75ZM656.35 325.7h4.75V357.6h-4.75ZM661.1 343.1h4.75V357.6h-4.75ZM665.85 343.1h4.75V357.6h-4.75ZM670.6 343.1h4.75V357.6h-4.75Z" fill="#add8e6" fill-opacity="0.8" stroke="#7a9aa4" stroke-width="0.5"/>
<path d="M490.1 348.9h4.75V357.6h-4.75ZM494.85 337.3h4.75V357.6h-4.75ZM499.6 296.7h4.75V357.6h-4.75ZM504.35 328.6h4.75V357.6h-4.75ZM509.1 319.9h4.75V357.6h-4.75ZM513.85 308.3h4.75V357.6h-4.75ZM518.6 328.6h4.75V357.6h-4.75ZM523.35 334.4h4.75V357.6h-4.75ZM528.1 340.2h4.75V357.6h-4.75ZM532.85 348.9h4.75V357.6h-4.75ZM537.6 346h4.75V357.6h-4.75ZM542.35 346h4.75V357.6h-4.75ZM547.1 354.7h4.75V357.6h-4.75ZM551.85 348.9h4.75V357.6h-4.75ZM556.6 340.2h4.75V357.6h-4.75ZM561.35 346h4.75V357.6h-4.75ZM566.1 351.8h4.75V357.6h-4.75ZM570.85 351.8h4.75V357.6h-4.75ZM575.6 351.8h4.75V357.6h-4.75ZM580.35 354.7h4.75V357.6h-4.75ZM585.1 346h4.75V357.6h-4.75ZM589.85 348.9h4.75V357.6h-4.75ZM594.6 351.8h4.75V357.6h-4.75ZM599.35 343.1h4.75V357.6h-4.75ZM608.85 340.2h4.75V357.6h-4.75ZM613.6 348.9h4.75V357.6h-4.75ZM618.35 354.7h4.75V357.6h-4.75ZM623.1 351.8h4.75V357.6h-4.75ZM627.85 351.8h4.75V357.6h-4.75ZM632.6 343.1h4.75V357.6h-4.75ZM637.35 351.8h4.75V357.6h-4.75ZM642.1 351.8h4.75V357.6h-4.75ZM646.85 348.9h4.75V357.6h-4.75ZM651.6 346h4.75V357.6h-4.75ZM656.35 343.1h4.75V357.6h-4.75ZM661.1 354.7h4.75V357.6h-4.75ZM665.85 354.7h4.75V357.6h-4.75Z" fill="#ff8c8c" fill-opacity="0.62" stroke="#8a5a5a" stroke-width="0.5"/>
<path d="M489.4 205.4V357.5" stroke="#d4d4d4" stroke-width="1"/>
<path d="M489.4 357.5H680.5" stroke="#d0d0d0" stroke-width="1"/>
<path d="M489.4 205.4H680.5" stroke="#8c8c8c" stroke-width="1"/>
<path d="M680.5 205.4V357.5" stroke="#8c8c8c" stroke-width="1"/>
<path d="M487 328.6H489.3" stroke="#a0a0a0" stroke-width="0.8"/>
<text x="485.6" y="333.1" font-size="10" fill="#000" text-anchor="end">10</text>
<path d="M487 299.6H489.3" stroke="#a0a0a0" stroke-width="0.8"/>
<text x="485.6" y="304.1" font-size="10" fill="#000" text-anchor="end">20</text>
<path d="M487 270.6H489.3" stroke="#a0a0a0" stroke-width="0.8"/>
<text x="485.6" y="275.1" font-size="10" fill="#000" text-anchor="end">30</text>
<path d="M487 241.6H489.3" stroke="#a0a0a0" stroke-width="0.8"/>
<text x="485.6" y="246.1" font-size="10" fill="#000" text-anchor="end">40</text>
<path d="M487 212.6H489.3" stroke="#a0a0a0" stroke-width="0.8"/>
<text x="485.6" y="217.1" font-size="10" fill="#000" text-anchor="end">50</text>
<text x="481.3" y="367" font-size="10" fill="#000" text-anchor="middle">0</text>
<path d="M537.6 357.6V359.4" stroke="#a0a0a0" stroke-width="0.8"/>
<text x="537.6" y="370.8" font-size="10" fill="#000" text-anchor="middle">20</text>
<path d="M585.1 357.6V359.4" stroke="#a0a0a0" stroke-width="0.8"/>
<text x="585.1" y="370.8" font-size="10" fill="#000" text-anchor="middle">40</text>
<path d="M632.6 357.6V359.4" stroke="#a0a0a0" stroke-width="0.8"/>
<text x="632.6" y="370.8" font-size="10" fill="#000" text-anchor="middle">60</text>
<path d="M680.1 357.6V359.4" stroke="#a0a0a0" stroke-width="0.8"/>
<text x="680.1" y="370.8" font-size="10" fill="#000" text-anchor="middle">80</text>
<text x="588.9" y="381.3" font-size="10" fill="#000" text-anchor="middle">Displacement (pm)</text>
<text x="470" y="286.5" font-size="10" fill="#000" text-anchor="middle" transform="rotate(-90 470 286.5)">Counts</text>
<rect x="623.8" y="213.3" width="19" height="7" fill="#bde3ec" stroke="#6a8a94" stroke-width="0.6"/>
<rect x="623.8" y="227.5" width="19" height="7" fill="#ffb0b0" stroke="#8a5a5a" stroke-width="0.6"/>
<text x="647.6" y="220" font-size="8.8" fill="#000">center</text>
<text x="650.4" y="235" font-size="8.8" fill="#000">edge</text>
<path d="M557.3 321.9H560.1V330.2H562.2L558.7 335.9L555.2 330.2H557.3Z" fill="#ff6a6a"/>
<text x="227.5" y="216" font-size="15.5" fill="#000" font-weight="bold">d</text>
<g filter="url(#bl)">
<rect x="250.6" y="309.7" width="3.7" height="3.7" fill="#e9f3f8"/>
<rect x="250.6" y="314.5" width="3.7" height="3.7" fill="#d9e7f1"/>
<rect x="250.6" y="319.3" width="3.7" height="3.7" fill="#e8f1f7"/>
<rect x="250.6" y="324.2" width="3.7" height="3.7" fill="#f1f8fb"/>
<rect x="250.6" y="329" width="3.7" height="3.7" fill="#e4eff6"/>
<rect x="255.3" y="304.9" width="3.7" height="3.7" fill="#b2cae1"/>
<rect x="255.3" y="309.7" width="3.7" height="3.7" fill="#a4c0dc"/>
<rect x="255.3" y="314.5" width="3.7" height="3.7" fill="#b2cae1"/>
<rect x="255.3" y="319.3" width="3.7" height="3.7" fill="#8f9dca"/>
<rect x="255.3" y="324.2" width="3.7" height="3.7" fill="#93a6ce"/>
<rect x="255.3" y="329" width="3.7" height="3.7" fill="#b6cce3"/>
<rect x="255.3" y="333.8" width="3.7" height="3.7" fill="#8c8fc3"/>
<rect x="260.1" y="295.2" width="3.7" height="3.7" fill="#d8e6f0"/>
<rect x="260.1" y="300" width="3.7" height="3.7" fill="#e5eff6"/>
<rect x="260.1" y="304.9" width="3.7" height="3.7" fill="#f7fcfd"/>
<rect x="260.1" y="309.7" width="3.7" height="3.7" fill="#f5fbfc"/>
<rect x="260.1" y="314.5" width="3.7" height="3.7" fill="#b7cde3"/>
<rect x="260.1" y="319.3" width="3.7" height="3.7" fill="#eaf3f8"/>
<rect x="260.1" y="324.2" width="3.7" height="3.7" fill="#e7f1f7"/>
<rect x="260.1" y="329" width="3.7" height="3.7" fill="#e8f2f7"/>
<rect x="260.1" y="333.8" width="3.7" height="3.7" fill="#e9f2f8"/>
<rect x="260.1" y="338.7" width="3.7" height="3.7" fill="#d6e5f0"/>
<rect x="260.1" y="343.5" width="3.7" height="3.7" fill="#ddeaf3"/>
<rect x="264.9" y="295.2" width="3.7" height="3.7" fill="#8c90c3"/>
<rect x="264.9" y="300" width="3.7" height="3.7" fill="#8d98c7"/>
<rect x="264.9" y="304.9" width="3.7" height="3.7" fill="#8c93c4"/>
<rect x="264.9" y="309.7" width="3.7" height="3.7" fill="#92a4cd"/>
<rect x="264.9" y="314.5" width="3.7" height="3.7" fill="#8c6ab0"/>
<rect x="264.9" y="319.3" width="3.7" height="3.7" fill="#8c89c0"/>
<rect x="264.9" y="324.2" width="3.7" height="3.7" fill="#8b63ad"/>
<rect x="264.9" y="329" width="3.7" height="3.7" fill="#8c8ac0"/>
<rect x="264.9" y="333.8" width="3.7" height="3.7" fill="#8a5aa9"/>
<rect x="264.9" y="338.7" width="3.7" height="3.7" fill="#8b63ad"/>
<rect x="269.8" y="285.5" width="3.7" height="3.7" fill="#f7fcfd"/>
<rect x="269.8" y="290.4" width="3.7" height="3.7" fill="#dae7f1"/>
<rect x="269.8" y="295.2" width="3.7" height="3.7" fill="#d7e5f0"/>
<rect x="269.8" y="300" width="3.7" height="3.7" fill="#f5fafc"/>
<rect x="269.8" y="304.9" width="3.7" height="3.7" fill="#e0ecf4"/>
<rect x="269.8" y="309.7" width="3.7" height="3.7" fill="#f4fafc"/>
<rect x="269.8" y="314.5" width="3.7" height="3.7" fill="#d8e6f0"/>
<rect x="269.8" y="319.3" width="3.7" height="3.7" fill="#f3fafc"/>
<rect x="269.8" y="324.2" width="3.7" height="3.7" fill="#a7c3dd"/>
<rect x="269.8" y="329" width="3.7" height="3.7" fill="#f2f8fb"/>
<rect x="269.8" y="333.8" width="3.7" height="3.7" fill="#eaf3f8"/>
<rect x="269.8" y="338.7" width="3.7" height="3.7" fill="#e1edf4"/>
<rect x="269.8" y="343.5" width="3.7" height="3.7" fill="#e4eff5"/>
<rect x="269.8" y="348.3" width="3.7" height="3.7" fill="#eaf3f8"/>
<rect x="269.8" y="353.2" width="3.7" height="3.7" fill="#eff6fa"/>
<rect x="274.6" y="280.7" width="3.7" height="3.7" fill="#6e096a"/>
<rect x="274.6" y="285.5" width="3.7" height="3.7" fill="#8a57a8"/>
<rect x="274.6" y="290.4" width="3.7" height="3.7" fill="#650762"/>
<rect x="274.6" y="295.2" width="3.7" height="3.7" fill="#8c66af"/>
<rect x="274.6" y="300" width="3.7" height="3.7" fill="#8a57a7"/>
<rect x="274.6" y="304.9" width="3.7" height="3.7" fill="#730b6f"/>
<rect x="274.6" y="309.7" width="3.7" height="3.7" fill="#894ca2"/>
<rect x="274.6" y="314.5" width="3.7" height="3.7" fill="#8c67af"/>
<rect x="274.6" y="319.3" width="3.7" height="3.7" fill="#8a53a5"/>
<rect x="274.6" y="324.2" width="3.7" height="3.7" fill="#88419d"/>
<rect x="274.6" y="329" width="3.7" height="3.7" fill="#540251"/>
<rect x="274.6" y="333.8" width="3.7" height="3.7" fill="#842188"/>
<rect x="274.6" y="338.7" width="3.7" height="3.7" fill="#8a5ba9"/>
<rect x="274.6" y="343.5" width="3.7" height="3.7" fill="#9ebcda"/>
<rect x="274.6" y="348.3" width="3.7" height="3.7" fill="#a2bedb"/>
<rect x="279.3" y="266.2" width="3.7" height="3.7" fill="#d8e6f1"/>
<rect x="279.3" y="271" width="3.7" height="3.7" fill="#e5eff6"/>
<rect x="279.3" y="275.9" width="3.7" height="3.7" fill="#a0bddb"/>
<rect x="279.3" y="280.7" width="3.7" height="3.7" fill="#f0f7fa"/>
<rect x="279.3" y="285.5" width="3.7" height="3.7" fill="#eff7fa"/>
<rect x="279.3" y="290.4" width="3.7" height="3.7" fill="#e5f0f6"/>
<rect x="279.3" y="295.2" width="3.7" height="3.7" fill="#f2f8fb"/>
<rect x="279.3" y="300" width="3.7" height="3.7" fill="#f5fbfc"/>
<rect x="279.3" y="304.9" width="3.7" height="3.7" fill="#e6f0f6"/>
<rect x="279.3" y="309.7" width="3.7" height="3.7" fill="#e5eff6"/>
<rect x="279.3" y="314.5" width="3.7" height="3.7" fill="#dae7f1"/>
<rect x="279.3" y="319.3" width="3.7" height="3.7" fill="#f7fcfd"/>
<rect x="279.3" y="324.2" width="3.7" height="3.7" fill="#c4d7e8"/>
<rect x="279.3" y="329" width="3.7" height="3.7" fill="#ecf4f9"/>
<rect x="279.3" y="333.8" width="3.7" height="3.7" fill="#f3f9fb"/>
<rect x="279.3" y="338.7" width="3.7" height="3.7" fill="#dbe8f2"/>
<rect x="279.3" y="343.5" width="3.7" height="3.7" fill="#e3eef5"/>
<rect x="279.3" y="348.3" width="3.7" height="3.7" fill="#e6f0f6"/>
<rect x="279.3" y="353.2" width="3.7" height="3.7" fill="#a2bfdc"/>
<rect x="279.3" y="358" width="3.7" height="3.7" fill="#e3eef5"/>
<rect x="284.1" y="261.4" width="3.7" height="3.7" fill="#821781"/>
<rect x="284.1" y="266.2" width="3.7" height="3.7" fill="#8949a1"/>
<rect x="284.1" y="271" width="3.7" height="3.7" fill="#8c69b0"/>
<rect x="284.1" y="275.9" width="3.7" height="3.7" fill="#790d74"/>
<rect x="284.1" y="280.7" width="3.7" height="3.7" fill="#790d74"/>
<rect x="284.1" y="285.5" width="3.7" height="3.7" fill="#6f0a6b"/>
<rect x="284.1" y="290.4" width="3.7" height="3.7" fill="#88449e"/>
<rect x="284.1" y="295.2" width="3.7" height="3.7" fill="#5e055b"/>
<rect x="284.1" y="300" width="3.7" height="3.7" fill="#873a99"/>
<rect x="284.1" y="304.9" width="3.7" height="3.7" fill="#640760"/>
<rect x="284.1" y="309.7" width="3.7" height="3.7" fill="#821983"/>
<rect x="284.1" y="314.5" width="3.7" height="3.7" fill="#832087"/>
<rect x="284.1" y="319.3" width="3.7" height="3.7" fill="#8c69b0"/>
<rect x="284.1" y="324.2" width="3.7" height="3.7" fill="#4e004c"/>
<rect x="284.1" y="329" width="3.7" height="3.7" fill="#7a0d76"/>
<rect x="284.1" y="333.8" width="3.7" height="3.7" fill="#790d75"/>
<rect x="284.1" y="338.7" width="3.7" height="3.7" fill="#873796"/>
<rect x="284.1" y="343.5" width="3.7" height="3.7" fill="#8c68b0"/>
<rect x="284.1" y="348.3" width="3.7" height="3.7" fill="#8c70b3"/>
<rect x="284.1" y="353.2" width="3.7" height="3.7" fill="#863092"/>
<rect x="284.1" y="358" width="3.7" height="3.7" fill="#94a7cf"/>
<rect x="288.9" y="256.6" width="3.7" height="3.7" fill="#bed3e6"/>
<rect x="288.9" y="261.4" width="3.7" height="3.7" fill="#e3eef5"/>
<rect x="288.9" y="266.2" width="3.7" height="3.7" fill="#f2f8fb"/>
<rect x="288.9" y="271" width="3.7" height="3.7" fill="#e3eef5"/>
<rect x="288.9" y="275.9" width="3.7" height="3.7" fill="#dbe8f2"/>
<rect x="288.9" y="280.7" width="3.7" height="3.7" fill="#e3eef5"/>
<rect x="288.9" y="285.5" width="3.7" height="3.7" fill="#eaf3f8"/>
<rect x="288.9" y="290.4" width="3.7" height="3.7" fill="#dae7f1"/>
<rect x="288.9" y="295.2" width="3.7" height="3.7" fill="#ecf4f9"/>
<rect x="288.9" y="300" width="3.7" height="3.7" fill="#eef5f9"/>
<rect x="288.9" y="304.9" width="3.7" height="3.7" fill="#e8f2f7"/>
<rect x="288.9" y="309.7" width="3.7" height="3.7" fill="#dde9f3"/>
<rect x="288.9" y="314.5" width="3.7" height="3.7" fill="#d8e6f1"/>
<rect x="288.9" y="319.3" width="3.7" height="3.7" fill="#f2f8fb"/>
<rect x="288.9" y="324.2" width="3.7" height="3.7" fill="#eff6fa"/>
<rect x="288.9" y="329" width="3.7" height="3.7" fill="#ebf3f8"/>
<rect x="288.9" y="333.8" width="3.7" height="3.7" fill="#e8f2f7"/>
<rect x="288.9" y="338.7" width="3.7" height="3.7" fill="#ddeaf3"/>
<rect x="288.9" y="343.5" width="3.7" height="3.7" fill="#cbdceb"/>
<rect x="288.9" y="348.3" width="3.7" height="3.7" fill="#abc5df"/>
<rect x="288.9" y="353.2" width="3.7" height="3.7" fill="#e6f0f6"/>
<rect x="288.9" y="358" width="3.7" height="3.7" fill="#bacfe4"/>
<rect x="293.8" y="251.7" width="3.7" height="3.7" fill="#a5c1dd"/>
<rect x="293.8" y="256.6" width="3.7" height="3.7" fill="#8c6db2"/>
<rect x="293.8" y="261.4" width="3.7" height="3.7" fill="#863695"/>
<rect x="293.8" y="266.2" width="3.7" height="3.7" fill="#82147f"/>
<rect x="293.8" y="271" width="3.7" height="3.7" fill="#540252"/>
<rect x="293.8" y="275.9" width="3.7" height="3.7" fill="#8a59a8"/>
<rect x="293.8" y="280.7" width="3.7" height="3.7" fill="#8c86be"/>
<rect x="293.8" y="285.5" width="3.7" height="3.7" fill="#7d0e78"/>
<rect x="293.8" y="290.4" width="3.7" height="3.7" fill="#894fa4"/>
<rect x="293.8" y="295.2" width="3.7" height="3.7" fill="#7f0f7a"/>
<rect x="293.8" y="300" width="3.7" height="3.7" fill="#831b84"/>
<rect x="293.8" y="304.9" width="3.7" height="3.7" fill="#883e9b"/>
<rect x="293.8" y="309.7" width="3.7" height="3.7" fill="#5d055a"/>
<rect x="293.8" y="314.5" width="3.7" height="3.7" fill="#580356"/>
<rect x="293.8" y="319.3" width="3.7" height="3.7" fill="#8b62ad"/>
<rect x="293.8" y="324.2" width="3.7" height="3.7" fill="#821983"/>
<rect x="293.8" y="329" width="3.7" height="3.7" fill="#88419d"/>
<rect x="293.8" y="333.8" width="3.7" height="3.7" fill="#61065e"/>
<rect x="293.8" y="338.7" width="3.7" height="3.7" fill="#560354"/>
<rect x="293.8" y="343.5" width="3.7" height="3.7" fill="#821580"/>
<rect x="293.8" y="348.3" width="3.7" height="3.7" fill="#7b0d77"/>
<rect x="293.8" y="353.2" width="3.7" height="3.7" fill="#821681"/>
<rect x="293.8" y="358" width="3.7" height="3.7" fill="#91a0cb"/>
<rect x="298.6" y="246.9" width="3.7" height="3.7" fill="#e7f1f7"/>
<rect x="298.6" y="251.7" width="3.7" height="3.7" fill="#edf5f9"/>
<rect x="298.6" y="256.6" width="3.7" height="3.7" fill="#dce9f2"/>
<rect x="298.6" y="261.4" width="3.7" height="3.7" fill="#f5fafc"/>
<rect x="298.6" y="266.2" width="3.7" height="3.7" fill="#e7f1f7"/>
<rect x="298.6" y="271" width="3.7" height="3.7" fill="#a7c2dd"/>
<rect x="298.6" y="275.9" width="3.7" height="3.7" fill="#f5fbfc"/>
<rect x="298.6" y="280.7" width="3.7" height="3.7" fill="#f2f8fb"/>
<rect x="298.6" y="285.5" width="3.7" height="3.7" fill="#dfebf4"/>
<rect x="298.6" y="290.4" width="3.7" height="3.7" fill="#f3f9fb"/>
<rect x="298.6" y="295.2" width="3.7" height="3.7" fill="#e1edf5"/>
<rect x="298.6" y="300" width="3.7" height="3.7" fill="#e2eef5"/>
<rect x="298.6" y="304.9" width="3.7" height="3.7" fill="#e8f2f7"/>
<rect x="298.6" y="309.7" width="3.7" height="3.7" fill="#f4fafc"/>
<rect x="298.6" y="314.5" width="3.7" height="3.7" fill="#e7f1f7"/>
<rect x="298.6" y="319.3" width="3.7" height="3.7" fill="#e1edf4"/>
<rect x="298.6" y="324.2" width="3.7" height="3.7" fill="#e7f1f7"/>
<rect x="298.6" y="329" width="3.7" height="3.7" fill="#e6f0f6"/>
<rect x="298.6" y="333.8" width="3.7" height="3.7" fill="#ecf4f9"/>
<rect x="298.6" y="338.7" width="3.7" height="3.7" fill="#dae8f2"/>
<rect x="298.6" y="343.5" width="3.7" height="3.7" fill="#dde9f3"/>
<rect x="298.6" y="348.3" width="3.7" height="3.7" fill="#e7f1f7"/>
<rect x="298.6" y="353.2" width="3.7" height="3.7" fill="#f1f8fb"/>
<rect x="298.6" y="358" width="3.7" height="3.7" fill="#e3eef5"/>
<rect x="303.3" y="242.1" width="3.7" height="3.7" fill="#520150"/>
<rect x="303.3" y="246.9" width="3.7" height="3.7" fill="#6e0a6a"/>
<rect x="303.3" y="251.7" width="3.7" height="3.7" fill="#852e91"/>
<rect x="303.3" y="256.6" width="3.7" height="3.7" fill="#8c6bb1"/>
<rect x="303.3" y="261.4" width="3.7" height="3.7" fill="#873b99"/>
<rect x="303.3" y="266.2" width="3.7" height="3.7" fill="#5a0457"/>
<rect x="303.3" y="271" width="3.7" height="3.7" fill="#863193"/>
<rect x="303.3" y="275.9" width="3.7" height="3.7" fill="#873897"/>
<rect x="303.3" y="280.7" width="3.7" height="3.7" fill="#5e055b"/>
<rect x="303.3" y="285.5" width="3.7" height="3.7" fill="#8949a1"/>
<rect x="303.3" y="290.4" width="3.7" height="3.7" fill="#831a83"/>
<rect x="303.3" y="295.2" width="3.7" height="3.7" fill="#8b62ad"/>
<rect x="303.3" y="300" width="3.7" height="3.7" fill="#8c70b4"/>
<rect x="303.3" y="304.9" width="3.7" height="3.7" fill="#8a55a6"/>
<rect x="303.3" y="309.7" width="3.7" height="3.7" fill="#8948a0"/>
<rect x="303.3" y="314.5" width="3.7" height="3.7" fill="#831a83"/>
<rect x="303.3" y="319.3" width="3.7" height="3.7" fill="#7a0d75"/>
<rect x="303.3" y="324.2" width="3.7" height="3.7" fill="#852b8f"/>
<rect x="303.3" y="329" width="3.7" height="3.7" fill="#8a59a8"/>
<rect x="303.3" y="333.8" width="3.7" height="3.7" fill="#873796"/>
<rect x="303.3" y="338.7" width="3.7" height="3.7" fill="#873b99"/>
<rect x="303.3" y="343.5" width="3.7" height="3.7" fill="#8b5eab"/>
<rect x="303.3" y="348.3" width="3.7" height="3.7" fill="#821882"/>
<rect x="303.3" y="353.2" width="3.7" height="3.7" fill="#85288d"/>
<rect x="303.3" y="358" width="3.7" height="3.7" fill="#9ab3d5"/>
<rect x="308.1" y="237.2" width="3.7" height="3.7" fill="#dae8f2"/>
<rect x="308.1" y="242.1" width="3.7" height="3.7" fill="#eef5f9"/>
<rect x="308.1" y="246.9" width="3.7" height="3.7" fill="#f0f7fa"/>
<rect x="308.1" y="251.7" width="3.7" height="3.7" fill="#dbe8f2"/>
<rect x="308.1" y="256.6" width="3.7" height="3.7" fill="#f0f7fa"/>
<rect x="308.1" y="261.4" width="3.7" height="3.7" fill="#a6c1dd"/>
<rect x="308.1" y="266.2" width="3.7" height="3.7" fill="#eaf3f8"/>
<rect x="308.1" y="271" width="3.7" height="3.7" fill="#f3f9fc"/>
<rect x="308.1" y="275.9" width="3.7" height="3.7" fill="#c3d6e8"/>
<rect x="308.1" y="280.7" width="3.7" height="3.7" fill="#e3eef5"/>
<rect x="308.1" y="285.5" width="3.7" height="3.7" fill="#d7e6f0"/>
<rect x="308.1" y="290.4" width="3.7" height="3.7" fill="#e8f1f7"/>
<rect x="308.1" y="295.2" width="3.7" height="3.7" fill="#e8f2f7"/>
<rect x="308.1" y="300" width="3.7" height="3.7" fill="#c7d9ea"/>
<rect x="308.1" y="304.9" width="3.7" height="3.7" fill="#f6fbfd"/>
<rect x="308.1" y="309.7" width="3.7" height="3.7" fill="#e8f1f7"/>
<rect x="308.1" y="314.5" width="3.7" height="3.7" fill="#f3f9fb"/>
<rect x="308.1" y="319.3" width="3.7" height="3.7" fill="#f1f8fb"/>
<rect x="308.1" y="324.2" width="3.7" height="3.7" fill="#d7e5f0"/>
<rect x="308.1" y="329" width="3.7" height="3.7" fill="#a0bedb"/>
<rect x="308.1" y="333.8" width="3.7" height="3.7" fill="#e9f2f8"/>
<rect x="308.1" y="338.7" width="3.7" height="3.7" fill="#edf5f9"/>
<rect x="308.1" y="343.5" width="3.7" height="3.7" fill="#e8f1f7"/>
<rect x="308.1" y="348.3" width="3.7" height="3.7" fill="#acc6df"/>
<rect x="308.1" y="353.2" width="3.7" height="3.7" fill="#ddeaf3"/>
<rect x="308.1" y="358" width="3.7" height="3.7" fill="#bed3e6"/>
<rect x="312.9" y="237.2" width="3.7" height="3.7" fill="#8a59a9"/>
<rect x="312.9" y="242.1" width="3.7" height="3.7" fill="#8c71b4"/>
<rect x="312.9" y="246.9" width="3.7" height="3.7" fill="#6e0a6a"/>
<rect x="312.9" y="251.7" width="3.7" height="3.7" fill="#640761"/>
<rect x="312.9" y="256.6" width="3.7" height="3.7" fill="#873c9a"/>
<rect x="312.9" y="261.4" width="3.7" height="3.7" fill="#852c8f"/>
<rect x="312.9" y="266.2" width="3.7" height="3.7" fill="#6d096a"/>
<rect x="312.9" y="271" width="3.7" height="3.7" fill="#5c0459"/>
<rect x="312.9" y="275.9" width="3.7" height="3.7" fill="#720b6e"/>
<rect x="312.9" y="280.7" width="3.7" height="3.7" fill="#873c9a"/>
<rect x="312.9" y="285.5" width="3.7" height="3.7" fill="#61065e"/>
<rect x="312.9" y="290.4" width="3.7" height="3.7" fill="#740b6f"/>
<rect x="312.9" y="295.2" width="3.7" height="3.7" fill="#873c9a"/>
<rect x="312.9" y="300" width="3.7" height="3.7" fill="#8c6ab0"/>
<rect x="312.9" y="304.9" width="3.7" height="3.7" fill="#8c8cc1"/>
<rect x="312.9" y="309.7" width="3.7" height="3.7" fill="#821781"/>
<rect x="312.9" y="314.5" width="3.7" height="3.7" fill="#8a54a6"/>
<rect x="312.9" y="319.3" width="3.7" height="3.7" fill="#81127e"/>
<rect x="312.9" y="324.2" width="3.7" height="3.7" fill="#82137f"/>
<rect x="312.9" y="329" width="3.7" height="3.7" fill="#84288c"/>
<rect x="312.9" y="333.8" width="3.7" height="3.7" fill="#4d004b"/>
<rect x="312.9" y="338.7" width="3.7" height="3.7" fill="#7f0e7a"/>
<rect x="312.9" y="343.5" width="3.7" height="3.7" fill="#8c7fbb"/>
<rect x="312.9" y="348.3" width="3.7" height="3.7" fill="#780d74"/>
<rect x="312.9" y="353.2" width="3.7" height="3.7" fill="#8c95c5"/>
<rect x="312.9" y="358" width="3.7" height="3.7" fill="#95a8d0"/>
<rect x="317.8" y="237.2" width="3.7" height="3.7" fill="#e7f1f7"/>
<rect x="317.8" y="242.1" width="3.7" height="3.7" fill="#d8e6f0"/>
<rect x="317.8" y="246.9" width="3.7" height="3.7" fill="#d6e5f0"/>
<rect x="317.8" y="251.7" width="3.7" height="3.7" fill="#b1c9e1"/>
<rect x="317.8" y="256.6" width="3.7" height="3.7" fill="#a1bedb"/>
<rect x="317.8" y="261.4" width="3.7" height="3.7" fill="#f2f9fb"/>
<rect x="317.8" y="266.2" width="3.7" height="3.7" fill="#f2f8fb"/>
<rect x="317.8" y="271" width="3.7" height="3.7" fill="#a1bedb"/>
<rect x="317.8" y="275.9" width="3.7" height="3.7" fill="#eaf3f8"/>
<rect x="317.8" y="280.7" width="3.7" height="3.7" fill="#e5f0f6"/>
<rect x="317.8" y="285.5" width="3.7" height="3.7" fill="#eef6fa"/>
<rect x="317.8" y="290.4" width="3.7" height="3.7" fill="#e6f0f6"/>
<rect x="317.8" y="295.2" width="3.7" height="3.7" fill="#e2edf5"/>
<rect x="317.8" y="300" width="3.7" height="3.7" fill="#f7fcfd"/>
<rect x="317.8" y="304.9" width="3.7" height="3.7" fill="#f6fbfc"/>
<rect x="317.8" y="309.7" width="3.7" height="3.7" fill="#e0ecf4"/>
<rect x="317.8" y="314.5" width="3.7" height="3.7" fill="#dae8f2"/>
<rect x="317.8" y="319.3" width="3.7" height="3.7" fill="#f6fbfc"/>
<rect x="317.8" y="324.2" width="3.7" height="3.7" fill="#a2bfdc"/>
<rect x="317.8" y="329" width="3.7" height="3.7" fill="#eaf3f8"/>
<rect x="317.8" y="333.8" width="3.7" height="3.7" fill="#d7e5f0"/>
<rect x="317.8" y="338.7" width="3.7" height="3.7" fill="#e7f1f7"/>
<rect x="317.8" y="343.5" width="3.7" height="3.7" fill="#e1edf5"/>
<rect x="317.8" y="348.3" width="3.7" height="3.7" fill="#d7e5f0"/>
<rect x="317.8" y="353.2" width="3.7" height="3.7" fill="#e5eff6"/>
<rect x="317.8" y="358" width="3.7" height="3.7" fill="#d2e2ee"/>
<rect x="322.5" y="232.4" width="3.7" height="3.7" fill="#97add2"/>
<rect x="322.5" y="237.2" width="3.7" height="3.7" fill="#81127e"/>
<rect x="322.5" y="242.1" width="3.7" height="3.7" fill="#8950a4"/>
<rect x="322.5" y="246.9" width="3.7" height="3.7" fill="#873a98"/>
<rect x="322.5" y="251.7" width="3.7" height="3.7" fill="#85288d"/>
<rect x="322.5" y="256.6" width="3.7" height="3.7" fill="#550252"/>
<rect x="322.5" y="261.4" width="3.7" height="3.7" fill="#8a53a6"/>
<rect x="322.5" y="266.2" width="3.7" height="3.7" fill="#5f055c"/>
<rect x="322.5" y="271" width="3.7" height="3.7" fill="#821983"/>
<rect x="322.5" y="275.9" width="3.7" height="3.7" fill="#894fa4"/>
<rect x="322.5" y="280.7" width="3.7" height="3.7" fill="#842389"/>
<rect x="322.5" y="285.5" width="3.7" height="3.7" fill="#821882"/>
<rect x="322.5" y="290.4" width="3.7" height="3.7" fill="#8a5aa9"/>
<rect x="322.5" y="295.2" width="3.7" height="3.7" fill="#50014e"/>
<rect x="322.5" y="300" width="3.7" height="3.7" fill="#8e9bc9"/>
<rect x="322.5" y="304.9" width="3.7" height="3.7" fill="#894fa4"/>
<rect x="322.5" y="309.7" width="3.7" height="3.7" fill="#821983"/>
<rect x="322.5" y="314.5" width="3.7" height="3.7" fill="#84268b"/>
<rect x="322.5" y="319.3" width="3.7" height="3.7" fill="#8c68af"/>
<rect x="322.5" y="324.2" width="3.7" height="3.7" fill="#84258a"/>
<rect x="322.5" y="329" width="3.7" height="3.7" fill="#88419d"/>
<rect x="322.5" y="333.8" width="3.7" height="3.7" fill="#8a57a8"/>
<rect x="322.5" y="338.7" width="3.7" height="3.7" fill="#770c73"/>
<rect x="322.5" y="343.5" width="3.7" height="3.7" fill="#8c69b0"/>
<rect x="322.5" y="348.3" width="3.7" height="3.7" fill="#6d0969"/>
<rect x="327.3" y="222.8" width="3.7" height="3.7" fill="#f1f8fb"/>
<rect x="327.3" y="227.6" width="3.7" height="3.7" fill="#eff7fa"/>
<rect x="327.3" y="232.4" width="3.7" height="3.7" fill="#ecf4f9"/>
<rect x="327.3" y="237.2" width="3.7" height="3.7" fill="#d7e5f0"/>
<rect x="327.3" y="242.1" width="3.7" height="3.7" fill="#e7f1f7"/>
<rect x="327.3" y="246.9" width="3.7" height="3.7" fill="#d9e7f1"/>
<rect x="327.3" y="251.7" width="3.7" height="3.7" fill="#a4c0dc"/>
<rect x="327.3" y="256.6" width="3.7" height="3.7" fill="#b2cae1"/>
<rect x="327.3" y="261.4" width="3.7" height="3.7" fill="#e9f2f7"/>
<rect x="327.3" y="266.2" width="3.7" height="3.7" fill="#eef6fa"/>
<rect x="327.3" y="271" width="3.7" height="3.7" fill="#f5fafc"/>
<rect x="327.3" y="275.9" width="3.7" height="3.7" fill="#bed2e6"/>
<rect x="327.3" y="280.7" width="3.7" height="3.7" fill="#e1edf5"/>
<rect x="327.3" y="285.5" width="3.7" height="3.7" fill="#eff6fa"/>
<rect x="327.3" y="290.4" width="3.7" height="3.7" fill="#ecf5f9"/>
<rect x="327.3" y="295.2" width="3.7" height="3.7" fill="#ecf4f9"/>
<rect x="327.3" y="300" width="3.7" height="3.7" fill="#e2edf5"/>
<rect x="327.3" y="304.9" width="3.7" height="3.7" fill="#dae7f1"/>
<rect x="327.3" y="309.7" width="3.7" height="3.7" fill="#dae7f1"/>
<rect x="327.3" y="314.5" width="3.7" height="3.7" fill="#dfebf3"/>
<rect x="327.3" y="319.3" width="3.7" height="3.7" fill="#eef5f9"/>
<rect x="327.3" y="324.2" width="3.7" height="3.7" fill="#d9e7f1"/>
<rect x="327.3" y="329" width="3.7" height="3.7" fill="#f0f7fa"/>
<rect x="327.3" y="333.8" width="3.7" height="3.7" fill="#ecf4f9"/>
<rect x="327.3" y="338.7" width="3.7" height="3.7" fill="#ebf4f8"/>
<rect x="327.3" y="343.5" width="3.7" height="3.7" fill="#f1f8fb"/>
<rect x="327.3" y="348.3" width="3.7" height="3.7" fill="#dfebf3"/>
<rect x="332.1" y="222.8" width="3.7" height="3.7" fill="#8c95c6"/>
<rect x="332.1" y="227.6" width="3.7" height="3.7" fill="#61065e"/>
<rect x="332.1" y="232.4" width="3.7" height="3.7" fill="#8c71b4"/>
<rect x="332.1" y="237.2" width="3.7" height="3.7" fill="#84268b"/>
<rect x="332.1" y="242.1" width="3.7" height="3.7" fill="#530250"/>
<rect x="332.1" y="246.9" width="3.7" height="3.7" fill="#6e096a"/>
<rect x="332.1" y="251.7" width="3.7" height="3.7" fill="#84268b"/>
<rect x="332.1" y="256.6" width="3.7" height="3.7" fill="#8c68b0"/>
<rect x="332.1" y="261.4" width="3.7" height="3.7" fill="#790d74"/>
<rect x="332.1" y="266.2" width="3.7" height="3.7" fill="#8c68b0"/>
<rect x="332.1" y="271" width="3.7" height="3.7" fill="#8b60ac"/>
<rect x="332.1" y="275.9" width="3.7" height="3.7" fill="#821580"/>
<rect x="332.1" y="280.7" width="3.7" height="3.7" fill="#8a56a7"/>
<rect x="332.1" y="285.5" width="3.7" height="3.7" fill="#852a8e"/>
<rect x="332.1" y="290.4" width="3.7" height="3.7" fill="#883e9b"/>
<rect x="332.1" y="295.2" width="3.7" height="3.7" fill="#520250"/>
<rect x="332.1" y="300" width="3.7" height="3.7" fill="#852e90"/>
<rect x="332.1" y="304.9" width="3.7" height="3.7" fill="#7b0d77"/>
<rect x="332.1" y="309.7" width="3.7" height="3.7" fill="#5b0458"/>
<rect x="332.1" y="314.5" width="3.7" height="3.7" fill="#6a0866"/>
<rect x="332.1" y="319.3" width="3.7" height="3.7" fill="#650762"/>
<rect x="332.1" y="324.2" width="3.7" height="3.7" fill="#690865"/>
<rect x="332.1" y="329" width="3.7" height="3.7" fill="#540252"/>
<rect x="332.1" y="333.8" width="3.7" height="3.7" fill="#85298d"/>
<rect x="332.1" y="338.7" width="3.7" height="3.7" fill="#6e096a"/>
<rect x="332.1" y="343.5" width="3.7" height="3.7" fill="#873a98"/>
<rect x="336.9" y="222.8" width="3.7" height="3.7" fill="#d6e5f0"/>
<rect x="336.9" y="227.6" width="3.7" height="3.7" fill="#f2f9fb"/>
<rect x="336.9" y="232.4" width="3.7" height="3.7" fill="#eaf3f8"/>
<rect x="336.9" y="237.2" width="3.7" height="3.7" fill="#bed2e6"/>
<rect x="336.9" y="242.1" width="3.7" height="3.7" fill="#f4fafc"/>
<rect x="336.9" y="246.9" width="3.7" height="3.7" fill="#e0ecf4"/>
<rect x="336.9" y="251.7" width="3.7" height="3.7" fill="#f5fbfc"/>
<rect x="336.9" y="256.6" width="3.7" height="3.7" fill="#e6f0f6"/>
<rect x="336.9" y="261.4" width="3.7" height="3.7" fill="#f6fbfd"/>
<rect x="336.9" y="266.2" width="3.7" height="3.7" fill="#f1f8fb"/>
<rect x="336.9" y="271" width="3.7" height="3.7" fill="#f0f7fa"/>
<rect x="336.9" y="275.9" width="3.7" height="3.7" fill="#e5f0f6"/>
<rect x="336.9" y="280.7" width="3.7" height="3.7" fill="#f1f8fb"/>
<rect x="336.9" y="285.5" width="3.7" height="3.7" fill="#f2f8fb"/>
<rect x="336.9" y="290.4" width="3.7" height="3.7" fill="#eef6f9"/>
<rect x="336.9" y="295.2" width="3.7" height="3.7" fill="#deeaf3"/>
<rect x="336.9" y="300" width="3.7" height="3.7" fill="#eff7fa"/>
<rect x="336.9" y="304.9" width="3.7" height="3.7" fill="#dae7f1"/>
<rect x="336.9" y="309.7" width="3.7" height="3.7" fill="#e7f1f7"/>
<rect x="336.9" y="314.5" width="3.7" height="3.7" fill="#e9f2f7"/>
<rect x="336.9" y="319.3" width="3.7" height="3.7" fill="#f6fbfc"/>
<rect x="336.9" y="324.2" width="3.7" height="3.7" fill="#dfebf3"/>
<rect x="336.9" y="329" width="3.7" height="3.7" fill="#e7f1f7"/>
<rect x="336.9" y="333.8" width="3.7" height="3.7" fill="#eff6fa"/>
<rect x="336.9" y="338.7" width="3.7" height="3.7" fill="#e3eef5"/>
<rect x="336.9" y="343.5" width="3.7" height="3.7" fill="#f7fcfd"/>
<rect x="341.8" y="222.8" width="3.7" height="3.7" fill="#88419d"/>
<rect x="341.8" y="227.6" width="3.7" height="3.7" fill="#831c85"/>
<rect x="341.8" y="232.4" width="3.7" height="3.7" fill="#8b5eab"/>
<rect x="341.8" y="237.2" width="3.7" height="3.7" fill="#8951a4"/>
<rect x="341.8" y="242.1" width="3.7" height="3.7" fill="#852a8e"/>
<rect x="341.8" y="246.9" width="3.7" height="3.7" fill="#4e004c"/>
<rect x="341.8" y="251.7" width="3.7" height="3.7" fill="#84278c"/>
<rect x="341.8" y="256.6" width="3.7" height="3.7" fill="#8c74b6"/>
<rect x="341.8" y="261.4" width="3.7" height="3.7" fill="#670763"/>
<rect x="341.8" y="266.2" width="3.7" height="3.7" fill="#8c68b0"/>
<rect x="341.8" y="271" width="3.7" height="3.7" fill="#7c0e77"/>
<rect x="341.8" y="275.9" width="3.7" height="3.7" fill="#863092"/>
<rect x="341.8" y="280.7" width="3.7" height="3.7" fill="#540252"/>
<rect x="341.8" y="285.5" width="3.7" height="3.7" fill="#650761"/>
<rect x="341.8" y="290.4" width="3.7" height="3.7" fill="#700a6c"/>
<rect x="341.8" y="295.2" width="3.7" height="3.7" fill="#5b0458"/>
<rect x="341.8" y="300" width="3.7" height="3.7" fill="#6a0866"/>
<rect x="341.8" y="304.9" width="3.7" height="3.7" fill="#84268b"/>
<rect x="341.8" y="309.7" width="3.7" height="3.7" fill="#8b5eab"/>
<rect x="341.8" y="314.5" width="3.7" height="3.7" fill="#894aa1"/>
<rect x="341.8" y="319.3" width="3.7" height="3.7" fill="#8c69b0"/>
<rect x="341.8" y="324.2" width="3.7" height="3.7" fill="#863293"/>
<rect x="341.8" y="329" width="3.7" height="3.7" fill="#88439e"/>
<rect x="341.8" y="333.8" width="3.7" height="3.7" fill="#8b65ae"/>
<rect x="341.8" y="338.7" width="3.7" height="3.7" fill="#863394"/>
<rect x="346.5" y="222.8" width="3.7" height="3.7" fill="#bbd0e4"/>
<rect x="346.5" y="227.6" width="3.7" height="3.7" fill="#e2edf5"/>
<rect x="346.5" y="232.4" width="3.7" height="3.7" fill="#e6f0f6"/>
<rect x="346.5" y="237.2" width="3.7" height="3.7" fill="#f7fcfd"/>
<rect x="346.5" y="242.1" width="3.7" height="3.7" fill="#dfebf3"/>
<rect x="346.5" y="246.9" width="3.7" height="3.7" fill="#e5eff6"/>
<rect x="346.5" y="251.7" width="3.7" height="3.7" fill="#ecf4f9"/>
<rect x="346.5" y="256.6" width="3.7" height="3.7" fill="#eef6fa"/>
<rect x="346.5" y="261.4" width="3.7" height="3.7" fill="#ebf4f8"/>
<rect x="346.5" y="266.2" width="3.7" height="3.7" fill="#eff7fa"/>
<rect x="346.5" y="271" width="3.7" height="3.7" fill="#e1edf4"/>
<rect x="346.5" y="275.9" width="3.7" height="3.7" fill="#d8e6f1"/>
<rect x="346.5" y="280.7" width="3.7" height="3.7" fill="#e1edf5"/>
<rect x="346.5" y="285.5" width="3.7" height="3.7" fill="#c6d8e9"/>
<rect x="346.5" y="290.4" width="3.7" height="3.7" fill="#f4fafc"/>
<rect x="346.5" y="295.2" width="3.7" height="3.7" fill="#e2edf5"/>
<rect x="346.5" y="300" width="3.7" height="3.7" fill="#ebf4f8"/>
<rect x="346.5" y="304.9" width="3.7" height="3.7" fill="#c2d5e7"/>
<rect x="346.5" y="309.7" width="3.7" height="3.7" fill="#f2f9fb"/>
<rect x="346.5" y="314.5" width="3.7" height="3.7" fill="#a2bfdb"/>
<rect x="346.5" y="319.3" width="3.7" height="3.7" fill="#eaf3f8"/>
<rect x="346.5" y="324.2" width="3.7" height="3.7" fill="#e4eff5"/>
<rect x="346.5" y="329" width="3.7" height="3.7" fill="#deeaf3"/>
<rect x="346.5" y="333.8" width="3.7" height="3.7" fill="#edf5f9"/>
<rect x="346.5" y="338.7" width="3.7" height="3.7" fill="#f7fcfd"/>
<rect x="351.3" y="227.6" width="3.7" height="3.7" fill="#7f0e7a"/>
<rect x="351.3" y="232.4" width="3.7" height="3.7" fill="#82137f"/>
<rect x="351.3" y="237.2" width="3.7" height="3.7" fill="#8c71b4"/>
<rect x="351.3" y="242.1" width="3.7" height="3.7" fill="#88459f"/>
<rect x="351.3" y="246.9" width="3.7" height="3.7" fill="#8b65ae"/>
<rect x="351.3" y="251.7" width="3.7" height="3.7" fill="#852c8f"/>
<rect x="351.3" y="256.6" width="3.7" height="3.7" fill="#6a0866"/>
<rect x="351.3" y="261.4" width="3.7" height="3.7" fill="#8b5eab"/>
<rect x="351.3" y="266.2" width="3.7" height="3.7" fill="#5d055a"/>
<rect x="351.3" y="271" width="3.7" height="3.7" fill="#88449e"/>
<rect x="351.3" y="275.9" width="3.7" height="3.7" fill="#8b60ac"/>
<rect x="351.3" y="280.7" width="3.7" height="3.7" fill="#4f014d"/>
<rect x="351.3" y="285.5" width="3.7" height="3.7" fill="#7c0e78"/>
<rect x="351.3" y="290.4" width="3.7" height="3.7" fill="#8a59a8"/>
<rect x="351.3" y="295.2" width="3.7" height="3.7" fill="#821982"/>
<rect x="351.3" y="300" width="3.7" height="3.7" fill="#8c68b0"/>
<rect x="351.3" y="304.9" width="3.7" height="3.7" fill="#832188"/>
<rect x="351.3" y="309.7" width="3.7" height="3.7" fill="#8947a0"/>
<rect x="351.3" y="314.5" width="3.7" height="3.7" fill="#88439e"/>
<rect x="351.3" y="319.3" width="3.7" height="3.7" fill="#8b63ad"/>
<rect x="351.3" y="324.2" width="3.7" height="3.7" fill="#8b61ac"/>
<rect x="351.3" y="329" width="3.7" height="3.7" fill="#84268b"/>
<rect x="351.3" y="333.8" width="3.7" height="3.7" fill="#842389"/>
<rect x="356.1" y="222.8" width="3.7" height="3.7" fill="#d6e5f0"/>
<rect x="356.1" y="227.6" width="3.7" height="3.7" fill="#e5eff6"/>
<rect x="356.1" y="232.4" width="3.7" height="3.7" fill="#deeaf3"/>
<rect x="356.1" y="237.2" width="3.7" height="3.7" fill="#dbe8f2"/>
<rect x="356.1" y="242.1" width="3.7" height="3.7" fill="#e6f0f6"/>
<rect x="356.1" y="246.9" width="3.7" height="3.7" fill="#f1f8fb"/>
<rect x="356.1" y="251.7" width="3.7" height="3.7" fill="#c4d7e8"/>
<rect x="356.1" y="256.6" width="3.7" height="3.7" fill="#d7e5f0"/>
<rect x="356.1" y="261.4" width="3.7" height="3.7" fill="#e3eef5"/>
<rect x="356.1" y="266.2" width="3.7" height="3.7" fill="#e3eef5"/>
<rect x="356.1" y="271" width="3.7" height="3.7" fill="#ecf4f9"/>
<rect x="356.1" y="275.9" width="3.7" height="3.7" fill="#c3d6e8"/>
<rect x="356.1" y="280.7" width="3.7" height="3.7" fill="#e9f2f8"/>
<rect x="356.1" y="285.5" width="3.7" height="3.7" fill="#ebf4f8"/>
<rect x="356.1" y="290.4" width="3.7" height="3.7" fill="#f2f8fb"/>
<rect x="356.1" y="295.2" width="3.7" height="3.7" fill="#eff7fa"/>
<rect x="356.1" y="300" width="3.7" height="3.7" fill="#edf5f9"/>
<rect x="356.1" y="304.9" width="3.7" height="3.7" fill="#f6fbfd"/>
<rect x="356.1" y="309.7" width="3.7" height="3.7" fill="#f3f9fb"/>
<rect x="356.1" y="314.5" width="3.7" height="3.7" fill="#e5f0f6"/>
<rect x="356.1" y="319.3" width="3.7" height="3.7" fill="#ebf3f8"/>
<rect x="356.1" y="324.2" width="3.7" height="3.7" fill="#e2eef5"/>
<rect x="356.1" y="329" width="3.7" height="3.7" fill="#e1ecf4"/>
<rect x="356.1" y="333.8" width="3.7" height="3.7" fill="#d6e5f0"/>
<rect x="360.9" y="222.8" width="3.7" height="3.7" fill="#650762"/>
<rect x="360.9" y="227.6" width="3.7" height="3.7" fill="#842289"/>
<rect x="360.9" y="232.4" width="3.7" height="3.7" fill="#85298d"/>
<rect x="360.9" y="237.2" width="3.7" height="3.7" fill="#873897"/>
<rect x="360.9" y="242.1" width="3.7" height="3.7" fill="#8c79b8"/>
<rect x="360.9" y="246.9" width="3.7" height="3.7" fill="#5e055b"/>
<rect x="360.9" y="251.7" width="3.7" height="3.7" fill="#831d86"/>
<rect x="360.9" y="256.6" width="3.7" height="3.7" fill="#894aa1"/>
<rect x="360.9" y="261.4" width="3.7" height="3.7" fill="#8c6ab1"/>
<rect x="360.9" y="266.2" width="3.7" height="3.7" fill="#863595"/>
<rect x="360.9" y="271" width="3.7" height="3.7" fill="#8c7bb9"/>
<rect x="360.9" y="275.9" width="3.7" height="3.7" fill="#85298d"/>
<rect x="360.9" y="280.7" width="3.7" height="3.7" fill="#894aa1"/>
<rect x="360.9" y="285.5" width="3.7" height="3.7" fill="#8a54a6"/>
<rect x="360.9" y="290.4" width="3.7" height="3.7" fill="#5c0459"/>
<rect x="360.9" y="295.2" width="3.7" height="3.7" fill="#81127e"/>
<rect x="360.9" y="300" width="3.7" height="3.7" fill="#873a98"/>
<rect x="360.9" y="304.9" width="3.7" height="3.7" fill="#8a56a7"/>
<rect x="360.9" y="309.7" width="3.7" height="3.7" fill="#842289"/>
<rect x="360.9" y="314.5" width="3.7" height="3.7" fill="#8c66af"/>
<rect x="360.9" y="319.3" width="3.7" height="3.7" fill="#8b63ad"/>
<rect x="360.9" y="324.2" width="3.7" height="3.7" fill="#8c92c4"/>
<rect x="360.9" y="329" width="3.7" height="3.7" fill="#8c8ac0"/>
<rect x="365.8" y="222.8" width="3.7" height="3.7" fill="#deeaf3"/>
<rect x="365.8" y="227.6" width="3.7" height="3.7" fill="#ecf5f9"/>
<rect x="365.8" y="232.4" width="3.7" height="3.7" fill="#a3bfdc"/>
<rect x="365.8" y="237.2" width="3.7" height="3.7" fill="#eef6f9"/>
<rect x="365.8" y="242.1" width="3.7" height="3.7" fill="#d9e7f1"/>
<rect x="365.8" y="246.9" width="3.7" height="3.7" fill="#e9f2f7"/>
<rect x="365.8" y="251.7" width="3.7" height="3.7" fill="#eef6fa"/>
<rect x="365.8" y="256.6" width="3.7" height="3.7" fill="#dbe8f2"/>
<rect x="365.8" y="261.4" width="3.7" height="3.7" fill="#ddeaf3"/>
<rect x="365.8" y="266.2" width="3.7" height="3.7" fill="#e9f2f7"/>
<rect x="365.8" y="271" width="3.7" height="3.7" fill="#dbe8f2"/>
<rect x="365.8" y="275.9" width="3.7" height="3.7" fill="#f1f8fb"/>
<rect x="365.8" y="280.7" width="3.7" height="3.7" fill="#f1f8fb"/>
<rect x="365.8" y="285.5" width="3.7" height="3.7" fill="#f6fbfc"/>
<rect x="365.8" y="290.4" width="3.7" height="3.7" fill="#e1edf5"/>
<rect x="365.8" y="295.2" width="3.7" height="3.7" fill="#dae8f2"/>
<rect x="365.8" y="300" width="3.7" height="3.7" fill="#e2edf5"/>
<rect x="365.8" y="304.9" width="3.7" height="3.7" fill="#e2eef5"/>
<rect x="365.8" y="309.7" width="3.7" height="3.7" fill="#c2d5e7"/>
<rect x="365.8" y="314.5" width="3.7" height="3.7" fill="#eef6f9"/>
<rect x="365.8" y="319.3" width="3.7" height="3.7" fill="#f1f8fb"/>
<rect x="365.8" y="324.2" width="3.7" height="3.7" fill="#f0f7fa"/>
<rect x="365.8" y="329" width="3.7" height="3.7" fill="#dfebf4"/>
<rect x="365.8" y="333.8" width="3.7" height="3.7" fill="#e3eef5"/>
<rect x="370.5" y="222.8" width="3.7" height="3.7" fill="#831f86"/>
<rect x="370.5" y="227.6" width="3.7" height="3.7" fill="#590456"/>
<rect x="370.5" y="232.4" width="3.7" height="3.7" fill="#894ea3"/>
<rect x="370.5" y="237.2" width="3.7" height="3.7" fill="#8c67af"/>
<rect x="370.5" y="242.1" width="3.7" height="3.7" fill="#873796"/>
<rect x="370.5" y="246.9" width="3.7" height="3.7" fill="#8c80bb"/>
<rect x="370.5" y="251.7" width="3.7" height="3.7" fill="#894da3"/>
<rect x="370.5" y="256.6" width="3.7" height="3.7" fill="#6e096a"/>
<rect x="370.5" y="261.4" width="3.7" height="3.7" fill="#894da3"/>
<rect x="370.5" y="266.2" width="3.7" height="3.7" fill="#8a52a5"/>
<rect x="370.5" y="271" width="3.7" height="3.7" fill="#84258b"/>
<rect x="370.5" y="275.9" width="3.7" height="3.7" fill="#5e055b"/>
<rect x="370.5" y="280.7" width="3.7" height="3.7" fill="#8c6fb3"/>
<rect x="370.5" y="285.5" width="3.7" height="3.7" fill="#770c72"/>
<rect x="370.5" y="290.4" width="3.7" height="3.7" fill="#590356"/>
<rect x="370.5" y="295.2" width="3.7" height="3.7" fill="#8a5ba9"/>
<rect x="370.5" y="300" width="3.7" height="3.7" fill="#821680"/>
<rect x="370.5" y="304.9" width="3.7" height="3.7" fill="#82147f"/>
<rect x="370.5" y="309.7" width="3.7" height="3.7" fill="#852a8e"/>
<rect x="370.5" y="314.5" width="3.7" height="3.7" fill="#670763"/>
<rect x="370.5" y="319.3" width="3.7" height="3.7" fill="#852a8e"/>
<rect x="370.5" y="324.2" width="3.7" height="3.7" fill="#8b5caa"/>
<rect x="370.5" y="329" width="3.7" height="3.7" fill="#97aed2"/>
<rect x="375.3" y="222.8" width="3.7" height="3.7" fill="#e0ecf4"/>
<rect x="375.3" y="227.6" width="3.7" height="3.7" fill="#dfebf4"/>
<rect x="375.3" y="232.4" width="3.7" height="3.7" fill="#e8f2f7"/>
<rect x="375.3" y="237.2" width="3.7" height="3.7" fill="#e6f0f6"/>
<rect x="375.3" y="242.1" width="3.7" height="3.7" fill="#f6fbfd"/>
<rect x="375.3" y="246.9" width="3.7" height="3.7" fill="#e2edf5"/>
<rect x="375.3" y="251.7" width="3.7" height="3.7" fill="#dce9f2"/>
<rect x="375.3" y="256.6" width="3.7" height="3.7" fill="#b5cce2"/>
<rect x="375.3" y="261.4" width="3.7" height="3.7" fill="#eaf3f8"/>
<rect x="375.3" y="266.2" width="3.7" height="3.7" fill="#eff7fa"/>
<rect x="375.3" y="271" width="3.7" height="3.7" fill="#f5fafc"/>
<rect x="375.3" y="275.9" width="3.7" height="3.7" fill="#e6f0f6"/>
<rect x="375.3" y="280.7" width="3.7" height="3.7" fill="#dfebf4"/>
<rect x="375.3" y="285.5" width="3.7" height="3.7" fill="#f3f9fb"/>
<rect x="375.3" y="290.4" width="3.7" height="3.7" fill="#f6fbfd"/>
<rect x="375.3" y="295.2" width="3.7" height="3.7" fill="#e4eff6"/>
<rect x="375.3" y="300" width="3.7" height="3.7" fill="#eff6fa"/>
<rect x="375.3" y="304.9" width="3.7" height="3.7" fill="#f4fafc"/>
<rect x="375.3" y="309.7" width="3.7" height="3.7" fill="#f2f8fb"/>
<rect x="375.3" y="314.5" width="3.7" height="3.7" fill="#f2f9fb"/>
<rect x="375.3" y="319.3" width="3.7" height="3.7" fill="#ddeaf3"/>
<rect x="375.3" y="324.2" width="3.7" height="3.7" fill="#f5fbfc"/>
<rect x="375.3" y="329" width="3.7" height="3.7" fill="#ecf4f9"/>
<rect x="380.1" y="227.6" width="3.7" height="3.7" fill="#8c85be"/>
<rect x="380.1" y="232.4" width="3.7" height="3.7" fill="#4f014d"/>
<rect x="380.1" y="237.2" width="3.7" height="3.7" fill="#863495"/>
<rect x="380.1" y="242.1" width="3.7" height="3.7" fill="#8c6eb3"/>
<rect x="380.1" y="246.9" width="3.7" height="3.7" fill="#5f055c"/>
<rect x="380.1" y="251.7" width="3.7" height="3.7" fill="#883e9b"/>
<rect x="380.1" y="256.6" width="3.7" height="3.7" fill="#873998"/>
<rect x="380.1" y="261.4" width="3.7" height="3.7" fill="#8c6fb3"/>
<rect x="380.1" y="266.2" width="3.7" height="3.7" fill="#740b70"/>
<rect x="380.1" y="271" width="3.7" height="3.7" fill="#8a55a6"/>
<rect x="380.1" y="275.9" width="3.7" height="3.7" fill="#84258a"/>
<rect x="380.1" y="280.7" width="3.7" height="3.7" fill="#863394"/>
<rect x="380.1" y="285.5" width="3.7" height="3.7" fill="#88429e"/>
<rect x="380.1" y="290.4" width="3.7" height="3.7" fill="#50014e"/>
<rect x="380.1" y="295.2" width="3.7" height="3.7" fill="#8c6eb3"/>
<rect x="380.1" y="300" width="3.7" height="3.7" fill="#8c8dc2"/>
<rect x="380.1" y="304.9" width="3.7" height="3.7" fill="#800f7b"/>
<rect x="380.1" y="309.7" width="3.7" height="3.7" fill="#831e86"/>
<rect x="380.1" y="314.5" width="3.7" height="3.7" fill="#863394"/>
<rect x="380.1" y="319.3" width="3.7" height="3.7" fill="#670864"/>
<rect x="380.1" y="324.2" width="3.7" height="3.7" fill="#710a6d"/>
<rect x="384.9" y="232.4" width="3.7" height="3.7" fill="#f2f8fb"/>
<rect x="384.9" y="237.2" width="3.7" height="3.7" fill="#f2f9fb"/>
<rect x="384.9" y="242.1" width="3.7" height="3.7" fill="#f1f8fa"/>
<rect x="384.9" y="246.9" width="3.7" height="3.7" fill="#eef6f9"/>
<rect x="384.9" y="251.7" width="3.7" height="3.7" fill="#d6e5f0"/>
<rect x="384.9" y="256.6" width="3.7" height="3.7" fill="#dce9f2"/>
<rect x="384.9" y="261.4" width="3.7" height="3.7" fill="#acc6df"/>
<rect x="384.9" y="266.2" width="3.7" height="3.7" fill="#ecf4f9"/>
<rect x="384.9" y="271" width="3.7" height="3.7" fill="#f6fcfd"/>
<rect x="384.9" y="275.9" width="3.7" height="3.7" fill="#eff7fa"/>
<rect x="384.9" y="280.7" width="3.7" height="3.7" fill="#d9e7f1"/>
<rect x="384.9" y="285.5" width="3.7" height="3.7" fill="#eff6fa"/>
<rect x="384.9" y="290.4" width="3.7" height="3.7" fill="#f2f9fb"/>
<rect x="384.9" y="295.2" width="3.7" height="3.7" fill="#ecf5f9"/>
<rect x="384.9" y="300" width="3.7" height="3.7" fill="#e1edf5"/>
<rect x="384.9" y="304.9" width="3.7" height="3.7" fill="#f6fcfd"/>
<rect x="384.9" y="309.7" width="3.7" height="3.7" fill="#a3c0dc"/>
<rect x="384.9" y="314.5" width="3.7" height="3.7" fill="#edf5f9"/>
<rect x="384.9" y="319.3" width="3.7" height="3.7" fill="#bad0e4"/>
<rect x="384.9" y="324.2" width="3.7" height="3.7" fill="#c5d8e9"/>
<rect x="389.8" y="237.2" width="3.7" height="3.7" fill="#8c8ec2"/>
<rect x="389.8" y="242.1" width="3.7" height="3.7" fill="#84268b"/>
<rect x="389.8" y="246.9" width="3.7" height="3.7" fill="#7e0e79"/>
<rect x="389.8" y="251.7" width="3.7" height="3.7" fill="#7b0d76"/>
<rect x="389.8" y="256.6" width="3.7" height="3.7" fill="#8b60ac"/>
<rect x="389.8" y="261.4" width="3.7" height="3.7" fill="#894ea3"/>
<rect x="389.8" y="266.2" width="3.7" height="3.7" fill="#873c9a"/>
<rect x="389.8" y="271" width="3.7" height="3.7" fill="#630660"/>
<rect x="389.8" y="275.9" width="3.7" height="3.7" fill="#894ca2"/>
<rect x="389.8" y="280.7" width="3.7" height="3.7" fill="#8f9cc9"/>
<rect x="389.8" y="285.5" width="3.7" height="3.7" fill="#821882"/>
<rect x="389.8" y="290.4" width="3.7" height="3.7" fill="#6d0969"/>
<rect x="389.8" y="295.2" width="3.7" height="3.7" fill="#894ba2"/>
<rect x="389.8" y="300" width="3.7" height="3.7" fill="#5a0458"/>
<rect x="389.8" y="304.9" width="3.7" height="3.7" fill="#810f7c"/>
<rect x="389.8" y="309.7" width="3.7" height="3.7" fill="#540252"/>
<rect x="389.8" y="314.5" width="3.7" height="3.7" fill="#98aed3"/>
</g>
<rect x="412.1" y="217.7" width="7.8" height="149.7" fill="url(#bupu)"/>
<path d="M412.1 217.7V367.4H421.7" fill="none" stroke="#555" stroke-width="0.8"/>
<path d="M419.9 217.7V367.4" fill="none" stroke="#aaa" stroke-width="0.5"/>
<text x="422.7" y="368.4" font-size="10" fill="#000">0</text>
<text x="422.7" y="331.88" font-size="10" fill="#000">20</text>
<text x="422.7" y="295.36" font-size="10" fill="#000">40</text>
<text x="422.7" y="258.84" font-size="10" fill="#000">60</text>
<text x="422.7" y="222.32" font-size="10" fill="#000">80</text>
<text x="444" y="286.5" font-size="10" fill="#000" text-anchor="middle" transform="rotate(-90 444 286.5)">Displacement (pm)</text>
<path d="M257.1 370V375" stroke="#4a78e0" stroke-width="1.6"/><path d="M254.5 370.8L257.1 366.2L259.7 370.8Z" fill="#4a78e0"/>
<path d="M266.4 370V375" stroke="#2ecc71" stroke-width="1.6"/><path d="M263.8 370.8L266.4 366.2L269 370.8Z" fill="#2ecc71"/>
<path d="M275.9 370V375" stroke="#ffc000" stroke-width="1.6"/><path d="M273.3 370.8L275.9 366.2L278.5 370.8Z" fill="#ffc000"/>
<path d="M285.1 370V375" stroke="#ff8c3a" stroke-width="1.6"/><path d="M282.5 370.8L285.1 366.2L287.7 370.8Z" fill="#ff8c3a"/>
<path d="M294.8 370V375" stroke="#ff6070" stroke-width="1.6"/><path d="M292.2 370.8L294.8 366.2L297.4 370.8Z" fill="#ff6070"/></svg></body></html>
